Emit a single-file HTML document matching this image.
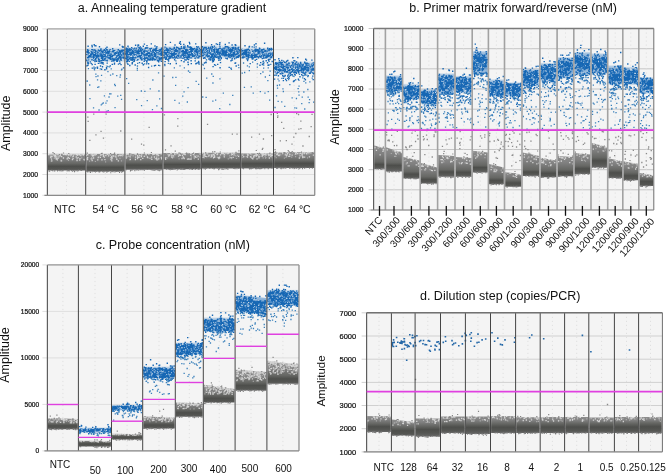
<!DOCTYPE html><html><head><meta charset="utf-8"><style>html,body{margin:0;padding:0;background:#fff;overflow:hidden}svg{display:block;font-family:"Liberation Sans",sans-serif;will-change:transform}</style></head><body><svg width="668" height="474" viewBox="0 0 668 474" font-family='"Liberation Sans", sans-serif'><defs><linearGradient id="g1" x1="0" y1="0" x2="0" y2="1"><stop offset="0.000" stop-color="#8e8e8e"/><stop offset="0.283" stop-color="#808080"/><stop offset="0.565" stop-color="#666764"/><stop offset="0.733" stop-color="#4d4e4b"/><stop offset="0.901" stop-color="#555653"/><stop offset="1.000" stop-color="#676767"/></linearGradient><linearGradient id="g2" x1="0" y1="0" x2="0" y2="1"><stop offset="0.000" stop-color="#8e8e8e"/><stop offset="0.309" stop-color="#808080"/><stop offset="0.617" stop-color="#666764"/><stop offset="0.754" stop-color="#4d4e4b"/><stop offset="0.891" stop-color="#555653"/><stop offset="1.000" stop-color="#676767"/></linearGradient><linearGradient id="g3" x1="0" y1="0" x2="0" y2="1"><stop offset="0.000" stop-color="#8e8e8e"/><stop offset="0.266" stop-color="#808080"/><stop offset="0.532" stop-color="#666764"/><stop offset="0.703" stop-color="#4d4e4b"/><stop offset="0.873" stop-color="#555653"/><stop offset="1.000" stop-color="#676767"/></linearGradient><linearGradient id="g4" x1="0" y1="0" x2="0" y2="1"><stop offset="0.000" stop-color="#8e8e8e"/><stop offset="0.272" stop-color="#808080"/><stop offset="0.543" stop-color="#666764"/><stop offset="0.710" stop-color="#4d4e4b"/><stop offset="0.877" stop-color="#555653"/><stop offset="1.000" stop-color="#676767"/></linearGradient><linearGradient id="g5" x1="0" y1="0" x2="0" y2="1"><stop offset="0.000" stop-color="#8e8e8e"/><stop offset="0.266" stop-color="#808080"/><stop offset="0.532" stop-color="#666764"/><stop offset="0.703" stop-color="#4d4e4b"/><stop offset="0.873" stop-color="#555653"/><stop offset="1.000" stop-color="#676767"/></linearGradient><linearGradient id="g6" x1="0" y1="0" x2="0" y2="1"><stop offset="0.000" stop-color="#8e8e8e"/><stop offset="0.252" stop-color="#808080"/><stop offset="0.503" stop-color="#666764"/><stop offset="0.681" stop-color="#4d4e4b"/><stop offset="0.859" stop-color="#555653"/><stop offset="1.000" stop-color="#676767"/></linearGradient><linearGradient id="g7" x1="0" y1="0" x2="0" y2="1"><stop offset="0.000" stop-color="#8e8e8e"/><stop offset="0.269" stop-color="#808080"/><stop offset="0.537" stop-color="#666764"/><stop offset="0.706" stop-color="#4d4e4b"/><stop offset="0.875" stop-color="#555653"/><stop offset="1.000" stop-color="#676767"/></linearGradient><linearGradient id="g8" x1="0" y1="0" x2="0" y2="1"><stop offset="0.000" stop-color="#1a6cbc" stop-opacity="0.0"/><stop offset="0.129" stop-color="#1a6cbc" stop-opacity="0.21"/><stop offset="0.362" stop-color="#1a6cbc" stop-opacity="0.35"/><stop offset="0.615" stop-color="#1a6cbc" stop-opacity="0.35"/><stop offset="0.871" stop-color="#1a6cbc" stop-opacity="0.21"/><stop offset="1.000" stop-color="#1a6cbc" stop-opacity="0.0"/></linearGradient><linearGradient id="g9" x1="0" y1="0" x2="0" y2="1"><stop offset="0.000" stop-color="#1a6cbc" stop-opacity="0.0"/><stop offset="0.131" stop-color="#1a6cbc" stop-opacity="0.21"/><stop offset="0.358" stop-color="#1a6cbc" stop-opacity="0.35"/><stop offset="0.610" stop-color="#1a6cbc" stop-opacity="0.35"/><stop offset="0.869" stop-color="#1a6cbc" stop-opacity="0.21"/><stop offset="1.000" stop-color="#1a6cbc" stop-opacity="0.0"/></linearGradient><linearGradient id="g10" x1="0" y1="0" x2="0" y2="1"><stop offset="0.000" stop-color="#1a6cbc" stop-opacity="0.0"/><stop offset="0.140" stop-color="#1a6cbc" stop-opacity="0.21"/><stop offset="0.373" stop-color="#1a6cbc" stop-opacity="0.35"/><stop offset="0.622" stop-color="#1a6cbc" stop-opacity="0.35"/><stop offset="0.860" stop-color="#1a6cbc" stop-opacity="0.21"/><stop offset="1.000" stop-color="#1a6cbc" stop-opacity="0.0"/></linearGradient><linearGradient id="g11" x1="0" y1="0" x2="0" y2="1"><stop offset="0.000" stop-color="#1a6cbc" stop-opacity="0.0"/><stop offset="0.138" stop-color="#1a6cbc" stop-opacity="0.21"/><stop offset="0.397" stop-color="#1a6cbc" stop-opacity="0.35"/><stop offset="0.647" stop-color="#1a6cbc" stop-opacity="0.35"/><stop offset="0.862" stop-color="#1a6cbc" stop-opacity="0.21"/><stop offset="1.000" stop-color="#1a6cbc" stop-opacity="0.0"/></linearGradient><linearGradient id="g12" x1="0" y1="0" x2="0" y2="1"><stop offset="0.000" stop-color="#1a6cbc" stop-opacity="0.0"/><stop offset="0.164" stop-color="#1a6cbc" stop-opacity="0.21"/><stop offset="0.374" stop-color="#1a6cbc" stop-opacity="0.35"/><stop offset="0.615" stop-color="#1a6cbc" stop-opacity="0.35"/><stop offset="0.836" stop-color="#1a6cbc" stop-opacity="0.21"/><stop offset="1.000" stop-color="#1a6cbc" stop-opacity="0.0"/></linearGradient><linearGradient id="g13" x1="0" y1="0" x2="0" y2="1"><stop offset="0.000" stop-color="#1a6cbc" stop-opacity="0.0"/><stop offset="0.144" stop-color="#1a6cbc" stop-opacity="0.21"/><stop offset="0.338" stop-color="#1a6cbc" stop-opacity="0.35"/><stop offset="0.586" stop-color="#1a6cbc" stop-opacity="0.35"/><stop offset="0.856" stop-color="#1a6cbc" stop-opacity="0.21"/><stop offset="1.000" stop-color="#1a6cbc" stop-opacity="0.0"/></linearGradient><linearGradient id="g14" x1="0" y1="0" x2="0" y2="1"><stop offset="0.000" stop-color="#8e8e8e"/><stop offset="0.349" stop-color="#808080"/><stop offset="0.698" stop-color="#666764"/><stop offset="0.811" stop-color="#4d4e4b"/><stop offset="0.923" stop-color="#555653"/><stop offset="1.000" stop-color="#676767"/></linearGradient><linearGradient id="g15" x1="0" y1="0" x2="0" y2="1"><stop offset="0.000" stop-color="#8e8e8e"/><stop offset="0.319" stop-color="#808080"/><stop offset="0.638" stop-color="#666764"/><stop offset="0.747" stop-color="#4d4e4b"/><stop offset="0.856" stop-color="#555653"/><stop offset="1.000" stop-color="#676767"/></linearGradient><linearGradient id="g16" x1="0" y1="0" x2="0" y2="1"><stop offset="0.000" stop-color="#8e8e8e"/><stop offset="0.336" stop-color="#808080"/><stop offset="0.673" stop-color="#666764"/><stop offset="0.795" stop-color="#4d4e4b"/><stop offset="0.917" stop-color="#555653"/><stop offset="1.000" stop-color="#676767"/></linearGradient><linearGradient id="g17" x1="0" y1="0" x2="0" y2="1"><stop offset="0.000" stop-color="#8e8e8e"/><stop offset="0.336" stop-color="#808080"/><stop offset="0.672" stop-color="#666764"/><stop offset="0.801" stop-color="#4d4e4b"/><stop offset="0.931" stop-color="#555653"/><stop offset="1.000" stop-color="#676767"/></linearGradient><linearGradient id="g18" x1="0" y1="0" x2="0" y2="1"><stop offset="0.000" stop-color="#8e8e8e"/><stop offset="0.336" stop-color="#808080"/><stop offset="0.673" stop-color="#666764"/><stop offset="0.776" stop-color="#4d4e4b"/><stop offset="0.880" stop-color="#555653"/><stop offset="1.000" stop-color="#676767"/></linearGradient><linearGradient id="g19" x1="0" y1="0" x2="0" y2="1"><stop offset="0.000" stop-color="#8e8e8e"/><stop offset="0.322" stop-color="#808080"/><stop offset="0.643" stop-color="#666764"/><stop offset="0.776" stop-color="#4d4e4b"/><stop offset="0.910" stop-color="#555653"/><stop offset="1.000" stop-color="#676767"/></linearGradient><linearGradient id="g20" x1="0" y1="0" x2="0" y2="1"><stop offset="0.000" stop-color="#8e8e8e"/><stop offset="0.336" stop-color="#808080"/><stop offset="0.673" stop-color="#666764"/><stop offset="0.774" stop-color="#4d4e4b"/><stop offset="0.876" stop-color="#555653"/><stop offset="1.000" stop-color="#676767"/></linearGradient><linearGradient id="g21" x1="0" y1="0" x2="0" y2="1"><stop offset="0.000" stop-color="#8e8e8e"/><stop offset="0.340" stop-color="#808080"/><stop offset="0.680" stop-color="#666764"/><stop offset="0.810" stop-color="#4d4e4b"/><stop offset="0.941" stop-color="#555653"/><stop offset="1.000" stop-color="#676767"/></linearGradient><linearGradient id="g22" x1="0" y1="0" x2="0" y2="1"><stop offset="0.000" stop-color="#8e8e8e"/><stop offset="0.284" stop-color="#808080"/><stop offset="0.568" stop-color="#666764"/><stop offset="0.747" stop-color="#4d4e4b"/><stop offset="0.926" stop-color="#555653"/><stop offset="1.000" stop-color="#676767"/></linearGradient><linearGradient id="g23" x1="0" y1="0" x2="0" y2="1"><stop offset="0.000" stop-color="#8e8e8e"/><stop offset="0.366" stop-color="#808080"/><stop offset="0.732" stop-color="#666764"/><stop offset="0.828" stop-color="#4d4e4b"/><stop offset="0.923" stop-color="#555653"/><stop offset="1.000" stop-color="#676767"/></linearGradient><linearGradient id="g24" x1="0" y1="0" x2="0" y2="1"><stop offset="0.000" stop-color="#8e8e8e"/><stop offset="0.328" stop-color="#808080"/><stop offset="0.656" stop-color="#666764"/><stop offset="0.795" stop-color="#4d4e4b"/><stop offset="0.933" stop-color="#555653"/><stop offset="1.000" stop-color="#676767"/></linearGradient><linearGradient id="g25" x1="0" y1="0" x2="0" y2="1"><stop offset="0.000" stop-color="#8e8e8e"/><stop offset="0.337" stop-color="#808080"/><stop offset="0.675" stop-color="#666764"/><stop offset="0.805" stop-color="#4d4e4b"/><stop offset="0.936" stop-color="#555653"/><stop offset="1.000" stop-color="#676767"/></linearGradient><linearGradient id="g26" x1="0" y1="0" x2="0" y2="1"><stop offset="0.000" stop-color="#8e8e8e"/><stop offset="0.309" stop-color="#808080"/><stop offset="0.617" stop-color="#666764"/><stop offset="0.749" stop-color="#4d4e4b"/><stop offset="0.880" stop-color="#555653"/><stop offset="1.000" stop-color="#676767"/></linearGradient><linearGradient id="g27" x1="0" y1="0" x2="0" y2="1"><stop offset="0.000" stop-color="#8e8e8e"/><stop offset="0.292" stop-color="#808080"/><stop offset="0.585" stop-color="#666764"/><stop offset="0.720" stop-color="#4d4e4b"/><stop offset="0.855" stop-color="#555653"/><stop offset="1.000" stop-color="#676767"/></linearGradient><linearGradient id="g28" x1="0" y1="0" x2="0" y2="1"><stop offset="0.000" stop-color="#8e8e8e"/><stop offset="0.292" stop-color="#808080"/><stop offset="0.584" stop-color="#666764"/><stop offset="0.734" stop-color="#4d4e4b"/><stop offset="0.883" stop-color="#555653"/><stop offset="1.000" stop-color="#676767"/></linearGradient><linearGradient id="g29" x1="0" y1="0" x2="0" y2="1"><stop offset="0.000" stop-color="#8e8e8e"/><stop offset="0.305" stop-color="#808080"/><stop offset="0.611" stop-color="#666764"/><stop offset="0.766" stop-color="#4d4e4b"/><stop offset="0.921" stop-color="#555653"/><stop offset="1.000" stop-color="#676767"/></linearGradient><linearGradient id="g30" x1="0" y1="0" x2="0" y2="1"><stop offset="0.000" stop-color="#8e8e8e"/><stop offset="0.219" stop-color="#808080"/><stop offset="0.438" stop-color="#666764"/><stop offset="0.665" stop-color="#4d4e4b"/><stop offset="0.892" stop-color="#555653"/><stop offset="1.000" stop-color="#676767"/></linearGradient><linearGradient id="g31" x1="0" y1="0" x2="0" y2="1"><stop offset="0.000" stop-color="#1a6cbc" stop-opacity="0.0"/><stop offset="0.115" stop-color="#1a6cbc" stop-opacity="0.36"/><stop offset="0.330" stop-color="#1a6cbc" stop-opacity="0.6"/><stop offset="0.589" stop-color="#1a6cbc" stop-opacity="0.6"/><stop offset="0.885" stop-color="#1a6cbc" stop-opacity="0.36"/><stop offset="1.000" stop-color="#1a6cbc" stop-opacity="0.0"/></linearGradient><linearGradient id="g32" x1="0" y1="0" x2="0" y2="1"><stop offset="0.000" stop-color="#1a6cbc" stop-opacity="0.0"/><stop offset="0.118" stop-color="#1a6cbc" stop-opacity="0.36"/><stop offset="0.340" stop-color="#1a6cbc" stop-opacity="0.6"/><stop offset="0.598" stop-color="#1a6cbc" stop-opacity="0.6"/><stop offset="0.882" stop-color="#1a6cbc" stop-opacity="0.36"/><stop offset="1.000" stop-color="#1a6cbc" stop-opacity="0.0"/></linearGradient><linearGradient id="g33" x1="0" y1="0" x2="0" y2="1"><stop offset="0.000" stop-color="#1a6cbc" stop-opacity="0.0"/><stop offset="0.126" stop-color="#1a6cbc" stop-opacity="0.36"/><stop offset="0.384" stop-color="#1a6cbc" stop-opacity="0.6"/><stop offset="0.638" stop-color="#1a6cbc" stop-opacity="0.6"/><stop offset="0.874" stop-color="#1a6cbc" stop-opacity="0.36"/><stop offset="1.000" stop-color="#1a6cbc" stop-opacity="0.0"/></linearGradient><linearGradient id="g34" x1="0" y1="0" x2="0" y2="1"><stop offset="0.000" stop-color="#1a6cbc" stop-opacity="0.0"/><stop offset="0.091" stop-color="#1a6cbc" stop-opacity="0.36"/><stop offset="0.406" stop-color="#1a6cbc" stop-opacity="0.6"/><stop offset="0.674" stop-color="#1a6cbc" stop-opacity="0.6"/><stop offset="0.909" stop-color="#1a6cbc" stop-opacity="0.36"/><stop offset="1.000" stop-color="#1a6cbc" stop-opacity="0.0"/></linearGradient><linearGradient id="g35" x1="0" y1="0" x2="0" y2="1"><stop offset="0.000" stop-color="#1a6cbc" stop-opacity="0.0"/><stop offset="0.109" stop-color="#1a6cbc" stop-opacity="0.36"/><stop offset="0.332" stop-color="#1a6cbc" stop-opacity="0.6"/><stop offset="0.592" stop-color="#1a6cbc" stop-opacity="0.6"/><stop offset="0.891" stop-color="#1a6cbc" stop-opacity="0.36"/><stop offset="1.000" stop-color="#1a6cbc" stop-opacity="0.0"/></linearGradient><linearGradient id="g36" x1="0" y1="0" x2="0" y2="1"><stop offset="0.000" stop-color="#1a6cbc" stop-opacity="0.0"/><stop offset="0.080" stop-color="#1a6cbc" stop-opacity="0.36"/><stop offset="0.357" stop-color="#1a6cbc" stop-opacity="0.6"/><stop offset="0.629" stop-color="#1a6cbc" stop-opacity="0.6"/><stop offset="0.920" stop-color="#1a6cbc" stop-opacity="0.36"/><stop offset="1.000" stop-color="#1a6cbc" stop-opacity="0.0"/></linearGradient><linearGradient id="g37" x1="0" y1="0" x2="0" y2="1"><stop offset="0.000" stop-color="#1a6cbc" stop-opacity="0.0"/><stop offset="0.109" stop-color="#1a6cbc" stop-opacity="0.36"/><stop offset="0.389" stop-color="#1a6cbc" stop-opacity="0.6"/><stop offset="0.649" stop-color="#1a6cbc" stop-opacity="0.6"/><stop offset="0.891" stop-color="#1a6cbc" stop-opacity="0.36"/><stop offset="1.000" stop-color="#1a6cbc" stop-opacity="0.0"/></linearGradient><linearGradient id="g38" x1="0" y1="0" x2="0" y2="1"><stop offset="0.000" stop-color="#1a6cbc" stop-opacity="0.0"/><stop offset="0.130" stop-color="#1a6cbc" stop-opacity="0.36"/><stop offset="0.396" stop-color="#1a6cbc" stop-opacity="0.6"/><stop offset="0.649" stop-color="#1a6cbc" stop-opacity="0.6"/><stop offset="0.870" stop-color="#1a6cbc" stop-opacity="0.36"/><stop offset="1.000" stop-color="#1a6cbc" stop-opacity="0.0"/></linearGradient><linearGradient id="g39" x1="0" y1="0" x2="0" y2="1"><stop offset="0.000" stop-color="#1a6cbc" stop-opacity="0.0"/><stop offset="0.106" stop-color="#1a6cbc" stop-opacity="0.36"/><stop offset="0.378" stop-color="#1a6cbc" stop-opacity="0.6"/><stop offset="0.640" stop-color="#1a6cbc" stop-opacity="0.6"/><stop offset="0.894" stop-color="#1a6cbc" stop-opacity="0.36"/><stop offset="1.000" stop-color="#1a6cbc" stop-opacity="0.0"/></linearGradient><linearGradient id="g40" x1="0" y1="0" x2="0" y2="1"><stop offset="0.000" stop-color="#1a6cbc" stop-opacity="0.0"/><stop offset="0.101" stop-color="#1a6cbc" stop-opacity="0.36"/><stop offset="0.359" stop-color="#1a6cbc" stop-opacity="0.6"/><stop offset="0.623" stop-color="#1a6cbc" stop-opacity="0.6"/><stop offset="0.899" stop-color="#1a6cbc" stop-opacity="0.36"/><stop offset="1.000" stop-color="#1a6cbc" stop-opacity="0.0"/></linearGradient><linearGradient id="g41" x1="0" y1="0" x2="0" y2="1"><stop offset="0.000" stop-color="#1a6cbc" stop-opacity="0.0"/><stop offset="0.088" stop-color="#1a6cbc" stop-opacity="0.36"/><stop offset="0.309" stop-color="#1a6cbc" stop-opacity="0.6"/><stop offset="0.577" stop-color="#1a6cbc" stop-opacity="0.6"/><stop offset="0.912" stop-color="#1a6cbc" stop-opacity="0.36"/><stop offset="1.000" stop-color="#1a6cbc" stop-opacity="0.0"/></linearGradient><linearGradient id="g42" x1="0" y1="0" x2="0" y2="1"><stop offset="0.000" stop-color="#1a6cbc" stop-opacity="0.0"/><stop offset="0.080" stop-color="#1a6cbc" stop-opacity="0.36"/><stop offset="0.301" stop-color="#1a6cbc" stop-opacity="0.6"/><stop offset="0.572" stop-color="#1a6cbc" stop-opacity="0.6"/><stop offset="0.920" stop-color="#1a6cbc" stop-opacity="0.36"/><stop offset="1.000" stop-color="#1a6cbc" stop-opacity="0.0"/></linearGradient><linearGradient id="g43" x1="0" y1="0" x2="0" y2="1"><stop offset="0.000" stop-color="#1a6cbc" stop-opacity="0.0"/><stop offset="0.091" stop-color="#1a6cbc" stop-opacity="0.36"/><stop offset="0.326" stop-color="#1a6cbc" stop-opacity="0.6"/><stop offset="0.594" stop-color="#1a6cbc" stop-opacity="0.6"/><stop offset="0.909" stop-color="#1a6cbc" stop-opacity="0.36"/><stop offset="1.000" stop-color="#1a6cbc" stop-opacity="0.0"/></linearGradient><linearGradient id="g44" x1="0" y1="0" x2="0" y2="1"><stop offset="0.000" stop-color="#1a6cbc" stop-opacity="0.0"/><stop offset="0.098" stop-color="#1a6cbc" stop-opacity="0.36"/><stop offset="0.368" stop-color="#1a6cbc" stop-opacity="0.6"/><stop offset="0.632" stop-color="#1a6cbc" stop-opacity="0.6"/><stop offset="0.902" stop-color="#1a6cbc" stop-opacity="0.36"/><stop offset="1.000" stop-color="#1a6cbc" stop-opacity="0.0"/></linearGradient><linearGradient id="g45" x1="0" y1="0" x2="0" y2="1"><stop offset="0.000" stop-color="#1a6cbc" stop-opacity="0.0"/><stop offset="0.103" stop-color="#1a6cbc" stop-opacity="0.36"/><stop offset="0.387" stop-color="#1a6cbc" stop-opacity="0.6"/><stop offset="0.649" stop-color="#1a6cbc" stop-opacity="0.6"/><stop offset="0.897" stop-color="#1a6cbc" stop-opacity="0.36"/><stop offset="1.000" stop-color="#1a6cbc" stop-opacity="0.0"/></linearGradient><linearGradient id="g46" x1="0" y1="0" x2="0" y2="1"><stop offset="0.000" stop-color="#1a6cbc" stop-opacity="0.0"/><stop offset="0.115" stop-color="#1a6cbc" stop-opacity="0.36"/><stop offset="0.371" stop-color="#1a6cbc" stop-opacity="0.6"/><stop offset="0.629" stop-color="#1a6cbc" stop-opacity="0.6"/><stop offset="0.885" stop-color="#1a6cbc" stop-opacity="0.36"/><stop offset="1.000" stop-color="#1a6cbc" stop-opacity="0.0"/></linearGradient><linearGradient id="g47" x1="0" y1="0" x2="0" y2="1"><stop offset="0.000" stop-color="#8e8e8e"/><stop offset="0.250" stop-color="#808080"/><stop offset="0.500" stop-color="#666764"/><stop offset="0.696" stop-color="#4d4e4b"/><stop offset="0.893" stop-color="#555653"/><stop offset="1.000" stop-color="#676767"/></linearGradient><linearGradient id="g48" x1="0" y1="0" x2="0" y2="1"><stop offset="0.000" stop-color="#8e8e8e"/><stop offset="0.110" stop-color="#808080"/><stop offset="0.220" stop-color="#666764"/><stop offset="0.542" stop-color="#4d4e4b"/><stop offset="0.864" stop-color="#555653"/><stop offset="1.000" stop-color="#676767"/></linearGradient><linearGradient id="g49" x1="0" y1="0" x2="0" y2="1"><stop offset="0.000" stop-color="#8e8e8e"/><stop offset="0.147" stop-color="#808080"/><stop offset="0.293" stop-color="#666764"/><stop offset="0.569" stop-color="#4d4e4b"/><stop offset="0.845" stop-color="#555653"/><stop offset="1.000" stop-color="#676767"/></linearGradient><linearGradient id="g50" x1="0" y1="0" x2="0" y2="1"><stop offset="0.000" stop-color="#8e8e8e"/><stop offset="0.250" stop-color="#808080"/><stop offset="0.500" stop-color="#666764"/><stop offset="0.708" stop-color="#4d4e4b"/><stop offset="0.917" stop-color="#555653"/><stop offset="1.000" stop-color="#676767"/></linearGradient><linearGradient id="g51" x1="0" y1="0" x2="0" y2="1"><stop offset="0.000" stop-color="#8e8e8e"/><stop offset="0.255" stop-color="#808080"/><stop offset="0.510" stop-color="#666764"/><stop offset="0.713" stop-color="#4d4e4b"/><stop offset="0.916" stop-color="#555653"/><stop offset="1.000" stop-color="#676767"/></linearGradient><linearGradient id="g52" x1="0" y1="0" x2="0" y2="1"><stop offset="0.000" stop-color="#8e8e8e"/><stop offset="0.285" stop-color="#808080"/><stop offset="0.570" stop-color="#666764"/><stop offset="0.757" stop-color="#4d4e4b"/><stop offset="0.944" stop-color="#555653"/><stop offset="1.000" stop-color="#676767"/></linearGradient><linearGradient id="g53" x1="0" y1="0" x2="0" y2="1"><stop offset="0.000" stop-color="#8e8e8e"/><stop offset="0.299" stop-color="#808080"/><stop offset="0.598" stop-color="#666764"/><stop offset="0.758" stop-color="#4d4e4b"/><stop offset="0.919" stop-color="#555653"/><stop offset="1.000" stop-color="#676767"/></linearGradient><linearGradient id="g54" x1="0" y1="0" x2="0" y2="1"><stop offset="0.000" stop-color="#8e8e8e"/><stop offset="0.318" stop-color="#808080"/><stop offset="0.636" stop-color="#666764"/><stop offset="0.784" stop-color="#4d4e4b"/><stop offset="0.931" stop-color="#555653"/><stop offset="1.000" stop-color="#676767"/></linearGradient><linearGradient id="g55" x1="0" y1="0" x2="0" y2="1"><stop offset="0.000" stop-color="#1a6cbc" stop-opacity="0.0"/><stop offset="0.317" stop-color="#1a6cbc" stop-opacity="0.36"/><stop offset="0.390" stop-color="#1a6cbc" stop-opacity="0.6"/><stop offset="0.576" stop-color="#1a6cbc" stop-opacity="0.6"/><stop offset="0.683" stop-color="#1a6cbc" stop-opacity="0.36"/><stop offset="1.000" stop-color="#1a6cbc" stop-opacity="0.0"/></linearGradient><linearGradient id="g56" x1="0" y1="0" x2="0" y2="1"><stop offset="0.000" stop-color="#1a6cbc" stop-opacity="0.0"/><stop offset="0.290" stop-color="#1a6cbc" stop-opacity="0.36"/><stop offset="0.407" stop-color="#1a6cbc" stop-opacity="0.6"/><stop offset="0.603" stop-color="#1a6cbc" stop-opacity="0.6"/><stop offset="0.710" stop-color="#1a6cbc" stop-opacity="0.36"/><stop offset="1.000" stop-color="#1a6cbc" stop-opacity="0.0"/></linearGradient><linearGradient id="g57" x1="0" y1="0" x2="0" y2="1"><stop offset="0.000" stop-color="#1a6cbc" stop-opacity="0.0"/><stop offset="0.152" stop-color="#1a6cbc" stop-opacity="0.36"/><stop offset="0.345" stop-color="#1a6cbc" stop-opacity="0.6"/><stop offset="0.591" stop-color="#1a6cbc" stop-opacity="0.6"/><stop offset="0.848" stop-color="#1a6cbc" stop-opacity="0.36"/><stop offset="1.000" stop-color="#1a6cbc" stop-opacity="0.0"/></linearGradient><linearGradient id="g58" x1="0" y1="0" x2="0" y2="1"><stop offset="0.000" stop-color="#1a6cbc" stop-opacity="0.0"/><stop offset="0.146" stop-color="#1a6cbc" stop-opacity="0.36"/><stop offset="0.333" stop-color="#1a6cbc" stop-opacity="0.6"/><stop offset="0.580" stop-color="#1a6cbc" stop-opacity="0.6"/><stop offset="0.854" stop-color="#1a6cbc" stop-opacity="0.36"/><stop offset="1.000" stop-color="#1a6cbc" stop-opacity="0.0"/></linearGradient><linearGradient id="g59" x1="0" y1="0" x2="0" y2="1"><stop offset="0.000" stop-color="#1a6cbc" stop-opacity="0.0"/><stop offset="0.132" stop-color="#1a6cbc" stop-opacity="0.36"/><stop offset="0.392" stop-color="#1a6cbc" stop-opacity="0.6"/><stop offset="0.645" stop-color="#1a6cbc" stop-opacity="0.6"/><stop offset="0.868" stop-color="#1a6cbc" stop-opacity="0.36"/><stop offset="1.000" stop-color="#1a6cbc" stop-opacity="0.0"/></linearGradient><linearGradient id="g60" x1="0" y1="0" x2="0" y2="1"><stop offset="0.000" stop-color="#1a6cbc" stop-opacity="0.0"/><stop offset="0.115" stop-color="#1a6cbc" stop-opacity="0.36"/><stop offset="0.371" stop-color="#1a6cbc" stop-opacity="0.6"/><stop offset="0.629" stop-color="#1a6cbc" stop-opacity="0.6"/><stop offset="0.885" stop-color="#1a6cbc" stop-opacity="0.36"/><stop offset="1.000" stop-color="#1a6cbc" stop-opacity="0.0"/></linearGradient><linearGradient id="g61" x1="0" y1="0" x2="0" y2="1"><stop offset="0.000" stop-color="#1a6cbc" stop-opacity="0.0"/><stop offset="0.120" stop-color="#1a6cbc" stop-opacity="0.36"/><stop offset="0.355" stop-color="#1a6cbc" stop-opacity="0.6"/><stop offset="0.611" stop-color="#1a6cbc" stop-opacity="0.6"/><stop offset="0.880" stop-color="#1a6cbc" stop-opacity="0.36"/><stop offset="1.000" stop-color="#1a6cbc" stop-opacity="0.0"/></linearGradient><linearGradient id="g62" x1="0" y1="0" x2="0" y2="1"><stop offset="0.000" stop-color="#8e8e8e"/><stop offset="0.239" stop-color="#808080"/><stop offset="0.478" stop-color="#666764"/><stop offset="0.664" stop-color="#4d4e4b"/><stop offset="0.849" stop-color="#555653"/><stop offset="1.000" stop-color="#676767"/></linearGradient><linearGradient id="g63" x1="0" y1="0" x2="0" y2="1"><stop offset="0.000" stop-color="#8e8e8e"/><stop offset="0.239" stop-color="#808080"/><stop offset="0.478" stop-color="#666764"/><stop offset="0.701" stop-color="#4d4e4b"/><stop offset="0.925" stop-color="#555653"/><stop offset="1.000" stop-color="#676767"/></linearGradient><linearGradient id="g64" x1="0" y1="0" x2="0" y2="1"><stop offset="0.000" stop-color="#8e8e8e"/><stop offset="0.208" stop-color="#808080"/><stop offset="0.417" stop-color="#666764"/><stop offset="0.611" stop-color="#4d4e4b"/><stop offset="0.806" stop-color="#555653"/><stop offset="1.000" stop-color="#676767"/></linearGradient><linearGradient id="g65" x1="0" y1="0" x2="0" y2="1"><stop offset="0.000" stop-color="#8e8e8e"/><stop offset="0.218" stop-color="#808080"/><stop offset="0.436" stop-color="#666764"/><stop offset="0.648" stop-color="#4d4e4b"/><stop offset="0.861" stop-color="#555653"/><stop offset="1.000" stop-color="#676767"/></linearGradient><linearGradient id="g66" x1="0" y1="0" x2="0" y2="1"><stop offset="0.000" stop-color="#8e8e8e"/><stop offset="0.214" stop-color="#808080"/><stop offset="0.429" stop-color="#666764"/><stop offset="0.620" stop-color="#4d4e4b"/><stop offset="0.811" stop-color="#555653"/><stop offset="1.000" stop-color="#676767"/></linearGradient><linearGradient id="g67" x1="0" y1="0" x2="0" y2="1"><stop offset="0.000" stop-color="#8e8e8e"/><stop offset="0.225" stop-color="#808080"/><stop offset="0.450" stop-color="#666764"/><stop offset="0.657" stop-color="#4d4e4b"/><stop offset="0.864" stop-color="#555653"/><stop offset="1.000" stop-color="#676767"/></linearGradient><linearGradient id="g68" x1="0" y1="0" x2="0" y2="1"><stop offset="0.000" stop-color="#8e8e8e"/><stop offset="0.206" stop-color="#808080"/><stop offset="0.411" stop-color="#666764"/><stop offset="0.633" stop-color="#4d4e4b"/><stop offset="0.854" stop-color="#555653"/><stop offset="1.000" stop-color="#676767"/></linearGradient><linearGradient id="g69" x1="0" y1="0" x2="0" y2="1"><stop offset="0.000" stop-color="#8e8e8e"/><stop offset="0.203" stop-color="#808080"/><stop offset="0.406" stop-color="#666764"/><stop offset="0.625" stop-color="#4d4e4b"/><stop offset="0.844" stop-color="#555653"/><stop offset="1.000" stop-color="#676767"/></linearGradient><linearGradient id="g70" x1="0" y1="0" x2="0" y2="1"><stop offset="0.000" stop-color="#8e8e8e"/><stop offset="0.203" stop-color="#808080"/><stop offset="0.406" stop-color="#666764"/><stop offset="0.625" stop-color="#4d4e4b"/><stop offset="0.844" stop-color="#555653"/><stop offset="1.000" stop-color="#676767"/></linearGradient><linearGradient id="g71" x1="0" y1="0" x2="0" y2="1"><stop offset="0.000" stop-color="#8e8e8e"/><stop offset="0.194" stop-color="#808080"/><stop offset="0.387" stop-color="#666764"/><stop offset="0.613" stop-color="#4d4e4b"/><stop offset="0.839" stop-color="#555653"/><stop offset="1.000" stop-color="#676767"/></linearGradient><linearGradient id="g72" x1="0" y1="0" x2="0" y2="1"><stop offset="0.000" stop-color="#8e8e8e"/><stop offset="0.203" stop-color="#808080"/><stop offset="0.406" stop-color="#666764"/><stop offset="0.625" stop-color="#4d4e4b"/><stop offset="0.844" stop-color="#555653"/><stop offset="1.000" stop-color="#676767"/></linearGradient><linearGradient id="g73" x1="0" y1="0" x2="0" y2="1"><stop offset="0.000" stop-color="#8e8e8e"/><stop offset="0.188" stop-color="#808080"/><stop offset="0.375" stop-color="#666764"/><stop offset="0.609" stop-color="#4d4e4b"/><stop offset="0.844" stop-color="#555653"/><stop offset="1.000" stop-color="#676767"/></linearGradient></defs><rect width="668" height="474" fill="#fff"/><g fill="none"><rect x="47.4" y="28.9" width="267.4" height="166.4" fill="#f4f4f4"/><path d="M42.4 195.3H314.8" stroke="#dfdfdf" stroke-width="1"/><path d="M42.4 174.5H314.8" stroke="#dfdfdf" stroke-width="1"/><path d="M42.4 153.7H314.8" stroke="#dfdfdf" stroke-width="1"/><path d="M42.4 132.9H314.8" stroke="#dfdfdf" stroke-width="1"/><path d="M42.4 112.1H314.8" stroke="#dfdfdf" stroke-width="1"/><path d="M42.4 91.3H314.8" stroke="#dfdfdf" stroke-width="1"/><path d="M42.4 70.5H314.8" stroke="#dfdfdf" stroke-width="1"/><path d="M42.4 49.7H314.8" stroke="#dfdfdf" stroke-width="1"/><path d="M42.4 28.9H314.8" stroke="#dfdfdf" stroke-width="1"/><path d="M66.5 28.9V195.3" stroke="#e0e0e0" stroke-width="1" stroke-dasharray="1.2 2.8"/><path d="M105.3 28.9V195.3" stroke="#e0e0e0" stroke-width="1" stroke-dasharray="1.2 2.8"/><path d="M143.9 28.9V195.3" stroke="#e0e0e0" stroke-width="1" stroke-dasharray="1.2 2.8"/><path d="M182.1 28.9V195.3" stroke="#e0e0e0" stroke-width="1" stroke-dasharray="1.2 2.8"/><path d="M221 28.9V195.3" stroke="#e0e0e0" stroke-width="1" stroke-dasharray="1.2 2.8"/><path d="M257.1 28.9V195.3" stroke="#e0e0e0" stroke-width="1" stroke-dasharray="1.2 2.8"/><path d="M294.1 28.9V195.3" stroke="#e0e0e0" stroke-width="1" stroke-dasharray="1.2 2.8"/><path d="M48 154.5L85.1 154.5V170.6H48z" fill="url(#g1)"/><path d="M48 154.7h1.3m8.2 0h1.3m.6 0h1.3m2.5 0h1.3m.4 0h1.3m-.3 0h1.3m9 0h1.3m5 0h1.3m-15.8 .1h1.3m1.3 0h1.3m6.6 0h1.3m-1 0h1.3m-3.3 .1h1.3m-24.8 .2h1.3m4.4 0h1.3m10 0h1.3m11.2 .1h1.3m-7.4 .1h1.3m-23.2 .3h1.3m24.1 0h1.3m-26.8 .3h1.3m3.8 0h1.3m11.6 0h1.3m-20.2 .1h1.3m-4.8 .3h1.3m-.2 .3h1.3m8.3 .1h1.3m10.1 0h1.3m-17.5 .1h1.3m.8 0h1.3m16 .2h1.3m-22.3 .2h1.3m-5.8 .3h1.3m16.3 .2h1.3m8.4 0h1.3m-15.9 .3h1.3m-6.7 .4h1.3m10.1 0h1.3m-14.2 .1h1.3m15.2 .1h1.3m5.6 .1h1.3m-13.8 .1h1.3m8.3 0h1.3m-11.2 .1h1.3m-12.1 .1h1.3m-6.1 .2h1.3m31.2 .1h1.3m-12.9 .4h1.3m-16.4 .1h1.3m21.1 .4h1.3m-4 .4h1.3m-26.5 .3h1.3m8.4 0h1.3" stroke="#f2f2f2" stroke-width="1.3" stroke-opacity="0.75"/><path d="M59.6 154.7h1.2m12.7 0h1.2m.1 0h1.2m5.6 0h1.2m-32.9 .1h1.2m15 .1h1.2m-18.9 .1h1.2m1.8 0h1.2m4.9 .2h1.2m10.4 0h1.2m6.7 0h1.2m-10.3 .5h1.2m-13.1 .1h1.2m-5.7 .2h1.2m17.2 .1h1.2m.7 .9h1.2m-5.9 .2h1.2m-13.7 .1h1.2m25.3 .6h1.2m-15 .1h1.2m-1.7 .2h1.2m-14.3 .2h1.2m.3 .3h1.2m4.1 1.4h1.2m22 .2h1.2m-17 .1h1.2m-8.9 .4h1.2m-10.7 .3h1.2" stroke="#c8c8c8" stroke-width="1.2" stroke-opacity="0.6"/><path d="M52.4 152.6h1.2m9.3 .4h1.2m4.1 .5h1.2m-15.7 .1h1.2m6.3 .7h1.2m-3.7 .3h1.2" stroke="#858585" stroke-width="1.2"/><path d="M67.4 170.2h1.1m-17.2 .1h1.1m5.9 0h1.1m9.2 0h1.1m8.3 0h1.1m-16.7 .1h1.1m-1.1 0h1.1m16.9 0h1.1m-.4 0h1.1m-25.2 .1h1.1m12.9 0h1.1m.9 0h1.1m-5.9 .1h1.1m5.2 0h1.1m.7 0h1.1m-25.4 .2h1.1m6 0h1.1m-.3 0h1.1m1.5 0h1.1m9 0h1.1m.6 0h1.1m-21.2 .1h1.1m6 0h1.1m6.2 0h1.1m-20.7 .1h1.1m3.6 0h1.1m2.2 0h1.1m8.5 0h1.1m9.6 0h1.1m-6.6 .1h1.1m-24.3 .1h1.1m-.6 .1h1.1m23.8 .3h1.1" stroke="#7c7c7c" stroke-width="1.1"/><path d="M86.3 154L124.3 154V171.5H86.3z" fill="url(#g2)"/><path d="M91.3 154.2h1.3m7.9 0h1.3m5.3 0h1.3m-14.8 .1h1.3m7.6 0h1.3m-16.9 .1h1.3m7.4 0h1.3m5.3 0h1.3m3.2 0h1.3m7.6 0h1.3m-25.6 .2h1.3m29.6 .1h1.3m-13.7 .1h1.3m-16.1 .1h1.3m4.2 0h1.3m-1.9 .2h1.3m21 0h1.3m-31.6 .1h1.3m25.5 0h1.3m-33.9 .1h1.3m5.9 0h1.3m8.4 0h1.3m16.3 0h1.3m-16.7 .2h1.3m13.2 0h1.3m-27.9 .2h1.3m13.5 .1h1.3m8.5 0h1.3m-6.3 .2h1.3m.5 .1h1.3m-23.7 .1h1.3m9.4 .1h1.3m6.9 .3h1.3m-8.6 .6h1.3m10.4 0h1.3m-17 .2h1.3m-3.4 .1h1.3m11.6 .1h1.3m-24.8 .1h1.3m4.6 .2h1.3m16.7 0h1.3m-.8 .1h1.3m-26.2 .9h1.3m3.4 .1h1.3m23.7 .4h1.3m-30.6 .1h1.3m22.2 0h1.3m-7.4 .2h1.3m-4.3 .1h1.3m-5.5 .1h1.3m-6.9 .7h1.3m18.4 .2h1.3m5.2 .1h1.3" stroke="#f2f2f2" stroke-width="1.3" stroke-opacity="0.75"/><path d="M90 154.2h1.2m1.9 0h1.2m13.3 0h1.2m-18 .1h1.2m1.7 0h1.2m-2.6 .2h1.2m16.4 0h1.2m-2.4 .2h1.2m-22.2 .1h1.2m31 .1h1.2m-.2 0h1.2m-20.1 .1h1.2m8.4 .4h1.2m-22.1 .2h1.2m23.8 .2h1.2m4.8 .4h1.2m-24.7 .7h1.2m12.1 0h1.2m-1 .1h1.2m-2.6 .4h1.2m-20.4 .3h1.2m.7 .7h1.2m25.2 0h1.2m-4.6 .3h1.2m-27.1 .1h1.2m20.3 .1h1.2m8.1 1.9h1.2m-33.1 .4h1.2m4.6 .3h1.2m9 .4h1.2" stroke="#c8c8c8" stroke-width="1.2" stroke-opacity="0.6"/><path d="M86.7 153.1h1.2m26.1 0h1.2m-13.7 .3h1.2m-2 .1h1.2m8.1 .2h1.2m2.4 .3h1.2" stroke="#858585" stroke-width="1.2"/><path d="M86.4 171.2h1.1m8.6 0h1.1m7.2 0h1.1m6.4 0h1.1m4.8 0h1.1m-16.8 .1h1.1m7.7 0h1.1m3.3 0h1.1m1.7 0h1.1m-11.6 .1h1.1m13.3 0h1.1m-29.6 .1h1.1m-.9 0h1.1m1.4 0h1.1m1.6 0h1.1m-.6 0h1.1m15.9 0h1.1m-30.3 .1h1.1m9.8 .1h1.1m-7.6 .1h1.1m9.8 0h1.1m8.9 0h1.1m-26.3 .1h1.1m1.2 0h1.1m4.2 0h1.1m10.5 0h1.1m-8.5 .1h1.1m3.1 0h1.1m1.6 0h1.1m7.3 0h1.1m5.7 .1h1.1m-32.4 .3h1.1m28 0h1.1m-9.9 .4h1.1" stroke="#7c7c7c" stroke-width="1.1"/><path d="M125.5 154L162.2 154V169.8H125.5z" fill="url(#g3)"/><path d="M127.9 154.2h1.3m5.9 0h1.3m11.8 0h1.3m3.9 0h1.3m-29 .1h1.3m.2 0h1.3m6 0h1.3m-1.2 0h1.3m-.5 0h1.3m8.8 0h1.3m6.7 0h1.3m1.3 0h1.3m-.1 .1h1.3m-28.5 .1h1.3m24.8 0h1.3m-5.4 .2h1.3m2.3 0h1.3m-15.9 .2h1.3m-3.3 .6h1.3m-3.4 .1h1.3m19.3 .1h1.3m-1.2 0h1.3m-33.6 .3h1.3m17.1 .3h1.3m-4.3 .1h1.3m-12.6 .5h1.3m6.4 .1h1.3m8.3 0h1.3m5.7 0h1.3m-4.1 .1h1.3m-26.9 .1h1.3m8.2 0h1.3m2.2 .2h1.3m21.2 .1h1.3m-15.3 .1h1.3m-22.6 .6h1.3m29.2 0h1.3m-15.3 .1h1.3m-6.5 .2h1.3m17.1 .1h1.3m1.5 .3h1.3m1.6 0h1.3m-32.6 .4h1.3m20.2 0h1.3m-17.7 .2h1.3m20.2 0h1.3m-17.5 .2h1.3" stroke="#f2f2f2" stroke-width="1.3" stroke-opacity="0.75"/><path d="M160.8 154.2h1.2m-10 .1h1.2m7.2 0h1.2m-26.5 .1h1.2m8.9 .1h1.2m-8.2 .1h1.2m16.7 0h1.2m-29.4 .4h1.2m6.1 .1h1.2m-3.9 .1h1.2m-3.4 .2h1.2m14.1 0h1.2m11.5 .1h1.2m-20.3 .4h1.2m-7.9 .1h1.2m-5 .2h1.2m13.6 .1h1.2m11.4 0h1.2m-29.7 .2h1.2m8.1 0h1.2m-11.6 .7h1.2m12.8 .3h1.2m14.2 .1h1.2m3.5 0h1.2m-13.4 .2h1.2m.7 .3h1.2m6.6 0h1.2m-10.2 .4h1.2m4 .4h1.2m-4.7 .5h1.2m5.4 .2h1.2m-29.2 .3h1.2m25.9 .2h1.2" stroke="#c8c8c8" stroke-width="1.2" stroke-opacity="0.6"/><path d="M140.9 144.2h1.2m8.7 8.3h1.2m-8.2 .5h1.2m-8.1 .8h1.2m-9.2 .1h1.2m.1 .1h1.2" stroke="#858585" stroke-width="1.2"/><path d="M155.4 169.4h1.1m-9.7 .1h1.1m2.3 0h1.1m-.8 0h1.1m5.2 0h1.1m-31.9 .1h1.1m9.8 0h1.1m1.9 0h1.1m15.5 0h1.1m-21.2 .1h1.1m5.2 0h1.1m11.2 0h1.1m-23.8 .1h1.1m2.3 0h1.1m4.4 0h1.1m-.4 0h1.1m7.7 0h1.1m-15.6 .1h1.1m14.5 0h1.1m-22.9 .1h1.1m0 0h1.1m20.2 0h1.1m4.5 0h1.1m-27.7 .1h1.1m21 0h1.1m2.9 0h1.1m-20.4 .1h1.1m15 0h1.1m-11.5 .1h1.1m15.3 0h1.1m-27.1 .3h1.1m23.4 0h1.1m-30 .3h1.1" stroke="#7c7c7c" stroke-width="1.1"/><path d="M163.4 153L200.8 153V169.2H163.4z" fill="url(#g4)"/><path d="M178.5 153.2h1.3m1.4 0h1.3m1.3 0h1.3m-14.9 .1h1.3m18.3 0h1.3m-14.6 .1h1.3m-.6 0h1.3m0 0h1.3m-9 .1h1.3m10.8 0h1.3m6.4 0h1.3m-17.7 .1h1.3m18.2 0h1.3m-17.2 .1h1.3m14 .2h1.3m5.1 .1h1.3m-26.8 .2h1.3m7.9 0h1.3m8.1 .1h1.3m-9.4 .3h1.3m-16.6 .3h1.3m8.4 .1h1.3m-11.7 .1h1.3m9.8 .2h1.3m-9.6 .1h1.3m9.2 0h1.3m6.9 0h1.3m-18.4 .4h1.3m-6 .1h1.3m8.4 .2h1.3m15 0h1.3m2 0h1.3m-4.1 .5h1.3m-13.5 .2h1.3m-12.7 .3h1.3m-.8 0h1.3m22.4 .2h1.3m-13.6 .6h1.3m-19.4 .1h1.3m17.4 .3h1.3m-3.5 .2h1.3m.9 .1h1.3m3.1 .4h1.3m-2.5 .1h1.3m1.3 .1h1.3m-.4 0h1.3m6.1 0h1.3m-34 .1h1.3" stroke="#f2f2f2" stroke-width="1.3" stroke-opacity="0.75"/><path d="M171 153.2h1.2m15.2 0h1.2m10 0h1.2m-26.2 .1h1.2m12.8 0h1.2m-22.5 .1h1.2m8.6 0h1.2m7.7 .1h1.2m4.6 0h1.2m-9.7 .2h1.2m-5.2 .1h1.2m-3.3 .3h1.2m-2.8 .1h1.2m-7.5 .1h1.2m-2.3 .3h1.2m.3 0h1.2m4.6 .4h1.2m20.5 .6h1.2m-7.1 .1h1.2m1.7 .2h1.2m-26.6 .3h1.2m1.9 .4h1.2m26.8 .4h1.2m-9.4 .1h1.2m-18.8 .1h1.2m22.3 0h1.2m-3.5 .1h1.2m-29.7 .3h1.2m26.5 .2h1.2m-27.7 .2h1.2m3.7 .2h1.2m20.7 .4h1.2m-4.2 .2h1.2m-13.5 .1h1.2" stroke="#c8c8c8" stroke-width="1.2" stroke-opacity="0.6"/><path d="M164.9 149.9h1.2m8.6 1.2h1.2m3.3 1.9h1.2m5.5 .1h1.2m5.9 0h1.2m-15.9 .1h1.2" stroke="#858585" stroke-width="1.2"/><path d="M181.5 168.8h1.1m11.3 0h1.1m2.1 0h1.1m-24.7 .1h1.1m5.1 0h1.1m1.6 0h1.1m5.4 0h1.1m-.6 0h1.1m-24 .1h1.1m5.3 0h1.1m8 0h1.1m15.8 0h1.1m-22.5 .1h1.1m1.1 0h1.1m10.4 0h1.1m-12.4 .1h1.1m1.5 0h1.1m11.4 0h1.1m1.8 0h1.1m-33.2 .1h1.1m1.8 0h1.1m1.3 0h1.1m-.9 0h1.1m2.2 0h1.1m5.3 0h1.1m2.3 0h1.1m-17.1 .1h1.1m2.8 0h1.1m10 0h1.1m7.5 0h1.1m-22.4 .1h1.1m-2 .3h1.1m5.7 .2h1.1" stroke="#7c7c7c" stroke-width="1.1"/><path d="M202 152.8L240 152.8V168.6H202z" fill="url(#g5)"/><path d="M220.9 153h1.3m6 0h1.3m-23 .1h1.3m7.1 0h1.3m9 0h1.3m4.3 0h1.3m-30 .1h1.3m.7 0h1.3m27.7 0h1.3m-11.4 .1h1.3m-9.8 .1h1.3m6.5 0h1.3m-1.6 .2h1.3m3.8 0h1.3m-7.4 .1h1.3m4.9 0h1.3m4.9 0h1.3m-17.7 .1h1.3m-13.7 .1h1.3m10.7 .4h1.3m14 0h1.3m-29.7 .1h1.3m7.7 .1h1.3m2.7 0h1.3m5.8 0h1.3m-11.4 .3h1.3m16.1 0h1.3m-12.4 .1h1.3m-17 .1h1.3m5.2 0h1.3m-3.4 .2h1.3m1.5 .3h1.3m-9.4 .4h1.3m3.6 .2h1.3m4.6 0h1.3m-10.6 .2h1.3m31.9 .1h1.3m-33.1 .3h1.3m3.6 0h1.3m11.4 .1h1.3m-6 .3h1.3m-17.8 .2h1.3m9.2 0h1.3m-.3 0h1.3m3 .1h1.3m12.9 0h1.3m-16.3 .2h1.3m11.6 0h1.3m-1.2 0h1.3m-12.8 .3h1.3m-2.1 .8h1.3" stroke="#f2f2f2" stroke-width="1.3" stroke-opacity="0.75"/><path d="M213.5 153.1h1.2m16.8 0h1.2m-.5 0h1.2m1.8 0h1.2m-30.3 .3h1.2m-.8 .2h1.2m18.5 .1h1.2m-20 .1h1.2m-1.8 .5h1.2m25.8 .3h1.2m-10.7 .4h1.2m-22.8 .2h1.2m29.2 0h1.2m.1 .2h1.2m1.4 0h1.2m-25.2 .4h1.2m9.3 0h1.2m-21.2 .1h1.2m24.4 0h1.2m5.2 .3h1.2m-25 .1h1.2m-7 .2h1.2m3.2 .1h1.2m5.1 .5h1.2m-14.2 .3h1.2m5.5 .1h1.2m17.6 .3h1.2m-26.7 .2h1.2m8.1 .5h1.2m21.8 0h1.2m-6 .1h1.2m-4.6 .3h1.2" stroke="#c8c8c8" stroke-width="1.2" stroke-opacity="0.6"/><path d="M238.3 150.8h1.2m-25.3 .8h1.2m-3.3 .3h1.2m6.4 .1h1.2m14.5 .3h1.2m-31.6 .6h1.2" stroke="#858585" stroke-width="1.2"/><path d="M204.1 168.3h1.1m.4 0h1.1m10 0h1.1m1.3 0h1.1m13.1 0h1.1m-28.7 .1h1.1m26.3 0h1.1m-.9 0h1.1m-25.2 .1h1.1m1.9 0h1.1m.5 0h1.1m-.8 0h1.1m18 0h1.1m3.9 0h1.1m-13.4 .1h1.1m7.5 0h1.1m-33 .1h1.1m14.5 0h1.1m-.2 0h1.1m14.4 0h1.1m-17.2 .1h1.1m16.8 0h1.1m-32.9 .1h1.1m15.8 0h1.1m1.9 0h1.1m1.5 0h1.1m-14.7 .1h1.1m4 0h1.1m1.6 .1h1.1m5 0h1.1m-23.7 .1h1.1m16.5 0h1.1m-.4 0h1.1m-6.1 .4h1.1" stroke="#7c7c7c" stroke-width="1.1"/><path d="M241.2 153.5L272.9 153.5V168.4H241.2z" fill="url(#g6)"/><path d="M249.5 153.7h1.3m10.5 0h1.3m-3.8 .1h1.3m5 0h1.3m-3.8 .2h1.3m-8.6 .1h1.3m.2 0h1.3m11.9 0h1.3m-24.3 .1h1.3m19.3 .3h1.3m-7.4 .1h1.3m1.1 0h1.3m3.7 .3h1.3m-13.7 .1h1.3m7.5 0h1.3m-24.5 .2h1.3m27.1 0h1.3m-.2 0h1.3m-16.9 .1h1.3m-10.1 .1h1.3m13.8 0h1.3m7.8 0h1.3m-18.4 .2h1.3m-1.7 .1h1.3m13 0h1.3m-7.8 .3h1.3m-4.9 .1h1.3m-6.4 .1h1.3m1.4 0h1.3m13.2 .2h1.3m-28.4 .2h1.3m14.1 0h1.3m-9.9 .1h1.3m-4.4 .3h1.3m2.1 0h1.3m1.6 .1h1.3m3.9 .8h1.3m9.1 .1h1.3m-18.8 .1h1.3m-.3 .4h1.3m-1.3 .3h1.3m2.9 0h1.3" stroke="#f2f2f2" stroke-width="1.3" stroke-opacity="0.75"/><path d="M243.1 153.7h1.2m21.7 0h1.2m4 0h1.2m-26.7 .1h1.2m3.4 0h1.2m4.4 0h1.2m6.9 .1h1.2m-3.5 .1h1.2m-15.6 .1h1.2m8.5 0h1.2m-8.1 .2h1.2m-3.4 .5h1.2m2.1 .1h1.2m17.1 .1h1.2m-16.5 .2h1.2m14.4 0h1.2m-15.6 .2h1.2m7.9 .9h1.2m-5.3 .1h1.2m-15.9 .1h1.2m3.1 0h1.2m2.1 .1h1.2m16.1 .3h1.2m-29.4 .5h1.2m21.7 .1h1.2m-4 .4h1.2m1.3 .2h1.2" stroke="#c8c8c8" stroke-width="1.2" stroke-opacity="0.6"/><path d="M262.2 148.3h1.2m-7.7 2.2h1.2m12.4 2.6h1.2m-11.7 .3h1.2m-3 .1h1.2" stroke="#858585" stroke-width="1.2"/><path d="M256.9 168h1.1m1 0h1.1m-8.7 .1h1.1m7.2 0h1.1m-12.1 .1h1.1m18 0h1.1m-20.1 .1h1.1m0 0h1.1m1.3 0h1.1m4.2 0h1.1m12.7 0h1.1m-30.1 .1h1.1m12 0h1.1m4.7 0h1.1m-19.7 .1h1.1m13.6 0h1.1m-3.5 .1h1.1m-13.1 .1h1.1m6.4 0h1.1m-.7 0h1.1m6.6 0h1.1m-.3 0h1.1m-.2 0h1.1m2.8 0h1.1m2.4 0h1.1m-19.6 .1h1.1m5.8 0h1.1m-8.2 .2h1.1" stroke="#7c7c7c" stroke-width="1.1"/><path d="M274.1 152L314.2 152V168H274.1z" fill="url(#g7)"/><path d="M280.8 152.2h1.3m-.8 0h1.3m13.4 0h1.3m3.7 0h1.3m5.2 0h1.3m-1.1 0h1.3m-.4 0h1.3m-22 .1h1.3m13 0h1.3m4.6 0h1.3m-2.5 .1h1.3m-30.5 .1h1.3m.3 0h1.3m5.2 .1h1.3m8.8 0h1.3m-15.2 .1h1.3m20.6 0h1.3m-28.8 .1h1.3m23 0h1.3m8.2 0h1.3m-35.2 .1h1.3m17.4 0h1.3m-14.3 .1h1.3m18.4 0h1.3m2.8 .2h1.3m-20.1 .2h1.3m11.4 0h1.3m-4 .2h1.3m5.2 0h1.3m1.3 .3h1.3m-12.2 .2h1.3m-19.6 .1h1.3m11 .2h1.3m-14.3 .2h1.3m8.9 0h1.3m13.8 0h1.3m-18.1 .3h1.3m-7.2 .2h1.3m11.4 0h1.3m20 0h1.3m-36.3 .3h1.3m7 .3h1.3m14.5 .4h1.3m-14.1 .1h1.3m-2.2 .2h1.3m19.3 .5h1.3m-7.6 .2h1.3m.2 0h1.3m-3.2 .6h1.3m-4.7 .3h1.3" stroke="#f2f2f2" stroke-width="1.3" stroke-opacity="0.75"/><path d="M287.4 152.2h1.2m3.5 0h1.2m10.4 .1h1.2m8 0h1.2m-26.9 .1h1.2m19.5 0h1.2m-15.1 .1h1.2m8.9 0h1.2m-.5 .1h1.2m-3 .1h1.2m-19.2 .1h1.2m16 0h1.2m-5.3 .1h1.2m7.5 .2h1.2m-8.7 .3h1.2m-26.1 .1h1.2m32.9 .1h1.2m-1.7 .1h1.2m-27.2 .2h1.2m18.2 0h1.2m-13.8 .1h1.2m4.6 .5h1.2m-15.7 .3h1.2m17.5 .2h1.2m.4 .4h1.2m-2.2 .2h1.2m0 0h1.2m-23.4 .3h1.2m-5.1 .2h1.2m10.1 .4h1.2m8 .2h1.2m3.1 .2h1.2m2.5 .1h1.2m-13.1 .2h1.2m-6.9 .3h1.2m-11 .1h1.2m30.1 .2h1.2m-24.3 .4h1.2" stroke="#c8c8c8" stroke-width="1.2" stroke-opacity="0.6"/><path d="M291.4 144.2h1.2m-5 6.3h1.2m2.8 1h1.2m-4.4 .2h1.2m-14.7 .2h1.2m24.8 .3h1.2" stroke="#858585" stroke-width="1.2"/><path d="M278.4 167.7h1.1m10.3 0h1.1m-11.7 .1h1.1m0 0h1.1m2.9 0h1.1m20 0h1.1m-21 .1h1.1m3.3 0h1.1m-14.5 .1h1.1m4.3 0h1.1m7.3 0h1.1m-1 0h1.1m-15.4 .1h1.1m-.1 0h1.1m6.3 0h1.1m3.4 0h1.1m5.3 0h1.1m2.9 0h1.1m1.5 0h1.1m5.9 0h1.1m-33.7 .1h1.1m16.2 0h1.1m9.2 0h1.1m6.7 0h1.1m-30.1 .1h1.1m8.3 0h1.1m3 0h1.1m1.4 0h1.1m-23.6 .2h1.1m2.9 0h1.1m-.7 0h1.1m-1.1 0h1.1m12 0h1.1m7 .1h1.1m-22.3 .2h1.1m16.4 .2h1.1" stroke="#7c7c7c" stroke-width="1.1"/><path d="M86.3 47L124.3 47V62.5L86.3 62.5z" fill="url(#g8)"/><path d="M93.5 44.8h1.4m24.1 .1h1.4m-29.1 .6h1.4m1.6 .3h1.4m-.4 .1h1.4m-9.3 .4h1.4m32.8 .2h1.4m-31.5 .2h1.4m5.9 .1h1.4m22.6 .1h1.4m-17.9 .3h1.4m14.5 0h1.4m-18.5 1.2h1.4m5.5 .3h1.4m-13.1 .3h1.4m-14.8 .7h1.4m3.3 0h1.4m10.6 0h1.4m1.4 0h1.4m1.6 0h1.4m-5.2 .1h1.4m10.6 0h1.4m-25.1 .1h1.4m-4.3 .1h1.4m2.4 0h1.4m1.4 0h1.4m18.5 0h1.4m-19.5 .1h1.4m-.7 0h1.4m-8.5 .1h1.4m28.4 0h1.4m-18.3 .1h1.4m14.4 0h1.4m-35.7 .1h1.4m6 0h1.4m1.4 .1h1.4m6.7 0h1.4m13.8 0h1.4m-33.9 .1h1.4m22.7 .1h1.4m4.3 0h1.4m2.6 0h1.4m-31.6 .1h1.4m5.5 0h1.4m13.5 0h1.4m2 0h1.4m2 0h1.4m-17.2 .1h1.4m-.7 0h1.4m7 0h1.4m3.7 0h1.4m-17.4 .1h1.4m-.3 0h1.4m7.2 0h1.4m-22.7 .1h1.4m2.5 0h1.4m3.9 0h1.4m6.7 0h1.4m-12.3 .1h1.4m2.6 0h1.4m5.4 .1h1.4m2.4 0h1.4m6.1 0h1.4m-.2 0h1.4m-35.6 .1h1.4m-.8 0h1.4m1.6 0h1.4m.5 0h1.4m27.6 0h1.4m-31.1 .1h1.4m-.9 0h1.4m-1.1 0h1.4m.9 0h1.4m-.9 0h1.4m8 0h1.4m-1.4 0h1.4m1 0h1.4m1.5 .1h1.4m-3 .1h1.4m2.1 0h1.4m-1.4 0h1.4m3.1 0h1.4m-.8 0h1.4m-31.3 .1h1.4m13.1 0h1.4m-16.8 .1h1.4m13.7 0h1.4m1.5 0h1.4m2.9 0h1.4m2.4 0h1.4m6.6 0h1.4m-24.7 .1h1.4m7.4 0h1.4m-.1 0h1.4m3.1 0h1.4m-26.4 .1h1.4m3.2 0h1.4m11.7 0h1.4m11.2 0h1.4m.3 0h1.4m-16.3 .1h1.4m1.6 .1h1.4m-16.5 .1h1.4m-1.3 0h1.4m5 0h1.4m17.5 0h1.4m1.9 0h1.4m.3 0h1.4m-32.3 .1h1.4m5.4 0h1.4m6.4 0h1.4m1.4 0h1.4m1.9 0h1.4m7.1 0h1.4m-33.4 .1h1.4m5.3 0h1.4m-.7 0h1.4m1.7 0h1.4m16.3 0h1.4m2 0h1.4m-27.9 .1h1.4m1.6 0h1.4m17.1 0h1.4m5 0h1.4m-25.2 .1h1.4m.2 0h1.4m-13.7 .1h1.4m9.3 0h1.4m13 0h1.4m-21.2 .1h1.4m1.4 0h1.4m18.7 0h1.4m1.6 0h1.4m-25.2 .1h1.4m-.8 0h1.4m10.9 0h1.4m5 0h1.4m-1.2 0h1.4m.2 0h1.4m5.3 0h1.4m-22.7 .1h1.4m.3 0h1.4m9.8 0h1.4m7.7 0h1.4m-23.2 .1h1.4m-.2 0h1.4m-1.3 0h1.4m17.4 0h1.4m-23.1 .1h1.4m7 0h1.4m2.7 0h1.4m1.8 0h1.4m5.8 0h1.4m-30.6 .1h1.4m7.2 0h1.4m12.2 0h1.4m-28.7 .1h1.4m6.2 0h1.4m10.8 0h1.4m1.2 0h1.4m8.3 0h1.4m-30.3 .1h1.4m-.2 0h1.4m5.9 0h1.4m8.1 0h1.4m9.8 0h1.4m-12.8 .1h1.4m12.5 0h1.4m-32.8 .1h1.4m25.5 0h1.4m-31.6 .1h1.4m-.2 0h1.4m1.3 0h1.4m5.4 0h1.4m-1.2 0h1.4m-.3 0h1.4m3.3 0h1.4m2.2 0h1.4m2.8 0h1.4m1.8 0h1.4m-20.9 .1h1.4m5.8 0h1.4m12.6 0h1.4m4 0h1.4m-32.8 .1h1.4m-1.2 0h1.4m-.1 0h1.4m-.1 0h1.4m.5 0h1.4m3.7 0h1.4m2.8 0h1.4m1.6 0h1.4m-1.1 0h1.4m11 0h1.4m-26.5 .1h1.4m2.5 0h1.4m4.3 0h1.4m-13.4 .1h1.4m6.5 0h1.4m7 0h1.4m2.1 0h1.4m5.9 0h1.4m-21.9 .1h1.4m5.8 0h1.4m-1.4 0h1.4m1 0h1.4m7 0h1.4m-33.6 .1h1.4m2.6 0h1.4m1.9 0h1.4m1.6 0h1.4m2.3 0h1.4m2.2 0h1.4m3.1 0h1.4m1.3 0h1.4m1.8 0h1.4m3.9 0h1.4m-27.9 .1h1.4m4.5 0h1.4m7.5 0h1.4m1 0h1.4m2 0h1.4m.1 0h1.4m2.9 0h1.4m-25.8 .1h1.4m-.8 0h1.4m5.4 0h1.4m1.7 0h1.4m-1.4 0h1.4m11.7 0h1.4m-29.8 .1h1.4m21 0h1.4m-24.2 .1h1.4m9.6 0h1.4m2.3 0h1.4m6.6 0h1.4m7.3 0h1.4m-27.5 .1h1.4m11.3 0h1.4m4.6 0h1.4m0 0h1.4m.8 0h1.4m2.1 0h1.4m-23.9 .1h1.4m7.6 0h1.4m.3 0h1.4m4.8 0h1.4m4 0h1.4m.2 0h1.4m-1.3 0h1.4m-33.8 .1h1.4m.6 0h1.4m.4 0h1.4m.4 0h1.4m4.3 0h1.4m2.9 0h1.4m.6 0h1.4m7.9 0h1.4m-26.2 .1h1.4m1.2 0h1.4m4.3 0h1.4m-1.2 0h1.4m-.6 0h1.4m.1 0h1.4m-.8 0h1.4m-.7 0h1.4m-.3 0h1.4m14.9 0h1.4m-.7 0h1.4m-35.1 .1h1.4m-.3 0h1.4m24.4 0h1.4m-1 0h1.4m-10.4 .1h1.4m3.7 0h1.4m3.4 0h1.4m1.3 0h1.4m-23.3 .1h1.4m21.4 0h1.4m-29.7 .1h1.4m2.9 0h1.4m3.1 0h1.4m9.9 0h1.4m4.4 0h1.4m-1.5 .1h1.4m.4 0h1.4m-31.2 .1h1.4m4.6 0h1.4m2.2 0h1.4m11.2 0h1.4m5.6 0h1.4m-30.6 .1h1.4m4 0h1.4m3 0h1.4m-1 0h1.4m.5 0h1.4m-.1 0h1.4m2 0h1.4m1.8 0h1.4m8.8 0h1.4m-31.7 .1h1.4m-1.1 0h1.4m1.4 0h1.4m9.9 0h1.4m-1.3 0h1.4m2.6 0h1.4m2.4 0h1.4m-5.7 .1h1.4m12.5 0h1.4m-32.4 .1h1.4m.6 0h1.4m-.9 0h1.4m2.9 0h1.4m13.3 0h1.4m3.9 0h1.4m-.8 0h1.4m-1.3 0h1.4m-29.5 .1h1.4m9.6 0h1.4m4 0h1.4m-1.2 0h1.4m-1.2 0h1.4m1.3 0h1.4m-.8 0h1.4m-1.3 0h1.4m-14.1 .1h1.4m2.9 0h1.4m-.7 0h1.4m3.4 0h1.4m11.2 0h1.4m-1 0h1.4m-33.8 .1h1.4m-.8 0h1.4m21.3 0h1.4m-23.7 .1h1.4m1.3 0h1.4m3.4 0h1.4m0 0h1.4m16 0h1.4m2.3 0h1.4m1.7 0h1.4m-30.4 .1h1.4m.9 0h1.4m7.7 0h1.4m16 0h1.4m-32.5 .1h1.4m.5 0h1.4m10.8 0h1.4m5.8 0h1.4m-21.2 .1h1.4m-.9 0h1.4m-.6 0h1.4m9.7 .1h1.4m-1 0h1.4m-.9 0h1.4m.2 0h1.4m2.9 0h1.4m6.6 0h1.4m-27.5 .1h1.4m6.5 0h1.4m15.2 0h1.4m-14.1 .1h1.4m9.6 0h1.4m.3 0h1.4m-1.2 0h1.4m1 0h1.4m.4 0h1.4m-.7 0h1.4m-17.7 .1h1.4m-12.5 .1h1.4m15 0h1.4m3.5 0h1.4m3.3 0h1.4m-20.7 .1h1.4m13.2 0h1.4m2.1 0h1.4m-34.8 .1h1.4m-.7 0h1.4m6 0h1.4m8.2 0h1.4m2.9 0h1.4m-22.5 .1h1.4m3.9 0h1.4m-.1 0h1.4m11.5 0h1.4m-.8 0h1.4m5.3 0h1.4m-10.2 .1h1.4m.5 0h1.4m.7 0h1.4m7.4 0h1.4m2.9 0h1.4m-29.3 .1h1.4m1.5 0h1.4m23.7 0h1.4m-28.4 .1h1.4m6.9 0h1.4m14.6 0h1.4m-20.9 .1h1.4m-4.4 .1h1.4m2.3 0h1.4m5.5 0h1.4m-16.7 .1h1.4m17.7 .1h1.4m-18.9 .1h1.4m22.2 0h1.4m-26.6 .1h1.4m.5 0h1.4m21.6 0h1.4m-12.7 .1h1.4m1.8 0h1.4m8.7 0h1.4m-4.3 .1h1.4m-.8 0h1.4m-15.2 .1h1.4m5.6 0h1.4m3.3 0h1.4m-15 .1h1.4m10.3 .1h1.4m-5.4 .1h1.4m2 .1h1.4m-16 .1h1.4m19.9 0h1.4m-29.9 .2h1.4m5.2 0h1.4m-11.4 .1h1.4m5.6 0h1.4m18.8 0h1.4m.8 0h1.4m1.9 .1h1.4m-20.3 .1h1.4m-1.1 0h1.4m0 0h1.4m.3 0h1.4m7 0h1.4m-.7 0h1.4m-29.5 .1h1.4m5.6 0h1.4m22.2 0h1.4m-15.3 .1h1.4m7.6 0h1.4m-27.1 .2h1.4m28.4 .1h1.4m-16.9 .1h1.4m-.8 0h1.4m4.1 .1h1.4m5.4 .1h1.4m-2.7 .1h1.4m5.5 .1h1.4m-24.4 .1h1.4m1.6 0h1.4m15.7 0h1.4m-6.2 .1h1.4m-14.4 .1h1.4m17 0h1.4m-23.7 .1h1.4m-6.1 .4h1.4m-3.6 .2h1.4m-1.7 .2h1.4m13.8 .3h1.4m-2.7 .1h1.4m-3 .3h1.4m5.7 .1h1.4m5.9 .2h1.4m4 0h1.4m-33.4 .1h1.4m-.7 0h1.4m1.2 0h1.4m5.8 0h1.4m2.4 .2h1.4m10.9 0h1.4m-27.7 .1h1.4m24.8 .4h1.4m2.7 0h1.4m-24.8 .3h1.4m15.8 0h1.4m-21.5 .1h1.4m27.4 .1h1.4m-34.5 .8h1.4m-2.4 .5h1.4m22 0h1.4m-11.2 .1h1.4m.6 .7h1.4m-9.9 .4h1.4m1.9 .1h1.4m-1.2 .1h1.4m7.6 .5h1.4m15.7 .1h1.4m-32.7 .2h1.4m3.8 .2h1.4m-1.4 0h1.4m7.7 .6h1.4m-6.4 .3h1.4m1.9 .6h1.4" stroke="#1667b4" stroke-width="1.4"/><path d="M89.8 49.3h1m7.9 0h1m-4.2 .1h1m0 .2h1m19.2 .8h1m-26.6 .2h1m-3.3 .1h1m2.6 0h1m16.9 .3h1m-.8 0h1m-5.6 .1h1m11.1 0h1m-21.3 .3h1m-9.5 .1h1m24.4 0h1m-11.7 .1h1m-12.4 .1h1m23.1 .2h1m-21.8 .5h1m24.7 0h1m-23.5 .3h1m-6.8 .3h1m5.1 0h1m.4 0h1m8 0h1m.7 0h1m-.3 0h1m-15.4 .1h1m5.6 .1h1m7.6 0h1m-2.1 .2h1m-18.7 .1h1m8.5 0h1m-18.2 .1h1m33.6 0h1m-20.1 .3h1m-14.2 .1h1m32.1 0h1m-26.8 .1h1m12.3 0h1m2.8 .1h1m-25.2 .1h1m-1.2 .1h1m22.1 0h1m-6.9 .1h1m9.1 0h1m-.3 .1h1m-10 .2h1m-9.5 .1h1m5.6 .1h1m-14.8 .2h1m22.4 0h1m3.3 0h1m-17.3 .1h1m18 0h1m-17.4 .3h1m-20.8 .2h1m27.4 .1h1m6 .3h1m-15 .1h1m0 .3h1m3.4 0h1m.9 0h1m1.9 .1h1m-27.3 .1h1m29 .1h1m-8.3 .1h1m-.5 0h1m-20.9 .4h1m8.6 .1h1m6.2 0h1m.7 0h1m2.8 0h1m-19.7 .2h1m6.8 .4h1m-.7 .1h1m-13.5 .2h1m1.6 .4h1m9.8 0h1m-21 .3h1m17.9 .1h1m11.6 0h1m1.9 .3h1m-29.7 .1h1m17.7 1.5h1m2.4 .1h1" stroke="#f0f4f8" stroke-width="1" stroke-opacity="0.7"/><path d="M102.8 64h1.3m2.2 2.1h1.3m-.3 .5h1.3m.3 .3h1.3m-15.3 1h1.3m-1.8 .3h1.3m-7.9 .4h1.3m4.3 .1h1.3m4.9 .1h1.3m9.7 .1h1.3m9.4 .2h1.3m-1.7 .7h1.3m-28.3 .1h1.3m12.1 1.7h1.3m3.6 2.4h1.3m-18.3 .2h1.3m23.3 .8h1.3m-11.2 .2h1.3m-10.3 .2h1.3m13.9 .3h1.3m-20.1 .3h1.3m-3.2 .6h1.3m22.7 .5h1.3m-23.8 2.8h1.3m2 .9h1.3m-15 .2h1.3m-1.3 .3h1.3m26.2 3.2h1.3m-26.2 .5h1.3m24.3 .7h1.3m-17.8 1.2h1.3m-2.4 .4h1.3m11.9 6.5h1.3m-2.6 .1h1.3m9.8 1.5h1.3m-17.6 .5h1.3m12 .2h1.3m-10 .9h1.3m-20.4 1.6h1.3m30.3 .7h1.3m-15.8 1.5h1.3m-5.1 2.2h1.3m1.4 .1h1.3m-5 .8h1.3m-2.3 1h1.3m12.5 2.7h1.3m-22.8 .3h1.3m4.2 2.1h1.3m7.8 .6h1.3m-3.1 .9h1.3m-.7 .2h1.3" stroke="#3a80bb" stroke-width="1.3"/><path d="M105.5 114.1h1.3m-13.7 .1h1.3m-7.2 2.9h1.3m-1 4.2h1.3m31.3 9.7h1.3m-21 .3h1.3m-6.4 3.6h1.3m6.2 3.2h1.3m-14.9 2.2h1.3" stroke="#8a8a8a" stroke-width="1.3"/><path d="M125.5 46.2L162.2 46.2V61.5L125.5 61.5z" fill="url(#g9)"/><path d="M150.6 43.9h1.4m-8.3 .2h1.4m-7.7 .9h1.4m-.9 .2h1.4m-4.4 .1h1.4m10 .3h1.4m6.6 .4h1.4m-18.5 .1h1.4m-11.3 .2h1.4m13.9 0h1.4m12.2 .5h1.4m-18 .1h1.4m-10 .7h1.4m12.9 0h1.4m.2 0h1.4m-10 .2h1.4m-1.5 .1h1.4m-11.9 .2h1.4m7.1 0h1.4m3.1 0h1.4m2.9 0h1.4m-.7 0h1.4m-13 .1h1.4m20 0h1.4m4 0h1.4m-36.6 .1h1.4m12 .1h1.4m10.3 0h1.4m3.1 0h1.4m-12.1 .1h1.4m.9 0h1.4m7.6 0h1.4m-28.1 .1h1.4m24.5 0h1.4m-7.3 .1h1.4m-23.7 .2h1.4m4.1 0h1.4m2.1 0h1.4m11.9 0h1.4m-23.6 .1h1.4m-.7 0h1.4m-.6 .1h1.4m-4.4 .1h1.4m23.2 0h1.4m1.7 0h1.4m6 0h1.4m-31 .2h1.4m22.8 0h1.4m-16.6 .1h1.4m.6 0h1.4m10 0h1.4m-.1 0h1.4m-29.4 .1h1.4m31.1 0h1.4m-31.1 .1h1.4m28.9 0h1.4m-23.1 .1h1.4m13.9 .1h1.4m-22.4 .1h1.4m-.4 .1h1.4m-.4 0h1.4m21.1 0h1.4m-32.5 .1h1.4m2.2 0h1.4m10.2 0h1.4m9.5 0h1.4m-12.2 .1h1.4m.9 0h1.4m-18 .1h1.4m28 0h1.4m-29.2 .1h1.4m4.5 0h1.4m4.4 0h1.4m18.8 0h1.4m-30.1 .1h1.4m5.1 0h1.4m13.9 0h1.4m.1 0h1.4m-16.5 .1h1.4m8.9 0h1.4m-17.5 .1h1.4m-1 0h1.4m-.6 .1h1.4m0 0h1.4m10.3 0h1.4m-20 .1h1.4m-1.2 0h1.4m12.5 0h1.4m-.7 0h1.4m.3 0h1.4m10.5 0h1.4m-28.4 .1h1.4m2 0h1.4m-3.2 .1h1.4m-.6 0h1.4m2.8 0h1.4m-.9 0h1.4m-12.2 .1h1.4m-.7 0h1.4m25.5 0h1.4m-14.1 .1h1.4m15.4 0h1.4m-32.6 .1h1.4m2.9 0h1.4m10 0h1.4m12.6 0h1.4m-33.3 .1h1.4m1.5 0h1.4m2.6 0h1.4m11 0h1.4m-20.1 .1h1.4m8.5 0h1.4m15.9 0h1.4m-29.4 .1h1.4m6.6 0h1.4m4 0h1.4m.3 0h1.4m1.1 0h1.4m8.9 0h1.4m-8.8 .1h1.4m-.7 0h1.4m4 0h1.4m4.2 0h1.4m-1.3 0h1.4m-31.7 .1h1.4m.5 0h1.4m.5 0h1.4m-1.4 0h1.4m4.7 0h1.4m4.6 0h1.4m8.1 0h1.4m.8 0h1.4m4.4 0h1.4m-27.9 .1h1.4m1.4 0h1.4m6.2 0h1.4m.8 0h1.4m-20.7 .1h1.4m3.5 0h1.4m16.8 0h1.4m3.6 0h1.4m1 0h1.4m-27 .1h1.4m10.3 0h1.4m1.9 0h1.4m-18.1 .1h1.4m5.2 0h1.4m9.1 0h1.4m.6 0h1.4m6.4 0h1.4m-32.6 .1h1.4m1 0h1.4m27 0h1.4m-32.7 .1h1.4m8.1 0h1.4m4.4 0h1.4m11.1 0h1.4m-28.9 .1h1.4m6.8 0h1.4m11.3 .1h1.4m-.4 0h1.4m1.5 0h1.4m-23.6 .1h1.4m3.4 0h1.4m1 0h1.4m.3 0h1.4m7.3 0h1.4m-16.8 .1h1.4m8 0h1.4m4.9 0h1.4m-.5 0h1.4m4.9 0h1.4m-27.7 .1h1.4m11.9 0h1.4m3.7 0h1.4m-.4 0h1.4m.3 0h1.4m5.7 0h1.4m3.3 0h1.4m-1.1 0h1.4m-26.9 .1h1.4m4 0h1.4m2 0h1.4m2.4 0h1.4m-.5 0h1.4m5 0h1.4m3 0h1.4m-29.4 .1h1.4m-1.2 0h1.4m4.6 0h1.4m10.4 0h1.4m3.1 0h1.4m2.3 0h1.4m1.5 0h1.4m-30.1 .1h1.4m-1.3 0h1.4m-1 0h1.4m-.8 0h1.4m-.7 0h1.4m1.7 0h1.4m-.1 0h1.4m16.5 0h1.4m-32.5 .1h1.4m-1.2 0h1.4m.5 0h1.4m-1.2 0h1.4m1.4 0h1.4m2.6 0h1.4m.1 0h1.4m1.4 0h1.4m-1.2 0h1.4m.2 0h1.4m17.4 0h1.4m-32.2 .1h1.4m-1.1 0h1.4m4 0h1.4m2.1 0h1.4m-1.2 0h1.4m7.2 0h1.4m3.3 0h1.4m1.3 0h1.4m-.8 0h1.4m-22.7 .1h1.4m7.8 0h1.4m-12.9 .1h1.4m1.1 0h1.4m1.1 0h1.4m.5 0h1.4m6.6 0h1.4m12.6 0h1.4m-34.5 .1h1.4m14 0h1.4m4.3 0h1.4m11.7 0h1.4m-33.7 .1h1.4m4.6 0h1.4m-.1 0h1.4m12.6 0h1.4m6.9 0h1.4m-30.7 .1h1.4m6.7 0h1.4m15.4 0h1.4m-1.4 0h1.4m-1 0h1.4m1.8 0h1.4m-11.8 .1h1.4m5.4 0h1.4m-29.8 .1h1.4m-1.2 0h1.4m2.7 0h1.4m2 0h1.4m21 0h1.4m4.3 0h1.4m-32.1 .1h1.4m-1.3 0h1.4m4.7 0h1.4m9.9 0h1.4m-11.8 .1h1.4m-11.8 .1h1.4m1.5 0h1.4m2.1 0h1.4m21.6 0h1.4m-20.2 .1h1.4m-.5 0h1.4m3.3 0h1.4m.6 0h1.4m-.1 0h1.4m3.2 0h1.4m2.6 0h1.4m-22.2 .1h1.4m3.2 0h1.4m18.4 0h1.4m-30.5 .1h1.4m5.5 0h1.4m0 0h1.4m.6 0h1.4m2.4 0h1.4m-17.4 .1h1.4m-.8 0h1.4m.4 0h1.4m1.8 0h1.4m3.1 0h1.4m18.9 0h1.4m-.9 0h1.4m.6 0h1.4m-34.8 .1h1.4m11.9 0h1.4m3.3 0h1.4m1.8 0h1.4m10.4 0h1.4m-30.8 .1h1.4m.9 0h1.4m4.4 0h1.4m.1 0h1.4m5 0h1.4m-.3 0h1.4m5.5 0h1.4m4.5 0h1.4m-31.9 .1h1.4m4.8 0h1.4m2.5 0h1.4m2.4 0h1.4m.6 0h1.4m5.6 0h1.4m-17 .1h1.4m5.2 0h1.4m9.9 0h1.4m.2 0h1.4m-20.1 .1h1.4m12.2 0h1.4m-15.6 .1h1.4m13.2 0h1.4m-6.6 .1h1.4m.5 0h1.4m1.5 0h1.4m1.6 0h1.4m-30.4 .1h1.4m4.4 0h1.4m15.1 0h1.4m-21.6 .1h1.4m5.2 0h1.4m14.2 0h1.4m2.3 .1h1.4m-16 .1h1.4m-1.3 0h1.4m6.7 0h1.4m3.9 0h1.4m3.3 0h1.4m-10.8 .1h1.4m3.8 0h1.4m-6.8 .1h1.4m5.3 0h1.4m-12.6 .1h1.4m-.3 0h1.4m6.6 0h1.4m-27.9 .1h1.4m10.8 0h1.4m6 0h1.4m9.6 0h1.4m-31 .1h1.4m16.4 0h1.4m2.1 0h1.4m-23.3 .1h1.4m15.5 0h1.4m2.8 0h1.4m-17.3 .1h1.4m3.8 0h1.4m5.1 0h1.4m12.8 0h1.4m-30.8 .1h1.4m17.8 0h1.4m-20.4 .1h1.4m9.8 0h1.4m1.5 0h1.4m8.3 0h1.4m-24.1 .1h1.4m11.5 0h1.4m.2 0h1.4m4.8 0h1.4m-.4 0h1.4m-1.3 0h1.4m-.8 0h1.4m-24 .1h1.4m10.8 0h1.4m-9.7 .1h1.4m11.1 0h1.4m-20.7 .1h1.4m3.7 0h1.4m10.3 0h1.4m6.5 0h1.4m-25.8 .1h1.4m22.5 0h1.4m6.1 0h1.4m-29 .1h1.4m17.6 0h1.4m-16.4 .1h1.4m-.8 0h1.4m5.7 0h1.4m-15 .1h1.4m9.7 0h1.4m4.4 0h1.4m-1.2 0h1.4m3.9 0h1.4m2.6 0h1.4m-.3 0h1.4m3.5 0h1.4m-31.4 .1h1.4m9.1 0h1.4m1.6 0h1.4m0 0h1.4m-15.1 .1h1.4m16.2 0h1.4m7.3 0h1.4m.5 0h1.4m-9 .1h1.4m2.2 0h1.4m-.2 0h1.4m-30 .1h1.4m14.3 0h1.4m-20.9 .1h1.4m13.4 0h1.4m1.8 0h1.4m1.8 0h1.4m12 0h1.4m-35.4 .2h1.4m13.1 0h1.4m12.1 .1h1.4m-.6 0h1.4m-4.4 .1h1.4m-3.6 .1h1.4m-3.2 .1h1.4m3.3 0h1.4m-1.2 0h1.4m.1 0h1.4m-1.3 0h1.4m5.5 0h1.4m-30.6 .1h1.4m-3.9 .1h1.4m-.7 0h1.4m29 0h1.4m-6.9 .1h1.4m2.4 0h1.4m-33.8 .1h1.4m-.7 0h1.4m4.8 0h1.4m-7 .2h1.4m18.2 0h1.4m-18 .1h1.4m5.2 0h1.4m5.1 0h1.4m5 0h1.4m-2.5 .1h1.4m-9.5 .1h1.4m-1 0h1.4m-8.8 .1h1.4m12.5 0h1.4m-.9 0h1.4m3.7 0h1.4m-.6 0h1.4m3.7 0h1.4m-33.3 .1h1.4m7.6 0h1.4m11.5 0h1.4m.9 0h1.4m-8.5 .1h1.4m3.4 0h1.4m-24.3 .1h1.4m28.9 0h1.4m-26.6 .1h1.4m.5 0h1.4m23.3 .2h1.4m-1.4 .2h1.4m-13.2 .1h1.4m9.1 .1h1.4m-31.5 .3h1.4m5.4 0h1.4m25.7 0h1.4m-33.5 .2h1.4m13.6 0h1.4m1 0h1.4m-1.3 0h1.4m-21.3 .3h1.4m30.5 0h1.4m-20.6 .9h1.4m-8.6 .1h1.4m8.5 .6h1.4m-11.4 .4h1.4m15 .1h1.4m-3.5 .1h1.4m-19.9 .3h1.4m13.9 .5h1.4m-9.5 .3h1.4m18.9 .4h1.4m1.8 0h1.4m-30.3 .1h1.4m23.3 .3h1.4m-7.3 1.7h1.4" stroke="#1667b4" stroke-width="1.4"/><path d="M128.2 48.2h1m18.2 0h1m-11.5 .5h1m-5.8 .7h1m24 .1h1m-12.3 .1h1m.1 .1h1m3.2 .1h1m-8.9 .1h1m6.6 0h1m-18.5 .3h1m16.7 .1h1m-21.3 .8h1m17.2 0h1m-8.1 .1h1m-8.4 .1h1m18.7 .2h1m-25.6 .1h1m17.4 0h1m7.9 .1h1m.1 .1h1m-13.5 .1h1m4.3 .4h1m-5.4 .2h1m7.8 0h1m-16.6 .1h1m4.7 0h1m-.7 0h1m3.5 .2h1m8.1 .1h1m-31.9 .1h1m4.6 .2h1m5.1 0h1m-5.3 .1h1m-8.4 .1h1m15.4 .1h1m11.8 .1h1m-23.4 .1h1m20.1 .3h1m-20.4 .5h1m1.7 0h1m-.5 0h1m7.3 0h1m8 .3h1m-20.1 .1h1m20.2 .2h1m-27.5 .1h1m24.1 0h1m-2.6 .1h1m-20.1 .1h1m19.1 0h1m-29.2 .1h1m4.8 .2h1m23.2 0h1m-32.4 .1h1m2.6 0h1m2.4 0h1m17.2 0h1m3.9 .2h1m-27.3 .1h1m14.3 .1h1m-17.2 .1h1m2.6 0h1m9.4 0h1m.8 .1h1m-16.9 .2h1m-.8 0h1m19.8 0h1m-9.7 .1h1m-9.6 .1h1m10 .1h1m-17.4 .1h1m12.6 0h1m7.1 .2h1m6 .2h1m-16 .1h1m-.4 .1h1m10 .5h1m0 0h1m-.8 0h1m1 .5h1m-22.2 .6h1m-1.4 .2h1" stroke="#f0f4f8" stroke-width="1" stroke-opacity="0.7"/><path d="M130.4 60.3h1.3m1 1.3h1.3m12.2 .9h1.3m-1.2 .3h1.3m-20.9 .6h1.3m9 0h1.3m5.5 .4h1.3m14 1.9h1.3m-23.6 .3h1.3m12.9 .1h1.3m-15.6 2.3h1.3m-1.3 1.8h1.3m19.9 2.7h1.3m-33.2 5.7h1.3m24.9 1.4h1.3m-25.5 3.3h1.3m20.3 5.6h1.3m-10.2 2.1h1.3m16.3 0h1.3m-15.4 .4h1.3m13.5 7.4h1.3m-24.2 .9h1.3m9.2 .9h1.3m-7 5h1.3m14 .3h1.3m3.3 2.6h1.3m-10.3 1.1h1.3" stroke="#3a80bb" stroke-width="1.3"/><path d="M148.5 127.3h1.3m-18.8 11.8h1.3m10.8 6h1.3" stroke="#8a8a8a" stroke-width="1.3"/><path d="M163.4 45.4L200.8 45.4V59.7L163.4 59.7z" fill="url(#g10)"/><path d="M179.6 41.8h1.4m-11.3 .6h1.4m17.6 0h1.4m-11.2 .8h1.4m8.7 .5h1.4m4.6 .2h1.4m-16.4 .3h1.4m1.7 .3h1.4m-19.6 .1h1.4m8 .4h1.4m11.3 .6h1.4m-4 .5h1.4m-5.1 .5h1.4m13.9 .1h1.4m-14.4 .2h1.4m2.7 0h1.4m9.2 0h1.4m-9.3 .1h1.4m-26.9 .1h1.4m23.5 0h1.4m-14.7 .1h1.4m7.5 0h1.4m2.2 0h1.4m-16.3 .3h1.4m15.2 0h1.4m-17.8 .1h1.4m15.6 0h1.4m-15 .2h1.4m4.8 0h1.4m11.7 .1h1.4m-32 .2h1.4m29.3 0h1.4m-17.3 .1h1.4m-12.8 .1h1.4m7.4 .1h1.4m3 0h1.4m14.9 0h1.4m-31.3 .1h1.4m3.4 0h1.4m8.7 0h1.4m5.8 0h1.4m2.2 0h1.4m1.7 0h1.4m-29.5 .1h1.4m8.2 0h1.4m-5.1 .1h1.4m15.1 0h1.4m4.6 0h1.4m-6 .1h1.4m-1.2 0h1.4m-28.8 .1h1.4m0 0h1.4m9.7 0h1.4m-6 .1h1.4m14.6 0h1.4m1.2 .1h1.4m.1 0h1.4m-24.8 .1h1.4m-.8 0h1.4m.1 0h1.4m4.6 0h1.4m-1.3 0h1.4m9 0h1.4m5.3 0h1.4m-.4 0h1.4m-30.9 .1h1.4m9.5 0h1.4m6.3 .1h1.4m1.3 0h1.4m3.3 0h1.4m-31.1 .1h1.4m5 0h1.4m1.3 0h1.4m-.4 0h1.4m9.6 0h1.4m-16.7 .1h1.4m-.7 0h1.4m-1.3 0h1.4m10.3 0h1.4m6.3 0h1.4m1.5 0h1.4m-.9 0h1.4m-.2 0h1.4m3.9 0h1.4m-19.1 .1h1.4m6.5 0h1.4m-23.8 .1h1.4m10.3 0h1.4m5.8 0h1.4m3.5 0h1.4m-.5 .1h1.4m-25.9 .1h1.4m1.8 0h1.4m2.6 0h1.4m.1 0h1.4m-12.5 .1h1.4m-.1 0h1.4m-.5 0h1.4m-1.1 0h1.4m-1.3 0h1.4m7.4 0h1.4m.2 0h1.4m10.3 0h1.4m-.8 0h1.4m-17.2 .1h1.4m-10.4 .1h1.4m19 0h1.4m2.5 0h1.4m7.8 0h1.4m-36.6 .1h1.4m6.4 0h1.4m.7 0h1.4m-.5 0h1.4m15 0h1.4m-7.6 .1h1.4m2.5 0h1.4m1.4 0h1.4m4.5 0h1.4m-23.2 .1h1.4m-1 0h1.4m1.7 0h1.4m5.6 0h1.4m5.6 0h1.4m-29.9 .1h1.4m1.1 0h1.4m1.7 0h1.4m14 0h1.4m5.4 0h1.4m3.5 0h1.4m-32.6 .1h1.4m10.9 0h1.4m3 0h1.4m.2 0h1.4m6.2 0h1.4m.6 0h1.4m-.1 0h1.4m-24.8 .1h1.4m.7 0h1.4m-.2 0h1.4m9.8 0h1.4m-.9 0h1.4m.5 0h1.4m-1.2 0h1.4m8.2 0h1.4m-32.4 .1h1.4m11.4 0h1.4m5.2 0h1.4m-1.3 0h1.4m2.9 0h1.4m-26.6 .1h1.4m1.6 0h1.4m-1 0h1.4m3.4 0h1.4m19.1 0h1.4m-.7 0h1.4m-27.6 .1h1.4m5.2 0h1.4m4 0h1.4m2.1 0h1.4m3.4 0h1.4m.7 0h1.4m4.1 0h1.4m-28.2 .1h1.4m2.1 0h1.4m2.3 0h1.4m4 0h1.4m-.2 0h1.4m6.3 0h1.4m2.3 0h1.4m-20.7 .1h1.4m4 0h1.4m4.2 0h1.4m-.6 0h1.4m3.8 0h1.4m-.6 0h1.4m-.6 0h1.4m-31.9 .1h1.4m-.9 0h1.4m2.2 0h1.4m-1.3 0h1.4m7.5 0h1.4m1.5 0h1.4m1.4 0h1.4m2.4 0h1.4m4.1 0h1.4m-26.3 .1h1.4m8.4 0h1.4m-.8 0h1.4m7.8 0h1.4m-22.9 .1h1.4m-.8 0h1.4m-.7 0h1.4m-1 0h1.4m6.5 0h1.4m4.3 0h1.4m.2 0h1.4m-.8 0h1.4m1.3 0h1.4m.7 0h1.4m-25 .1h1.4m15.8 0h1.4m7.4 0h1.4m-27.7 .1h1.4m12.6 0h1.4m-1.4 0h1.4m2 0h1.4m14.3 0h1.4m-33.5 .1h1.4m.3 0h1.4m-.9 0h1.4m8.4 0h1.4m20.4 0h1.4m-32.5 .1h1.4m16.7 0h1.4m5.1 0h1.4m-18.8 .1h1.4m2.2 0h1.4m-1.3 0h1.4m-1.3 0h1.4m9.5 0h1.4m5.1 0h1.4m-34.6 .1h1.4m.6 0h1.4m3.3 0h1.4m2.7 0h1.4m2.3 0h1.4m4.9 0h1.4m.7 0h1.4m1.5 0h1.4m5.8 0h1.4m-23.7 .1h1.4m5.5 0h1.4m16.5 0h1.4m-34 .1h1.4m10.2 0h1.4m-1.2 0h1.4m0 0h1.4m3.6 0h1.4m1.3 0h1.4m7.2 0h1.4m1.3 0h1.4m-32.4 .1h1.4m-1 0h1.4m.6 0h1.4m14 0h1.4m8.9 0h1.4m1.3 0h1.4m-1.3 0h1.4m-36 .1h1.4m2.2 0h1.4m-.8 .1h1.4m-.5 0h1.4m-5 .1h1.4m6.9 0h1.4m-6.9 .1h1.4m.9 0h1.4m5.9 0h1.4m-14.4 .1h1.4m12.6 0h1.4m3.2 0h1.4m.8 0h1.4m9.9 0h1.4m-29 .1h1.4m3.1 0h1.4m8.1 0h1.4m-.3 0h1.4m.6 0h1.4m2.9 0h1.4m2.3 0h1.4m3.2 0h1.4m-27.5 .1h1.4m-.5 0h1.4m.1 0h1.4m-12.1 .1h1.4m2.6 0h1.4m7.8 0h1.4m.1 0h1.4m4.3 0h1.4m.3 0h1.4m6.5 0h1.4m1.2 0h1.4m-27.9 .1h1.4m5.9 0h1.4m7.2 0h1.4m-15.9 .1h1.4m-.4 0h1.4m10.8 0h1.4m-21.9 .1h1.4m.2 0h1.4m3.1 0h1.4m7.6 0h1.4m4.9 0h1.4m3.9 0h1.4m1.6 0h1.4m-20.1 .1h1.4m1.5 0h1.4m-15 .1h1.4m7 0h1.4m3.7 0h1.4m.7 0h1.4m2.3 0h1.4m.3 0h1.4m-18.2 .1h1.4m2.3 0h1.4m6.9 0h1.4m-.6 0h1.4m3 0h1.4m2.7 0h1.4m-6.8 .1h1.4m-.9 0h1.4m2.1 0h1.4m-1.3 0h1.4m.7 0h1.4m-22.3 .1h1.4m-.5 0h1.4m3.1 0h1.4m-11.1 .1h1.4m-1.1 0h1.4m.6 0h1.4m5.3 0h1.4m-1.1 0h1.4m-.6 0h1.4m11.2 0h1.4m1.7 0h1.4m3.6 0h1.4m.9 0h1.4m-1.2 0h1.4m-26.4 .1h1.4m4.5 0h1.4m6.5 0h1.4m3.2 0h1.4m-.7 0h1.4m-28.4 .1h1.4m14.7 0h1.4m2 0h1.4m-19.5 .1h1.4m3.5 0h1.4m19.4 0h1.4m.5 0h1.4m-29.5 .1h1.4m8.2 0h1.4m9 0h1.4m5.8 0h1.4m-28.8 .1h1.4m.6 0h1.4m7.4 .1h1.4m-.4 0h1.4m0 0h1.4m10.5 0h1.4m-29.5 .1h1.4m-.4 0h1.4m2.6 0h1.4m1 0h1.4m7.3 0h1.4m3.9 0h1.4m2.5 0h1.4m3.1 0h1.4m-.2 0h1.4m-33.4 .1h1.4m.2 0h1.4m14.3 0h1.4m8 0h1.4m.7 0h1.4m-27.3 .1h1.4m4.6 0h1.4m-1.3 0h1.4m-.3 .1h1.4m22.9 0h1.4m-33.4 .1h1.4m.7 0h1.4m11.6 0h1.4m1.8 0h1.4m-.8 0h1.4m-20.8 .1h1.4m0 0h1.4m9.9 0h1.4m19.8 0h1.4m-32.6 .1h1.4m13.1 0h1.4m-12.6 .1h1.4m-8.7 .1h1.4m-.1 0h1.4m11.2 0h1.4m8.2 0h1.4m-.8 0h1.4m7.4 0h1.4m-29 .1h1.4m5.6 0h1.4m-1 0h1.4m11.5 0h1.4m.5 0h1.4m-.9 0h1.4m4.7 0h1.4m-31.5 .1h1.4m15.6 0h1.4m-5.2 .1h1.4m10 0h1.4m5.5 0h1.4m-1.2 0h1.4m-32.2 .1h1.4m.8 0h1.4m8 0h1.4m8.8 0h1.4m-24.9 .1h1.4m18.9 0h1.4m10.2 0h1.4m-32.5 .1h1.4m8.9 0h1.4m3.3 0h1.4m1.3 0h1.4m2.1 0h1.4m1.1 0h1.4m.5 0h1.4m-25.1 .1h1.4m2.8 0h1.4m4.1 .1h1.4m4.5 .1h1.4m9.1 0h1.4m-32.6 .1h1.4m13.2 0h1.4m17.5 0h1.4m-33.6 .1h1.4m4.1 0h1.4m-4.4 .2h1.4m15.1 0h1.4m-.1 0h1.4m-.4 0h1.4m9.5 0h1.4m-23.8 .1h1.4m11.2 0h1.4m-24.2 .3h1.4m-3.1 .1h1.4m3 0h1.4m16.3 0h1.4m-13.8 .1h1.4m15.9 0h1.4m-26.4 .1h1.4m2.9 0h1.4m6.9 0h1.4m3.9 0h1.4m12 0h1.4m-35.3 .1h1.4m7.5 0h1.4m6.9 0h1.4m7.5 0h1.4m7.2 0h1.4m-24.2 .1h1.4m-7.9 .1h1.4m7 0h1.4m8.1 0h1.4m-1 0h1.4m-22.8 .1h1.4m15.3 0h1.4m3.5 0h1.4m-19.4 .1h1.4m23.9 0h1.4m-27.6 .2h1.4m-4.6 .4h1.4m1.7 .1h1.4m17.3 0h1.4m-22.3 .1h1.4m-2.4 .1h1.4m21.6 .4h1.4m-22 .2h1.4m5.2 0h1.4m8.7 .1h1.4m0 .1h1.4m-6.1 .6h1.4m8.3 .2h1.4m2.7 .1h1.4m-28 .1h1.4m28.6 .4h1.4m-34.9 .2h1.4m17.5 .2h1.4m2.6 .4h1.4m9.5 .2h1.4m-2.9 .5h1.4m-.6 0h1.4m-3.2 .5h1.4m-21.5 .1h1.4m13.6 .1h1.4m3.2 .1h1.4m-27 .1h1.4m27.4 .2h1.4m-35.7 .5h1.4m22.1 0h1.4" stroke="#1667b4" stroke-width="1.4"/><path d="M185.1 47h1m9.3 .3h1m-3.3 .4h1m1 .4h1m-7.8 .1h1m8.3 .1h1m-23.4 .1h1m-7.9 .3h1m28.8 .3h1m-22 .3h1m4.6 0h1m-19.6 .2h1m17.1 0h1m-9.5 .1h1m-4.9 .2h1m23.4 .1h1m3.2 .1h1m-27.2 .3h1m5.3 0h1m9.6 .1h1m-19.1 .1h1m12 0h1m4.2 0h1m-9.7 .1h1m11.3 .1h1m-5.3 .1h1m-17.1 .1h1m-8.3 .4h1m13.4 0h1m-12 .2h1m-3.6 .1h1m3.5 0h1m15.9 .1h1m4.6 .1h1m-16.1 .2h1m14.5 0h1m4.2 .1h1m-29.4 .4h1m20.8 0h1m-17.8 .1h1m.1 0h1m3.3 0h1m17.2 0h1m-31.1 .5h1m11.2 0h1m8.2 0h1m-12.4 .1h1m15.5 0h1m-15.8 .2h1m-14.1 .2h1m8.7 .2h1m15.1 0h1m4.4 0h1m-19 .1h1m-13.9 .3h1m8.9 .2h1m7.3 0h1m7.1 0h1m-14.8 .2h1m17.6 0h1m-30 .1h1m25.1 0h1m-27.3 .1h1m8.6 0h1m.5 .1h1m-5.7 .1h1m22.7 0h1m-14.1 .1h1m10.9 0h1m-34.7 .1h1m2.6 .3h1m-4 .1h1m30.1 .3h1m-7 .2h1m-25.8 .1h1m19 0h1m-7.2 .4h1m10.1 0h1m-9.7 .1h1m-.7 .1h1m14.3 0h1m-7.4 .1h1m-24.4 .3h1m9.9 .5h1" stroke="#f0f4f8" stroke-width="1" stroke-opacity="0.7"/><path d="M194.9 58.7h1.3m-21 2.1h1.3m-8.8 2.5h1.3m-4.8 2.4h1.3m13.9 .1h1.3m-7 2.1h1.3m8.7 0h1.3m2.8 3.1h1.3m.1 1.3h1.3m-27.1 3.9h1.3m10.6 1.2h1.3m-4.5 .1h1.3m22.1 3.8h1.3m1.2 3h1.3m-24.3 1.1h1.3m11.1 2.3h1.3m-5.3 4.2h1.3m-2.6 4.3h1.3m-9.2 4.1h1.3m11.2 1.7h1.3m-9.4 1.1h1.3" stroke="#3a80bb" stroke-width="1.3"/><path d="M163.8 114.9h1.3m12.1 3.7h1.3m-1.4 7.5h1.3m-8 19.7h1.3" stroke="#8a8a8a" stroke-width="1.3"/><path d="M202 44.7L240 44.7V59.2L202 59.2z" fill="url(#g11)"/><path d="M205.2 42.7h1.4m12.6 0h1.4m7.8 .2h1.4m-14.2 1h1.4m-.1 .5h1.4m.7 0h1.4m4.2 .1h1.4m-15.1 .2h1.4m22.2 0h1.4m-16.9 .2h1.4m11 .1h1.4m2.3 .2h1.4m-22.8 1h1.4m-3.5 .4h1.4m6.4 0h1.4m5.4 0h1.4m-25.8 .1h1.4m21.5 .1h1.4m1.1 .2h1.4m-2.7 .1h1.4m5.2 0h1.4m-24 .2h1.4m-6.1 .1h1.4m5.3 0h1.4m24.8 0h1.4m-35.5 .1h1.4m.1 0h1.4m.7 0h1.4m3.4 0h1.4m20.7 0h1.4m-7.5 .1h1.4m-1.3 0h1.4m1.4 .1h1.4m-28.2 .1h1.4m7.3 .1h1.4m13.7 0h1.4m8.2 .1h1.4m-36.6 .1h1.4m4.3 0h1.4m5.2 0h1.4m3 0h1.4m2.5 0h1.4m-21.7 .1h1.4m18.9 0h1.4m3.3 0h1.4m3.5 0h1.4m3.5 0h1.4m-15.2 .1h1.4m9.7 0h1.4m.5 0h1.4m-2.3 .1h1.4m-31.1 .1h1.4m14.8 0h1.4m5.5 0h1.4m.6 0h1.4m2.7 0h1.4m-26.9 .1h1.4m-1.3 0h1.4m-1.4 .1h1.4m11.9 0h1.4m-1 0h1.4m-13.6 .1h1.4m5.1 0h1.4m-11.8 .1h1.4m16.7 0h1.4m-13.3 .1h1.4m7.4 0h1.4m-.8 0h1.4m3.8 0h1.4m6.3 0h1.4m1.1 0h1.4m-26.2 .1h1.4m4.5 0h1.4m1.9 0h1.4m4.7 0h1.4m-.9 0h1.4m3.2 0h1.4m-30.2 .1h1.4m.2 0h1.4m10.6 0h1.4m1.8 0h1.4m-1 0h1.4m-1 0h1.4m3.1 0h1.4m6.1 0h1.4m-25.8 .1h1.4m-.5 0h1.4m1.5 0h1.4m1.5 0h1.4m2 0h1.4m8.6 0h1.4m-24.1 .1h1.4m6.1 0h1.4m4.5 0h1.4m3.9 0h1.4m-25.6 .1h1.4m12.4 .1h1.4m2.7 0h1.4m2.4 0h1.4m-20.2 .1h1.4m15.7 0h1.4m.5 0h1.4m.9 0h1.4m3.4 0h1.4m-1.4 0h1.4m-1.2 0h1.4m4.5 0h1.4m-30.6 .1h1.4m2.8 0h1.4m3.6 0h1.4m.1 0h1.4m7.6 0h1.4m-26.7 .1h1.4m8.8 0h1.4m15.1 0h1.4m-14.3 .1h1.4m8.1 0h1.4m9.9 0h1.4m-18.2 .1h1.4m7.3 0h1.4m-28.9 .1h1.4m3.1 0h1.4m1.9 0h1.4m.7 0h1.4m-.6 .1h1.4m-.9 0h1.4m2.3 0h1.4m3.5 0h1.4m4.1 0h1.4m2.9 0h1.4m-30.3 .1h1.4m2.4 0h1.4m9.4 0h1.4m7.7 0h1.4m5.7 0h1.4m-19.3 .1h1.4m-.9 0h1.4m-10.7 .1h1.4m17.5 0h1.4m1.9 0h1.4m-1.1 0h1.4m.4 0h1.4m1.3 0h1.4m-29.5 .1h1.4m5.5 0h1.4m-1.2 0h1.4m7.1 0h1.4m-.8 0h1.4m-1.3 0h1.4m7.2 0h1.4m2.2 0h1.4m3.2 0h1.4m-38.4 .1h1.4m.3 0h1.4m6 0h1.4m-.4 0h1.4m.2 0h1.4m5.4 0h1.4m.3 0h1.4m-19.1 .1h1.4m3.7 0h1.4m1.6 0h1.4m8.8 0h1.4m3 0h1.4m10.5 0h1.4m-31.2 .1h1.4m3.1 0h1.4m2.3 0h1.4m3.6 0h1.4m.2 0h1.4m2.7 0h1.4m6.6 0h1.4m-21.5 .1h1.4m8.4 0h1.4m2.9 0h1.4m-20.2 .1h1.4m2.2 0h1.4m5 0h1.4m-1.1 0h1.4m13.5 0h1.4m-1 0h1.4m-36.1 .1h1.4m2.6 0h1.4m3.1 0h1.4m10.7 0h1.4m-.5 0h1.4m.1 0h1.4m-19.2 .1h1.4m2.6 0h1.4m1.1 0h1.4m-.6 0h1.4m21 0h1.4m-33.3 .1h1.4m9 0h1.4m.4 0h1.4m3.5 0h1.4m.2 0h1.4m-.9 0h1.4m-12 .1h1.4m10.8 0h1.4m-18.7 .1h1.4m5.7 0h1.4m3 0h1.4m.3 0h1.4m1.6 0h1.4m11.5 0h1.4m-16.4 .1h1.4m12.5 0h1.4m-28.3 .1h1.4m3.9 0h1.4m4 0h1.4m4.4 0h1.4m-1.2 0h1.4m3.1 0h1.4m1.6 0h1.4m.2 0h1.4m.3 0h1.4m-31.2 .1h1.4m1.8 0h1.4m2.7 0h1.4m8.4 0h1.4m3.6 0h1.4m-17.4 .1h1.4m1.9 0h1.4m11.8 0h1.4m-1 0h1.4m2.9 0h1.4m-.6 0h1.4m-35.1 .1h1.4m11 0h1.4m1.8 0h1.4m-.5 0h1.4m-1.3 0h1.4m10.7 0h1.4m-.5 0h1.4m3.8 0h1.4m-34.1 .1h1.4m8.5 0h1.4m2.1 0h1.4m19.4 0h1.4m-24.8 .1h1.4m-1.3 0h1.4m1.6 0h1.4m-.3 0h1.4m5.5 0h1.4m-.5 0h1.4m1 0h1.4m-26.6 .1h1.4m-.4 0h1.4m12 0h1.4m1 0h1.4m.8 0h1.4m-.9 0h1.4m-1.3 0h1.4m-.9 0h1.4m-1 0h1.4m-.5 0h1.4m-.9 0h1.4m2.4 0h1.4m-.2 0h1.4m-21.9 .1h1.4m16.9 0h1.4m2.2 0h1.4m4.6 0h1.4m-23.4 .1h1.4m2.1 0h1.4m16.3 0h1.4m-34.2 .1h1.4m-.4 0h1.4m-.7 0h1.4m-1.2 0h1.4m-1.1 0h1.4m10.9 0h1.4m4.9 0h1.4m1.2 0h1.4m3.9 0h1.4m-.1 0h1.4m.8 0h1.4m-28.6 .1h1.4m0 0h1.4m2.2 0h1.4m3.4 0h1.4m8.5 0h1.4m-28.9 .1h1.4m3.1 0h1.4m9.6 0h1.4m2.9 0h1.4m8.5 0h1.4m4.3 0h1.4m.1 0h1.4m-35.3 .1h1.4m17.8 0h1.4m2.6 0h1.4m9.3 0h1.4m-26.4 .1h1.4m4.1 0h1.4m16.7 0h1.4m-35.8 .1h1.4m16.1 0h1.4m9.5 0h1.4m4.4 0h1.4m-.3 0h1.4m-18.6 .1h1.4m-.5 0h1.4m7.4 0h1.4m1.6 0h1.4m-18.7 .1h1.4m2.2 0h1.4m-.5 0h1.4m0 0h1.4m1.5 0h1.4m8.8 0h1.4m-33.7 .1h1.4m12 0h1.4m12.8 0h1.4m.4 0h1.4m-21 .1h1.4m8.3 0h1.4m-22.1 .1h1.4m9.3 0h1.4m10.6 0h1.4m4.8 0h1.4m-25.9 .1h1.4m1.2 0h1.4m14.1 0h1.4m3.4 0h1.4m6.1 0h1.4m-36 .1h1.4m3.7 0h1.4m-5.5 .1h1.4m5.5 0h1.4m3.4 0h1.4m2.4 0h1.4m13.6 0h1.4m-15 .1h1.4m-9.6 .1h1.4m-.8 0h1.4m6.6 0h1.4m5.6 0h1.4m2.2 0h1.4m2.1 0h1.4m-28.9 .1h1.4m5 0h1.4m21.1 0h1.4m-31.1 .1h1.4m5.1 0h1.4m11.4 0h1.4m5.7 0h1.4m.4 0h1.4m.5 0h1.4m-35.4 .1h1.4m.7 0h1.4m12.5 0h1.4m2.7 0h1.4m4.1 0h1.4m3.3 0h1.4m1.6 0h1.4m.4 0h1.4m-36.6 .1h1.4m.7 0h1.4m1 0h1.4m2.4 0h1.4m4.3 0h1.4m6.9 0h1.4m3.2 0h1.4m1.9 0h1.4m.8 0h1.4m-30 .1h1.4m6.3 0h1.4m8.4 .1h1.4m1 0h1.4m5.4 0h1.4m-20.7 .1h1.4m4.3 0h1.4m-18.1 .1h1.4m-1.1 0h1.4m7.6 0h1.4m.4 0h1.4m-1.1 0h1.4m13.6 .1h1.4m8.5 0h1.4m-19.7 .1h1.4m.1 0h1.4m-7.7 .1h1.4m6.9 0h1.4m-10.6 .1h1.4m3.6 0h1.4m8.5 0h1.4m7.5 0h1.4m-37.6 .1h1.4m4.8 0h1.4m7.6 0h1.4m7.5 0h1.4m.7 0h1.4m2.9 0h1.4m-32.3 .1h1.4m3 0h1.4m6.8 0h1.4m3.3 0h1.4m3.2 0h1.4m1.2 0h1.4m9.1 0h1.4m-1 0h1.4m-10.4 .1h1.4m-.8 0h1.4m.7 0h1.4m-1.1 0h1.4m-7.7 .1h1.4m12 .1h1.4m-1.4 0h1.4m-34 .1h1.4m.8 0h1.4m24.1 0h1.4m-24.2 .1h1.4m15.9 0h1.4m-1.4 0h1.4m-17.9 .1h1.4m22.5 0h1.4m-28.8 .2h1.4m4.6 0h1.4m15.3 0h1.4m6 0h1.4m-34.2 .1h1.4m10.6 0h1.4m1.5 0h1.4m13.9 0h1.4m-29.9 .1h1.4m-.6 0h1.4m23.5 0h1.4m2.3 0h1.4m-26.3 .1h1.4m-.8 .1h1.4m1.4 0h1.4m3.2 0h1.4m7.1 0h1.4m4 0h1.4m-1.4 0h1.4m-21.7 .1h1.4m2.1 0h1.4m17.4 0h1.4m-24.1 .1h1.4m21.5 0h1.4m-.5 .1h1.4m-28.5 .1h1.4m2.5 0h1.4m.8 0h1.4m1.3 0h1.4m17.9 .1h1.4m-9.5 .1h1.4m-27 .1h1.4m7.4 0h1.4m-3.3 .1h1.4m23.5 .1h1.4m-32.5 .2h1.4m14.6 0h1.4m3.2 .1h1.4m-23.6 .1h1.4m9 .1h1.4m11.7 0h1.4m-10.1 .2h1.4m1.5 0h1.4m9.5 0h1.4m-14.5 .2h1.4m-10.5 .1h1.4m1.1 0h1.4m13.4 0h1.4m5.9 0h1.4m-27.2 .2h1.4m2.5 .4h1.4m.2 .3h1.4m-4.9 .1h1.4m-5.7 .1h1.4m2.3 .2h1.4m20.2 0h1.4m-20.6 .1h1.4m-1.1 .2h1.4m4.6 0h1.4m10.7 .3h1.4m-19 .6h1.4m-2.2 .6h1.4m-8.1 .4h1.4m-1.2 .2h1.4m13 .1h1.4m13.7 .3h1.4m-32.5 .1h1.4m29.2 .2h1.4m-18.8 1.2h1.4m-4.5 .3h1.4m22.5 .4h1.4m-3.7 .9h1.4m-24.5 .6h1.4m14.7 .8h1.4m-10.5 .3h1.4m9.5 .6h1.4" stroke="#1667b4" stroke-width="1.4"/><path d="M220.4 46.1h1m-.3 0h1m10.4 .2h1m-10.4 .3h1m-10.7 .5h1m2.9 0h1m-11.4 .3h1m12.8 .1h1m-4.1 .3h1m10.3 .3h1m9 0h1m-14 .1h1m3.9 0h1m-18.7 .3h1m24.8 .1h1m-25 .2h1m20.6 .2h1m-25.8 .1h1m-5.7 .1h1m15.4 0h1m-16.2 .2h1m10 .3h1m-.1 0h1m4.2 0h1m1.1 .1h1m-3.8 .1h1m-15.7 .1h1m8.4 0h1m-5 .3h1m-10.4 .4h1m-2.8 .1h1m7.2 0h1m24.3 0h1m-4.1 .1h1m-25.4 .1h1m-1 0h1m24.1 0h1m-15.6 .1h1m-18.3 .1h1m22.7 0h1m-23 .2h1m1.7 0h1m1.5 .1h1m16.9 .3h1m-14.1 .1h1m22.5 .3h1m-28.1 .2h1m23.4 0h1m-9.1 .2h1m-22.4 .1h1m21.9 0h1m-17.9 .1h1m7.5 0h1m-11.1 .1h1m17.1 0h1m5.2 0h1m-4.1 .1h1m2.6 .1h1m-32.2 .1h1m25.8 .1h1m-16.3 .2h1m10.3 .1h1m10.9 0h1m-33.8 .3h1m6.7 0h1m-12.6 .1h1m1.8 0h1m-3.6 .2h1m34.2 .1h1m-30.6 .1h1m.1 .3h1m9.7 .1h1m-5.4 .2h1m-12.3 .2h1m31.6 .2h1m-27.7 .2h1m7 0h1m-2.3 .1h1m3.6 0h1m13.7 .1h1m-2.4 .4h1m-14.7 .2h1m-16.3 .6h1m-1.2 .2h1m19.3 .1h1m-18.3 .5h1" stroke="#f0f4f8" stroke-width="1" stroke-opacity="0.7"/><path d="M212.2 59.1h1.3m6.2 .9h1.3m10.8 .2h1.3m-30.9 4.2h1.3m-.9 .7h1.3m11.1 .2h1.3m21.9 2.3h1.3m-35.7 .9h1.3m25.7 .8h1.3m-21 4.7h1.3m.2 2.4h1.3m-7.8 1.7h1.3m11.9 .7h1.3m-8.3 4.2h1.3m9.1 10.2h1.3m8.1 2.2h1.3m-31.3 1.6h1.3m2.1 .4h1.3m8.2 2.7h1.3m-4.1 1h1.3m15.7 3.4h1.3m-11.4 4.2h1.3" stroke="#3a80bb" stroke-width="1.3"/><path d="M206.9 124.3h1.3m23.5 9.9h1.3m3.4 0h1.3" stroke="#8a8a8a" stroke-width="1.3"/><path d="M241.2 47L272.9 47V59.2L241.2 59.2z" fill="url(#g12)"/><path d="M263.9 43.3h1.4m-10 .5h1.4m-3 1.2h1.4m-10.8 .7h1.4m3.1 .8h1.4m1.3 .4h1.4m2.5 0h1.4m-8.3 .1h1.4m-1.5 .1h1.4m3.7 0h1.4m3.9 1.2h1.4m6.8 0h1.4m2.1 .2h1.4m-3.1 .1h1.4m.6 .3h1.4m-13 .1h1.4m2.5 .1h1.4m-9.3 .1h1.4m-8.8 .1h1.4m-2.8 .1h1.4m-.5 0h1.4m22.7 0h1.4m-31.4 .1h1.4m11.4 0h1.4m7.6 0h1.4m-2.5 .1h1.4m-6.7 .1h1.4m2.9 0h1.4m6.5 0h1.4m-1.6 .1h1.4m-28.9 .1h1.4m1.8 0h1.4m-.2 0h1.4m1.6 0h1.4m5.3 0h1.4m11 0h1.4m.8 0h1.4m-1 0h1.4m-14 .1h1.4m8.1 0h1.4m-22.9 .1h1.4m3.9 0h1.4m1.9 0h1.4m-1 0h1.4m12.7 0h1.4m-13.5 .2h1.4m11.1 0h1.4m-14.7 .1h1.4m10.7 0h1.4m-.6 0h1.4m-28.8 .1h1.4m2.3 0h1.4m-3.9 .1h1.4m3.5 0h1.4m4.5 0h1.4m15.4 0h1.4m-30.3 .1h1.4m-.8 0h1.4m.6 0h1.4m19 0h1.4m-.4 0h1.4m-5.9 .1h1.4m-1 0h1.4m7.9 0h1.4m-1.4 0h1.4m-13.8 .1h1.4m1.5 0h1.4m3.9 0h1.4m-15.8 .1h1.4m.7 0h1.4m10.4 0h1.4m0 0h1.4m-24.1 .1h1.4m2.8 0h1.4m4.1 0h1.4m12.4 0h1.4m-26.3 .1h1.4m-.5 0h1.4m10.1 0h1.4m1.6 0h1.4m.2 0h1.4m4.3 0h1.4m2.2 0h1.4m-24.6 .2h1.4m-.8 0h1.4m11.2 0h1.4m7.3 0h1.4m1 0h1.4m-13.8 .1h1.4m4.6 0h1.4m-20.1 .1h1.4m1 0h1.4m-.6 0h1.4m17.4 0h1.4m-24 .1h1.4m-.6 0h1.4m1.7 0h1.4m5 0h1.4m.2 0h1.4m-1.3 0h1.4m9.5 0h1.4m-1.3 0h1.4m-.7 0h1.4m-1.1 0h1.4m-26.6 .1h1.4m-.1 0h1.4m4.3 0h1.4m4.6 0h1.4m8.5 0h1.4m-26.8 .1h1.4m9.5 0h1.4m3.2 0h1.4m3.2 0h1.4m.6 0h1.4m0 0h1.4m1.3 0h1.4m-1 0h1.4m1.2 0h1.4m-29.7 .1h1.4m-.1 0h1.4m-1 0h1.4m-.7 0h1.4m4.7 0h1.4m3 0h1.4m-.3 0h1.4m3.2 0h1.4m3.9 0h1.4m-26.3 .1h1.4m3.7 0h1.4m.2 0h1.4m2.6 0h1.4m1.8 0h1.4m.5 0h1.4m.5 0h1.4m-.8 0h1.4m9.8 0h1.4m-5.1 .1h1.4m.9 0h1.4m-28.3 .1h1.4m1.9 0h1.4m1.1 0h1.4m9.1 0h1.4m-1 0h1.4m.9 0h1.4m-1 0h1.4m1.7 0h1.4m2.5 0h1.4m-25.9 .1h1.4m5.6 0h1.4m.3 0h1.4m.6 0h1.4m6.8 0h1.4m-22.1 .1h1.4m8.8 0h1.4m2.1 0h1.4m2.7 0h1.4m6.3 0h1.4m-22.8 .1h1.4m.1 0h1.4m1.1 0h1.4m.7 0h1.4m3.7 0h1.4m.7 0h1.4m-15.9 .1h1.4m-1 0h1.4m.6 0h1.4m2.5 0h1.4m1.9 0h1.4m-.8 0h1.4m-.9 0h1.4m12.8 0h1.4m-.8 0h1.4m-28.6 .1h1.4m-1.2 0h1.4m5.3 0h1.4m-1.2 0h1.4m2 0h1.4m1.8 0h1.4m4.6 0h1.4m-21.9 .1h1.4m2.2 0h1.4m3.8 0h1.4m-.9 0h1.4m6 0h1.4m3.9 0h1.4m-21.5 .1h1.4m-1.1 0h1.4m-.9 0h1.4m1.2 0h1.4m5.3 0h1.4m.5 0h1.4m-.2 0h1.4m.5 0h1.4m2.8 0h1.4m2.6 0h1.4m0 0h1.4m-.6 0h1.4m-23.9 .1h1.4m11.6 0h1.4m-20.3 .1h1.4m-.5 0h1.4m18.7 0h1.4m4.3 0h1.4m-27.2 .1h1.4m-.6 0h1.4m.6 0h1.4m9.8 0h1.4m1.5 0h1.4m.5 0h1.4m2.9 0h1.4m4.5 0h1.4m-19 .1h1.4m.6 0h1.4m11 0h1.4m-23.2 .1h1.4m-.3 0h1.4m.9 0h1.4m4.4 0h1.4m-.7 0h1.4m2.3 0h1.4m5.6 0h1.4m1.6 0h1.4m-26.2 .1h1.4m9 0h1.4m2 0h1.4m9.4 0h1.4m.1 0h1.4m-28.5 .1h1.4m-1.4 0h1.4m-.4 0h1.4m14.4 0h1.4m3.4 0h1.4m-25.2 .1h1.4m2.2 0h1.4m8.6 0h1.4m-.1 0h1.4m-1.4 0h1.4m8.2 0h1.4m-26.5 .1h1.4m8.5 0h1.4m.6 0h1.4m3.2 0h1.4m5.2 0h1.4m-.1 0h1.4m-20 .1h1.4m5.6 0h1.4m5.5 0h1.4m-21.6 .1h1.4m5.8 0h1.4m1.8 0h1.4m-1.3 0h1.4m-.7 0h1.4m.4 0h1.4m3.3 0h1.4m1 0h1.4m5.2 0h1.4m-.6 0h1.4m-3.9 .1h1.4m0 0h1.4m-23.9 .1h1.4m3.4 0h1.4m-.8 0h1.4m.2 0h1.4m1.9 0h1.4m6.7 0h1.4m5.1 0h1.4m-27.3 .1h1.4m10.7 0h1.4m.9 0h1.4m8.4 0h1.4m-.2 0h1.4m-.5 0h1.4m-30.3 .1h1.4m1.9 0h1.4m7.6 0h1.4m6.3 0h1.4m-.3 0h1.4m3.3 0h1.4m.2 0h1.4m-.8 0h1.4m-16 .1h1.4m-1.4 0h1.4m3 0h1.4m5.4 0h1.4m2.6 0h1.4m-.8 0h1.4m-27.2 .1h1.4m19.6 0h1.4m2.1 0h1.4m-19.7 .1h1.4m-.2 0h1.4m12 0h1.4m4.5 0h1.4m-25.1 .1h1.4m20.5 0h1.4m-22 .1h1.4m20.4 0h1.4m-31 .1h1.4m-1.3 0h1.4m-.2 0h1.4m1.6 0h1.4m2.3 0h1.4m0 0h1.4m.7 0h1.4m11.5 0h1.4m1.7 0h1.4m-7 .1h1.4m4.9 0h1.4m-.3 0h1.4m-16.9 .1h1.4m7.6 0h1.4m4.1 0h1.4m-24.8 .1h1.4m2.8 0h1.4m9 0h1.4m-13.6 .1h1.4m1.5 0h1.4m-1.3 0h1.4m-.9 0h1.4m.5 0h1.4m4.1 .1h1.4m6.1 0h1.4m-.6 0h1.4m-20.9 .1h1.4m19.4 0h1.4m1 0h1.4m-1.4 0h1.4m-27.1 .1h1.4m6.4 0h1.4m6.5 0h1.4m-20.8 .1h1.4m15.7 0h1.4m2.2 0h1.4m-11.5 .1h1.4m-.4 0h1.4m.5 0h1.4m-9.8 .1h1.4m4.8 0h1.4m-1.2 0h1.4m-6.5 .1h1.4m-2.8 .1h1.4m18.1 0h1.4m0 0h1.4m-9.3 .1h1.4m7 0h1.4m-24.4 .1h1.4m3 0h1.4m5.6 0h1.4m4.2 0h1.4m-16 .1h1.4m9.5 0h1.4m-.5 0h1.4m7.6 0h1.4m.3 0h1.4m-20.4 .1h1.4m10 .1h1.4m1.1 0h1.4m-.6 0h1.4m-24.4 .1h1.4m11.2 0h1.4m-13.9 .1h1.4m3.7 0h1.4m-.1 0h1.4m.1 0h1.4m-.1 0h1.4m.8 0h1.4m-12.2 .1h1.4m21.5 0h1.4m-16.9 .1h1.4m-.6 0h1.4m4.2 0h1.4m1.2 0h1.4m-19.3 .1h1.4m3.7 0h1.4m2.1 .1h1.4m1.5 0h1.4m-1.3 0h1.4m-1.2 0h1.4m8.2 0h1.4m.5 0h1.4m2.9 .2h1.4m-.5 0h1.4m-30.7 .1h1.4m-.6 0h1.4m14 0h1.4m-6.5 .1h1.4m11.5 0h1.4m-19.3 .1h1.4m15.9 0h1.4m-.7 0h1.4m-3.9 .4h1.4m-3 .3h1.4m-11.6 .2h1.4m-6.9 .1h1.4m4.8 .2h1.4m15.7 .1h1.4m-23.4 .1h1.4m7.3 .1h1.4m10.4 .1h1.4m-14.6 .8h1.4m-9 .3h1.4m19.6 0h1.4m-3.8 .1h1.4m-4.2 .5h1.4m7.4 .3h1.4m-12.9 1.1h1.4m5.4 .1h1.4m-18.7 .9h1.4m11.7 .2h1.4m-7.3 .1h1.4m3.6 .6h1.4m5.2 .5h1.4m-10.4 .2h1.4m6.7 0h1.4" stroke="#1667b4" stroke-width="1.4"/><path d="M249.4 49.2h1m-8.3 .3h1m10.3 .4h1m17.3 .4h1m-21.3 .2h1m14.1 .2h1m-19.5 .1h1m20.8 0h1m-.4 .2h1m-28.2 .2h1m6.5 0h1m16.4 .1h1m1.1 0h1m-20.5 .1h1m19.7 .1h1m-23.6 .1h1m-2.6 .2h1m20.7 0h1m-13.4 .2h1m3 0h1m5 0h1m2 0h1m.4 0h1m-30.3 .1h1m11.2 0h1m16.4 0h1m-30.6 .1h1m8.4 .1h1m12.6 .1h1m2.4 0h1m-13.6 .1h1m-4.3 .1h1m13.6 0h1m-16.5 .1h1m3.6 0h1m-.5 0h1m6.9 0h1m-12.8 .1h1m12.1 0h1m3 .1h1m-10.7 .1h1m6.4 .1h1m-17.3 .1h1m2.7 0h1m-5.2 .1h1m9.2 0h1m-14.2 .2h1m6.9 .1h1m.1 0h1m5.6 .2h1m.4 0h1m-3.9 .1h1m4.3 0h1m-15.4 .1h1m18 0h1m-19.2 .1h1m11.2 0h1m-7.1 .2h1m.7 .1h1m6.8 .2h1m-20.1 .1h1m-.9 .1h1m7.3 .1h1m1 .3h1m9.8 .2h1m-29.8 .2h1m.4 .3h1m17.6 .1h1m-13.7 .6h1m2.6 .1h1m15.5 .2h1m-6.6 .2h1" stroke="#f0f4f8" stroke-width="1" stroke-opacity="0.7"/><path d="M252.8 58.2h1.3m14.4 3.2h1.3m-7.5 .4h1.3m-11.6 .4h1.3m10.1 .7h1.3m-21.8 .1h1.3m25.9 1.3h1.3m-8.3 .9h1.3m-17.6 .6h1.3m.6 1h1.3m6.7 .3h1.3m9.6 .8h1.3m-5.9 .3h1.3m-15.6 2.5h1.3m19.5 .4h1.3m-8.5 .9h1.3m-19.6 .5h1.3m-3.7 .7h1.3m17.1 .4h1.3m7.6 1.8h1.3m-5.5 1.6h1.3m1.2 3.6h1.3m-17.9 6.2h1.3m-8.1 .6h1.3m14.6 4.2h1.3m6.6 0h1.3m-16.3 1.6h1.3m10.4 0h1.3m3.4 7h1.3" stroke="#3a80bb" stroke-width="1.3"/><path d="M270.5 114.5h1.3m-13 19.6h1.3m10.9 1.5h1.3m-21.3 1.5h1.3m10.5 1.9h1.3m-2.4 10.3h1.3" stroke="#8a8a8a" stroke-width="1.3"/><path d="M274.1 60.8L314.2 60.8V74.7L274.1 74.7z" fill="url(#g13)"/><path d="M297.1 57.6h1.4m-6.3 .2h1.4m-15.5 .9h1.4m25.5 .6h1.4m-32.1 .5h1.4m30.1 .3h1.4m4 0h1.4m-31.5 .4h1.4m4.6 0h1.4m-9.8 .1h1.4m13.2 .1h1.4m-.5 .2h1.4m-12.8 .2h1.4m1.7 .1h1.4m8.6 .8h1.4m-5.9 .1h1.4m-8.8 .1h1.4m18.6 0h1.4m-25.6 .1h1.4m-2.8 .2h1.4m20.1 0h1.4m-22.5 .1h1.4m-.3 0h1.4m11.3 0h1.4m19 0h1.4m-33.1 .1h1.4m-7.6 .1h1.4m5.3 0h1.4m2.1 .1h1.4m1.5 .1h1.4m-14 .1h1.4m17.8 0h1.4m10.2 0h1.4m-31 .1h1.4m1.5 0h1.4m-4.7 .1h1.4m27.1 0h1.4m5.7 0h1.4m-37.1 .1h1.4m14.3 0h1.4m4.2 0h1.4m1.1 0h1.4m4.3 0h1.4m-32.1 .1h1.4m29.7 0h1.4m-19.3 .3h1.4m23.2 0h1.4m-39.6 .1h1.4m12.3 0h1.4m-9.6 .1h1.4m-1 0h1.4m15.5 0h1.4m8 0h1.4m-.3 0h1.4m-32 .1h1.4m15.4 0h1.4m2.2 0h1.4m4.6 0h1.4m-11.3 .1h1.4m15.9 0h1.4m-25.8 .1h1.4m16.2 0h1.4m-28.6 .1h1.4m.1 0h1.4m-.8 0h1.4m5 0h1.4m11.8 0h1.4m-24.1 .1h1.4m2 0h1.4m14.2 0h1.4m6.2 0h1.4m-29.3 .1h1.4m-1 0h1.4m4.8 0h1.4m3.1 0h1.4m11.3 0h1.4m6.1 0h1.4m-31.1 .1h1.4m-.7 0h1.4m2.3 0h1.4m26.1 0h1.4m-35.3 .1h1.4m16.1 0h1.4m5.5 0h1.4m8 0h1.4m-29.1 .1h1.4m-1 0h1.4m-.1 0h1.4m8.8 0h1.4m1.2 0h1.4m-.2 0h1.4m3.4 0h1.4m0 0h1.4m4.2 0h1.4m1.2 0h1.4m-13.3 .1h1.4m7.6 0h1.4m-34.1 .1h1.4m21.5 0h1.4m12.5 0h1.4m-.6 0h1.4m-37.6 .1h1.4m3.3 0h1.4m17.4 0h1.4m1.4 0h1.4m-.8 0h1.4m.9 0h1.4m.8 0h1.4m-1.2 0h1.4m-26.7 .1h1.4m12.8 0h1.4m-.6 0h1.4m-.4 0h1.4m-22.6 .1h1.4m1.4 0h1.4m.7 0h1.4m2.1 0h1.4m7.6 0h1.4m9.7 0h1.4m-27.7 .1h1.4m1.1 0h1.4m7.4 0h1.4m8.8 0h1.4m.6 0h1.4m2 0h1.4m-33.3 .1h1.4m-.9 0h1.4m-.7 0h1.4m4.6 0h1.4m18.1 0h1.4m-28.1 .1h1.4m14.9 0h1.4m.6 0h1.4m5.3 0h1.4m-25.3 .1h1.4m-.6 0h1.4m3.7 0h1.4m-.6 0h1.4m6.9 0h1.4m14.4 0h1.4m.8 0h1.4m-34.4 .1h1.4m11.2 0h1.4m18.7 0h1.4m-.8 0h1.4m-35.9 .1h1.4m4.6 0h1.4m8.2 0h1.4m2.9 0h1.4m3.6 0h1.4m.7 0h1.4m8.5 0h1.4m-35.9 .1h1.4m1.1 0h1.4m-.2 0h1.4m-.5 0h1.4m.9 0h1.4m-.7 0h1.4m.5 0h1.4m-.5 0h1.4m-.7 0h1.4m0 0h1.4m2.5 0h1.4m-20 .1h1.4m.4 0h1.4m4.1 0h1.4m20.7 0h1.4m3.1 0h1.4m-19.7 .1h1.4m15.9 0h1.4m-34 .1h1.4m8.7 0h1.4m10.9 0h1.4m4.9 0h1.4m-.6 0h1.4m5.5 0h1.4m-39.1 .1h1.4m10.5 0h1.4m-.2 0h1.4m6.3 0h1.4m2.4 0h1.4m5.1 0h1.4m-31.4 .1h1.4m5.7 0h1.4m-.3 0h1.4m3.9 0h1.4m-.3 0h1.4m-.1 0h1.4m2.1 0h1.4m2.5 0h1.4m-.1 0h1.4m-1.2 0h1.4m6.2 0h1.4m-34.8 .1h1.4m2.2 0h1.4m.8 0h1.4m10.3 0h1.4m-1.2 0h1.4m3.6 0h1.4m5.4 0h1.4m4.9 0h1.4m-35.9 .1h1.4m8.9 0h1.4m-.4 0h1.4m.6 0h1.4m-.6 0h1.4m.7 0h1.4m6.2 0h1.4m-26.2 .1h1.4m.5 0h1.4m5 0h1.4m-1.3 0h1.4m-.3 0h1.4m3.8 0h1.4m10.2 0h1.4m8.1 0h1.4m-32.7 .1h1.4m2.9 0h1.4m-1.2 0h1.4m12.4 0h1.4m.7 0h1.4m-.2 0h1.4m-17 .1h1.4m4 0h1.4m2.5 0h1.4m1.4 0h1.4m-.6 0h1.4m2.6 0h1.4m9.7 0h1.4m-36.9 .1h1.4m2.7 0h1.4m-.1 0h1.4m14.5 0h1.4m-1.2 0h1.4m-1 0h1.4m5.7 0h1.4m-26.9 .1h1.4m3.8 0h1.4m-.3 0h1.4m3.9 0h1.4m4.2 0h1.4m5.6 0h1.4m1.1 0h1.4m-.8 0h1.4m-33.8 .1h1.4m6 0h1.4m21.3 0h1.4m-.8 0h1.4m3.3 0h1.4m-38.5 .1h1.4m9.3 0h1.4m9.2 0h1.4m-.4 0h1.4m14.6 0h1.4m-1.2 0h1.4m-40.1 .1h1.4m11.7 0h1.4m4.8 0h1.4m4.6 0h1.4m-24.4 .1h1.4m4.5 0h1.4m4.1 0h1.4m-1.2 0h1.4m1.7 0h1.4m3.4 0h1.4m10.1 0h1.4m-16.9 .1h1.4m-1.3 0h1.4m7.4 0h1.4m0 0h1.4m1.3 0h1.4m-1.3 0h1.4m-.6 0h1.4m3 0h1.4m.9 0h1.4m-19.5 .1h1.4m17.3 0h1.4m-40.3 .1h1.4m1.3 0h1.4m.1 0h1.4m8.7 0h1.4m2.8 0h1.4m1.6 0h1.4m6 0h1.4m2.2 0h1.4m-33.7 .1h1.4m9.6 0h1.4m.2 0h1.4m2.2 0h1.4m.2 0h1.4m15.4 0h1.4m.5 0h1.4m-.4 0h1.4m-37.6 .1h1.4m9 0h1.4m12.2 0h1.4m-1.1 0h1.4m2.1 0h1.4m-18.1 .1h1.4m2 0h1.4m-1 0h1.4m5.1 0h1.4m-24.1 .1h1.4m.4 0h1.4m-.3 0h1.4m-.9 0h1.4m4 0h1.4m5.5 0h1.4m3.9 0h1.4m8 0h1.4m-27.2 .1h1.4m1.6 0h1.4m-.8 0h1.4m.9 0h1.4m3 0h1.4m4.8 0h1.4m-.4 0h1.4m-1 0h1.4m-.5 0h1.4m5.5 0h1.4m6.7 0h1.4m-34.1 .1h1.4m1 0h1.4m10 0h1.4m3.3 0h1.4m6.7 0h1.4m3.5 0h1.4m-21.7 .1h1.4m13.1 0h1.4m-28.2 .1h1.4m2 0h1.4m-.5 0h1.4m16.2 0h1.4m7.4 0h1.4m-35.1 .1h1.4m6.2 0h1.4m1.5 0h1.4m-1.5 .1h1.4m9.4 0h1.4m1.6 0h1.4m1.6 0h1.4m-.8 0h1.4m.7 0h1.4m.1 0h1.4m-33.9 .1h1.4m8 0h1.4m-1.3 0h1.4m1.3 0h1.4m3.9 0h1.4m3.7 0h1.4m1.8 0h1.4m-27 .1h1.4m7.4 0h1.4m2 0h1.4m2.2 0h1.4m15.5 0h1.4m1.7 0h1.4m.7 0h1.4m-35.7 .1h1.4m5.2 0h1.4m15.4 0h1.4m7.5 0h1.4m-.9 0h1.4m-37 .1h1.4m3 0h1.4m-1.2 0h1.4m3.7 0h1.4m7.7 0h1.4m1.4 0h1.4m14.4 0h1.4m-39.7 .1h1.4m2 0h1.4m2.5 0h1.4m5.8 0h1.4m9.6 0h1.4m3.7 0h1.4m5.1 0h1.4m-33.5 .1h1.4m-.5 0h1.4m4.6 0h1.4m1.6 0h1.4m3.6 0h1.4m-.4 0h1.4m14.1 0h1.4m-37.9 .1h1.4m1.5 0h1.4m17.1 0h1.4m10.1 0h1.4m-23.9 .1h1.4m15.1 0h1.4m9.1 0h1.4m-33.9 .1h1.4m-.9 0h1.4m5.2 0h1.4m-1.3 0h1.4m16.8 0h1.4m6.7 0h1.4m-36.2 .1h1.4m2 0h1.4m1.8 0h1.4m6.6 0h1.4m.8 0h1.4m6.9 0h1.4m-27.7 .1h1.4m.1 0h1.4m1 0h1.4m10.4 0h1.4m17.7 0h1.4m-1 0h1.4m-36.9 .1h1.4m1.6 0h1.4m6.8 0h1.4m13.5 0h1.4m2.2 0h1.4m-32 .1h1.4m.1 0h1.4m22 0h1.4m-23.4 .1h1.4m2.4 0h1.4m-1.2 0h1.4m4.3 0h1.4m8.7 0h1.4m3.5 0h1.4m-12.2 .1h1.4m2.6 0h1.4m1 0h1.4m-.4 0h1.4m.9 0h1.4m2.7 .1h1.4m-9.6 .1h1.4m7.2 0h1.4m2.2 0h1.4m-27.5 .1h1.4m-.2 0h1.4m2.2 0h1.4m1.3 0h1.4m14.6 0h1.4m-7.4 .1h1.4m-1.2 0h1.4m-6.2 .1h1.4m-19.5 .1h1.4m13.5 .2h1.4m-3 .1h1.4m-.7 0h1.4m11.4 0h1.4m-20.4 .2h1.4m2.8 .1h1.4m-15.4 .1h1.4m5.2 0h1.4m-10.5 .1h1.4m1.8 0h1.4m22.4 0h1.4m-16 .1h1.4m-7.1 .1h1.4m2.8 0h1.4m7.3 0h1.4m2.2 0h1.4m1.8 0h1.4m8 0h1.4m-26.1 .1h1.4m15.3 0h1.4m-9.3 .1h1.4m-1 0h1.4m-.9 0h1.4m8.4 0h1.4m-28.7 .1h1.4m10.9 0h1.4m-1.3 0h1.4m1.8 0h1.4m-18.2 .2h1.4m15.1 0h1.4m-1.3 0h1.4m14.1 .1h1.4m-21.5 .2h1.4m7.9 0h1.4m2.9 0h1.4m8.3 0h1.4m-8.6 .2h1.4m-10.5 .1h1.4m12.4 0h1.4m-7.3 .1h1.4m-15.3 .1h1.4m17.3 0h1.4m3.3 0h1.4m-38.2 .2h1.4m4.4 0h1.4m-3.9 .1h1.4m31.9 0h1.4m-33.2 .2h1.4m11.4 .5h1.4m-3.8 .3h1.4m8.1 0h1.4m2.2 0h1.4m-18.3 .2h1.4m1.1 0h1.4m2.9 .1h1.4m-21.7 .2h1.4m14 .1h1.4m-6.6 .2h1.4m-1.3 .2h1.4m21.6 0h1.4m-31.2 .1h1.4m2.9 0h1.4m18.9 0h1.4m-16.7 .2h1.4m23.7 .1h1.4m-30.2 .4h1.4m14.6 .2h1.4m-12.7 .7h1.4m-6.7 1h1.4m3 0h1.4m15.3 .2h1.4m-31.3 .5h1.4m9.7 .1h1.4m11.3 0h1.4m13.4 .4h1.4m-9.2 .2h1.4m-11.2 .1h1.4m-13.6 .7h1.4m1.7 0h1.4m6.3 .1h1.4m-2.1 .8h1.4" stroke="#1667b4" stroke-width="1.4"/><path d="M312.5 62.3h1m-22.4 1h1m20.4 .3h1m-28.2 .3h1m12.1 .1h1m-19.9 .2h1m31.2 .2h1m-8.5 .2h1m2.3 0h1m-34.1 .2h1m1.8 0h1m11.7 0h1m13.4 0h1m-12.7 .1h1m15.7 0h1m-16.1 .2h1m8.8 .1h1m-21.2 .1h1m18.8 0h1m-29.5 .1h1m19.5 .2h1m-20.3 .1h1m2.8 0h1m28.6 0h1m-10 .2h1m-20 .1h1m15 0h1m-13.1 .1h1m-9.2 .1h1m28.2 0h1m-33.5 .1h1m32.9 0h1m-21.4 .2h1m2.9 .1h1m1.3 .1h1m-.4 0h1m-6.3 .1h1m22.8 .2h1m-22.8 .2h1m10.3 0h1m5.7 0h1m1.2 0h1m1 0h1m-20.6 .2h1m-15.4 .3h1m3.7 0h1m6.8 0h1m-3.8 .1h1m21.5 0h1m-27.5 .1h1m12.6 0h1m.3 .2h1m-23.7 .1h1m1.5 0h1m15.3 0h1m13.5 0h1m-33.8 .2h1m10.2 .1h1m.3 0h1m2.4 0h1m14.9 0h1m-29.9 .1h1m4.5 0h1m7 0h1m-2.1 .1h1m2.4 0h1m-16.5 .1h1m8 .1h1m15.5 0h1m-8.1 .2h1m-18 .1h1m4.4 .1h1m-2.6 .2h1m7.8 0h1m3.5 0h1m9.9 .6h1m-6.7 .3h1m-19.6 .1h1m-11.9 .2h1m-.6 0h1m.5 .2h1m12.6 0h1m10.3 .2h1m-9.6 .2h1m-16.5 .3h1m27.4 .1h1m1.4 .5h1m-23.7 1h1m-1.8 .1h1m21.8 .1h1" stroke="#f0f4f8" stroke-width="1" stroke-opacity="0.7"/><path d="M275.6 73.9h1.3m11.5 0h1.3m9.1 .5h1.3m4.3 .3h1.3m-2 .4h1.3m1.2 0h1.3m-31.9 .2h1.3m15.1 .6h1.3m-4.4 .4h1.3m3.1 0h1.3m12.5 .4h1.3m-6.3 1.2h1.3m8.2 .2h1.3m-31.7 .2h1.3m6.1 0h1.3m-12.5 .9h1.3m9.3 .3h1.3m9 .9h1.3m-21.2 .5h1.3m23.6 .4h1.3m4.6 .6h1.3m-5.4 .9h1.3m-17.2 1.8h1.3m-11.6 .4h1.3m-3.5 .5h1.3m20.4 .6h1.3m-22.8 2.1h1.3m19.2 .4h1.3m-1.1 0h1.3m-16.6 .3h1.3m23.6 .6h1.3m-25.8 2h1.3m14.1 .4h1.3m3.8 .1h1.3m-6.1 3.2h1.3m-23.8 .7h1.3m24.4 1.2h1.3m4.6 0h1.3m-17.3 .8h1.3m3 .6h1.3m11.8 1.2h1.3m-32.7 1.7h1.3m2.3 .5h1.3m30.6 .2h1.3m-5.8 .5h1.3m-8.7 1.1h1.3m-18.3 2.6h1.3m-11 1.2h1.3m18.5 .3h1.3m.4 .3h1.3m6.9 .9h1.3" stroke="#3a80bb" stroke-width="1.3"/><path d="M276.7 113.4h1.3m18 .1h1.3m14.1 .9h1.3m-14.8 .1h1.3m-22 1.4h1.3m-1.5 1.5h1.3m21.9 3.8h1.3m-20.5 1.2h1.3m28.2 4.3h1.3m-28.7 1.7h1.3m15.9 .3h1.3m-3.4 .4h1.3m-4.3 4.4h1.3m12.1 3h1.3m-16.8 .6h1.3m-8.7 3.6h1.3m-7.3 .1h1.3m21.3 5.2h1.3m-29.2 3.7h1.3" stroke="#8a8a8a" stroke-width="1.3"/><path d="M85.7 28.9V195.3" stroke="#454545" stroke-width="1.0"/><path d="M124.9 28.9V195.3" stroke="#454545" stroke-width="1.0"/><path d="M162.8 28.9V195.3" stroke="#454545" stroke-width="1.0"/><path d="M201.4 28.9V195.3" stroke="#454545" stroke-width="1.0"/><path d="M240.6 28.9V195.3" stroke="#454545" stroke-width="1.0"/><path d="M273.5 28.9V195.3" stroke="#454545" stroke-width="1.0"/><path d="M47.4 28.9V195.3" stroke="#5e5e5e" stroke-width="1.2"/><path d="M314.8 28.9V195.3" stroke="#6e6e6e" stroke-width="1"/><path d="M47.4 28.9H314.8" stroke="#a8a8a8" stroke-width="1.4"/><path d="M44.4 195.3H314.8" stroke="#8a8a8a" stroke-width="1.2"/><path d="M47.4 112.1H314.8" stroke="#e040e0" stroke-width="1.6"/><rect x="373.6" y="28.5" width="280.2" height="181.5" fill="#f4f4f4"/><path d="M368.6 210H653.8" stroke="#c6c6c6" stroke-width="1"/><path d="M368.6 189.8H653.8" stroke="#c6c6c6" stroke-width="1"/><path d="M368.6 169.7H653.8" stroke="#c6c6c6" stroke-width="1"/><path d="M368.6 149.5H653.8" stroke="#c6c6c6" stroke-width="1"/><path d="M368.6 129.3H653.8" stroke="#c6c6c6" stroke-width="1"/><path d="M368.6 109.2H653.8" stroke="#c6c6c6" stroke-width="1"/><path d="M368.6 89H653.8" stroke="#c6c6c6" stroke-width="1"/><path d="M368.6 68.8H653.8" stroke="#c6c6c6" stroke-width="1"/><path d="M368.6 48.7H653.8" stroke="#c6c6c6" stroke-width="1"/><path d="M368.6 28.5H653.8" stroke="#c6c6c6" stroke-width="1"/><path d="M379.5 28.5V210" stroke="#e0e0e0" stroke-width="1" stroke-dasharray="1.2 2.8"/><path d="M394 28.5V210" stroke="#e0e0e0" stroke-width="1" stroke-dasharray="1.2 2.8"/><path d="M411.4 28.5V210" stroke="#e0e0e0" stroke-width="1" stroke-dasharray="1.2 2.8"/><path d="M428.9 28.5V210" stroke="#e0e0e0" stroke-width="1" stroke-dasharray="1.2 2.8"/><path d="M446.3 28.5V210" stroke="#e0e0e0" stroke-width="1" stroke-dasharray="1.2 2.8"/><path d="M463.6 28.5V210" stroke="#e0e0e0" stroke-width="1" stroke-dasharray="1.2 2.8"/><path d="M480.3 28.5V210" stroke="#e0e0e0" stroke-width="1" stroke-dasharray="1.2 2.8"/><path d="M496.4 28.5V210" stroke="#e0e0e0" stroke-width="1" stroke-dasharray="1.2 2.8"/><path d="M513.2 28.5V210" stroke="#e0e0e0" stroke-width="1" stroke-dasharray="1.2 2.8"/><path d="M531 28.5V210" stroke="#e0e0e0" stroke-width="1" stroke-dasharray="1.2 2.8"/><path d="M548.5 28.5V210" stroke="#e0e0e0" stroke-width="1" stroke-dasharray="1.2 2.8"/><path d="M565.5 28.5V210" stroke="#e0e0e0" stroke-width="1" stroke-dasharray="1.2 2.8"/><path d="M582.4 28.5V210" stroke="#e0e0e0" stroke-width="1" stroke-dasharray="1.2 2.8"/><path d="M599.4 28.5V210" stroke="#e0e0e0" stroke-width="1" stroke-dasharray="1.2 2.8"/><path d="M615.2 28.5V210" stroke="#e0e0e0" stroke-width="1" stroke-dasharray="1.2 2.8"/><path d="M630.8 28.5V210" stroke="#e0e0e0" stroke-width="1" stroke-dasharray="1.2 2.8"/><path d="M646.3 28.5V210" stroke="#e0e0e0" stroke-width="1" stroke-dasharray="1.2 2.8"/><path d="M374.2 145.4L384.8 148V168.9H374.2z" fill="url(#g14)"/><path d="M377.6 146.6h1.3m.4 .6h1.3m-6.3 .1h1.3m5.6 .3h1.3m.5 1.8h1.3m-1.6 .4h1.3m-8.2 .5h1.3m5.2 1h1.3m-4.1 3.6h1.3" stroke="#f2f2f2" stroke-width="1.3" stroke-opacity="0.75"/><path d="M377.6 148.4h1.2m-4.5 .3h1.2m7.1 .7h1.2" stroke="#c8c8c8" stroke-width="1.2" stroke-opacity="0.6"/><path d="M382.8 147.2h1.2" stroke="#858585" stroke-width="1.2"/><path d="M380.9 168.6h1.1m-.7 0h1.1m.2 0h1.1m-.2 0h1.1m-8.4 .2h1.1m.5 .1h1.1m2.7 0h1.1m-2 .1h1.1m-1.4 .4h1.1" stroke="#7c7c7c" stroke-width="1.1"/><path d="M386 147.2L402 152.7V171.5H386z" fill="url(#g15)"/><path d="M386.6 149.8h1.3m6.3 .9h1.3m-.3 .3h1.3m-2.1 .3h1.3m1.4 .5h1.3m2.5 .9h1.3m-7.1 .6h1.3m-.8 .8h1.3" stroke="#f2f2f2" stroke-width="1.3" stroke-opacity="0.75"/><path d="M392.8 150h1.2m-1.7 .1h1.2m-1.1 .7h1.2m2.4 .3h1.2m-2.5 1.4h1.2m.8 .2h1.2m-.7 .1h1.2m-7.7 .7h1.2m6.4 .5h1.2m-5.5 2.3h1.2m0 .1h1.2" stroke="#c8c8c8" stroke-width="1.2" stroke-opacity="0.6"/><path d="M393.8 145.7h1.2m4.3 6.3h1.2" stroke="#858585" stroke-width="1.2"/><path d="M397.3 171.1h1.1m-2.9 .2h1.1m-8 .1h1.1m2.9 0h1.1m1.1 0h1.1m2 .1h1.1m-7.9 .1h1.1m3 0h1.1m-.5 0h1.1m-9.8 .1h1.1m3.8 0h1.1m5.4 .2h1.1m-10.6 .1h1.1m-1.5 .1h1.1" stroke="#7c7c7c" stroke-width="1.1"/><path d="M403.2 156.9L419.6 160.4V178.6H403.2z" fill="url(#g16)"/><path d="M407.6 158.3h1.3m3.8 1.4h1.3m1.9 .7h1.3m-6.9 1h1.3m-5 1.5h1.3m9.8 .2h1.3m-1.1 .4h1.3m-3.6 1.3h1.3m-8.5 1h1.3m8.5 .5h1.3" stroke="#f2f2f2" stroke-width="1.3" stroke-opacity="0.75"/><path d="M406.8 158.4h1.2m-2.9 1.8h1.2m-2.7 .4h1.2m6.2 .7h1.2m4.3 .3h1.2m-12 2.3h1.2m11.1 .3h1.2m-2.6 .7h1.2m-10.5 .9h1.2" stroke="#c8c8c8" stroke-width="1.2" stroke-opacity="0.6"/><path d="M412.2 156.3h1.2m-7 .6h1.2" stroke="#858585" stroke-width="1.2"/><path d="M405.1 178.2h1.1m8.7 0h1.1m-11 .1h1.1m2 0h1.1m-.5 0h1.1m6.5 0h1.1m-1.1 0h1.1m-.1 0h1.1m-5.1 .1h1.1m1.8 0h1.1m-7.2 .2h1.1m2.1 .1h1.1m-.4 .1h1.1m.3 .1h1.1" stroke="#7c7c7c" stroke-width="1.1"/><path d="M420.8 163.1L437 167.5V183.5H420.8z" fill="url(#g17)"/><path d="M421.4 165.6h1.3m4.6 0h1.3m-7.4 .8h1.3m.1 0h1.3m3.2 .2h1.3m-3.4 2.2h1.3m7.9 1.5h1.3m-4.7 .1h1.3m-.4 .3h1.3" stroke="#f2f2f2" stroke-width="1.3" stroke-opacity="0.75"/><path d="M421.8 164.7h1.2m.5 .4h1.2m.2 0h1.2m-.5 .7h1.2m4.1 .9h1.2m1 .9h1.2m-13.3 2.1h1.2m1.7 0h1.2m4.4 0h1.2m-6.3 .7h1.2" stroke="#c8c8c8" stroke-width="1.2" stroke-opacity="0.6"/><path d="M423.8 163.6h1.2m7.9 1.2h1.2" stroke="#858585" stroke-width="1.2"/><path d="M432.3 183.1h1.1m-5.1 .1h1.1m3.4 0h1.1m-3.5 .1h1.1m-10.7 .1h1.1m-1 0h1.1m4.3 0h1.1m1.5 0h1.1m-2.8 .2h1.1m4.7 0h1.1m1.4 .1h1.1m-9.5 .2h1.1m2.7 .2h1.1m.5 .2h1.1" stroke="#7c7c7c" stroke-width="1.1"/><path d="M438.2 155.1L454.4 156.1V176.8H438.2z" fill="url(#g18)"/><path d="M448.8 156.3h1.3m-8.2 .2h1.3m3.5 .8h1.3m-5.3 .3h1.3m2.2 .4h1.3m-.3 .5h1.3m-8.1 1.1h1.3m0 .1h1.3m10.1 .7h1.3m-4.3 1.1h1.3m-.1 .1h1.3m-11.3 .9h1.3" stroke="#f2f2f2" stroke-width="1.3" stroke-opacity="0.75"/><path d="M445.1 156.7h1.2m2 1.4h1.2m-5.2 1.3h1.2m5.2 .4h1.2m-9.2 .7h1.2m-.7 1.4h1.2m5.6 .6h1.2" stroke="#c8c8c8" stroke-width="1.2" stroke-opacity="0.6"/><path d="M443.1 153.6h1.2m7.9 .4h1.2" stroke="#858585" stroke-width="1.2"/><path d="M441.9 176.4h1.1m7.4 .1h1.1m-11.2 .2h1.1m3.3 0h1.1m6.5 0h1.1m-9.7 .1h1.1m4.6 0h1.1m2.4 .1h1.1m-8.8 .3h1.1m5.8 0h1.1m-5.8 .1h1.1m-9.1 .1h1.1m9.5 .2h1.1m-.4 0h1.1" stroke="#7c7c7c" stroke-width="1.1"/><path d="M455.6 156.9L471.6 157.9V176.8H455.6z" fill="url(#g19)"/><path d="M462.2 157.5h1.3m-1.5 .7h1.3m.6 .5h1.3m.9 1.6h1.3m1.7 .5h1.3m-8.9 1.9h1.3m3 .4h1.3m-.6 .2h1.3m-7 .2h1.3m7.6 .7h1.3m-.9 0h1.3" stroke="#f2f2f2" stroke-width="1.3" stroke-opacity="0.75"/><path d="M465.4 157.8h1.2m3.5 1.2h1.2m-15.3 .5h1.2m12.2 1.5h1.2m-12 1.6h1.2m4.8 .3h1.2m-6.7 .7h1.2m9.6 .8h1.2" stroke="#c8c8c8" stroke-width="1.2" stroke-opacity="0.6"/><path d="M463.3 156.9h1.2m2.1 .7h1.2" stroke="#858585" stroke-width="1.2"/><path d="M460.9 176.4h1.1m1.5 0h1.1m-9 .1h1.1m3 0h1.1m4.4 0h1.1m.2 0h1.1m2.8 0h1.1m-5.5 .3h1.1m.4 0h1.1m-.6 .1h1.1m-4.1 .2h1.1m2.7 0h1.1m-12.6 .3h1.1m3.3 .1h1.1" stroke="#7c7c7c" stroke-width="1.1"/><path d="M472.8 150.7L487.8 152.5V172.4H472.8z" fill="url(#g20)"/><path d="M477.1 152h1.3m1.2 .2h1.3m1.6 .6h1.3m-6.6 1.5h1.3m1.9 .2h1.3m2.9 .1h1.3m-8.5 1.1h1.3m-2.3 1.1h1.3m-2.7 1.4h1.3" stroke="#f2f2f2" stroke-width="1.3" stroke-opacity="0.75"/><path d="M478.7 151.9h1.2m-6.7 .1h1.2m6.9 0h1.2m.2 .3h1.2m-5 1h1.2m-3.4 .6h1.2m-3.6 1.8h1.2m8.8 2h1.2" stroke="#c8c8c8" stroke-width="1.2" stroke-opacity="0.6"/><path d="M479.4 146.3h1.2m1.4 5.1h1.2" stroke="#858585" stroke-width="1.2"/><path d="M478.2 172h1.1m-3.6 .1h1.1m-2.3 .1h1.1m.2 0h1.1m-.9 0h1.1m-1.2 .1h1.1m2.5 0h1.1m-2.5 .1h1.1m-.7 0h1.1m.6 0h1.1m4 .3h1.1m-9.8 .5h1.1m3.8 .1h1.1" stroke="#7c7c7c" stroke-width="1.1"/><path d="M489 163.9L503.9 167.5V184.2H489z" fill="url(#g21)"/><path d="M490.6 167.1h1.3m10.2 .7h1.3m-12.9 1.8h1.3m1.8 .5h1.3m1.2 .1h1.3m-2.2 1.3h1.3m-3 .2h1.3m6.9 .7h1.3" stroke="#f2f2f2" stroke-width="1.3" stroke-opacity="0.75"/><path d="M491.4 165.4h1.2m3 .5h1.2m-4.7 1.8h1.2m1.7 1.3h1.2m6.1 0h1.2m-9.9 .1h1.2m.5 .7h1.2m4.1 .4h1.2m-.5 1.8h1.2" stroke="#c8c8c8" stroke-width="1.2" stroke-opacity="0.6"/><path d="M493.1 163.8h1.2m.6 .9h1.2" stroke="#858585" stroke-width="1.2"/><path d="M501.1 184h1.1m-10.7 .1h1.1m0 0h1.1m1.6 0h1.1m5.2 0h1.1m-11 .1h1.1m-.3 .2h1.1m-.9 0h1.1m-.5 .1h1.1m4.3 0h1.1m-1.4 .2h1.1m-3.6 .1h1.1m-6.5 .2h1.1" stroke="#7c7c7c" stroke-width="1.1"/><path d="M505.1 171.9L521.4 174.5V186.7H505.1z" fill="url(#g22)"/><path d="M509.5 172.9h1.3m-.8 .1h1.3m-2.1 .1h1.3m5.2 .9h1.3m-.5 .2h1.3m1.8 .4h1.3m-5.9 .1h1.3m3.9 0h1.3m-5.6 .7h1.3m-4.6 .7h1.3m.5 .6h1.3m.2 .6h1.3" stroke="#f2f2f2" stroke-width="1.3" stroke-opacity="0.75"/><path d="M505.9 172.3h1.2m-.4 .2h1.2m-2.8 .2h1.2m-1 .1h1.2m11.6 1.6h1.2m-12.1 .1h1.2m8.7 0h1.2" stroke="#c8c8c8" stroke-width="1.2" stroke-opacity="0.6"/><path d="M514.4 171.5h1.2m-1.3 2h1.2" stroke="#858585" stroke-width="1.2"/><path d="M510.4 186.3h1.1m1.6 0h1.1m1.3 0h1.1m0 .1h1.1m-5.7 .1h1.1m.9 0h1.1m2.7 0h1.1m-12.1 .1h1.1m4.6 0h1.1m3.5 0h1.1m-5.6 .1h1.1m-.1 .1h1.1m.9 .3h1.1m-10.2 .2h1.1" stroke="#7c7c7c" stroke-width="1.1"/><path d="M522.6 152.5L539.3 156V176H522.6z" fill="url(#g23)"/><path d="M523.9 154.5h1.3m8.1 .8h1.3m.9 .9h1.3m-5.6 .7h1.3m-8.8 .2h1.3m12.5 .3h1.3m-3.4 .5h1.3m-3.2 1.1h1.3m.9 .6h1.3m-6.8 1.5h1.3m-5.1 .6h1.3m4.5 1h1.3m2.7 1.2h1.3" stroke="#f2f2f2" stroke-width="1.3" stroke-opacity="0.75"/><path d="M526.6 154h1.2m5.4 1.4h1.2m-6.4 1.4h1.2m-.8 .3h1.2m-2.4 1h1.2m6.8 1.2h1.2m1.6 3.9h1.2" stroke="#c8c8c8" stroke-width="1.2" stroke-opacity="0.6"/><path d="M537 151h1.2m-9.9 2.2h1.2m-.1 .8h1.2" stroke="#858585" stroke-width="1.2"/><path d="M526 175.6h1.1m1.6 0h1.1m5.4 .1h1.1m-.2 0h1.1m.5 0h1.1m-8.6 .1h1.1m2.4 0h1.1m.1 0h1.1m-2.1 .1h1.1m-9.7 .1h1.1m4.3 0h1.1m.5 .1h1.1m4.8 .3h1.1m-10.9 .1h1.1m5.1 .6h1.1" stroke="#7c7c7c" stroke-width="1.1"/><path d="M540.5 157.8L556.5 160.5V177.3H540.5z" fill="url(#g24)"/><path d="M540.5 158.5h1.3m1.3 0h1.3m3.8 1.1h1.3m-.8 0h1.3m-5.5 .1h1.3m5.6 .3h1.3m-12.1 .9h1.3m.9 .2h1.3m-2.2 1.4h1.3m-2 .1h1.3m11.6 0h1.3m-6.2 .1h1.3m-7.4 .2h1.3m.7 1.4h1.3m3.9 .3h1.3m-1.5 1h1.3" stroke="#f2f2f2" stroke-width="1.3" stroke-opacity="0.75"/><path d="M546 159.8h1.2m5.9 1.2h1.2m-6.1 4.8h1.2" stroke="#c8c8c8" stroke-width="1.2" stroke-opacity="0.6"/><path d="M545.5 156.2h1.2m8.4 3.7h1.2" stroke="#858585" stroke-width="1.2"/><path d="M553.5 176.9h1.1m-6.6 .1h1.1m2.6 0h1.1m-.5 0h1.1m-11.7 .3h1.1m0 0h1.1m-3.4 .1h1.1m-.9 .1h1.1m6.5 .1h1.1m-2.6 .1h1.1m-.4 0h1.1m-1.5 .1h1.1m-1.2 .3h1.1m-.1 0h1.1" stroke="#7c7c7c" stroke-width="1.1"/><path d="M557.7 156L573.2 157V176.3H557.7z" fill="url(#g25)"/><path d="M558.9 156.8h1.3m-1 .6h1.3m8.2 0h1.3m-8.4 .3h1.3m-2.1 .2h1.3m2.8 .1h1.3m-3.9 .1h1.3m.3 1.2h1.3m6.2 1h1.3m-12 .8h1.3m-4 .6h1.3m9.8 1h1.3" stroke="#f2f2f2" stroke-width="1.3" stroke-opacity="0.75"/><path d="M563.4 157.1h1.2m-3.4 .1h1.2m5.7 .2h1.2m2.7 1.3h1.2m-12.5 2.5h1.2m10 2.7h1.2" stroke="#c8c8c8" stroke-width="1.2" stroke-opacity="0.6"/><path d="M557.7 155h1.2m13 1.2h1.2" stroke="#858585" stroke-width="1.2"/><path d="M560.5 175.9h1.1m-2.2 .1h1.1m6.1 0h1.1m-2.5 .1h1.1m-8.5 .1h1.1m.3 0h1.1m4.4 .1h1.1m.5 .1h1.1m-9 .1h1.1m6.5 0h1.1m4.5 .2h1.1m-8.5 .1h1.1m.8 .7h1.1" stroke="#7c7c7c" stroke-width="1.1"/><path d="M574.4 153.1L590.4 154.5V174H574.4z" fill="url(#g26)"/><path d="M580 153.8h1.3m-2.4 .4h1.3m5.5 .3h1.3m-10.6 .6h1.3m7.5 .7h1.3m-3.1 .7h1.3m-1.7 .6h1.3m2.8 .9h1.3m-7.1 2.3h1.3" stroke="#f2f2f2" stroke-width="1.3" stroke-opacity="0.75"/><path d="M577 153.9h1.2m2.4 .6h1.2m2.3 .4h1.2m-1.2 .2h1.2m-6.4 1.3h1.2m1.5 .8h1.2m3.4 .3h1.2m-6.5 1.3h1.2m1.7 1.5h1.2m-.1 .8h1.2" stroke="#c8c8c8" stroke-width="1.2" stroke-opacity="0.6"/><path d="M574.8 152.1h1.2m9.1 1.7h1.2" stroke="#858585" stroke-width="1.2"/><path d="M580 173.7h1.1m8.2 0h1.1m-11 .1h1.1m6.6 .1h1.1m-9.7 .1h1.1m-.8 0h1.1m4.1 0h1.1m-2.7 .2h1.1m4.5 0h1.1m-12.7 .1h1.1m6.8 0h1.1m-10.7 .5h1.1m1.9 .2h1.1m-3.6 .3h1.1" stroke="#7c7c7c" stroke-width="1.1"/><path d="M591.6 142.8L607.1 147.2V167.6H591.6z" fill="url(#g27)"/><path d="M592.6 143.8h1.3m-.5 .5h1.3m1.5 .5h1.3m1.9 .9h1.3m-.4 0h1.3m-4.7 1h1.3m.7 .2h1.3m5.3 .8h1.3m-2.6 .2h1.3m-12.8 1.2h1.3m8.5 1.7h1.3" stroke="#f2f2f2" stroke-width="1.3" stroke-opacity="0.75"/><path d="M601.3 146.2h1.2m-1.5 .1h1.2m-2 1.1h1.2m-6.1 1.2h1.2m8 1.5h1.2m-2.4 1.4h1.2m-7 .4h1.2" stroke="#c8c8c8" stroke-width="1.2" stroke-opacity="0.6"/><path d="M595.3 138.3h1.2m7.2 7.7h1.2" stroke="#858585" stroke-width="1.2"/><path d="M594.2 167.2h1.1m5.8 .1h1.1m3.4 0h1.1m-15.1 .1h1.1m2 .1h1.1m8.7 0h1.1m-6.6 .1h1.1m3.2 0h1.1m-4.8 .1h1.1m.2 0h1.1m-3.1 .1h1.1m3 .4h1.1m-6.5 .4h1.1" stroke="#7c7c7c" stroke-width="1.1"/><path d="M608.3 158.3L622.2 161.2V178H608.3z" fill="url(#g28)"/><path d="M614.8 160.6h1.3m1.8 .1h1.3m-3 .2h1.3m-1.4 .4h1.3m-5.7 .5h1.3m7.1 .2h1.3m-11.9 .5h1.3m6.4 1.1h1.3m-7.2 1.5h1.3m5.9 .1h1.3m1.2 .8h1.3" stroke="#f2f2f2" stroke-width="1.3" stroke-opacity="0.75"/><path d="M609.3 158.9h1.2m3.7 1.2h1.2m-1.8 .4h1.2m1.1 0h1.2m-1.2 2.5h1.2" stroke="#c8c8c8" stroke-width="1.2" stroke-opacity="0.6"/><path d="M609.4 157.3h1.2" stroke="#858585" stroke-width="1.2"/><path d="M611.1 177.8h1.1m.6 0h1.1m5.6 0h1.1m-12 .1h1.1m9.5 0h1.1m-8.3 .1h1.1m7.1 0h1.1m-5.5 .1h1.1m-.6 0h1.1m2.3 0h1.1m-1.7 .2h1.1m-2.6 .1h1.1" stroke="#7c7c7c" stroke-width="1.1"/><path d="M623.4 161.2L638.2 164.2V180.2H623.4z" fill="url(#g29)"/><path d="M625.1 162.1h1.3m1.4 1.1h1.3m3.2 .3h1.3m-6.4 .6h1.3m7.9 .5h1.3m-1.9 2.8h1.3m-9.4 .4h1.3m-.7 .3h1.3m5.4 .9h1.3" stroke="#f2f2f2" stroke-width="1.3" stroke-opacity="0.75"/><path d="M631.4 163.1h1.2m-1.5 .2h1.2m-6.8 .5h1.2m8.8 .2h1.2m-12.3 .6h1.2m2.8 .1h1.2m7 1.2h1.2m-6.1 .9h1.2" stroke="#c8c8c8" stroke-width="1.2" stroke-opacity="0.6"/><path d="M629.4 160.5h1.2m5.8 3.5h1.2" stroke="#858585" stroke-width="1.2"/><path d="M625.9 179.8h1.1m2.6 .1h1.1m-.6 0h1.1m-.8 0h1.1m2.7 0h1.1m-5.8 .3h1.1m2.4 0h1.1m-10.5 .3h1.1m3.6 0h1.1m1.2 0h1.1m-.5 0h1.1m-5.6 .3h1.1m2.1 .5h1.1" stroke="#7c7c7c" stroke-width="1.1"/><path d="M639.4 173L653.2 175.2V186H639.4z" fill="url(#g30)"/><path d="M642.4 173.9h1.3m1.8 .5h1.3m-.9 .1h1.3m-1.8 .1h1.3m-3 .4h1.3m3.7 .4h1.3m1.5 0h1.3m-.7 0h1.3m-11.5 .7h1.3m3.7 .6h1.3m-1.8 .1h1.3m2.7 .1h1.3" stroke="#f2f2f2" stroke-width="1.3" stroke-opacity="0.75"/><path d="M640.2 174.4h1.2m2.1 .2h1.2m4.5 1.9h1.2m-2.3 .1h1.2" stroke="#c8c8c8" stroke-width="1.2" stroke-opacity="0.6"/><path d="M642.7 173.7h1.2" stroke="#858585" stroke-width="1.2"/><path d="M645.2 185.6h1.1m-2.7 .1h1.1m1.6 0h1.1m-7 .1h1.1m7.9 0h1.1m-10.8 .1h1.1m.3 .2h1.1m5 .1h1.1m-7.8 .2h1.1m.3 0h1.1m2.7 .1h1.1m-1.4 .7h1.1" stroke="#7c7c7c" stroke-width="1.1"/><path d="M386 74.8L402 74.8V92.2L386 92.2z" fill="url(#g31)"/><path d="M394.1 71.2h1.4m-2.5 .7h1.4m-3.3 2.4h1.4m-3.3 .1h1.4m9.3 .3h1.4m-1.9 1.9h1.4m-11.1 .4h1.4m-3.3 .1h1.4m-1.8 .1h1.4m5.1 .1h1.4m-4 .1h1.4m-2.5 .3h1.4m2 .1h1.4m-.8 0h1.4m-2 .2h1.4m3.3 .1h1.4m-7.9 .1h1.4m-4.4 .3h1.4m10.3 .3h1.4m-7.4 .1h1.4m-8.4 .1h1.4m-.3 0h1.4m.3 .2h1.4m-.3 0h1.4m5.6 0h1.4m.1 0h1.4m-11.3 .1h1.4m7.8 0h1.4m-9.4 .1h1.4m6.5 0h1.4m-1.2 .1h1.4m-12.3 .1h1.4m-1 0h1.4m2.1 0h1.4m-2 .1h1.4m6.5 .1h1.4m-13.7 .1h1.4m9 0h1.4m-12.2 .2h1.4m6.2 0h1.4m-9.3 .2h1.4m1.4 .1h1.4m.8 0h1.4m5 0h1.4m-11.9 .1h1.4m4.5 0h1.4m-.2 0h1.4m.6 0h1.4m1.5 0h1.4m-13.6 .1h1.4m-2.2 .1h1.4m.5 0h1.4m1.6 .1h1.4m-.4 0h1.4m-1.1 0h1.4m-.4 0h1.4m-1.3 0h1.4m-.3 0h1.4m-1.3 0h1.4m-2.1 .2h1.4m3.5 0h1.4m-14 .1h1.4m4 .1h1.4m2.5 0h1.4m-.5 0h1.4m1.6 0h1.4m-13.3 .2h1.4m-1 0h1.4m.3 0h1.4m1.1 0h1.4m-.8 0h1.4m.2 0h1.4m-.8 0h1.4m4.1 .1h1.4m-16.5 .1h1.4m.6 0h1.4m-1.1 0h1.4m.5 0h1.4m.1 0h1.4m-.6 0h1.4m2.3 0h1.4m-.3 0h1.4m-11.8 .2h1.4m2.2 0h1.4m9.3 0h1.4m-1.8 .2h1.4m-14.4 .1h1.4m-.5 0h1.4m2.9 0h1.4m-8 .1h1.4m9.4 0h1.4m-4.7 .1h1.4m-3.7 .1h1.4m.9 0h1.4m1.2 0h1.4m2 0h1.4m-7.8 .1h1.4m.4 0h1.4m-10.4 .1h1.4m6.6 0h1.4m-.1 0h1.4m-10.2 .1h1.4m-1.3 0h1.4m7.7 0h1.4m2.3 0h1.4m-12.9 .1h1.4m1.3 0h1.4m4.2 0h1.4m0 0h1.4m-7.2 .1h1.4m-1.1 0h1.4m-3.3 .1h1.4m-1.4 0h1.4m-1.2 0h1.4m8 0h1.4m-14.6 .1h1.4m5.3 0h1.4m-7.8 .1h1.4m1.9 0h1.4m.6 0h1.4m-1.8 .1h1.4m-.5 0h1.4m5.8 0h1.4m-12.1 .1h1.4m2.1 0h1.4m4.7 0h1.4m-.2 0h1.4m-1.3 0h1.4m-11.4 .1h1.4m.3 0h1.4m-.3 .1h1.4m-.8 0h1.4m-6.2 .1h1.4m-1.4 0h1.4m3.2 0h1.4m3.6 .1h1.4m-8.4 .1h1.4m-5.6 .1h1.4m.6 0h1.4m5.3 0h1.4m.2 0h1.4m1.8 0h1.4m-12.5 .1h1.4m7.7 0h1.4m-5.3 .1h1.4m2.4 0h1.4m-9 .3h1.4m.3 0h1.4m-6.4 .1h1.4m-.6 0h1.4m8.6 0h1.4m.1 .1h1.4m-13.1 .1h1.4m1.7 0h1.4m2.6 0h1.4m-7.9 .1h1.4m2.4 0h1.4m.4 0h1.4m2.9 0h1.4m-11.9 .1h1.4m-.1 0h1.4m4.8 0h1.4m-10.5 .1h1.4m.5 .1h1.4m7.8 0h1.4m-1 0h1.4m-2.1 .2h1.4m-8.9 .1h1.4m-.6 .2h1.4m-4.7 .1h1.4m9.1 0h1.4m-.7 0h1.4m-9.3 .2h1.4m1.5 0h1.4m-.7 0h1.4m-1.3 .1h1.4m-1 0h1.4m-1.1 0h1.4m2.4 .1h1.4m-14.1 .1h1.4m3.1 0h1.4m2.1 0h1.4m2.1 .1h1.4m-.4 0h1.4m-3.6 .2h1.4m-10.4 .1h1.4m1.5 0h1.4m-2.5 .1h1.4m7.5 0h1.4m-.1 .2h1.4m-1.1 .1h1.4m-5.1 .1h1.4m2 .1h1.4m-1.2 .1h1.4m-14.4 .1h1.4m4.9 0h1.4m6.4 0h1.4m-5.3 .2h1.4m2.2 0h1.4m-14.8 .1h1.4m8.4 0h1.4m-.1 0h1.4m-13.8 .1h1.4m6.5 0h1.4m-.9 0h1.4m0 0h1.4m-.5 .1h1.4m-10.7 .1h1.4m-.6 0h1.4m1.4 0h1.4m.7 0h1.4m4.4 .1h1.4m.4 .3h1.4m-12.4 .1h1.4m5 0h1.4m-3.2 .1h1.4m2.3 .2h1.4m.7 .2h1.4m-.7 0h1.4m-10.6 .5h1.4m-1.1 0h1.4m-4.6 .2h1.4m1.4 0h1.4m-2.1 .1h1.4m3.3 .2h1.4m-1 .1h1.4m-1.9 .1h1.4m-3.1 .1h1.4m3.7 0h1.4m-11.3 .1h1.4m.4 0h1.4m2.4 0h1.4m-9.9 .2h1.4m1 .2h1.4m-3.9 .1h1.4m-.6 0h1.4m9.2 0h1.4m2.1 .1h1.4m-10.7 .1h1.4m-5 .4h1.4m2.6 .1h1.4m-3.5 .3h1.4m.2 .5h1.4m-1 .2h1.4m1.9 .1h1.4m-1.8 .7h1.4m-1.1 .2h1.4m-3.6 .1h1.4m-3.3 .3h1.4m-4.9 .1h1.4m3.7 1.5h1.4m4.8 .6h1.4m-1.6 2.6h1.4m-8 2.1h1.4" stroke="#1667b4" stroke-width="1.4"/><path d="M389.5 78.4h1m5.1 .9h1m-5.6 .8h1m5.2 .5h1m1.8 .1h1m-6.2 .5h1m-7.9 .1h1m1.4 .3h1m2.9 .1h1m1.7 0h1m.3 0h1m-2.2 .7h1m1 0h1m-11.8 .2h1m-2.8 .6h1m-.9 .4h1m7.1 .3h1m-2 .8h1m3.2 .3h1m-12.2 .2h1m7.9 .1h1m1.8 0h1m-4.3 1.1h1m-1.7 .4h1m-8.9 .5h1m11.2 3.3h1" stroke="#f0f4f8" stroke-width="1" stroke-opacity="0.7"/><path d="M389.5 91.1h1.3m3.5 .5h1.3m-2.6 .3h1.3m4.3 .3h1.3m-9 .2h1.3m5.1 .1h1.3m-.2 .1h1.3m-13.2 .1h1.3m1.5 .4h1.3m-1.1 .1h1.3m-1 1.2h1.3m1.4 .3h1.3m-5.6 .1h1.3m4 .1h1.3m3.9 .4h1.3m-12.8 .1h1.3m.3 .8h1.3m8.1 0h1.3m-8.8 .7h1.3m-2.8 1.9h1.3m6.3 .8h1.3m1.5 .4h1.3m-11.1 .6h1.3m8.8 .2h1.3m-.9 .6h1.3m-14.2 .1h1.3m8.2 .7h1.3m-3.1 1.2h1.3m1.6 .2h1.3m-9.9 .2h1.3m1.8 .1h1.3m7 .4h1.3m-7.2 3.3h1.3m-.5 .2h1.3m2 0h1.3m0 .8h1.3m-4.6 .7h1.3m-2.4 .9h1.3m-5 .2h1.3m-.1 .1h1.3m5.3 .7h1.3m-8 .1h1.3m-6.9 1.6h1.3m8.1 .4h1.3m-1.4 5.8h1.3m-7.3 .2h1.3m6.4 1.1h1.3m-12.4 .5h1.3m6 2.4h1.3m-9.8 1.2h1.3m3.5 4.6h1.3" stroke="#3a80bb" stroke-width="1.3"/><path d="M396.7 131.4h1.3m-12.1 .9h1.3m-1.2 2.6h1.3m3.7 .4h1.3m-4 4.7h1.3m-2.3 .5h1.3m.1 .3h1.3m2.1 1.1h1.3m2.7 3.6h1.3" stroke="#8a8a8a" stroke-width="1.3"/><path d="M403.2 83.3L419.6 83.3V100.2L403.2 100.2z" fill="url(#g32)"/><path d="M413.1 78.5h1.4m-4.6 4.2h1.4m6.4 .2h1.4m-10.7 .2h1.4m2.4 0h1.4m-4.6 1.4h1.4m-2.5 1.1h1.4m5.4 0h1.4m2.1 .4h1.4m-7.1 .2h1.4m1 0h1.4m-7.3 .1h1.4m-3.4 .1h1.4m1.7 .2h1.4m5 0h1.4m-.3 0h1.4m-10.2 .1h1.4m.8 0h1.4m1 .1h1.4m-9.7 .1h1.4m6.1 0h1.4m-6.5 .1h1.4m-6 .2h1.4m-.9 0h1.4m-.9 0h1.4m-2.1 .1h1.4m7.4 .1h1.4m-.9 0h1.4m3.6 0h1.4m-13.6 .1h1.4m10.6 0h1.4m-14.7 .1h1.4m-1.3 0h1.4m5.4 .2h1.4m-8.4 .1h1.4m1.5 0h1.4m.9 .1h1.4m-.2 0h1.4m1 .1h1.4m-6.3 .3h1.4m.7 0h1.4m2.1 0h1.4m-.7 0h1.4m-.3 0h1.4m-13.3 .1h1.4m5.1 0h1.4m1.5 0h1.4m-4.3 .1h1.4m-7.6 .1h1.4m5.3 0h1.4m6.7 0h1.4m-15.2 .2h1.4m-2.2 .1h1.4m8.8 0h1.4m-6 .1h1.4m-5.1 .1h1.4m4.3 0h1.4m.4 0h1.4m1.7 0h1.4m-10.6 .1h1.4m-.8 0h1.4m1.3 0h1.4m3.2 0h1.4m-9.1 .1h1.4m5.1 0h1.4m2.9 0h1.4m-12.6 .1h1.4m-1 0h1.4m-1.3 0h1.4m4.3 0h1.4m-10.3 .1h1.4m4.2 0h1.4m4.1 0h1.4m-9.3 .1h1.4m-2.4 .1h1.4m.6 0h1.4m-.7 0h1.4m3.4 0h1.4m1.2 0h1.4m-11.8 .1h1.4m3.9 0h1.4m5.6 0h1.4m-15.7 .1h1.4m11.1 0h1.4m-.6 0h1.4m-.3 0h1.4m-2 .1h1.4m-16.2 .1h1.4m4.5 0h1.4m0 0h1.4m-1.1 0h1.4m5.3 0h1.4m-4.8 .1h1.4m-7.1 .1h1.4m6.7 0h1.4m-12.9 .1h1.4m0 0h1.4m-1.2 0h1.4m-4.8 .1h1.4m1.1 0h1.4m3.4 0h1.4m-5 .1h1.4m-.2 0h1.4m-2.6 .2h1.4m9.8 0h1.4m-10.1 .2h1.4m3.6 0h1.4m.8 .1h1.4m0 .1h1.4m-9.7 .1h1.4m3.5 0h1.4m-8 .1h1.4m2.5 0h1.4m-.5 0h1.4m-5 .1h1.4m-.6 0h1.4m-5.6 .1h1.4m-.6 0h1.4m8.1 0h1.4m-8.5 .1h1.4m1.2 0h1.4m-10 .1h1.4m4.4 .1h1.4m4.5 0h1.4m-.1 0h1.4m-8.5 .1h1.4m6.2 0h1.4m.4 0h1.4m-9.1 .1h1.4m-2.6 .1h1.4m-1.2 0h1.4m.4 0h1.4m4.1 0h1.4m-8.8 .1h1.4m-7.3 .1h1.4m.4 0h1.4m.1 0h1.4m4.8 0h1.4m1.2 .1h1.4m-.6 0h1.4m-.6 0h1.4m-1.3 0h1.4m-14.8 .1h1.4m4.1 0h1.4m.1 0h1.4m4.6 0h1.4m-12.4 .1h1.4m3.2 0h1.4m-6.3 .1h1.4m11.4 0h1.4m-12.3 .1h1.4m-.2 0h1.4m-.8 0h1.4m2.3 0h1.4m-3.9 .1h1.4m3.2 .1h1.4m.9 .1h1.4m-9.8 .1h1.4m4.3 0h1.4m-13 .1h1.4m4.9 0h1.4m-5.9 .1h1.4m6.5 0h1.4m-.7 0h1.4m-11.2 .1h1.4m3.3 0h1.4m-.9 0h1.4m-.9 0h1.4m-2.5 .1h1.4m6.3 0h1.4m-2 .1h1.4m-.2 0h1.4m-14.8 .1h1.4m-.1 0h1.4m4.5 .1h1.4m2.5 0h1.4m-.6 0h1.4m-1.4 0h1.4m-11.2 .2h1.4m6.5 0h1.4m.5 0h1.4m-12.7 .1h1.4m.6 0h1.4m9.7 0h1.4m-15 .2h1.4m-.5 0h1.4m7.9 0h1.4m-2.5 .1h1.4m4.3 .1h1.4m-15.1 .1h1.4m7.3 0h1.4m-.5 0h1.4m2.8 0h1.4m-2.3 .1h1.4m-14.2 .1h1.4m-1.2 .1h1.4m11.8 0h1.4m-1.2 0h1.4m-15.7 .1h1.4m-.6 0h1.4m7.1 0h1.4m-4.3 .1h1.4m-.1 .2h1.4m.4 .2h1.4m.8 .2h1.4m-.3 0h1.4m-10.3 .1h1.4m1.8 .1h1.4m-6.8 .1h1.4m5.9 0h1.4m3.4 .1h1.4m-14.5 .1h1.4m-1 .1h1.4m.5 .2h1.4m7.2 0h1.4m-11.8 .2h1.4m9.5 0h1.4m-11.2 .1h1.4m-.1 0h1.4m-.7 .1h1.4m5.5 .1h1.4m-6.6 .2h1.4m6.6 .3h1.4m-8.5 .3h1.4m-1.1 0h1.4m-5 .1h1.4m1.9 0h1.4m-3.7 .1h1.4m3.8 .1h1.4m-1.1 0h1.4m-8.3 .1h1.4m7.9 0h1.4m-11.9 .1h1.4m2.1 0h1.4m-4 .2h1.4m.4 0h1.4m-5.2 .1h1.4m-1.4 0h1.4m3.6 0h1.4m2.2 .1h1.4m-9.6 .3h1.4m1 .1h1.4m6.6 0h1.4m-7.3 .3h1.4m-3.9 .2h1.4m-3.7 .2h1.4m-2 .5h1.4m2.3 .3h1.4m-2.3 .5h1.4m-3.6 .2h1.4m.7 0h1.4m7.4 .7h1.4m-13.7 .3h1.4m6.1 .3h1.4m-4.9 .8h1.4m.5 .9h1.4m1.1 2.2h1.4m2 .3h1.4m-6.4 .2h1.4m4.7 .8h1.4" stroke="#1667b4" stroke-width="1.4"/><path d="M405.7 85.2h1m9.3 .5h1m-12.6 .5h1m7.9 .5h1m-10 .4h1m13.3 .7h1m-2.8 .1h1m-2.2 1.2h1m-11.6 .5h1m-.3 .1h1m6.2 .2h1m-10.5 .1h1m.3 0h1m7.7 .7h1m-9.2 .2h1m4.3 0h1m-4.8 .5h1m8.3 0h1m-10.6 .5h1m7.7 .3h1m-10.9 .5h1m12.3 0h1m-12.3 .3h1m9.9 2.4h1m-5.9 .9h1m0 0h1m2 1.3h1" stroke="#f0f4f8" stroke-width="1" stroke-opacity="0.7"/><path d="M412.8 99.7h1.3m-10 .1h1.3m-2.2 1h1.3m-.1 0h1.3m5.3 1.4h1.3m4.3 .2h1.3m-12.6 .1h1.3m11.9 2.1h1.3m-7.9 1.7h1.3m0 .1h1.3m.2 .1h1.3m-9.6 .9h1.3m-1.3 .2h1.3m-4.6 .1h1.3m1.5 .2h1.3m-.6 .2h1.3m2.3 .1h1.3m-.4 .3h1.3m-6.3 .2h1.3m.8 .2h1.3m-.2 .1h1.3m-4.8 .1h1.3m10.2 0h1.3m-2.4 .3h1.3m-2.1 .4h1.3m-10.4 .8h1.3m-1.4 .2h1.3m6.4 .8h1.3m-4.2 .5h1.3m-6.9 3.9h1.3m4.7 .2h1.3m4.7 .4h1.3m-9.4 1h1.3m-1.4 1.2h1.3m7.8 .5h1.3m-13.7 1h1.3m1.9 .2h1.3m6 0h1.3m-.9 .2h1.3m.5 0h1.3m-16.3 .6h1.3m-.6 .1h1.3m6.4 1.2h1.3m4.5 .1h1.3m-6.3 .8h1.3m-5.7 2.6h1.3m-2.2 .8h1.3" stroke="#3a80bb" stroke-width="1.3"/><path d="M411.9 130.6h1.3m1.4 .6h1.3m-4.5 1.9h1.3m4.2 2.4h1.3m-.8 3.5h1.3m-3.8 2.5h1.3m-5.3 4.2h1.3m-2.9 .1h1.3m-5.5 1.2h1.3m2.5 .1h1.3m-4.6 .6h1.3m-.5 1.8h1.3m5.9 3.2h1.3" stroke="#8a8a8a" stroke-width="1.3"/><path d="M420.8 88.8L437 88.8V104.7L420.8 104.7z" fill="url(#g33)"/><path d="M421.1 85.9h1.4m9.1 2.7h1.4m2.4 0h1.4m-1.2 .3h1.4m-10.2 .1h1.4m6 1.1h1.4m-11.7 .1h1.4m-.6 .3h1.4m-1.4 0h1.4m4.8 .7h1.4m-9.2 .1h1.4m8.4 .1h1.4m-10.4 .2h1.4m9.4 0h1.4m-9.6 .1h1.4m-5.5 .3h1.4m4.9 .1h1.4m-1.3 .1h1.4m3.7 0h1.4m-14.3 .1h1.4m1.5 0h1.4m-1.3 0h1.4m-1.2 0h1.4m-2.8 .3h1.4m-.3 0h1.4m-1.1 0h1.4m5.7 0h1.4m3.1 0h1.4m-15.5 .1h1.4m-.9 0h1.4m5.6 0h1.4m-9.2 .2h1.4m-1.2 .1h1.4m3.5 .1h1.4m-5.9 .1h1.4m1 0h1.4m1.2 0h1.4m2.7 0h1.4m-9.2 .1h1.4m9.5 0h1.4m0 .1h1.4m-12.8 .1h1.4m1 .1h1.4m-3.1 .2h1.4m-1.4 0h1.4m-.2 0h1.4m3.6 0h1.4m-4.9 .1h1.4m1.2 .1h1.4m-.1 0h1.4m-.8 0h1.4m1.3 0h1.4m-1 0h1.4m-1.1 0h1.4m-4.1 .1h1.4m-11.2 .1h1.4m.8 0h1.4m-.7 0h1.4m1.3 0h1.4m1.4 0h1.4m2.4 0h1.4m-8.2 .1h1.4m2.9 0h1.4m-4.8 .1h1.4m1.3 0h1.4m.3 0h1.4m-12.3 .1h1.4m2.5 0h1.4m4.2 0h1.4m-.6 .1h1.4m-10.8 .1h1.4m-3.7 .1h1.4m1.4 0h1.4m-1.3 0h1.4m9.2 0h1.4m-15.5 .1h1.4m-.7 0h1.4m4.3 .1h1.4m4 0h1.4m-9.8 .1h1.4m-1.2 0h1.4m2 0h1.4m-5 .1h1.4m4.7 0h1.4m1.3 0h1.4m-7.3 .1h1.4m6.8 0h1.4m-12.6 .2h1.4m.2 0h1.4m6.6 0h1.4m-1.2 0h1.4m-11.8 .1h1.4m-.3 0h1.4m3.9 0h1.4m-1.3 0h1.4m-6.6 .2h1.4m.4 0h1.4m5.2 0h1.4m-10.6 .1h1.4m1.7 0h1.4m2.3 0h1.4m1.4 0h1.4m-12.6 .1h1.4m-.2 0h1.4m2.1 0h1.4m-.7 0h1.4m4.3 0h1.4m.1 .1h1.4m-.8 0h1.4m-6.4 .1h1.4m3.8 0h1.4m-15.7 .1h1.4m1.2 .1h1.4m-.8 0h1.4m-1.2 0h1.4m-.5 0h1.4m1.3 .2h1.4m-5.7 .1h1.4m7.9 0h1.4m-1.3 0h1.4m-10.1 .1h1.4m-4.4 .1h1.4m1.5 0h1.4m-.3 0h1.4m4.5 0h1.4m-8.3 .1h1.4m4.4 0h1.4m1 0h1.4m-.9 0h1.4m-9.6 .1h1.4m-1.3 0h1.4m2.9 0h1.4m2 .1h1.4m-1.3 0h1.4m.8 0h1.4m-15.5 .1h1.4m5.4 0h1.4m.6 0h1.4m-1.3 0h1.4m.9 0h1.4m-12.6 .1h1.4m7.3 0h1.4m.8 0h1.4m-.1 0h1.4m-10.1 .1h1.4m2.3 0h1.4m-1.4 0h1.4m-.4 0h1.4m-.7 0h1.4m-10.2 .2h1.4m5.1 .1h1.4m.2 0h1.4m.3 0h1.4m-.5 0h1.4m-5.3 .1h1.4m2.4 0h1.4m1.7 0h1.4m-16.1 .1h1.4m1.2 0h1.4m4.4 .1h1.4m4 0h1.4m-10.9 .1h1.4m-1 0h1.4m5.2 0h1.4m-10.1 .1h1.4m3.7 0h1.4m-4.6 .1h1.4m1.7 .1h1.4m2.5 0h1.4m-.6 0h1.4m-11.5 .1h1.4m-.4 .1h1.4m1.9 0h1.4m3.7 .1h1.4m.5 0h1.4m-8.4 .2h1.4m6.2 .1h1.4m-12.3 .3h1.4m3.6 .1h1.4m5.3 0h1.4m-14.9 .1h1.4m-.8 .1h1.4m3 0h1.4m2.5 0h1.4m3 0h1.4m-7.5 .1h1.4m1.9 0h1.4m-9.5 .1h1.4m5.2 0h1.4m-8 .2h1.4m9.9 0h1.4m-9.8 .1h1.4m5.1 .1h1.4m-13.3 .1h1.4m4 0h1.4m5.4 0h1.4m-2.9 .1h1.4m-12.3 .1h1.4m8.2 0h1.4m2.4 0h1.4m-14.5 .2h1.4m2.9 .1h1.4m1.9 0h1.4m-9 .1h1.4m6.9 0h1.4m3.6 0h1.4m-15.4 .1h1.4m8.3 0h1.4m-1 0h1.4m-.4 .1h1.4m-1.2 0h1.4m-6.6 .2h1.4m.1 0h1.4m2.9 0h1.4m-10.5 .1h1.4m3.9 .2h1.4m-7.5 .1h1.4m-4 .1h1.4m.6 .1h1.4m-.5 0h1.4m6.3 .1h1.4m-6.3 .1h1.4m7 0h1.4m-10.3 .1h1.4m5.4 0h1.4m-11.1 .1h1.4m-1.1 0h1.4m1.7 .1h1.4m2.4 0h1.4m3 0h1.4m-14.1 .1h1.4m2.9 0h1.4m3.5 0h1.4m-6.7 .1h1.4m2.3 0h1.4m-5.7 .1h1.4m6.7 0h1.4m-6.5 .7h1.4m.5 0h1.4m3.7 .1h1.4m-2.9 .2h1.4m-10.9 .3h1.4m6 .5h1.4m-5.1 .5h1.4m-2.8 .1h1.4m4.9 .1h1.4m.8 .2h1.4m-8.5 .6h1.4m5.4 1.5h1.4m-12 .4h1.4m2.4 1.3h1.4m-4.8 .1h1.4m-1.8 1.2h1.4m.7 .5h1.4m-1.2 0h1.4m-.3 .5h1.4m6.7 .6h1.4m-6.2 1h1.4" stroke="#1667b4" stroke-width="1.4"/><path d="M435.2 92.1h1m-1.2 .4h1m-3.4 .5h1m-4.7 .2h1m2.1 .7h1m3.1 .2h1m-1.2 .2h1m-6.4 1h1m.4 .3h1m-11.2 .7h1m8.4 .2h1m-7.1 .2h1m5.1 .3h1m-9.9 .4h1m1.5 0h1m9.3 .1h1m-9.5 .1h1m4.3 .1h1m-7 .8h1m4.2 .4h1m.3 .5h1m-10.8 .2h1m5.5 0h1m-5.9 .2h1m-3 .2h1m7 .9h1m2.7 .7h1" stroke="#f0f4f8" stroke-width="1" stroke-opacity="0.7"/><path d="M422.4 103.6h1.3m4 0h1.3m-2 .1h1.3m3 .1h1.3m-2.2 1.5h1.3m-8 .6h1.3m6.1 0h1.3m.9 .1h1.3m-9 .2h1.3m-5.8 .6h1.3m-1.4 .6h1.3m4.6 0h1.3m.4 .6h1.3m-.4 .3h1.3m1.3 .1h1.3m-9.1 .8h1.3m-3.1 .2h1.3m7 .7h1.3m-11.1 1h1.3m-1.2 .9h1.3m.5 .1h1.3m-1.2 1.2h1.3m5.2 .3h1.3m4.9 .1h1.3m-4.2 .1h1.3m.9 1.3h1.3m-1.7 .7h1.3m-11.8 .4h1.3m-.2 .8h1.3m5.6 2.1h1.3m1.9 0h1.3m-7.3 1.1h1.3m-5.5 .5h1.3m-4.3 1.8h1.3m-1.6 .2h1.3m12.1 .3h1.3m-14 .5h1.3m12.2 0h1.3m-6.6 .7h1.3m2.7 .1h1.3m-11.9 .5h1.3m5.6 .9h1.3m-2.4 2.2h1.3m-10.4 .4h1.3m12.2 .2h1.3m-9.1 .7h1.3m-.5 .1h1.3" stroke="#3a80bb" stroke-width="1.3"/><path d="M426.2 130.6h1.3m7 1.3h1.3m-.5 .1h1.3m-3.1 3h1.3m-8.9 .2h1.3m-4.5 1.5h1.3m9.4 0h1.3m-11.1 2.1h1.3m1.7 .7h1.3m-5 .4h1.3m3.9 5.6h1.3m-5.2 9.1h1.3m6.1 2.4h1.3" stroke="#8a8a8a" stroke-width="1.3"/><path d="M438.2 72.8L454.4 72.8V94.7L438.2 94.7z" fill="url(#g34)"/><path d="M442.4 68.8h1.4m4.4 1.2h1.4m-1.1 .4h1.4m-1.2 .2h1.4m1.9 .6h1.4m-14.7 3.3h1.4m3.1 .5h1.4m3.7 .5h1.4m-11.5 .3h1.4m9.2 0h1.4m-4.6 .1h1.4m3.8 .1h1.4m-10 .2h1.4m5.7 0h1.4m-9.7 .2h1.4m6.2 .3h1.4m1.4 .1h1.4m-3.1 .2h1.4m-8.2 .1h1.4m1.3 .1h1.4m.6 0h1.4m-1.3 0h1.4m-1 0h1.4m.7 0h1.4m-7.6 .1h1.4m-.2 .1h1.4m0 .2h1.4m-4.3 .1h1.4m-6.9 .1h1.4m2 .2h1.4m1.5 0h1.4m-.8 .2h1.4m-.7 .2h1.4m-1.1 0h1.4m-7.1 .1h1.4m3.1 .1h1.4m3.8 .1h1.4m-11 .3h1.4m8.8 0h1.4m-13.7 .1h1.4m0 0h1.4m9.5 0h1.4m-3.4 .1h1.4m-2.8 .1h1.4m4.5 0h1.4m-14 .1h1.4m-4 .1h1.4m3.1 .1h1.4m-1 0h1.4m-1.2 0h1.4m-4.6 .1h1.4m10.1 .1h1.4m.2 0h1.4m-11.6 .3h1.4m4 .3h1.4m-10.9 .2h1.4m-.3 0h1.4m.5 0h1.4m1.9 0h1.4m6.3 0h1.4m-10.8 .1h1.4m5.8 0h1.4m-13 .1h1.4m5.3 .2h1.4m5.8 0h1.4m-12 .1h1.4m1.4 0h1.4m3.1 .1h1.4m-12 .3h1.4m1.5 0h1.4m-3.3 .2h1.4m2.9 0h1.4m-.8 0h1.4m-4.3 .1h1.4m.8 0h1.4m4.6 0h1.4m-1.2 0h1.4m-13 .1h1.4m7.9 0h1.4m-7.2 .1h1.4m7.7 0h1.4m-8.4 .1h1.4m.9 0h1.4m-5.9 .1h1.4m6.5 .1h1.4m-1.1 .1h1.4m-9.7 .2h1.4m.6 0h1.4m.8 .1h1.4m1.9 0h1.4m-.7 0h1.4m-11 .1h1.4m.1 0h1.4m5.2 0h1.4m-10.1 .1h1.4m-1.1 .1h1.4m10.8 0h1.4m-10.6 .1h1.4m5.2 0h1.4m-1.7 .1h1.4m-12.2 .1h1.4m6.1 0h1.4m-.4 0h1.4m3.1 0h1.4m-5.3 .1h1.4m2.4 0h1.4m-14.3 .3h1.4m.7 0h1.4m3.1 0h1.4m6.2 0h1.4m-9.1 .1h1.4m5.4 .2h1.4m-7.6 .1h1.4m1.5 0h1.4m-.6 0h1.4m.4 0h1.4m-3.3 .1h1.4m.2 0h1.4m-12.9 .1h1.4m.3 0h1.4m.5 .1h1.4m.6 0h1.4m3.1 0h1.4m-11.8 .1h1.4m11.7 0h1.4m-14.9 .1h1.4m.8 0h1.4m-3.6 .1h1.4m2.8 0h1.4m-1 0h1.4m4.3 0h1.4m-12.2 .1h1.4m-.9 .1h1.4m6.9 0h1.4m2.1 0h1.4m.9 .1h1.4m-10.7 .1h1.4m.7 0h1.4m.1 0h1.4m-.7 0h1.4m-1.4 .1h1.4m3.3 .1h1.4m-11.1 .1h1.4m2.6 .1h1.4m-2.8 .1h1.4m-3 .1h1.4m7.9 0h1.4m-15.4 .1h1.4m-1.8 .1h1.4m.8 0h1.4m.4 0h1.4m-.4 0h1.4m-.4 .1h1.4m-.3 .1h1.4m-.5 0h1.4m-.6 0h1.4m-.7 0h1.4m-9.6 .1h1.4m0 0h1.4m4.5 0h1.4m4.1 0h1.4m-8.7 .1h1.4m4.2 0h1.4m-5.9 .1h1.4m-9.7 .1h1.4m3.8 0h1.4m-1.2 0h1.4m.8 0h1.4m-6.7 .2h1.4m7.4 0h1.4m-9.6 .2h1.4m1.1 0h1.4m-.8 0h1.4m5.5 0h1.4m-10 .1h1.4m0 0h1.4m6.4 0h1.4m-11.1 .1h1.4m2.1 0h1.4m-1.5 .1h1.4m-5 .2h1.4m-.8 0h1.4m0 0h1.4m-.5 0h1.4m0 0h1.4m-7.9 .1h1.4m11.6 0h1.4m-15.4 .1h1.4m5.1 0h1.4m-6 .1h1.4m-4.2 .1h1.4m5.2 .1h1.4m-1 0h1.4m-.4 .1h1.4m3 0h1.4m-11.2 .1h1.4m.6 0h1.4m-1.4 0h1.4m1.5 0h1.4m3.5 0h1.4m-8.8 .1h1.4m1.4 0h1.4m-2 .1h1.4m-1.5 .1h1.4m-7.8 .1h1.4m1.5 .1h1.4m-.9 0h1.4m7.3 0h1.4m-9.1 .2h1.4m3.2 0h1.4m-5.4 .3h1.4m-4.9 .4h1.4m-.4 .2h1.4m0 0h1.4m-5.8 .2h1.4m3.7 0h1.4m-1 .3h1.4m3.5 0h1.4m.3 0h1.4m-12.1 .2h1.4m1 .2h1.4m5.7 .2h1.4m-1.4 .3h1.4m-11.4 .1h1.4m10.4 .3h1.4m-1.2 0h1.4m-8 .1h1.4m1.5 .2h1.4m-3.3 .2h1.4m-.3 .5h1.4m-1.4 .1h1.4m1.6 0h1.4m-9.7 .1h1.4m-.9 0h1.4m4.3 .2h1.4m-7.5 .1h1.4m.9 0h1.4m-1.2 .2h1.4m1.7 .3h1.4m3.8 0h1.4m-6.2 .2h1.4m-3.8 .3h1.4m4 0h1.4m-6.2 .1h1.4m1.7 0h1.4m-10.8 .1h1.4m11.1 0h1.4m-11.9 .2h1.4m.3 .5h1.4m-1 .4h1.4m2.4 .2h1.4m-.1 .9h1.4m-.6 .5h1.4m.8 1h1.4m-12.3 .3h1.4m6.3 2.2h1.4m-.1 .4h1.4m-4.1 1.5h1.4" stroke="#1667b4" stroke-width="1.4"/><path d="M443.9 76.4h1m3.5 1.6h1m-6 .1h1m6.5 1.2h1m-8.5 1.7h1m-2.9 .5h1m0 0h1m-5 .4h1m3.8 1h1m.4 0h1m-2.7 .9h1m-5.4 1h1m13 0h1m-9.7 .1h1m-6.2 .1h1m9.8 .2h1m-6.1 .5h1m-1.9 .4h1m4.7 .4h1m-6.6 .7h1m3.3 .5h1m2.8 .2h1m-13.3 .2h1m.7 2.1h1m8.3 .8h1m-.1 .3h1m1.1 .5h1" stroke="#f0f4f8" stroke-width="1" stroke-opacity="0.7"/><path d="M443.7 93.9h1.3m.6 .1h1.3m4.5 .4h1.3m-3.4 .3h1.3m-1.2 0h1.3m-11.5 .3h1.3m-1.6 1h1.3m-.7 .3h1.3m6 .1h1.3m-8.8 .9h1.3m3.6 0h1.3m-1 .3h1.3m3.9 .2h1.3m-9.9 .3h1.3m.3 .2h1.3m3.3 .5h1.3m-4.5 .3h1.3m2.6 .3h1.3m-4.6 .2h1.3m3.1 .2h1.3m-11.5 .3h1.3m9.7 .5h1.3m-10.8 1.7h1.3m-3.7 .6h1.3m13.5 .2h1.3m-13.7 2.2h1.3m7.7 0h1.3m.9 .2h1.3m-11.9 .7h1.3m8.5 4.6h1.3m-8.2 1h1.3m1.9 .8h1.3m-.8 .7h1.3m-5.8 .3h1.3m-6.1 .5h1.3m9.7 .1h1.3m-4 .5h1.3m3.5 0h1.3m.2 .5h1.3m-4.4 .1h1.3m-4.6 1.7h1.3m-1.9 .2h1.3m-8.9 .1h1.3m5.2 .3h1.3m6.9 .1h1.3m-4 .5h1.3m-5.1 .1h1.3m-9.6 .1h1.3m7.6 2.9h1.3m-9.7 .7h1.3m11.9 2.8h1.3m-3.8 .1h1.3m-5.8 2.2h1.3m6.3 0h1.3" stroke="#3a80bb" stroke-width="1.3"/><path d="M450.8 138.2h1.3m-3.6 .6h1.3m-4.4 1.1h1.3m-.3 4.2h1.3m-5.9 2.3h1.3m.4 5h1.3" stroke="#8a8a8a" stroke-width="1.3"/><path d="M455.6 75.3L471.6 75.3V93.7L455.6 93.7z" fill="url(#g35)"/><path d="M465.7 68.2h1.4m-3.4 6.1h1.4m3.7 .7h1.4m-7.9 .1h1.4m6.1 0h1.4m-11.3 1.6h1.4m3.4 .1h1.4m-6.3 .3h1.4m-2.5 .4h1.4m.8 0h1.4m1.1 .3h1.4m0 0h1.4m-3.8 .1h1.4m-7.5 .1h1.4m.6 .3h1.4m-2.1 .1h1.4m10.9 0h1.4m-15.4 .1h1.4m8.3 .2h1.4m-11.4 .3h1.4m11.7 0h1.4m-.5 0h1.4m-12.1 .1h1.4m-4.3 .1h1.4m.9 .1h1.4m9.7 0h1.4m-8.8 .1h1.4m1.7 0h1.4m-10.5 .3h1.4m6.6 0h1.4m2.3 .3h1.4m-3.8 .1h1.4m.9 0h1.4m-4.9 .2h1.4m-6.8 .1h1.4m8.3 0h1.4m-.9 0h1.4m-9.5 .1h1.4m3.4 .1h1.4m-5.5 .1h1.4m-.8 0h1.4m-1.8 .1h1.4m.2 0h1.4m-1.1 0h1.4m-5 .2h1.4m8.4 0h1.4m-15 .1h1.4m-.4 0h1.4m3.8 0h1.4m-7.6 .1h1.4m0 .1h1.4m10.8 0h1.4m-12.9 .1h1.4m10.7 0h1.4m-13.9 .1h1.4m6.3 0h1.4m-1.1 0h1.4m-5.3 .1h1.4m2.9 0h1.4m-12.4 .1h1.4m3.7 0h1.4m1.8 0h1.4m-7.4 .1h1.4m-1.7 .1h1.4m.1 0h1.4m3.3 .1h1.4m3.8 0h1.4m-1.5 .1h1.4m-2.2 .1h1.4m.4 0h1.4m-.5 0h1.4m-14.4 .1h1.4m2.8 0h1.4m-.8 0h1.4m-1 0h1.4m-8.5 .1h1.4m.6 0h1.4m9.8 0h1.4m-14.5 .1h1.4m-1.2 0h1.4m3.3 0h1.4m-6 .1h1.4m6.7 0h1.4m0 0h1.4m-10.2 .2h1.4m1.3 0h1.4m6.6 0h1.4m-.2 0h1.4m-11.9 .1h1.4m-1.1 0h1.4m1.2 0h1.4m-2.6 .1h1.4m-.2 0h1.4m-6.1 .1h1.4m2.4 0h1.4m5.5 0h1.4m-10.5 .1h1.4m-.9 0h1.4m1.2 0h1.4m4.8 0h1.4m-1.3 0h1.4m1 .1h1.4m-13.6 .1h1.4m1.7 0h1.4m.6 0h1.4m-4.6 .1h1.4m-.2 0h1.4m-.7 .1h1.4m-.3 0h1.4m5.7 0h1.4m-15.5 .1h1.4m5.5 0h1.4m2 0h1.4m-7.5 .1h1.4m.7 0h1.4m1.8 0h1.4m-9.1 .1h1.4m1.2 .1h1.4m6.1 0h1.4m-6.6 .2h1.4m-.4 0h1.4m-2 .1h1.4m.2 0h1.4m.2 0h1.4m3.1 .1h1.4m-14.6 .1h1.4m2.1 0h1.4m3.3 0h1.4m-5.4 .2h1.4m2.6 0h1.4m-.3 0h1.4m-8.6 .1h1.4m.8 0h1.4m-7.1 .1h1.4m12.1 .1h1.4m-11.6 .1h1.4m5.8 0h1.4m-11.7 .1h1.4m0 0h1.4m.1 0h1.4m-3.6 .1h1.4m-.6 0h1.4m2.1 .1h1.4m-3.6 .1h1.4m-3.2 .1h1.4m5 0h1.4m-.6 0h1.4m1.7 0h1.4m-8 .1h1.4m-4 .1h1.4m5.6 .1h1.4m.3 0h1.4m2.2 0h1.4m-14.7 .1h1.4m-.7 0h1.4m3.7 0h1.4m2.9 0h1.4m-6.1 .1h1.4m-8 .1h1.4m-.9 0h1.4m12.1 0h1.4m-14.9 .1h1.4m.5 .1h1.4m3.4 .1h1.4m6.1 0h1.4m-16.2 .1h1.4m3 0h1.4m-5.6 .1h1.4m8 0h1.4m-10.1 .1h1.4m7.4 0h1.4m-9.3 .1h1.4m1.5 0h1.4m-4.5 .1h1.4m1.9 0h1.4m.3 0h1.4m1 0h1.4m-9.6 .1h1.4m3.2 0h1.4m1.8 .1h1.4m2.4 0h1.4m-10.6 .1h1.4m8.2 0h1.4m-4.7 .3h1.4m-7.9 .1h1.4m.8 0h1.4m.1 0h1.4m.6 0h1.4m4.1 .3h1.4m-15.4 .1h1.4m-.9 .2h1.4m12 0h1.4m-7.1 .1h1.4m-.7 .1h1.4m2.3 0h1.4m-10.5 .1h1.4m4.8 0h1.4m.2 .2h1.4m-3 .1h1.4m-9.7 .1h1.4m6.6 0h1.4m-1.3 0h1.4m-7 .2h1.4m0 0h1.4m-2.9 .1h1.4m-3.2 .1h1.4m1.4 0h1.4m-5.5 .1h1.4m7.3 .1h1.4m-6.5 .2h1.4m.3 0h1.4m-5.1 .1h1.4m.8 0h1.4m4.9 .2h1.4m-.3 0h1.4m-.3 0h1.4m-9.5 .2h1.4m-2.5 .2h1.4m9.1 0h1.4m-13.2 .1h1.4m8.6 .3h1.4m-13.4 .1h1.4m-1.9 .2h1.4m-.2 0h1.4m8.1 0h1.4m-5.7 .1h1.4m-7 .1h1.4m.4 .3h1.4m-1.1 0h1.4m9.8 .2h1.4m-13.4 .2h1.4m1.6 0h1.4m3.9 0h1.4m-10.9 .2h1.4m7.7 .7h1.4m-8.2 .8h1.4m-2.3 1.3h1.4m10.5 0h1.4m-8.5 .9h1.4m-2.8 .2h1.4m-3.2 .1h1.4m2.1 .1h1.4m1.9 .2h1.4m-8.4 .5h1.4m4.4 .2h1.4m-8.2 .6h1.4m7.4 1h1.4m.8 .6h1.4m-.8 .3h1.4m-8.9 .3h1.4m-4.2 .2h1.4m9 1.8h1.4m-10.5 .4h1.4m5.4 .3h1.4" stroke="#1667b4" stroke-width="1.4"/><path d="M464.3 76.6h1m2 4h1m-10 .1h1m7.5 .2h1m-4.7 .1h1m-6.8 .7h1m.9 .2h1m8.3 .6h1m-7.6 .8h1m-7.4 .1h1m-.1 0h1m2.2 .4h1m10 .2h1m-8.7 .2h1m-7.8 .2h1m.8 .1h1m8.6 .2h1m-1.6 .5h1m-2.4 .3h1m-2 2.6h1m-3.3 .2h1m.1 .4h1m1.1 1.5h1m-9.8 .1h1m11.4 0h1m-5.2 .3h1" stroke="#f0f4f8" stroke-width="1" stroke-opacity="0.7"/><path d="M463.8 92.9h1.3m3.8 .3h1.3m-2.8 .1h1.3m-3.3 .1h1.3m2.7 .1h1.3m-2.9 .4h1.3m-2 .5h1.3m-12.6 .6h1.3m-.7 .1h1.3m3.4 .7h1.3m7.9 .6h1.3m-2.5 1.3h1.3m-8.7 .3h1.3m-6.5 .4h1.3m0 .1h1.3m-2 .1h1.3m7.8 1.1h1.3m-1.6 .4h1.3m1.2 0h1.3m-5 .2h1.3m3.1 1.1h1.3m-5.9 .2h1.3m-5.9 .2h1.3m-2.7 .2h1.3m-2.6 .6h1.3m-2.6 .1h1.3m6.7 .4h1.3m4.4 .9h1.3m-.5 0h1.3m-12.8 1h1.3m-2.6 .6h1.3m5.4 2.4h1.3m-.9 1h1.3m-5 .1h1.3m-5.8 .7h1.3m9 1.3h1.3m-2.9 .4h1.3m-5.4 .6h1.3m4.6 .3h1.3m-6.6 1.4h1.3m-2.2 4.5h1.3m8.3 .2h1.3m-4.6 .5h1.3m.9 .8h1.3m-7 2h1.3m5.1 .7h1.3m-15.3 5.1h1.3" stroke="#3a80bb" stroke-width="1.3"/><path d="M457 129.9h1.3m1.1 .3h1.3m-1.2 1.3h1.3m9.7 5.2h1.3m-15.3 1.5h1.3m2.8 .6h1.3m7.7 1h1.3m-11.5 2.5h1.3m-1.7 1h1.3m-.8 1.9h1.3m-1.6 3.5h1.3m3.9 4.6h1.3m.8 1.3h1.3" stroke="#8a8a8a" stroke-width="1.3"/><path d="M472.8 50.3L487.8 50.3V75.2L472.8 75.2z" fill="url(#g36)"/><path d="M474.6 44.1h1.4m-.1 3.7h1.4m-2.1 2.3h1.4m-.4 .2h1.4m7.9 1.4h1.4m-7.1 .3h1.4m-6.7 .1h1.4m1.1 .2h1.4m-3.9 .1h1.4m.4 .6h1.4m8.1 .6h1.4m-8.9 .1h1.4m-1 .3h1.4m5.5 .1h1.4m-8.2 .2h1.4m0 0h1.4m-4.1 .1h1.4m-4.4 .3h1.4m-1.2 0h1.4m1.5 .1h1.4m2.9 .4h1.4m.6 .1h1.4m-8.9 .1h1.4m1.6 0h1.4m-2 .4h1.4m3.1 .2h1.4m-9.5 .1h1.4m.9 0h1.4m-4.2 .2h1.4m-2.1 .2h1.4m-.2 0h1.4m-3.7 .1h1.4m9.3 0h1.4m-11.9 .3h1.4m1.7 0h1.4m5.4 0h1.4m-.9 .2h1.4m-6.5 .1h1.4m-5.8 .1h1.4m6.2 0h1.4m-1.1 0h1.4m-7.7 .1h1.4m7.5 0h1.4m-11.8 .3h1.4m.6 0h1.4m2.8 .1h1.4m.6 0h1.4m-8.3 .1h1.4m.8 0h1.4m-4.9 .1h1.4m-.4 .1h1.4m2.7 .2h1.4m5.1 0h1.4m-11.2 .1h1.4m-.7 0h1.4m-3.7 .3h1.4m6.5 0h1.4m-1 0h1.4m.6 .2h1.4m-13.2 .1h1.4m2.2 0h1.4m.2 0h1.4m-6 .1h1.4m.5 0h1.4m1.2 0h1.4m2.6 0h1.4m2.4 0h1.4m-11.5 .1h1.4m.8 0h1.4m-.6 0h1.4m.1 0h1.4m2 0h1.4m-5.9 .1h1.4m-6.2 .1h1.4m-1 .1h1.4m0 0h1.4m-.9 0h1.4m1.2 0h1.4m.3 0h1.4m-2.3 .2h1.4m2.9 0h1.4m1 0h1.4m-11.3 .1h1.4m5.9 .1h1.4m-11.3 .1h1.4m2 0h1.4m1.6 0h1.4m2.3 0h1.4m-6.8 .1h1.4m-1.1 .1h1.4m2.7 .1h1.4m.2 .1h1.4m-5.7 .1h1.4m3.3 0h1.4m-9 .1h1.4m6.1 .1h1.4m-12.9 .1h1.4m2.8 .1h1.4m3.4 0h1.4m1 0h1.4m-9.8 .1h1.4m3.5 .1h1.4m2.4 0h1.4m-10.1 .1h1.4m3.9 0h1.4m-4.5 .1h1.4m-.7 0h1.4m.6 0h1.4m.5 0h1.4m-9.1 .1h1.4m2.4 0h1.4m-7.2 .1h1.4m4.1 0h1.4m3.3 0h1.4m-11.7 .1h1.4m-1.4 .1h1.4m4.8 .1h1.4m3.1 .1h1.4m-7.3 .2h1.4m6.4 0h1.4m-9.8 .1h1.4m4.8 0h1.4m-2.1 .1h1.4m1 0h1.4m-13.9 .1h1.4m5 0h1.4m-1.2 .1h1.4m-.4 .1h1.4m-7.8 .1h1.4m3.9 0h1.4m-6.9 .2h1.4m2.4 0h1.4m1.7 0h1.4m.9 .2h1.4m.8 0h1.4m-13.8 .1h1.4m10 0h1.4m-3.7 .1h1.4m-9.6 .2h1.4m5.4 0h1.4m-7.4 .1h1.4m-1 .1h1.4m5.7 0h1.4m.1 0h1.4m-11.4 .2h1.4m-2.5 .1h1.4m2.2 0h1.4m-.4 .1h1.4m1.8 0h1.4m-7 .1h1.4m8.5 .3h1.4m-7 .2h1.4m6 0h1.4m-13.5 .1h1.4m2 0h1.4m-1 0h1.4m2.4 0h1.4m-6.8 .2h1.4m-1.7 .2h1.4m7.6 0h1.4m-.6 0h1.4m-10.8 .1h1.4m6.4 0h1.4m-1.2 .1h1.4m-13.1 .1h1.4m4.2 0h1.4m-3.3 .1h1.4m-2.3 .1h1.4m.5 .1h1.4m4.4 .1h1.4m-11.9 .1h1.4m2.9 .1h1.4m3.2 .1h1.4m-3.5 .1h1.4m4.1 .2h1.4m-4.4 .1h1.4m-.5 0h1.4m-.4 0h1.4m-7.8 .1h1.4m-.7 .4h1.4m1.9 .1h1.4m.5 0h1.4m-12.6 .1h1.4m8.4 0h1.4m-9 .1h1.4m.8 0h1.4m-3.8 .3h1.4m-2.9 .1h1.4m7 .2h1.4m-.2 .4h1.4m-8 .2h1.4m1.2 .1h1.4m-1.6 .1h1.4m-1.3 .1h1.4m2.6 0h1.4m-9.6 .1h1.4m3.2 0h1.4m2.1 0h1.4m-2.6 .2h1.4m-9.8 .1h1.4m7.6 .1h1.4m-1.3 .5h1.4m-4.9 .2h1.4m-.9 .2h1.4m-2.5 .2h1.4m2.2 0h1.4m-8.6 .1h1.4m1.4 .2h1.4m-5 .4h1.4m10.3 1.2h1.4m-7.8 .1h1.4m-6.6 .4h1.4m-.7 0h1.4m-.1 .1h1.4m6.4 .1h1.4m-4 .1h1.4m-8.5 .1h1.4m10.3 0h1.4m-6.9 .1h1.4m.6 0h1.4m-8.5 .1h1.4m10.3 0h1.4m-5.5 .1h1.4m-9.9 .2h1.4m.5 0h1.4m5 .5h1.4m-9.8 .4h1.4m1.6 0h1.4m1.9 .3h1.4m4.6 0h1.4m-7 .7h1.4m-.9 .1h1.4m-8.5 .4h1.4m-2.3 2.3h1.4m7.1 .4h1.4m-.8 .3h1.4m-.5 1.7h1.4m1.9 1h1.4m-10 .9h1.4" stroke="#1667b4" stroke-width="1.4"/><path d="M473.9 53.2h1m4.9 1.7h1m-3.2 .9h1m7 2.6h1m-13.8 .8h1m1.5 .4h1m-2.4 1.2h1m9.4 1h1m-1.5 .2h1m-8.2 .3h1m6.3 .2h1m-7.3 .2h1m4 .8h1m-3 .5h1m-6.6 .3h1m10.7 .3h1m-10.2 .2h1m.4 .2h1m6.9 .4h1m-9.9 .9h1m-.1 .7h1m1.4 0h1m-1.1 .2h1m1.2 .3h1m-4.8 3.8h1" stroke="#f0f4f8" stroke-width="1" stroke-opacity="0.7"/><path d="M478.2 74.1h1.3m6.8 0h1.3m-11.3 .3h1.3m-1.5 .1h1.3m.4 0h1.3m2.1 .1h1.3m-.7 .2h1.3m2.2 1.6h1.3m0 0h1.3m-10.2 1.4h1.3m.5 .9h1.3m.3 1.3h1.3m2.6 .5h1.3m-6 .7h1.3m-3.9 .5h1.3m1.8 .1h1.3m4.6 .7h1.3m-11.2 .3h1.3m-.6 0h1.3m-2.3 .2h1.3m-1.9 .7h1.3m9.4 .3h1.3m-13.8 .4h1.3m2 .2h1.3m4.4 .1h1.3m2.1 0h1.3m-14.7 .5h1.3m5.1 1.2h1.3m1.3 .8h1.3m-.2 .4h1.3m.8 .9h1.3m-12.8 .1h1.3m10.4 1.8h1.3m-8.7 3.4h1.3m2.4 1.1h1.3m-5.3 2.9h1.3m2.3 .8h1.3m2.7 .4h1.3m-12 .2h1.3m3.3 2h1.3m1 1.1h1.3m-3.1 .3h1.3m-2.5 1.5h1.3m-.6 2.4h1.3m5.3 1.1h1.3m-.8 1h1.3m-3.2 1.1h1.3m-7.2 .3h1.3m-2.9 .9h1.3m6.5 2.7h1.3m-8.8 2.7h1.3m5.5 1.1h1.3m-7.8 4.7h1.3m-6.1 2.4h1.3m11 2.5h1.3" stroke="#3a80bb" stroke-width="1.3"/><path d="M472.9 129.6h1.3m10 5.2h1.3m-5.6 1.1h1.3m2.9 1.3h1.3m-4.3 .9h1.3" stroke="#8a8a8a" stroke-width="1.3"/><path d="M489 78.8L503.9 78.8V97.2L489 97.2z" fill="url(#g37)"/><path d="M502.6 76.5h1.4m-5.6 1.3h1.4m-3.1 .9h1.4m-8.9 .6h1.4m4.6 1.1h1.4m1 .2h1.4m-.6 0h1.4m-4.5 .1h1.4m-.4 .4h1.4m1.3 .4h1.4m-7.2 .1h1.4m1.6 .1h1.4m-8.9 .2h1.4m10.8 0h1.4m-5.8 .3h1.4m-9.1 .2h1.4m5.3 .2h1.4m-6.5 .1h1.4m8.7 0h1.4m-6.8 .6h1.4m-7 .1h1.4m1.5 .1h1.4m.9 0h1.4m3.6 .1h1.4m-4.7 .1h1.4m0 0h1.4m-3.3 .3h1.4m.5 0h1.4m-7.7 .1h1.4m.9 0h1.4m-.6 .1h1.4m-.5 0h1.4m-7.1 .1h1.4m1.7 0h1.4m6.5 0h1.4m-8 .3h1.4m-.1 0h1.4m4.8 0h1.4m-.5 .1h1.4m-8.7 .1h1.4m-.5 0h1.4m-1.1 0h1.4m2.5 0h1.4m-3 .1h1.4m.1 0h1.4m-12.5 .1h1.4m6.3 0h1.4m1.4 0h1.4m-12.3 .2h1.4m8.3 0h1.4m-1.1 0h1.4m-5 .1h1.4m.3 0h1.4m-.9 0h1.4m2.6 0h1.4m-.5 0h1.4m-2.4 .1h1.4m-2.9 .4h1.4m-1.1 0h1.4m-5.5 .2h1.4m1.3 0h1.4m1.2 0h1.4m-12.8 .1h1.4m6.6 0h1.4m2.6 0h1.4m-12.2 .3h1.4m-2.4 .1h1.4m3.2 .1h1.4m-.6 0h1.4m-.5 0h1.4m-.4 0h1.4m-9.7 .1h1.4m.8 0h1.4m1.9 0h1.4m-.4 .1h1.4m-4.7 .1h1.4m7.5 0h1.4m-.1 0h1.4m-14.9 .1h1.4m2.7 0h1.4m2.1 0h1.4m-.4 0h1.4m-6.1 .2h1.4m6.1 0h1.4m-8 .2h1.4m5.3 0h1.4m-.2 .1h1.4m-.6 0h1.4m-11.5 .1h1.4m-.7 0h1.4m.9 0h1.4m-3.5 .1h1.4m6.6 0h1.4m-12.3 .1h1.4m3.5 0h1.4m.6 .1h1.4m-9.2 .1h1.4m1.1 .1h1.4m4.9 0h1.4m-5.6 .1h1.4m-.1 0h1.4m-.3 0h1.4m-3.9 .1h1.4m-.8 0h1.4m-3.4 .2h1.4m8.1 0h1.4m-6.2 .1h1.4m.6 0h1.4m1 .1h1.4m-3.8 .1h1.4m-6.9 .1h1.4m1.4 .1h1.4m4.5 0h1.4m-13.7 .1h1.4m-.9 0h1.4m4.3 0h1.4m2.7 0h1.4m-.6 0h1.4m-5.5 .1h1.4m-5.4 .1h1.4m-1.5 .1h1.4m5.1 0h1.4m-.6 0h1.4m-11.4 .3h1.4m2 0h1.4m5.2 0h1.4m0 0h1.4m-10.9 .2h1.4m-.4 0h1.4m7.8 0h1.4m-12.6 .1h1.4m2.1 0h1.4m2.6 .1h1.4m-.7 0h1.4m.5 0h1.4m-12.2 .1h1.4m7.3 .1h1.4m.3 0h1.4m-11 .1h1.4m-.7 0h1.4m-.2 0h1.4m-.7 0h1.4m5.4 0h1.4m-6.3 .1h1.4m1 0h1.4m-.5 0h1.4m-8.7 .1h1.4m-1.4 .1h1.4m-.9 0h1.4m-4.2 .1h1.4m1 0h1.4m1.2 0h1.4m-3.5 .1h1.4m0 .1h1.4m.5 0h1.4m3.6 0h1.4m-12.9 .1h1.4m-.8 0h1.4m8 0h1.4m-2.2 .1h1.4m-9 .1h1.4m-.2 0h1.4m3.2 0h1.4m-.4 0h1.4m-8.8 .1h1.4m.9 0h1.4m7.7 0h1.4m-10 .1h1.4m5.3 0h1.4m-1.3 0h1.4m-5.1 .1h1.4m4.3 0h1.4m-3.9 .1h1.4m-12.1 .2h1.4m-1.2 0h1.4m.2 0h1.4m0 0h1.4m8.3 0h1.4m-1.3 .1h1.4m-1 0h1.4m-9.5 .3h1.4m-5 .1h1.4m1.3 .2h1.4m8 .1h1.4m-11.8 .1h1.4m.2 0h1.4m-1 0h1.4m1.7 0h1.4m-8.7 .1h1.4m7.3 .1h1.4m-3.6 .1h1.4m4.2 0h1.4m-1 0h1.4m-14.2 .1h1.4m1.6 .1h1.4m5.1 0h1.4m-9.1 .1h1.4m8.3 .1h1.4m-.5 0h1.4m-12.7 .1h1.4m2.5 0h1.4m.3 0h1.4m-.7 0h1.4m-7.1 .1h1.4m-.5 0h1.4m7.2 .4h1.4m-5.9 .3h1.4m-8 .1h1.4m2.9 .1h1.4m4.6 0h1.4m0 0h1.4m-4.5 .1h1.4m-10.1 .1h1.4m-.5 0h1.4m.1 .2h1.4m3.3 0h1.4m4.3 0h1.4m-3.6 .4h1.4m-5.6 .2h1.4m-.7 .2h1.4m-8.6 .2h1.4m1.3 .1h1.4m4 0h1.4m2.1 .4h1.4m-2.8 .4h1.4m1.1 .3h1.4m-3.5 .1h1.4m-8.2 .2h1.4m-5.4 2h1.4m5.6 .2h1.4m-7.9 .1h1.4m11.3 .2h1.4m-4.1 .7h1.4m-5.4 .4h1.4m3.2 .1h1.4m-9.1 .3h1.4m-5.4 .5h1.4m5 4.1h1.4" stroke="#1667b4" stroke-width="1.4"/><path d="M493.5 83.5h1m-4.6 1.5h1m8.1 0h1m-9.9 .4h1m6.6 0h1m-8.5 1.8h1m9.7 .7h1m-7.3 .9h1m3 0h1m0 0h1m-10.9 .2h1m5.7 .9h1m-.7 .2h1m2.2 .6h1m-10.6 .2h1m11.1 .2h1m-7 .1h1m-3.5 .3h1m4.9 .8h1m0 0h1m-11.8 .2h1m2.9 .5h1m-2 .4h1m.6 .3h1m7.2 2h1" stroke="#f0f4f8" stroke-width="1" stroke-opacity="0.7"/><path d="M498.4 96.2h1.3m-3.9 1.7h1.3m-1.9 .4h1.3m3.8 0h1.3m-7.2 .4h1.3m-2.4 .4h1.3m-5.2 .2h1.3m6.7 1.3h1.3m-8.8 1.5h1.3m-1.5 .4h1.3m2.4 .4h1.3m2.6 0h1.3m-6.4 .2h1.3m1.9 1.4h1.3m-1.7 1.1h1.3m1.9 1.1h1.3m2 .6h1.3m-.3 .5h1.3m-9.2 .2h1.3m-5.9 1.3h1.3m8.7 0h1.3m-.4 .1h1.3m-8.1 .4h1.3m2.7 .1h1.3m-10.5 .5h1.3m-.3 0h1.3m5.6 1.5h1.3m-5.1 .2h1.3m-1.3 .3h1.3m5.3 .2h1.3m-1.3 .5h1.3m1.2 .7h1.3m-11.9 .8h1.3m-2.4 .8h1.3m7.3 .2h1.3m-8.4 .1h1.3m5.9 .2h1.3m-11.4 .5h1.3m-.3 2.4h1.3m2.1 .9h1.3m-2.6 1.3h1.3m5.5 1.2h1.3m-1.7 1.3h1.3m-2 .3h1.3m-.4 2h1.3" stroke="#3a80bb" stroke-width="1.3"/><path d="M496.9 129.4h1.3m-9.1 3.9h1.3m-1.6 2.2h1.3m7 4h1.3m-.6 .9h1.3m-5.5 .6h1.3m-5.7 .5h1.3m10.2 .6h1.3m-1.6 2.1h1.3m.8 2.3h1.3m-4.1 1.8h1.3m-2.4 2.2h1.3m-5.8 1.5h1.3m.1 5.8h1.3m0 .5h1.3" stroke="#8a8a8a" stroke-width="1.3"/><path d="M505.1 81.8L521.4 81.8V97.2L505.1 97.2z" fill="url(#g38)"/><path d="M508 79.9h1.4m-3.2 .3h1.4m7.3 1.8h1.4m-10.8 .4h1.4m-.9 .1h1.4m6.6 1h1.4m4.8 0h1.4m-14.3 .3h1.4m.6 .3h1.4m-4.8 .1h1.4m10.2 0h1.4m-11 .1h1.4m1.1 0h1.4m.5 0h1.4m-1.1 0h1.4m5.2 0h1.4m-7.2 .3h1.4m-6.1 .1h1.4m2.5 0h1.4m1.6 0h1.4m-2.8 .1h1.4m.2 0h1.4m-8.5 .1h1.4m6 .1h1.4m2.8 .1h1.4m-15.3 .2h1.4m2.1 0h1.4m8 0h1.4m-10.5 .1h1.4m-4 .1h1.4m-1.3 .1h1.4m.4 0h1.4m3.5 .1h1.4m4 .1h1.4m-14.5 .1h1.4m7.7 0h1.4m-.5 0h1.4m-2 .2h1.4m-12.2 .1h1.4m-1.4 .1h1.4m9.8 0h1.4m-10 .1h1.4m7.2 0h1.4m-10.3 .1h1.4m3.6 0h1.4m1.3 0h1.4m-11.1 .1h1.4m1.4 0h1.4m10 0h1.4m-14.8 .2h1.4m-1.3 0h1.4m1.1 0h1.4m2.1 0h1.4m-6.7 .1h1.4m10.2 0h1.4m-.2 0h1.4m-16.3 .1h1.4m5.5 0h1.4m-.9 0h1.4m2.7 .1h1.4m-12.4 .1h1.4m-.7 .1h1.4m-.7 .1h1.4m-.7 0h1.4m7.6 0h1.4m-.9 0h1.4m.1 0h1.4m-10 .1h1.4m.1 0h1.4m.2 0h1.4m-.5 0h1.4m3.3 0h1.4m-15.2 .1h1.4m6.5 .1h1.4m.5 0h1.4m2.7 0h1.4m-8.8 .1h1.4m-4.5 .1h1.4m-.8 0h1.4m4.2 0h1.4m2.9 0h1.4m-13.9 .1h1.4m.7 0h1.4m6.1 0h1.4m-.8 0h1.4m-6.1 .1h1.4m2.3 0h1.4m2.2 0h1.4m-.9 0h1.4m-14.6 .1h1.4m1.4 0h1.4m6.3 0h1.4m-6.3 .1h1.4m2.5 0h1.4m-11.2 .1h1.4m-.3 0h1.4m9 0h1.4m.2 0h1.4m-1.4 0h1.4m-.9 0h1.4m-14.6 .1h1.4m.6 0h1.4m.7 0h1.4m-.1 0h1.4m-3.6 .1h1.4m2.4 0h1.4m-.5 .2h1.4m-10.3 .1h1.4m6.3 0h1.4m.2 0h1.4m.1 .1h1.4m-11.9 .1h1.4m-1 0h1.4m12.4 .1h1.4m-11.2 .1h1.4m1.7 0h1.4m3.9 0h1.4m-.8 0h1.4m-1 0h1.4m-11.6 .1h1.4m4.4 0h1.4m-10.1 .1h1.4m2.1 0h1.4m7.5 0h1.4m-1.2 0h1.4m-12.6 .1h1.4m-.6 0h1.4m.5 0h1.4m.8 0h1.4m.7 0h1.4m-8 .1h1.4m0 .1h1.4m1.6 0h1.4m5.6 0h1.4m-15.2 .1h1.4m.4 0h1.4m-.4 0h1.4m-.5 0h1.4m2.2 0h1.4m-5.3 .1h1.4m5.9 0h1.4m-11.5 .1h1.4m1.9 0h1.4m-1.5 .1h1.4m-.5 0h1.4m3.7 0h1.4m3.1 0h1.4m-13.8 .1h1.4m-.8 0h1.4m.6 0h1.4m4.9 0h1.4m-.3 .1h1.4m-7.5 .1h1.4m6.2 0h1.4m-2.7 .2h1.4m-6.1 .1h1.4m3.7 0h1.4m-6.8 .1h1.4m-2 .1h1.4m2.1 0h1.4m1.3 0h1.4m-14.9 .1h1.4m.6 0h1.4m2.8 0h1.4m4.1 0h1.4m-12.5 .1h1.4m.5 0h1.4m-.3 0h1.4m-.4 0h1.4m-1.4 0h1.4m4.9 .1h1.4m-9 .1h1.4m1.9 0h1.4m-.6 .1h1.4m5.7 0h1.4m-14.1 .1h1.4m.3 0h1.4m5.1 0h1.4m1.5 .1h1.4m-3.1 .1h1.4m.8 0h1.4m-.6 0h1.4m-13.9 .1h1.4m9.7 0h1.4m-12.9 .1h1.4m1.9 0h1.4m1.9 0h1.4m-1.4 0h1.4m-9.1 .2h1.4m3 0h1.4m-.4 .1h1.4m.8 .2h1.4m3.6 0h1.4m-3.5 .1h1.4m-5.3 .1h1.4m-6.8 .1h1.4m4.8 0h1.4m-.6 .1h1.4m1.6 .1h1.4m-.4 0h1.4m-12.5 .1h1.4m7.7 0h1.4m1.8 0h1.4m-7.1 .1h1.4m-5.5 .1h1.4m7 0h1.4m-9.4 .1h1.4m3.2 0h1.4m-1.2 0h1.4m-10.8 .1h1.4m1.1 0h1.4m3.1 0h1.4m-.2 0h1.4m-7.6 .1h1.4m1.8 0h1.4m5.5 0h1.4m-6 .1h1.4m2.3 0h1.4m-12.5 .1h1.4m9.1 0h1.4m-2.1 .1h1.4m2.7 0h1.4m-7.6 .4h1.4m-3.6 .2h1.4m-1.9 .1h1.4m1.1 .1h1.4m5.2 0h1.4m-1.8 .1h1.4m-10.3 .1h1.4m4.8 0h1.4m-3.4 .1h1.4m3.8 0h1.4m-4 .2h1.4m-5.4 .1h1.4m.6 0h1.4m2.6 0h1.4m-14.9 .1h1.4m-.4 .2h1.4m2.6 .3h1.4m.6 .2h1.4m-6.9 .2h1.4m11 0h1.4m-2.8 .1h1.4m-7.1 .3h1.4m-8.4 1h1.4m11.4 0h1.4m-9.3 .6h1.4m3.5 0h1.4m-2.5 .4h1.4m-1.4 .1h1.4m-8.5 .2h1.4m8.9 .1h1.4m-.5 1.1h1.4m-10.7 .5h1.4m.7 1.4h1.4m4.8 .9h1.4m-2 1.4h1.4m1.9 .4h1.4m-4 1.6h1.4" stroke="#1667b4" stroke-width="1.4"/><path d="M518.9 85.2h1m-.7 .4h1m-14.3 .5h1m2.9 .4h1m-.3 .9h1m4.8 .1h1m-11.5 .1h1m0 0h1m-.9 .2h1m12.1 0h1m-10.1 .8h1m-1.6 .8h1m3.8 1.4h1m4.3 .2h1m-11.8 .3h1m-.2 .1h1m-3.5 .4h1m10.5 0h1m-9.4 .3h1m6.4 .6h1m-12.8 .2h1m.6 .1h1m9.9 0h1m-3.5 .3h1m-11.9 .7h1m4.2 0h1m-4.6 .1h1" stroke="#f0f4f8" stroke-width="1" stroke-opacity="0.7"/><path d="M516.1 96.1h1.3m-3.8 .9h1.3m-1.3 .2h1.3m-1.8 .3h1.3m1 .9h1.3m-4 .1h1.3m0 1.4h1.3m3.3 .2h1.3m.2 .3h1.3m-13.9 1.2h1.3m-2.1 .5h1.3m-1.2 .7h1.3m-2.1 .2h1.3m0 .8h1.3m-3.4 .5h1.3m11.6 .4h1.3m-10.7 3.4h1.3m9.8 .1h1.3m-8.4 2h1.3m5.8 0h1.3m-6.6 1.6h1.3m-10.9 .2h1.3m-.3 0h1.3m8.5 .8h1.3m-4.1 1.4h1.3m-9.1 .7h1.3m1 2.5h1.3m-3.2 .5h1.3m-1.8 .7h1.3m8 2h1.3m-5.9 .1h1.3m-2.2 2.1h1.3m.3 0h1.3m-6.2 1.5h1.3m12 1.5h1.3m-13.5 1.3h1.3m4.5 .4h1.3" stroke="#3a80bb" stroke-width="1.3"/><path d="M514.6 130h1.3m-3.7 1.2h1.3m-.1 1.8h1.3m4.5 1.2h1.3m-11.4 .1h1.3m-4.7 .2h1.3m-2.1 .8h1.3m2.5 3h1.3m-.8 1.1h1.3m6.4 1.8h1.3m-13.1 .2h1.3m1.1 .2h1.3m2.2 1.1h1.3m6.9 1.8h1.3m-12.7 1.6h1.3m2.8 .3h1.3m2.7 .6h1.3m-5 8h1.3m-2 .3h1.3m7 .2h1.3m-1.8 5.2h1.3m-5.3 1.7h1.3m-5.5 3.4h1.3" stroke="#8a8a8a" stroke-width="1.3"/><path d="M522.6 68.3L539.3 68.3V87.2L522.6 87.2z" fill="url(#g39)"/><path d="M537.3 66.2h1.4m-3.2 .3h1.4m-12.3 1.4h1.4m5.7 .2h1.4m-8.2 .1h1.4m-3.7 1.4h1.4m5.8 .4h1.4m5.6 .6h1.4m-13.3 .1h1.4m-1.8 .1h1.4m8.7 0h1.4m-7.2 .1h1.4m6 .1h1.4m-11.7 .1h1.4m8.4 .1h1.4m-4.1 .4h1.4m-11.1 .1h1.4m11.3 0h1.4m-13 .3h1.4m8.8 0h1.4m-3.6 .1h1.4m-8.8 .2h1.4m4.3 0h1.4m-5.2 .2h1.4m7.9 .1h1.4m-3 .4h1.4m-4.3 .1h1.4m2.1 0h1.4m-7.7 .1h1.4m3.2 0h1.4m1.6 0h1.4m-3.3 .1h1.4m-12 .1h1.4m4.4 .1h1.4m5.2 .1h1.4m-4 .1h1.4m-10.9 .1h1.4m1.9 .1h1.4m4.9 0h1.4m-5.4 .1h1.4m5.8 0h1.4m-4.5 .1h1.4m.6 0h1.4m-1.5 .1h1.4m-14.3 .1h1.4m.7 .1h1.4m.3 0h1.4m4.4 0h1.4m-10.4 .1h1.4m.5 .1h1.4m3.6 0h1.4m2.2 0h1.4m-12.9 .1h1.4m2.1 0h1.4m8.1 0h1.4m-.6 0h1.4m-1.1 0h1.4m-15.2 .2h1.4m11.1 0h1.4m-11.4 .2h1.4m3.5 0h1.4m.8 .1h1.4m-1.2 0h1.4m3 0h1.4m-15 .1h1.4m5.4 .1h1.4m-8.7 .1h1.4m8 0h1.4m1 .1h1.4m-.7 0h1.4m0 0h1.4m-5.9 .1h1.4m-.8 0h1.4m2.7 0h1.4m-10.6 .1h1.4m-5 .1h1.4m2.9 0h1.4m0 0h1.4m4 0h1.4m-3.3 .1h1.4m-2.6 .1h1.4m2.4 .1h1.4m-12.5 .1h1.4m-.6 0h1.4m4.6 .1h1.4m-1.2 0h1.4m2.1 0h1.4m-3.9 .1h1.4m-6.6 .1h1.4m-2.3 .1h1.4m7 0h1.4m-9.2 .1h1.4m1.7 0h1.4m-.3 0h1.4m-1.3 .1h1.4m2.7 0h1.4m-1.3 0h1.4m-10.3 .2h1.4m1.8 0h1.4m-.5 0h1.4m3.5 0h1.4m-9 .1h1.4m.2 0h1.4m-1.2 0h1.4m-8.4 .1h1.4m5.6 0h1.4m-6.2 .2h1.4m2 0h1.4m3.3 0h1.4m-11.8 .1h1.4m.5 0h1.4m9.5 0h1.4m0 0h1.4m-13.6 .2h1.4m-1.8 .1h1.4m2.5 0h1.4m.6 0h1.4m5.7 0h1.4m-14.9 .1h1.4m3.2 0h1.4m2.6 0h1.4m.1 0h1.4m-10 .1h1.4m-.3 0h1.4m5.7 .2h1.4m-7.9 .1h1.4m6.1 0h1.4m-1.4 0h1.4m-13.7 .1h1.4m3.5 0h1.4m-6.7 .1h1.4m-1.2 0h1.4m14 0h1.4m-14.7 .2h1.4m2.3 0h1.4m8.1 0h1.4m-16 .1h1.4m8.2 0h1.4m-11.8 .1h1.4m2.2 0h1.4m.4 0h1.4m2.4 0h1.4m-8.6 .1h1.4m.2 0h1.4m-.3 0h1.4m7 0h1.4m-11.5 .1h1.4m2 0h1.4m7.3 0h1.4m-11.5 .1h1.4m2.3 0h1.4m-9.7 .1h1.4m4.5 0h1.4m.8 0h1.4m-9.4 .1h1.4m-1.2 0h1.4m-1 0h1.4m3.6 0h1.4m.4 .1h1.4m4.6 .1h1.4m-12.4 .1h1.4m2.4 0h1.4m6.4 0h1.4m-14.3 .1h1.4m-.7 0h1.4m9 0h1.4m-2.6 .1h1.4m-10.8 .1h1.4m1 0h1.4m2.5 0h1.4m-8.6 .1h1.4m-.8 0h1.4m2.2 .1h1.4m-.6 0h1.4m.2 0h1.4m-.6 0h1.4m4.7 .2h1.4m-9.7 .1h1.4m2.7 0h1.4m-11.7 .1h1.4m13 0h1.4m-8 .1h1.4m.4 0h1.4m.5 .1h1.4m.2 0h1.4m-.6 0h1.4m-8.1 .1h1.4m.1 0h1.4m-10.3 .1h1.4m3.6 0h1.4m-.5 0h1.4m3.5 0h1.4m1.4 0h1.4m-7.5 .1h1.4m.9 0h1.4m-1.1 .2h1.4m-9.3 .2h1.4m8.5 0h1.4m-.4 0h1.4m-13 .2h1.4m9.8 0h1.4m-13.4 .1h1.4m-.3 0h1.4m8.5 0h1.4m-11.9 .2h1.4m11.4 0h1.4m-1.3 0h1.4m-1 0h1.4m-12.3 .1h1.4m6.5 0h1.4m-3.6 .2h1.4m-5.7 .2h1.4m2.1 0h1.4m-9.4 .1h1.4m.9 0h1.4m2.4 0h1.4m-1.2 0h1.4m-5.1 .1h1.4m8.1 0h1.4m-4.8 .1h1.4m-6.6 .2h1.4m1.9 .1h1.4m2.6 .2h1.4m-6.5 .3h1.4m3.1 .3h1.4m-3.3 .1h1.4m1.3 .1h1.4m-.7 0h1.4m.3 .2h1.4m-14.7 .3h1.4m3.7 0h1.4m-.9 0h1.4m2.2 0h1.4m1.1 .3h1.4m-2.5 .3h1.4m-8.9 .1h1.4m-1.2 0h1.4m3.2 0h1.4m1.4 0h1.4m-11 .1h1.4m3.7 .1h1.4m-4.3 .3h1.4m3.2 .4h1.4m-1 0h1.4m-6.4 .6h1.4m.7 .1h1.4m-2.2 .1h1.4m7.3 .3h1.4m-13.3 .2h1.4m1.5 0h1.4m1 .1h1.4m2.8 .1h1.4m-4.8 .4h1.4m-2 .7h1.4m1.7 0h1.4m-5.5 .4h1.4m-8 1.2h1.4m5.7 .3h1.4m-7 .2h1.4m4.6 .1h1.4m2.2 .7h1.4m-10 .3h1.4m-1.8 .1h1.4m-.5 1.2h1.4" stroke="#1667b4" stroke-width="1.4"/><path d="M528.4 74.2h1m8.5 .2h1m-6.6 .3h1m-7.2 .3h1m6.9 .5h1m2.9 1.3h1m-6.5 .1h1m-2.2 .4h1m-8.9 1.1h1m7.2 0h1m-3.6 .3h1m3.2 .2h1m-.4 .2h1m1.1 0h1m-13.9 .7h1m9.4 .1h1m3.9 .3h1m-6.5 .4h1m2 .4h1m-11.6 .9h1m12 .2h1m-.8 .7h1m-8.9 .2h1m1.3 .2h1m-5.9 .3h1m6.3 1.2h1m-.7 0h1" stroke="#f0f4f8" stroke-width="1" stroke-opacity="0.7"/><path d="M538.1 86h1.3m-1.3 .3h1.3m-9 .8h1.3m-3.8 .1h1.3m-4.9 .6h1.3m-1.8 .2h1.3m12.8 .7h1.3m-16.6 .1h1.3m3.9 2.1h1.3m.1 0h1.3m.3 .2h1.3m-.6 1.2h1.3m-9.8 1.1h1.3m12.2 .7h1.3m-8.8 .3h1.3m7.6 0h1.3m-8.3 .3h1.3m6 .7h1.3m-14.4 .5h1.3m1.6 .5h1.3m-3.2 1.4h1.3m-2.9 .8h1.3m4.8 1.7h1.3m-7.5 .1h1.3m-1.2 1.8h1.3m-3.3 2.6h1.3m-.8 .7h1.3m-1.7 .9h1.3m11.5 .4h1.3m-5.8 .2h1.3m-6.5 .2h1.3m1.9 2.1h1.3m-.2 1.2h1.3m2.5 .7h1.3m-8.5 .2h1.3m3.9 1.7h1.3m-5.1 .9h1.3m6.6 .2h1.3m.6 1.4h1.3m-16.4 .9h1.3m9 1.1h1.3m-2.3 .3h1.3m-.8 .1h1.3m-8 .9h1.3m7.3 0h1.3m-6.4 .8h1.3m7.3 2.1h1.3m-5.7 1h1.3m-3.4 1.5h1.3m-6.3 4.9h1.3m9.3 .1h1.3" stroke="#3a80bb" stroke-width="1.3"/><path d="M528.6 132.1h1.3m-3.7 .4h1.3m8 2h1.3m-.3 1.2h1.3m-13.8 5.2h1.3m5 .2h1.3m-7.5 5.4h1.3m-.3 2.2h1.3m.9 1h1.3" stroke="#8a8a8a" stroke-width="1.3"/><path d="M540.5 62.3L556.5 62.3V82.2L540.5 82.2z" fill="url(#g40)"/><path d="M542 58.2h1.4m5.8 2.8h1.4m-7.1 .6h1.4m8.4 .2h1.4m-.2 .2h1.4m-1.6 2.3h1.4m-6.7 .1h1.4m-6.5 .2h1.4m3.1 0h1.4m.1 0h1.4m-1.3 .2h1.4m.5 0h1.4m-5.6 .1h1.4m-5.8 .2h1.4m0 .2h1.4m-1.6 .3h1.4m1.4 0h1.4m-2.4 .2h1.4m-7 .5h1.4m3.6 0h1.4m1.5 0h1.4m-3.6 .1h1.4m3.3 0h1.4m-6.2 .1h1.4m.7 0h1.4m-8.7 .1h1.4m5.9 0h1.4m4.6 0h1.4m-5.7 .1h1.4m-1.7 .1h1.4m-4.2 .3h1.4m.1 .1h1.4m1.4 .2h1.4m-10 .1h1.4m1.1 0h1.4m5.6 .1h1.4m-1.7 .1h1.4m-12.3 .1h1.4m4.7 0h1.4m-2.6 .2h1.4m-4.5 .2h1.4m10.6 0h1.4m-12.3 .1h1.4m.6 0h1.4m.2 .1h1.4m-6.5 .2h1.4m3.5 0h1.4m2 0h1.4m-11 .1h1.4m1.6 0h1.4m7 0h1.4m-13.3 .1h1.4m-.3 0h1.4m-.6 0h1.4m4.3 0h1.4m-.6 .1h1.4m-1.2 0h1.4m3.3 0h1.4m-14.6 .1h1.4m12.3 .1h1.4m-5.9 .1h1.4m3.4 0h1.4m-14.3 .1h1.4m5.3 .1h1.4m-7.5 .1h1.4m4.4 0h1.4m4.5 0h1.4m-15 .1h1.4m3.2 0h1.4m5.3 0h1.4m-2.2 .1h1.4m-10.7 .1h1.4m-.7 0h1.4m-.7 0h1.4m10.4 0h1.4m-12.7 .1h1.4m1 0h1.4m4.8 0h1.4m-9 .1h1.4m-1.3 0h1.4m5.6 .1h1.4m1.8 0h1.4m-12.4 .1h1.4m1.2 0h1.4m3 0h1.4m-4.1 .1h1.4m4.8 0h1.4m-.7 0h1.4m-5.6 .2h1.4m-8.3 .3h1.4m-1 .1h1.4m5.7 0h1.4m-1.2 0h1.4m-5.4 .1h1.4m1 0h1.4m-2.8 .1h1.4m5 0h1.4m-5 .1h1.4m-11.1 .1h1.4m-1.4 .1h1.4m4 0h1.4m3 0h1.4m.5 0h1.4m-10.5 .1h1.4m4.5 0h1.4m1.7 0h1.4m-11.4 .2h1.4m-.7 0h1.4m8.8 0h1.4m-5.6 .1h1.4m3.6 0h1.4m-16.1 .2h1.4m5 0h1.4m-2.9 .1h1.4m-1.5 .1h1.4m1.9 0h1.4m-8 .1h1.4m7.9 0h1.4m-9.2 .1h1.4m-1 0h1.4m2.7 .1h1.4m4.1 0h1.4m-3.6 .1h1.4m-3.2 .2h1.4m-.1 0h1.4m-1.8 .1h1.4m-8 .1h1.4m5 0h1.4m.8 .1h1.4m-5.5 .1h1.4m1.6 0h1.4m-.7 0h1.4m-9.8 .1h1.4m.2 0h1.4m3.5 0h1.4m-6.9 .1h1.4m2.5 0h1.4m-5.5 .1h1.4m6.3 0h1.4m-12.9 .2h1.4m1.6 0h1.4m8.1 0h1.4m-11.4 .1h1.4m-.9 .1h1.4m-2.7 .2h1.4m4.5 .1h1.4m-1.1 0h1.4m2.8 0h1.4m-9.3 .1h1.4m-3.2 .1h1.4m9.1 0h1.4m-14.3 .2h1.4m-.6 0h1.4m.7 .1h1.4m-2 .1h1.4m4.8 0h1.4m1.8 0h1.4m-12.3 .1h1.4m.1 0h1.4m7.6 0h1.4m.3 0h1.4m-5.2 .2h1.4m2.3 0h1.4m-.3 0h1.4m-7.2 .1h1.4m-.9 0h1.4m1.5 .1h1.4m-1.2 0h1.4m-.7 0h1.4m-4 .1h1.4m-11.4 .1h1.4m6 0h1.4m1.5 0h1.4m-10.8 .1h1.4m8.8 0h1.4m-12.3 .1h1.4m5.3 0h1.4m0 0h1.4m1.4 .1h1.4m-1.3 0h1.4m-.3 0h1.4m.7 0h1.4m-14.8 .1h1.4m7.2 0h1.4m-10.5 .2h1.4m-1 .1h1.4m8.1 .1h1.4m-1.1 0h1.4m1.4 0h1.4m-11 .1h1.4m-1.1 0h1.4m.4 0h1.4m-.2 0h1.4m-7.1 .1h1.4m-.8 .3h1.4m9.9 0h1.4m-7.1 .2h1.4m-2.8 .2h1.4m2.6 0h1.4m-6.3 .1h1.4m2.6 0h1.4m-9.3 .1h1.4m1.2 .1h1.4m7.8 0h1.4m-6.8 .1h1.4m-.6 0h1.4m-5.5 .1h1.4m3.2 .5h1.4m-6.1 .1h1.4m2.6 0h1.4m-7.4 .1h1.4m3.4 .1h1.4m1.1 0h1.4m-.9 0h1.4m1.3 0h1.4m-14 .1h1.4m.6 0h1.4m2 0h1.4m-1.3 0h1.4m-5.2 .1h1.4m8.3 .1h1.4m-7.6 .1h1.4m4.4 .3h1.4m-6.9 .2h1.4m-3.5 .1h1.4m3.2 .1h1.4m1.9 .2h1.4m-2.5 .4h1.4m-3.8 .4h1.4m-1 0h1.4m.1 0h1.4m.3 .1h1.4m-9.3 .3h1.4m-3.7 .1h1.4m.8 0h1.4m7 0h1.4m-9.4 .1h1.4m5.7 .1h1.4m-2.2 .2h1.4m.2 .2h1.4m-7.5 .2h1.4m-3.5 .1h1.4m-2 .1h1.4m9.1 .1h1.4m-13.1 .3h1.4m5.1 .1h1.4m-6.9 .6h1.4m9.3 2.1h1.4m-3.9 .3h1.4m-3.8 2.6h1.4m-1 0h1.4m-1.6 .3h1.4m3.3 1.9h1.4m-5.2 .8h1.4" stroke="#1667b4" stroke-width="1.4"/><path d="M543.2 64h1m2.8 1.4h1m2.8 1.2h1m3.4 .9h1m-7.2 .1h1m-1.7 .2h1m5.6 0h1m-13.2 .7h1m5.8 1.5h1m-5.4 .8h1m-2.6 .1h1m1.2 .3h1m4.5 .2h1m-3.2 .5h1m-7.4 .2h1m10 .6h1m1 0h1m-2.9 .4h1m-.8 .5h1m-2.8 .8h1m0 1.5h1m-9.4 .3h1m-.7 1.8h1m2.6 1.1h1m-7 .3h1m4.8 .3h1" stroke="#f0f4f8" stroke-width="1" stroke-opacity="0.7"/><path d="M550.1 81.1h1.3m-8.9 .3h1.3m10.2 .3h1.3m-13.4 .3h1.3m3.2 .3h1.3m6.5 1.2h1.3m-9 .1h1.3m4.8 .4h1.3m-11.5 .1h1.3m1.6 .5h1.3m-1.9 .1h1.3m-1.2 .3h1.3m7.6 .3h1.3m-12.6 .7h1.3m-1.3 .5h1.3m3.2 0h1.3m3.6 .1h1.3m-2 .7h1.3m-8.3 .2h1.3m2.5 .1h1.3m4.7 .1h1.3m-1.1 1.6h1.3m-2.8 .2h1.3m.6 1.3h1.3m-7.9 .3h1.3m-8.5 .9h1.3m3 .6h1.3m7.4 1.2h1.3m-7.2 1.4h1.3m6.2 .3h1.3m-8.8 .5h1.3m-3.5 .4h1.3m-3 .3h1.3m-4.8 .5h1.3m3.8 3.4h1.3m-4.6 .1h1.3m6.2 .9h1.3m-6.9 .5h1.3m4.1 1.7h1.3m-7.9 .6h1.3m-.8 2.8h1.3m3.4 1.3h1.3m5.6 3.7h1.3m-5.8 .1h1.3m-11.5 3.2h1.3m-1 .8h1.3m7.6 2.2h1.3m-10.3 .8h1.3m7.9 .3h1.3m-1.6 1.3h1.3m2.9 3.4h1.3m-11.3 1.1h1.3m5.6 .4h1.3m-10 2.7h1.3" stroke="#3a80bb" stroke-width="1.3"/><path d="M554.8 130.4h1.3m-8.4 1h1.3m-.5 6.7h1.3m2.7 6.1h1.3m-.4 5.4h1.3m-5.2 3.6h1.3" stroke="#8a8a8a" stroke-width="1.3"/><path d="M557.7 56.5L573.2 56.5V79.2L557.7 79.2z" fill="url(#g41)"/><path d="M569.3 52.9h1.4m-2.6 2.1h1.4m-9.3 .1h1.4m.3 .2h1.4m3 .1h1.4m-5 2.4h1.4m7.4 .6h1.4m-8.4 .2h1.4m.8 0h1.4m-8.4 .4h1.4m7.7 .4h1.4m-2.9 .1h1.4m-5.5 .2h1.4m4.3 .7h1.4m-.1 0h1.4m-.1 0h1.4m-14.6 .3h1.4m.8 .7h1.4m.4 .1h1.4m1.9 .1h1.4m-4 .2h1.4m-2.8 .2h1.4m7.5 0h1.4m-10.9 .1h1.4m4.9 0h1.4m-11.3 .2h1.4m10.6 0h1.4m-5.3 .1h1.4m2.3 0h1.4m-10.5 .1h1.4m-.6 0h1.4m.6 0h1.4m2.8 0h1.4m-.4 0h1.4m-4.2 .1h1.4m3.9 .1h1.4m-11.2 .1h1.4m4.6 .2h1.4m-.9 .1h1.4m-.6 0h1.4m-.9 0h1.4m-11.4 .1h1.4m5.1 .2h1.4m-4.1 .1h1.4m3.6 0h1.4m-4.6 .1h1.4m4 0h1.4m-12.4 .1h1.4m.7 0h1.4m2.5 0h1.4m-3 .2h1.4m-5.1 .1h1.4m2 0h1.4m6.8 0h1.4m-4.8 .1h1.4m-7.4 .1h1.4m-5.2 .1h1.4m2.7 0h1.4m.6 0h1.4m1.7 0h1.4m-6.5 .1h1.4m2 .1h1.4m3.8 0h1.4m-14.3 .2h1.4m1.7 0h1.4m-4.1 .1h1.4m2.6 .1h1.4m3.1 .1h1.4m-1.3 0h1.4m.4 0h1.4m.8 0h1.4m-6.4 .1h1.4m4.6 0h1.4m-11.5 .1h1.4m6.5 .1h1.4m-3.1 .2h1.4m1.3 0h1.4m-11 .1h1.4m2.1 0h1.4m4.9 .1h1.4m-5.9 .1h1.4m-1.2 0h1.4m3.3 0h1.4m-14.8 .1h1.4m6.9 0h1.4m2.1 0h1.4m-5.8 .1h1.4m2.3 0h1.4m-.2 0h1.4m-4.9 .1h1.4m1.3 0h1.4m1.6 0h1.4m-12.5 .1h1.4m6.9 0h1.4m.8 0h1.4m-10.4 .1h1.4m4.2 0h1.4m.9 .1h1.4m-12.6 .1h1.4m.4 0h1.4m4.2 .1h1.4m-3 .1h1.4m2.9 0h1.4m.6 .1h1.4m-13.1 .1h1.4m.7 .1h1.4m8.9 .1h1.4m-8.9 .1h1.4m.9 0h1.4m1.3 .1h1.4m.1 0h1.4m-13 .1h1.4m2 0h1.4m-4.1 .1h1.4m9 0h1.4m-2 .1h1.4m.8 0h1.4m-10 .2h1.4m1.3 0h1.4m-8.3 .1h1.4m3.6 0h1.4m1.9 .1h1.4m.1 .1h1.4m-11.5 .1h1.4m4.2 0h1.4m.5 0h1.4m-10.2 .1h1.4m6.5 0h1.4m-1.2 0h1.4m-1 0h1.4m2.2 0h1.4m-1 0h1.4m-4 .1h1.4m1.8 0h1.4m-13.6 .1h1.4m-.4 0h1.4m-3.4 .1h1.4m.7 .1h1.4m2.7 0h1.4m-.2 0h1.4m.9 0h1.4m3.2 0h1.4m-14.2 .1h1.4m-1.3 .1h1.4m3.4 0h1.4m1.6 0h1.4m-3.1 .1h1.4m3.8 0h1.4m-3.5 .1h1.4m-1.7 .1h1.4m-7.1 .1h1.4m1.8 0h1.4m-.3 .1h1.4m1.2 0h1.4m-13 .1h1.4m8.4 0h1.4m-10.4 .1h1.4m6.2 0h1.4m-8.2 .2h1.4m2.8 .1h1.4m-5.9 .1h1.4m3.8 .2h1.4m1.5 0h1.4m-5.2 .1h1.4m-1.4 0h1.4m-.1 0h1.4m2.4 0h1.4m-11.1 .1h1.4m2.4 0h1.4m2.3 0h1.4m-7 .2h1.4m6.3 0h1.4m-9.3 .1h1.4m-2.3 .1h1.4m.6 .1h1.4m-2.1 .2h1.4m-4.3 .2h1.4m1.4 0h1.4m-1 0h1.4m3.3 0h1.4m-7.9 .1h1.4m.1 0h1.4m-.4 .1h1.4m6.9 0h1.4m-9 .1h1.4m2.3 0h1.4m-6.6 .1h1.4m.7 0h1.4m-.1 0h1.4m-7 .1h1.4m5.2 0h1.4m-8.2 .1h1.4m5.5 0h1.4m-9.2 .1h1.4m6 .1h1.4m-6.6 .1h1.4m.9 .1h1.4m-5.1 .1h1.4m-.5 0h1.4m4.5 0h1.4m2.6 .4h1.4m-12.8 .2h1.4m3.8 0h1.4m1.3 .1h1.4m-6.8 .1h1.4m2.9 .3h1.4m2 0h1.4m-8 .6h1.4m4.3 0h1.4m-2 .3h1.4m-4.9 .1h1.4m7.5 .2h1.4m-13.2 .1h1.4m4.2 0h1.4m-2.1 .6h1.4m-8.9 .2h1.4m8.3 0h1.4m-6.2 .4h1.4m7.7 .1h1.4m-2.7 .1h1.4m-12.8 .6h1.4m-.2 0h1.4m1.9 .4h1.4m-4.4 .1h1.4m-1 .2h1.4m4.4 0h1.4m-7.6 .1h1.4m5.8 .2h1.4m0 0h1.4m-2.8 .1h1.4m-9.8 .4h1.4m7.9 0h1.4m-3.1 .4h1.4m2.7 .3h1.4m-13.6 .3h1.4m11.3 0h1.4m-14 .6h1.4m-2.6 .5h1.4m12.6 0h1.4m-4.8 .5h1.4m-8.9 .6h1.4m9.3 .2h1.4m-7.3 1.1h1.4m-5.2 .6h1.4m-3 3.6h1.4m6.6 .1h1.4m-3.4 .6h1.4m-2.7 .3h1.4" stroke="#1667b4" stroke-width="1.4"/><path d="M569.8 58.9h1m-.2 3h1m-2.7 .2h1m-10 .9h1m-.9 .2h1m1 .9h1m-1.6 .3h1m-1.5 .4h1m9.2 .3h1m-5.5 1.6h1m4.1 .3h1m-2.4 .3h1m-7.8 .3h1m.8 .1h1m-7 .7h1m2.8 .6h1m6.1 0h1m-12.7 .4h1m10.3 .4h1m-12.6 .3h1m2.1 .6h1m4.5 .4h1m-4.3 .5h1m-5.5 1.4h1m7.8 3.3h1m2.5 .9h1" stroke="#f0f4f8" stroke-width="1" stroke-opacity="0.7"/><path d="M560.9 78.5h1.3m4 .9h1.3m-.1 0h1.3m-10.1 .9h1.3m6.4 1.3h1.3m-.1 .2h1.3m-1.7 .7h1.3m-3 .7h1.3m3 .5h1.3m-.9 .2h1.3m-8.4 .3h1.3m6.8 .2h1.3m-3 3h1.3m-.2 1.2h1.3m-7.1 .6h1.3m-7.9 .5h1.3m-1.4 .3h1.3m3.2 .5h1.3m-1 .7h1.3m-3 .3h1.3m3.6 0h1.3m-6.2 .5h1.3m6.9 1.8h1.3m-6.2 .6h1.3m4 1h1.3m1 1.6h1.3m-8 .3h1.3m3.5 .4h1.3m-7.8 2.4h1.3m5.4 2.5h1.3m-2.5 2.8h1.3m-.8 .6h1.3m-8.6 .5h1.3m8 .3h1.3m-14.2 .2h1.3m8.2 1.9h1.3m-4 .2h1.3m.3 .3h1.3m-8.4 1.2h1.3m2.1 1.9h1.3m-1.1 2.9h1.3m.5 1.2h1.3m3.3 1h1.3m-2.5 .5h1.3m-4.8 5.2h1.3m2.1 .7h1.3m-4 1.6h1.3" stroke="#3a80bb" stroke-width="1.3"/><path d="M571.9 131.2h1.3m-13.1 1.5h1.3m10.2 .1h1.3m-1 .7h1.3m-7.7 2.3h1.3m-6.2 .1h1.3m5.4 1.7h1.3m3.3 .6h1.3m-4.9 1h1.3m-6.8 .2h1.3m-3.9 11.3h1.3m1 2.5h1.3m3.8 1.2h1.3" stroke="#8a8a8a" stroke-width="1.3"/><path d="M574.4 51.3L590.4 51.3V76.2L574.4 76.2z" fill="url(#g42)"/><path d="M580.2 45.4h1.4m-1.7 2.2h1.4m6.9 2h1.4m-12.9 .4h1.4m5.6 .8h1.4m-8.3 1.8h1.4m3.6 .4h1.4m-4 .4h1.4m-6.5 .5h1.4m5.8 .1h1.4m-8.1 .3h1.4m5.3 .7h1.4m4.6 0h1.4m-1.4 .3h1.4m-13.9 .3h1.4m.6 .1h1.4m3.8 .2h1.4m3 0h1.4m-9.6 .3h1.4m7.3 .2h1.4m-5.7 .4h1.4m-.5 0h1.4m-10.7 .1h1.4m-.2 0h1.4m-2.4 .1h1.4m3.8 0h1.4m-6.5 .1h1.4m3.9 .1h1.4m-3.9 .1h1.4m5.8 .1h1.4m.1 .3h1.4m-10.5 .1h1.4m-3.6 .1h1.4m8.7 0h1.4m-10.6 .2h1.4m8 .1h1.4m-11.4 .2h1.4m4.6 0h1.4m2.1 0h1.4m-6 .2h1.4m-4.1 .1h1.4m6.5 0h1.4m.8 0h1.4m-11.1 .1h1.4m0 0h1.4m-1.1 0h1.4m1.6 .1h1.4m1.2 0h1.4m-7.6 .1h1.4m3.5 0h1.4m-.4 0h1.4m-9.6 .2h1.4m.8 0h1.4m3.5 0h1.4m2.1 0h1.4m-7.9 .1h1.4m.2 0h1.4m-3.5 .1h1.4m.6 0h1.4m4.8 0h1.4m-12.7 .1h1.4m-.1 0h1.4m4.4 0h1.4m2.8 0h1.4m-15.3 .2h1.4m5.3 0h1.4m1 0h1.4m-2 .1h1.4m-2.5 .2h1.4m-1.1 0h1.4m-9.2 .1h1.4m.8 0h1.4m11.2 0h1.4m-14.5 .2h1.4m2.2 0h1.4m-.8 .1h1.4m-.7 0h1.4m-6.7 .1h1.4m2.6 0h1.4m-4.2 .1h1.4m-1.9 .1h1.4m4.5 0h1.4m.2 0h1.4m.8 0h1.4m-6 .1h1.4m1.7 .2h1.4m1.4 0h1.4m-3.7 .1h1.4m1.6 0h1.4m-13.8 .1h1.4m-.7 0h1.4m-.1 0h1.4m6.5 0h1.4m-9.1 .1h1.4m3.9 0h1.4m1 0h1.4m2.5 0h1.4m-12.9 .1h1.4m6.2 0h1.4m-4.8 .1h1.4m-9.1 .1h1.4m0 .1h1.4m1.5 .1h1.4m3.4 0h1.4m3.5 .1h1.4m-1 .1h1.4m-9.8 .2h1.4m1.2 0h1.4m-10 .1h1.4m1.7 0h1.4m1.1 0h1.4m4.7 .1h1.4m-6.6 .1h1.4m-3 .1h1.4m-6.4 .1h1.4m1.1 0h1.4m2 0h1.4m6.8 0h1.4m-12.7 .1h1.4m3 0h1.4m-5.5 .1h1.4m5.3 .1h1.4m-.7 .2h1.4m-.4 .1h1.4m-10.1 .1h1.4m4.1 0h1.4m-4.7 .1h1.4m-4.7 .1h1.4m-.5 0h1.4m-.7 0h1.4m-1 0h1.4m5.3 0h1.4m.9 0h1.4m-12.9 .1h1.4m9.5 .1h1.4m-6.2 .2h1.4m-3.9 .1h1.4m.4 0h1.4m3.8 0h1.4m-10.1 .1h1.4m4.1 0h1.4m1.1 0h1.4m1.3 0h1.4m-1.6 .1h1.4m-12.1 .1h1.4m8.3 0h1.4m-.6 0h1.4m-8.7 .1h1.4m6 .1h1.4m-11.4 .1h1.4m1.3 0h1.4m4.9 .3h1.4m-10.6 .1h1.4m9.2 0h1.4m-10.6 .1h1.4m1.7 0h1.4m.6 0h1.4m-9.4 .1h1.4m10.1 .1h1.4m-8.8 .1h1.4m3.9 0h1.4m-.1 0h1.4m.5 0h1.4m-10.7 .2h1.4m3.2 0h1.4m-6 .1h1.4m2.6 .1h1.4m-8.7 .1h1.4m1.9 .1h1.4m-1.2 .1h1.4m4.7 0h1.4m-10.5 .1h1.4m2.5 0h1.4m2.7 0h1.4m-7.9 .1h1.4m-.4 0h1.4m.7 0h1.4m-3.2 .1h1.4m-4.6 .1h1.4m3.9 0h1.4m-4.5 .1h1.4m4.6 0h1.4m-6.7 .3h1.4m7.5 0h1.4m-.4 0h1.4m-13.3 .1h1.4m-.2 0h1.4m6.2 .2h1.4m-.2 .1h1.4m-5.9 .1h1.4m-.7 0h1.4m-9.3 .2h1.4m9.7 0h1.4m-8.4 .1h1.4m2.3 .1h1.4m.4 0h1.4m-11.7 .1h1.4m-1.7 .2h1.4m10.4 0h1.4m1.1 .3h1.4m-8.1 .2h1.4m1.2 .2h1.4m-5 .4h1.4m-1.3 0h1.4m1.2 0h1.4m-1.1 .3h1.4m3.6 0h1.4m-12.8 .1h1.4m-1.7 .6h1.4m.7 0h1.4m7.4 .2h1.4m-10.3 .2h1.4m-.4 0h1.4m.3 .2h1.4m4.3 .2h1.4m-10.4 .4h1.4m8.8 .1h1.4m-10.8 .1h1.4m-5.4 .2h1.4m-1.2 .5h1.4m9.5 .3h1.4m-11 .3h1.4m4.8 .1h1.4m3.6 .3h1.4m-7.3 .2h1.4m.4 0h1.4m-2.4 .1h1.4m-1.1 0h1.4m-5.4 .1h1.4m2.4 .1h1.4m4.4 .1h1.4m-14.3 .4h1.4m4.2 0h1.4m-1.4 0h1.4m.4 0h1.4m-3.2 .6h1.4m-8.5 .1h1.4m9.3 .1h1.4m-5.4 .1h1.4m-3.4 .1h1.4m5.8 0h1.4m-7.1 .1h1.4m.5 .1h1.4m1.1 .1h1.4m-6.6 .6h1.4m6.1 1.3h1.4m-7.1 .5h1.4m-1.6 1.4h1.4m2.8 .6h1.4m-2.9 .4h1.4m-8.4 1.2h1.4m8.6 .2h1.4m-10.7 .1h1.4m9.9 1h1.4" stroke="#1667b4" stroke-width="1.4"/><path d="M583.7 52.7h1m-10.2 1.9h1m2.4 1.6h1m7.8 .2h1m-4.9 .2h1m5.2 .2h1m-7 1.6h1m3.8 .7h1m-1 .8h1m-5.3 .9h1m-3.7 .3h1m5.5 .6h1m-5.2 .7h1m2.5 0h1m-11.2 1.2h1m-1.8 .9h1m-.9 .6h1m12.7 .5h1m-5.4 .1h1m-8.6 .8h1m3.2 2.7h1m-.2 .8h1m3.8 1.1h1m-5.2 1.7h1m-2.3 1.1h1m3.8 .5h1" stroke="#f0f4f8" stroke-width="1" stroke-opacity="0.7"/><path d="M587 75.3h1.3m-7.9 .3h1.3m-1.3 1.9h1.3m.1 .1h1.3m-.1 0h1.3m1 .1h1.3m-11.5 .1h1.3m5.1 .6h1.3m-4.1 .3h1.3m-.1 .1h1.3m4.5 1.8h1.3m-3.2 .1h1.3m1.7 0h1.3m-4.8 .1h1.3m-5.3 2h1.3m5.6 .4h1.3m-5 3.6h1.3m3.8 .9h1.3m-1.3 .1h1.3m-1.6 .5h1.3m-1.1 .2h1.3m-7 .4h1.3m-4.6 1.4h1.3m9.1 .4h1.3m-14.8 1h1.3m12 1.6h1.3m-15.8 2.3h1.3m12.8 .1h1.3m-9.7 .5h1.3m5.6 0h1.3m-3.9 .2h1.3m-7 .2h1.3m-2.6 5.9h1.3m-3.4 .4h1.3m5 .2h1.3m-5.1 .2h1.3m.5 .3h1.3m-.3 1.5h1.3m.3 2.6h1.3m-6.9 .7h1.3m9.4 1.8h1.3m-11.6 4.6h1.3m8.3 1.6h1.3m-6.8 .4h1.3m2.8 2.5h1.3m-2.9 1.4h1.3m-2.3 .1h1.3m5.1 1.5h1.3m-9.6 .6h1.3m-7.4 .6h1.3m12.8 1.7h1.3m-7.1 2.4h1.3m5.3 .7h1.3" stroke="#3a80bb" stroke-width="1.3"/><path d="M586.4 132.7h1.3m-.3 1.3h1.3m-11.8 2.7h1.3m-.3 3.7h1.3m-3.6 1.1h1.3m7.1 1.7h1.3m-2.5 1.2h1.3" stroke="#8a8a8a" stroke-width="1.3"/><path d="M591.6 52.8L607.1 52.8V74.7L591.6 74.7z" fill="url(#g43)"/><path d="M600.1 49.5h1.4m2.9 1.7h1.4m-9.3 .6h1.4m7.2 1h1.4m-1.5 .2h1.4m-12.4 1.1h1.4m2.1 .4h1.4m6.2 .2h1.4m-9.8 .5h1.4m5 .1h1.4m-10 .4h1.4m-.9 .4h1.4m2.2 0h1.4m3.2 .8h1.4m-8.6 .2h1.4m5.4 0h1.4m-1.9 .2h1.4m1.2 0h1.4m-14.7 .1h1.4m-1.2 0h1.4m9.5 .2h1.4m1.7 0h1.4m-11.3 .2h1.4m3.8 .1h1.4m-6.9 .1h1.4m4 .1h1.4m1.2 0h1.4m-11 .1h1.4m-2 .4h1.4m4.1 .1h1.4m-6.4 .1h1.4m6.5 0h1.4m-1 0h1.4m2.1 .1h1.4m-14.5 .2h1.4m7.2 0h1.4m-.8 0h1.4m-1.3 0h1.4m-1.3 .1h1.4m-11.1 .1h1.4m5.9 0h1.4m-.4 .1h1.4m.5 0h1.4m-8.6 .1h1.4m7.5 0h1.4m-7.5 .1h1.4m2.1 0h1.4m-9.4 .1h1.4m1.7 0h1.4m6.1 .1h1.4m-6.8 .1h1.4m-.6 0h1.4m4.3 0h1.4m-12.1 .2h1.4m.7 .1h1.4m1.2 0h1.4m-2.7 .1h1.4m3.9 0h1.4m-1.1 0h1.4m-10.4 .2h1.4m-.3 0h1.4m-2.7 .1h1.4m-.1 0h1.4m-1.1 0h1.4m-.4 0h1.4m-1.2 0h1.4m-6.4 .2h1.4m4.3 0h1.4m-2.4 .1h1.4m-.4 0h1.4m-6.9 .1h1.4m5.2 0h1.4m3.6 0h1.4m-.7 .1h1.4m-.1 0h1.4m-6 .1h1.4m.7 0h1.4m-12.4 .2h1.4m-.3 0h1.4m6.4 0h1.4m-9 .1h1.4m1.8 .1h1.4m6.5 0h1.4m-13.7 .1h1.4m2.8 .1h1.4m-1.1 0h1.4m.5 0h1.4m4 0h1.4m-.7 .2h1.4m-12.3 .1h1.4m-1 0h1.4m-2.8 .1h1.4m.7 0h1.4m7.1 0h1.4m-1.1 .1h1.4m-10.8 .1h1.4m1 0h1.4m2.3 0h1.4m3.7 0h1.4m-9.5 .1h1.4m.7 0h1.4m-.9 0h1.4m-7.3 .2h1.4m.5 .1h1.4m6.7 0h1.4m-3.1 .1h1.4m-4.9 .1h1.4m.2 0h1.4m-1.6 .1h1.4m-5.5 .1h1.4m5 0h1.4m-.5 0h1.4m-12.6 .4h1.4m1.8 0h1.4m-5.7 .2h1.4m9.6 0h1.4m-9 .1h1.4m-.7 0h1.4m.8 0h1.4m-7 .1h1.4m.8 0h1.4m.4 0h1.4m3.1 .2h1.4m-2.9 .1h1.4m3.3 0h1.4m-10.6 .1h1.4m2 0h1.4m2.5 0h1.4m-8.9 .1h1.4m4.9 0h1.4m-5.1 .1h1.4m-3.4 .1h1.4m2.4 0h1.4m4.8 0h1.4m-14.9 .1h1.4m-1.6 .1h1.4m3.1 0h1.4m0 0h1.4m.4 0h1.4m-4.1 .1h1.4m3.3 0h1.4m-.6 0h1.4m-6.5 .2h1.4m-5 .1h1.4m1.1 0h1.4m-2.9 .1h1.4m-.1 0h1.4m3.8 0h1.4m-.5 0h1.4m-4.4 .1h1.4m-1.6 .1h1.4m5.2 0h1.4m-7.3 .1h1.4m-.7 0h1.4m.7 .2h1.4m.2 0h1.4m.4 0h1.4m-15.1 .1h1.4m4.9 0h1.4m1.5 .2h1.4m-4.8 .1h1.4m0 0h1.4m-4.1 .2h1.4m-5.1 .2h1.4m1.1 0h1.4m-.2 0h1.4m-.9 0h1.4m-.8 0h1.4m4.9 0h1.4m-8.1 .1h1.4m.6 .1h1.4m.3 0h1.4m3.3 0h1.4m-6.3 .1h1.4m1.2 0h1.4m-12.3 .1h1.4m6.8 .1h1.4m-3.6 .1h1.4m2.6 .1h1.4m-5.6 .2h1.4m5.2 0h1.4m-13.1 .1h1.4m7.6 0h1.4m-7.2 .4h1.4m5.3 0h1.4m-1 0h1.4m-4.4 .1h1.4m3.7 0h1.4m-15.1 .1h1.4m6.9 0h1.4m.7 0h1.4m-7.3 .1h1.4m-1.8 .1h1.4m-1.4 .2h1.4m3 0h1.4m-8.4 .1h1.4m5.6 0h1.4m-6.6 .1h1.4m0 0h1.4m7.2 .1h1.4m-4.8 .2h1.4m-11.2 .1h1.4m1.5 .1h1.4m3.2 .1h1.4m-5.3 .2h1.4m3.6 0h1.4m3.5 .4h1.4m-8.1 .2h1.4m6.1 .2h1.4m-7.8 .1h1.4m-9.2 .2h1.4m2.2 0h1.4m8.7 0h1.4m-4.4 .1h1.4m-1.6 .1h1.4m-1 0h1.4m-1.3 .4h1.4m1.6 .6h1.4m-1.2 0h1.4m-10 .1h1.4m6.4 0h1.4m-12.4 .1h1.4m3.2 0h1.4m-6.2 .2h1.4m-3.5 .1h1.4m7.4 .5h1.4m-1.6 .1h1.4m-9.1 .1h1.4m4.8 0h1.4m3.4 .1h1.4m-1.7 .1h1.4m-1.7 .3h1.4m-5.2 .1h1.4m-4.1 .2h1.4m6.1 0h1.4m-3.5 .1h1.4m-3.5 .2h1.4m-2.1 1.1h1.4m-3.2 .1h1.4m2.1 .6h1.4m.4 .3h1.4m-9.4 1.4h1.4m5.8 .6h1.4m-4.5 .4h1.4m1 1.6h1.4m-3 1.5h1.4m1.5 .2h1.4m-7.4 .5h1.4" stroke="#1667b4" stroke-width="1.4"/><path d="M602.8 56.2h1m-10.9 1.5h1m11.2 0h1m-8.9 .3h1m-5.1 1.3h1m6.4 0h1m-3.5 1.9h1m3.1 .1h1m-5 .5h1m5.3 1.3h1m-13.5 .4h1m-.3 .3h1m8.9 .5h1m-8.6 .6h1m-1.3 .4h1m-1.6 .5h1m5 .3h1m3.8 0h1m-10.2 .2h1m-1 1h1m8.5 .2h1m-11.5 .5h1m6.3 .6h1m-.7 0h1m-5.2 1.3h1m2.6 2.5h1" stroke="#f0f4f8" stroke-width="1" stroke-opacity="0.7"/><path d="M600.8 73.7h1.3m-9.5 .7h1.3m-.2 .5h1.3m6.4 .2h1.3m-4.1 .2h1.3m-5 .5h1.3m2 1h1.3m-1.2 .5h1.3m2.6 .1h1.3m-10.1 .3h1.3m-1.4 1.3h1.3m1 .4h1.3m-1 0h1.3m0 1.1h1.3m3.1 .6h1.3m-4.9 .2h1.3m-2.6 .6h1.3m1.6 .1h1.3m1.4 0h1.3m.5 .5h1.3m-5.8 1h1.3m1.8 .3h1.3m.8 0h1.3m-2.6 1.3h1.3m-12.1 .1h1.3m10.8 1.9h1.3m-2.2 .5h1.3m-5.3 1.7h1.3m2.1 1.6h1.3m-11.9 .6h1.3m1.4 3.1h1.3m-2.4 .3h1.3m0 .1h1.3m3 .1h1.3m-3.3 3.5h1.3m1.8 .8h1.3m2.2 .1h1.3m-2.2 .2h1.3m-2.1 .9h1.3m-7.6 1.6h1.3m4 0h1.3m-10.5 1h1.3m-.4 1h1.3m7 2.7h1.3m-3.6 2.9h1.3m-8.9 1.7h1.3m3.4 1h1.3m-6 1.8h1.3m7 4.9h1.3m1 .9h1.3m-5.9 1.5h1.3m-4.3 1.3h1.3m-1.4 3.2h1.3m-4.5 .8h1.3m6.1 2.3h1.3" stroke="#3a80bb" stroke-width="1.3"/><path d="M601.6 131.5h1.3m-.1 .4h1.3m-12.3 5h1.3m.7 1.6h1.3m9.1 1.1h1.3" stroke="#8a8a8a" stroke-width="1.3"/><path d="M608.3 64.8L622.2 64.8V85.2L608.3 85.2z" fill="url(#g44)"/><path d="M620 52.5h1.4m-3.4 8.4h1.4m-4.6 1.1h1.4m-3 .7h1.4m5.6 3.3h1.4m-4.6 .1h1.4m-.1 0h1.4m-2.1 .5h1.4m-4.8 .1h1.4m4.3 .6h1.4m-3.2 .3h1.4m-1.4 .3h1.4m-.4 .1h1.4m-8.7 .9h1.4m-3.8 .2h1.4m4.4 .1h1.4m-.9 .1h1.4m-5.9 .1h1.4m5.8 0h1.4m-1.2 0h1.4m-.1 0h1.4m-8.5 .2h1.4m1.4 .1h1.4m-6.6 .1h1.4m5.1 0h1.4m-6.3 .2h1.4m3.5 0h1.4m1.5 0h1.4m-10.1 .2h1.4m3.5 0h1.4m.3 0h1.4m-3.7 .2h1.4m-.1 .1h1.4m-1.1 0h1.4m-.4 .2h1.4m-11.1 .1h1.4m3.5 0h1.4m4.3 .1h1.4m-11 .1h1.4m9.4 .1h1.4m-8.8 .1h1.4m-5.6 .1h1.4m6.6 .1h1.4m-8.6 .1h1.4m1.6 .1h1.4m-4 .1h1.4m5.6 0h1.4m2.6 .1h1.4m-11.8 .1h1.4m0 .1h1.4m6.3 0h1.4m-12.3 .1h1.4m2.8 0h1.4m-.6 .3h1.4m4.5 .3h1.4m-10.2 .1h1.4m1.9 .1h1.4m-1 .1h1.4m-3.5 .2h1.4m-1 0h1.4m-3.6 .2h1.4m-.2 0h1.4m7.1 0h1.4m-10.6 .1h1.4m-1.3 .1h1.4m2.1 0h1.4m-.3 .1h1.4m-5.7 .1h1.4m-2.5 .2h1.4m6.7 .1h1.4m-1.3 0h1.4m-8.1 .3h1.4m3.2 0h1.4m.8 0h1.4m-4.8 .1h1.4m.7 0h1.4m-5.5 .1h1.4m-1 0h1.4m2.2 0h1.4m-10.2 .1h1.4m10.2 0h1.4m-4.4 .1h1.4m.1 0h1.4m-8.1 .2h1.4m-.2 0h1.4m6.5 0h1.4m-1.2 0h1.4m-8.3 .1h1.4m3 0h1.4m-9.3 .1h1.4m-.8 0h1.4m.9 0h1.4m4 0h1.4m-.8 0h1.4m-9.5 .1h1.4m6.6 0h1.4m-9.3 .2h1.4m-.5 0h1.4m.2 0h1.4m.1 0h1.4m-6 .1h1.4m-1.2 0h1.4m-1.3 0h1.4m3.5 0h1.4m-1.1 0h1.4m-3 .1h1.4m4.2 0h1.4m-8.4 .1h1.4m6.2 0h1.4m-10.6 .1h1.4m-.1 0h1.4m-.2 0h1.4m-.3 0h1.4m.9 0h1.4m-10.7 .1h1.4m-.1 0h1.4m-1.6 .2h1.4m-.7 0h1.4m9.2 0h1.4m-7.1 .1h1.4m2.8 0h1.4m-4.6 .1h1.4m-1.6 .1h1.4m0 0h1.4m2.3 0h1.4m-11.2 .1h1.4m8.4 0h1.4m-7.7 .1h1.4m-.7 0h1.4m1.1 0h1.4m-10 .1h1.4m6.4 0h1.4m-.3 .1h1.4m-6 .2h1.4m3.1 0h1.4m.3 0h1.4m-12 .1h1.4m.3 0h1.4m-.3 0h1.4m-.5 0h1.4m1.4 .1h1.4m-8.7 .1h1.4m2.7 .1h1.4m3.4 0h1.4m-4.1 .1h1.4m0 0h1.4m.9 .1h1.4m-.6 0h1.4m-12.5 .1h1.4m8 0h1.4m-10 .5h1.4m1 .1h1.4m-3.1 .1h1.4m-.6 0h1.4m2.3 .1h1.4m1.8 0h1.4m-9.1 .2h1.4m.8 .1h1.4m-4.2 .1h1.4m4.3 0h1.4m.6 0h1.4m.1 0h1.4m.6 0h1.4m-10.4 .2h1.4m1.2 0h1.4m3.1 0h1.4m-7.5 .1h1.4m2.4 0h1.4m-.9 0h1.4m-9.2 .1h1.4m6.6 .3h1.4m.9 .3h1.4m.7 0h1.4m-13.6 .1h1.4m4.9 0h1.4m3.4 0h1.4m-1 0h1.4m-4.1 .1h1.4m-7.1 .2h1.4m-.4 0h1.4m2.3 0h1.4m.7 .1h1.4m-5.7 .3h1.4m-6.4 .1h1.4m.3 0h1.4m8.6 .2h1.4m-4.2 .2h1.4m-8 .1h1.4m4.3 .1h1.4m-9.7 .3h1.4m2.6 .4h1.4m-5 .3h1.4m8.9 0h1.4m-12.6 .1h1.4m2.4 0h1.4m-4.2 .1h1.4m-1.2 .1h1.4m8.9 0h1.4m-9.6 .2h1.4m4.7 0h1.4m-9.4 .2h1.4m2.5 .1h1.4m3.4 .1h1.4m-1.1 .1h1.4m-8.3 .1h1.4m-3.6 .1h1.4m3.7 .4h1.4m-.7 .3h1.4m-2.2 .1h1.4m-4.7 .1h1.4m5 .6h1.4m-3.3 .1h1.4m-2.9 .2h1.4m1.3 .1h1.4m1 1.6h1.4m-3.3 .3h1.4m-6.3 .7h1.4m-.8 .5h1.4m5.7 .2h1.4m-6 .2h1.4m-7 .5h1.4m-1.3 3.4h1.4m1.2 .4h1.4" stroke="#1667b4" stroke-width="1.4"/><path d="M615.6 67.9h1m-2 1.2h1m-4.1 .2h1m-2 .1h1m6.1 .4h1m-4.6 .7h1m3.6 .3h1m-8 1h1m3.5 .2h1m-8.3 .3h1m-1 .5h1m2.7 .5h1m2 .3h1m3.5 .2h1m-10.1 1.2h1m-3.4 .5h1m11.4 .6h1m-10.5 .2h1m5.6 .9h1m1 .4h1m-12.7 2.6h1m9.1 1.2h1m-6.5 .4h1" stroke="#f0f4f8" stroke-width="1" stroke-opacity="0.7"/><path d="M615.1 84.1h1.3m-2.1 .1h1.3m.4 1.1h1.3m.8 1h1.3m-5.7 .1h1.3m2.6 .1h1.3m1 .1h1.3m-1.9 .1h1.3m-1.3 .3h1.3m-5.6 .7h1.3m-1.1 .1h1.3m-5 .8h1.3m1.1 .8h1.3m-2.8 .2h1.3m1.2 0h1.3m-6.4 .3h1.3m2.4 .4h1.3m-5.9 1.8h1.3m2.1 .2h1.3m-2.6 .3h1.3m-.6 1.2h1.3m2 .1h1.3m-3 1.3h1.3m-.2 .5h1.3m-4.7 .1h1.3m5 1.4h1.3m-8.4 .1h1.3m-2.3 .1h1.3m7.4 1.2h1.3m-7.5 .1h1.3m2 .4h1.3m-6 2.1h1.3m9.5 1h1.3m-6.3 1.1h1.3m-6.7 2h1.3m3.5 2.6h1.3m-5.6 .4h1.3m-1.4 .9h1.3m8.1 .4h1.3m-8.8 2.2h1.3m1.1 .8h1.3m2.8 7h1.3m-1.8 1.5h1.3m-2.5 3.3h1.3m-4.8 .7h1.3m-5.1 3.1h1.3m8.2 .2h1.3" stroke="#3a80bb" stroke-width="1.3"/><path d="M620.9 133.1h1.3m-4.3 3.4h1.3m-4 1h1.3m3.5 .4h1.3m-12.9 1.6h1.3m7.6 .7h1.3m1.6 2.3h1.3m-8.4 1h1.3m6.5 .2h1.3m-6.1 .3h1.3m-8.9 6.7h1.3m1.2 .2h1.3m1.7 4.8h1.3" stroke="#8a8a8a" stroke-width="1.3"/><path d="M623.4 66.3L638.2 66.3V85.7L623.4 85.7z" fill="url(#g45)"/><path d="M636.5 62.7h1.4m-10.8 1.3h1.4m6.3 .9h1.4m-4 1.5h1.4m1.3 1.4h1.4m-.8 0h1.4m-12.7 .3h1.4m-1.7 .8h1.4m-.1 .5h1.4m5.8 .4h1.4m-.6 .5h1.4m-.4 .1h1.4m.6 0h1.4m-9 .1h1.4m-1.1 .2h1.4m-7.1 .1h1.4m9 0h1.4m-6.8 .1h1.4m.5 0h1.4m1.4 0h1.4m-9.9 .1h1.4m1.6 .2h1.4m-.6 0h1.4m-.5 .1h1.4m-4.1 .1h1.4m3.8 .3h1.4m-2.6 .1h1.4m.1 0h1.4m1.8 0h1.4m.6 0h1.4m-5.7 .2h1.4m-10.1 .1h1.4m1.7 0h1.4m7.1 0h1.4m-12.2 .1h1.4m-.2 0h1.4m.5 .1h1.4m4.1 0h1.4m1.7 .1h1.4m-12.7 .1h1.4m.7 .1h1.4m-4 .1h1.4m-1.2 .1h1.4m6.5 0h1.4m-10.2 .1h1.4m4.9 0h1.4m3.2 0h1.4m-7.9 .1h1.4m4 0h1.4m-4.9 .2h1.4m-8.5 .1h1.4m8.7 0h1.4m1.2 0h1.4m-10.5 .1h1.4m1.9 0h1.4m1.6 0h1.4m-.8 0h1.4m-10.2 .2h1.4m5.5 0h1.4m1 0h1.4m-7.1 .1h1.4m2.7 .1h1.4m-5.9 .2h1.4m2.5 0h1.4m-1.2 0h1.4m-.5 0h1.4m.3 .1h1.4m-.9 .1h1.4m-6.2 .1h1.4m-1.2 0h1.4m.2 .1h1.4m-7.9 .1h1.4m5.9 0h1.4m-7.1 .1h1.4m5.6 0h1.4m1 0h1.4m-12.5 .1h1.4m-.3 0h1.4m5.1 0h1.4m-7.8 .1h1.4m4.2 .1h1.4m1.5 0h1.4m-12.2 .1h1.4m-.9 0h1.4m-.2 0h1.4m.8 .1h1.4m-.4 .1h1.4m1.2 0h1.4m-1.3 0h1.4m-6.4 .1h1.4m-3.3 .1h1.4m4.9 0h1.4m-8 .1h1.4m2 0h1.4m.4 0h1.4m1.4 0h1.4m-3.3 .1h1.4m-1.4 .1h1.4m1.9 0h1.4m-10.5 .1h1.4m3.9 0h1.4m.2 0h1.4m-1.3 0h1.4m1 0h1.4m-7 .1h1.4m-.2 0h1.4m-4.7 .1h1.4m2.3 0h1.4m.7 0h1.4m2.2 .1h1.4m-14.4 .1h1.4m-.6 0h1.4m2.4 0h1.4m0 0h1.4m1.7 0h1.4m-4.5 .1h1.4m3.4 0h1.4m-11.8 .1h1.4m2.8 0h1.4m.5 0h1.4m1.2 0h1.4m.1 .1h1.4m-2.6 .1h1.4m-9 .2h1.4m.5 .1h1.4m5.6 0h1.4m-1.3 0h1.4m-11.3 .1h1.4m7.3 0h1.4m-6.8 .1h1.4m2.4 0h1.4m-5.4 .1h1.4m3.6 0h1.4m-.6 0h1.4m-1.3 .1h1.4m1 0h1.4m-.4 0h1.4m-14.9 .1h1.4m3.4 0h1.4m5.7 0h1.4m-4 .1h1.4m-9.9 .1h1.4m.3 0h1.4m-.7 0h1.4m4.3 .1h1.4m-.6 0h1.4m-9.7 .2h1.4m2.5 0h1.4m-2.7 .1h1.4m4.8 0h1.4m-5.7 .1h1.4m2.6 0h1.4m-11 .1h1.4m1.2 0h1.4m7 0h1.4m-9.4 .1h1.4m-4.3 .1h1.4m-1.3 0h1.4m.6 0h1.4m6.2 0h1.4m-4.6 .1h1.4m-4 .1h1.4m7.2 0h1.4m-12.9 .2h1.4m.2 0h1.4m.5 0h1.4m-6.2 .1h1.4m10.6 0h1.4m-5.4 .1h1.4m-5.7 .1h1.4m2.4 0h1.4m-.7 0h1.4m-.5 0h1.4m2.7 .1h1.4m-9.4 .1h1.4m5.6 0h1.4m-12.5 .1h1.4m-.4 0h1.4m1.3 0h1.4m1 .2h1.4m1.5 .1h1.4m-.9 0h1.4m-10.7 .2h1.4m8.9 0h1.4m-12.3 .1h1.4m-1.3 0h1.4m1.3 0h1.4m-2.5 .1h1.4m5.2 .1h1.4m1.6 0h1.4m-1.5 .1h1.4m-12.3 .1h1.4m-1.2 0h1.4m1.1 .3h1.4m2.8 .2h1.4m1.9 0h1.4m-8.6 .1h1.4m3.4 0h1.4m1.8 .3h1.4m-6.5 .3h1.4m2.3 .1h1.4m-.1 .2h1.4m-13.1 .4h1.4m6.8 .1h1.4m-6.5 .3h1.4m1 0h1.4m3.3 0h1.4m-9.3 .1h1.4m9.3 0h1.4m-12.7 .2h1.4m.9 0h1.4m-4.5 .1h1.4m4.5 .1h1.4m-2.7 .1h1.4m5 .1h1.4m-.6 .5h1.4m-12.4 .2h1.4m-2.2 .1h1.4m11 .2h1.4m-13.2 .2h1.4m-2.7 .1h1.4m1.3 .1h1.4m-1.6 .7h1.4m-4.3 .4h1.4m12.2 0h1.4m-9.5 1h1.4m-.9 .1h1.4m-5.5 .3h1.4m6.8 .2h1.4m-4.5 .1h1.4m-1.3 .8h1.4m-7 .7h1.4m8.8 .6h1.4m-3 4h1.4m-8.4 .5h1.4m1.4 0h1.4" stroke="#1667b4" stroke-width="1.4"/><path d="M634.9 68.4h1m-6.2 .2h1m.6 .3h1m-2.5 .1h1m-.2 .6h1m-1.2 .5h1m-1 .1h1m-5.6 2.1h1m7.6 .8h1m-11.4 .2h1m10 .1h1m-1.7 .1h1m-11.5 2h1m9.6 0h1m-4.8 .4h1m-6.2 .4h1m4.2 .5h1m2.3 .6h1m1.3 .8h1m-.9 .8h1m-6.3 2.1h1m-5.3 .3h1m8.7 1.5h1m-13.8 .6h1" stroke="#f0f4f8" stroke-width="1" stroke-opacity="0.7"/><path d="M624 84.8h1.3m1.1 1.7h1.3m-1 1.3h1.3m1.4 .8h1.3m4.3 0h1.3m-13.1 .6h1.3m9.2 .7h1.3m.9 0h1.3m-8.6 .1h1.3m1.5 1.4h1.3m-2.6 1.2h1.3m1.1 .9h1.3m1.7 .3h1.3m-11.3 .3h1.3m-2.8 2.6h1.3m7.4 0h1.3m2.3 .5h1.3m-9.3 2.5h1.3m-2.3 .3h1.3m.2 .1h1.3m5.6 .2h1.3m-2.7 1.2h1.3m1.3 .7h1.3m-2.2 1.8h1.3m-9.4 .5h1.3m4.1 0h1.3m-3 .1h1.3m1.4 .7h1.3m-.9 .6h1.3m-11.6 .1h1.3m-.4 0h1.3m3.3 1.8h1.3m-3.6 .8h1.3m-.9 1.9h1.3m-1.7 1h1.3m-4.7 .4h1.3m7.2 1.9h1.3m-4.8 .8h1.3m4 .5h1.3m-7.5 2.1h1.3m4.1 3.4h1.3m-5.7 .1h1.3m-5.4 1.5h1.3m2.5 .1h1.3m-2.6 .3h1.3m-5.7 2.3h1.3m-.8 .5h1.3m1 .1h1.3m5.9 1.9h1.3m-10.6 .3h1.3" stroke="#3a80bb" stroke-width="1.3"/><path d="M633.8 134.8h1.3m-6.6 .7h1.3m.3 .4h1.3m1.3 14.4h1.3m-9.2 1h1.3m-1.8 3h1.3m10.6 .6h1.3m-7.2 .1h1.3m3.2 1.2h1.3m-11.4 2.8h1.3" stroke="#8a8a8a" stroke-width="1.3"/><path d="M639.4 76.8L653.2 76.8V94.2L639.4 94.2z" fill="url(#g46)"/><path d="M643.2 72.9h1.4m-2.1 1.5h1.4m.2 1.1h1.4m-2 1.5h1.4m2 1.2h1.4m-8.1 .1h1.4m5 0h1.4m1.6 0h1.4m-4.9 .2h1.4m2.3 0h1.4m-8.3 .1h1.4m1 .2h1.4m-6 .2h1.4m-.5 0h1.4m-1.5 .3h1.4m3 .5h1.4m4.3 0h1.4m-11.4 .3h1.4m6.9 0h1.4m-7.7 .3h1.4m6.5 0h1.4m-6.2 .1h1.4m-.1 0h1.4m2.1 0h1.4m-4.6 .2h1.4m-8.4 .2h1.4m-.6 .2h1.4m5 0h1.4m-.8 .1h1.4m-.5 0h1.4m-8 .1h1.4m.2 0h1.4m-.2 0h1.4m-6 .1h1.4m-1.1 0h1.4m4.6 0h1.4m-5.1 .2h1.4m.8 0h1.4m2.7 0h1.4m-4.3 .1h1.4m-6.7 .2h1.4m3.1 0h1.4m-.3 0h1.4m1 .2h1.4m0 0h1.4m-8 .1h1.4m1.9 0h1.4m-.2 .1h1.4m-11.2 .1h1.4m7.9 0h1.4m-.7 0h1.4m-6.2 .1h1.4m4.4 0h1.4m-.4 0h1.4m-13.9 .2h1.4m2.8 0h1.4m1.5 0h1.4m2.7 0h1.4m-11.8 .1h1.4m0 0h1.4m5.4 .1h1.4m-9 .1h1.4m8 0h1.4m-12.3 .1h1.4m3.3 0h1.4m-1.1 .1h1.4m-.9 0h1.4m.4 0h1.4m.7 0h1.4m.8 0h1.4m-7.2 .1h1.4m5.4 0h1.4m-12.4 .1h1.4m5.6 0h1.4m1.6 0h1.4m-3.2 .1h1.4m-8.8 .1h1.4m6 0h1.4m-10.3 .2h1.4m-.7 0h1.4m2 0h1.4m3.7 0h1.4m1 0h1.4m-12.4 .1h1.4m-.4 0h1.4m.1 0h1.4m-1 0h1.4m.4 0h1.4m-.8 .2h1.4m-8.1 .1h1.4m8.5 0h1.4m-3.2 .1h1.4m-9.6 .1h1.4m-1.3 0h1.4m5.5 0h1.4m4.2 0h1.4m-10.7 .2h1.4m3.9 0h1.4m1.3 0h1.4m-.1 0h1.4m-1.1 0h1.4m-10.8 .1h1.4m7.5 0h1.4m-11.4 .1h1.4m-2.7 .1h1.4m-1.2 .1h1.4m3 .1h1.4m-.8 .2h1.4m4.4 0h1.4m-11.6 .1h1.4m4.1 0h1.4m1.2 0h1.4m0 0h1.4m-1.3 0h1.4m-7.8 .1h1.4m-2.8 .1h1.4m2 0h1.4m-.8 0h1.4m-6.7 .1h1.4m-1.5 .1h1.4m.4 0h1.4m-4.3 .2h1.4m4.3 0h1.4m.7 0h1.4m-7.8 .2h1.4m0 0h1.4m-1.3 0h1.4m3 0h1.4m-9.9 .2h1.4m-1.1 0h1.4m0 0h1.4m1.1 0h1.4m1.3 0h1.4m-5.9 .1h1.4m.6 0h1.4m2.7 .2h1.4m-7.2 .1h1.4m.4 0h1.4m5.6 0h1.4m-9.4 .1h1.4m-.8 0h1.4m2.1 0h1.4m-8.4 .1h1.4m7.3 0h1.4m-8.9 .1h1.4m4 .1h1.4m-6.7 .1h1.4m5.2 0h1.4m-1.1 0h1.4m-1.1 0h1.4m-2.1 .1h1.4m2.5 0h1.4m-6.4 .1h1.4m1.3 0h1.4m-.9 .2h1.4m-10.4 .1h1.4m-.2 0h1.4m7 0h1.4m-6.2 .2h1.4m-1.1 .1h1.4m4.7 .1h1.4m-5.3 .1h1.4m1.3 0h1.4m-10.6 .1h1.4m7.7 0h1.4m-.3 .1h1.4m-1.4 0h1.4m-8.6 .2h1.4m1.5 0h1.4m-4.6 .1h1.4m4.6 0h1.4m-9.9 .1h1.4m4.8 .1h1.4m-7.6 .1h1.4m.3 0h1.4m1 0h1.4m1 0h1.4m-4.3 .1h1.4m-7.1 .1h1.4m2.3 0h1.4m-1.5 .2h1.4m-2.6 .2h1.4m-4.3 .1h1.4m3.1 0h1.4m5.2 .2h1.4m-3.8 .5h1.4m-9.7 .1h1.4m10.9 0h1.4m-2.8 .2h1.4m-.2 0h1.4m-12.8 .3h1.4m8.3 .1h1.4m.2 .1h1.4m-6.8 .1h1.4m3 .1h1.4m-12.1 .1h1.4m-.4 .1h1.4m8.8 0h1.4m-1.1 0h1.4m-1.3 0h1.4m-5.2 .3h1.4m1.8 0h1.4m-12.9 .1h1.4m10.2 .1h1.4m-.4 0h1.4m-3.2 .2h1.4m.3 .5h1.4m-11.7 .1h1.4m-.4 .2h1.4m8 .3h1.4m-10.4 .3h1.4m-1.9 1.5h1.4m4.3 .5h1.4m-7.1 .7h1.4m2.7 .1h1.4m-1.6 .1h1.4m4 .1h1.4m-7.2 .2h1.4m-3.5 1.5h1.4m-4.4 .1h1.4m.3 .1h1.4m-2.7 4.4h1.4" stroke="#1667b4" stroke-width="1.4"/><path d="M647.4 79.9h1m-1.8 1h1m-2.1 1.2h1m-5.5 .8h1m1.7 1.3h1m-4.8 .4h1m-.2 0h1m4.3 .6h1m-4 .2h1m2.5 .5h1m-5.8 .1h1m-3.4 .5h1m11 .1h1m-9.7 .4h1m8.5 0h1m-3.5 .1h1m-9.3 .7h1m-.9 1.4h1m9.6 0h1m-4.8 .8h1m-3.8 .4h1m1.5 .1h1m1 1.6h1" stroke="#f0f4f8" stroke-width="1" stroke-opacity="0.7"/><path d="M644.2 93.2h1.3m3.8 .9h1.3m-10.8 2.5h1.3m-.7 .7h1.3m1.6 .1h1.3m5.5 .9h1.3m.5 0h1.3m-7.5 .7h1.3m-6.9 .6h1.3m1.3 .8h1.3m-2.9 .1h1.3m5.4 .5h1.3m-2.8 .4h1.3m-4.2 2.3h1.3m-4.7 1.1h1.3m4.4 .6h1.3m2.7 .5h1.3m-8.9 1.6h1.3m4.8 .2h1.3m-4.8 1.7h1.3m.5 2.7h1.3m.8 .2h1.3m0 1.1h1.3m-12.1 .7h1.3m10.6 .5h1.3m-7 .3h1.3m-1.7 .3h1.3m-3.2 .8h1.3m7 .1h1.3m-9.8 1.5h1.3m-3.3 3.1h1.3m-2.2 3h1.3m4.6 1.5h1.3m-5.2 .4h1.3m5.4 0h1.3m-9.6 2h1.3m2.5 .4h1.3m.4 .5h1.3m-5.8 .5h1.3" stroke="#3a80bb" stroke-width="1.3"/><path d="M642 129.6h1.3m-1.8 .7h1.3m-2.6 1.2h1.3m4.5 1.1h1.3m-4.7 1.1h1.3m-2.6 3.7h1.3m8.8 .4h1.3m-7.1 2.2h1.3m1.1 7h1.3m-1.5 1.8h1.3m1.5 1.9h1.3m-6.1 2.9h1.3m2.4 4h1.3m-1.1 0h1.3m-.2 .9h1.3m-1.9 .8h1.3m-5.9 1.6h1.3m-5.7 1.6h1.3m9.2 1.6h1.3m-7.2 1.1h1.3m-4.2 1.8h1.3" stroke="#8a8a8a" stroke-width="1.3"/><path d="M385.4 28.5V210" stroke="#a2a2a2" stroke-width="1.6"/><path d="M402.6 28.5V210" stroke="#a2a2a2" stroke-width="1.6"/><path d="M420.2 28.5V210" stroke="#a2a2a2" stroke-width="1.6"/><path d="M437.6 28.5V210" stroke="#a2a2a2" stroke-width="1.6"/><path d="M455 28.5V210" stroke="#a2a2a2" stroke-width="1.6"/><path d="M472.2 28.5V210" stroke="#a2a2a2" stroke-width="1.6"/><path d="M488.4 28.5V210" stroke="#a2a2a2" stroke-width="1.6"/><path d="M504.5 28.5V210" stroke="#a2a2a2" stroke-width="1.6"/><path d="M522 28.5V210" stroke="#a2a2a2" stroke-width="1.6"/><path d="M539.9 28.5V210" stroke="#a2a2a2" stroke-width="1.6"/><path d="M557.1 28.5V210" stroke="#a2a2a2" stroke-width="1.6"/><path d="M573.8 28.5V210" stroke="#a2a2a2" stroke-width="1.6"/><path d="M591 28.5V210" stroke="#a2a2a2" stroke-width="1.6"/><path d="M607.7 28.5V210" stroke="#a2a2a2" stroke-width="1.6"/><path d="M622.8 28.5V210" stroke="#a2a2a2" stroke-width="1.6"/><path d="M638.8 28.5V210" stroke="#a2a2a2" stroke-width="1.6"/><path d="M373.6 28.5V210" stroke="#5e5e5e" stroke-width="1.2"/><path d="M653.8 28.5V210" stroke="#6e6e6e" stroke-width="1"/><path d="M373.6 28.5H653.8" stroke="#7a7a7a" stroke-width="1.4"/><path d="M370.6 210H653.8" stroke="#8a8a8a" stroke-width="1.2"/><path d="M373.6 130.1H653.8" stroke="#e040e0" stroke-width="1.7"/><rect x="47.4" y="264.9" width="251.6" height="186" fill="#f4f4f4"/><path d="M42.4 450.9H299" stroke="#dfdfdf" stroke-width="1"/><path d="M42.4 404.4H299" stroke="#dfdfdf" stroke-width="1"/><path d="M42.4 357.9H299" stroke="#dfdfdf" stroke-width="1"/><path d="M42.4 311.4H299" stroke="#dfdfdf" stroke-width="1"/><path d="M42.4 264.9H299" stroke="#dfdfdf" stroke-width="1"/><path d="M62.9 264.9V450.9" stroke="#e0e0e0" stroke-width="1" stroke-dasharray="1.2 2.8"/><path d="M95 264.9V450.9" stroke="#e0e0e0" stroke-width="1" stroke-dasharray="1.2 2.8"/><path d="M127.1 264.9V450.9" stroke="#e0e0e0" stroke-width="1" stroke-dasharray="1.2 2.8"/><path d="M159 264.9V450.9" stroke="#e0e0e0" stroke-width="1" stroke-dasharray="1.2 2.8"/><path d="M189.3 264.9V450.9" stroke="#e0e0e0" stroke-width="1" stroke-dasharray="1.2 2.8"/><path d="M219.2 264.9V450.9" stroke="#e0e0e0" stroke-width="1" stroke-dasharray="1.2 2.8"/><path d="M251 264.9V450.9" stroke="#e0e0e0" stroke-width="1" stroke-dasharray="1.2 2.8"/><path d="M282.9 264.9V450.9" stroke="#e0e0e0" stroke-width="1" stroke-dasharray="1.2 2.8"/><path d="M48 418L77.8 419V429.2H48z" fill="url(#g47)"/><path d="M48.1 418.2h1.3m2.1 .2h1.3m-3 .3h1.3m2.2 0h1.3m6.6 0h1.3m.6 0h1.3m-9.7 .1h1.3m17.8 .4h1.3m.6 0h1.3m-16.2 .1h1.3m12.6 0h1.3m-12.9 .1h1.3m-2.1 .1h1.3m12.4 0h1.3m-11.3 .2h1.3m-9.1 .2h1.3m3.7 0h1.3m.1 0h1.3m-3.1 .1h1.3m-.1 0h1.3m5.7 .1h1.3m-2.8 .4h1.3m5.7 .1h1.3m-4.2 .1h1.3m-11.8 .1h1.3m-7.8 .6h1.3m17.5 .2h1.3m-5.9 .1h1.3m-21.4 .1h1.3m.1 0h1.3m22.5 .2h1.3m-21.4 .1h1.3m19.4 0h1.3m-17.8 .3h1.3m9.2 0h1.3m-8.6 .1h1.3m11.5 0h1.3m-6.3 .3h1.3m-2.6 .1h1.3m2.1 0h1.3" stroke="#f2f2f2" stroke-width="1.3" stroke-opacity="0.75"/><path d="M58.3 418.6h1.2m.2 .2h1.2m5.8 .1h1.2m-15.6 .2h1.2m10.6 .1h1.2m-8.9 .3h1.2m15.6 .3h1.2m-11.3 .1h1.2m-7.9 .2h1.2m-4.1 .2h1.2m-5.7 .1h1.2m16.2 0h1.2m4 .8h1.2m-20.4 .1h1.2m3 0h1.2m10.2 0h1.2m-18.9 .1h1.2m14.3 0h1.2m-8.3 .4h1.2m-11.7 .1h1.2m3 0h1.2m9.7 .1h1.2m5.8 0h1.2m2 .2h1.2m-18.5 .8h1.2" stroke="#c8c8c8" stroke-width="1.2" stroke-opacity="0.6"/><path d="M56.3 415.2h1.2m-7.8 .9h1.2m7.5 1.8h1.2m-5.9 .4h1.2m17.4 .5h1.2" stroke="#858585" stroke-width="1.2"/><path d="M48.4 428.8h1.1m-.9 0h1.1m.4 0h1.1m15 0h1.1m8.5 0h1.1m-22.9 .1h1.1m17.5 0h1.1m-.1 0h1.1m-5.7 .1h1.1m6.6 0h1.1m-27.5 .1h1.1m6.2 0h1.1m-.3 0h1.1m7.4 0h1.1m.4 0h1.1m-15.9 .1h1.1m7.4 0h1.1m3 0h1.1m-12.2 .1h1.1m4.5 0h1.1m11.1 .1h1.1m-24.5 .1h1.1m.5 .1h1.1m23.1 0h1.1m-20.7 .2h1.1m18 0h1.1" stroke="#7c7c7c" stroke-width="1.1"/><path d="M79 440.7L110.9 441V446.6H79z" fill="url(#g48)"/><path d="M83.3 440.9h1.3m-1.5 .2h1.3m10.6 0h1.3m5.4 0h1.3m-11.3 .1h1.3m-.4 0h1.3m1 0h1.3m-.4 0h1.3m.5 0h1.3m3.2 0h1.3m.2 0h1.3m-14.9 .1h1.3m12.8 0h1.3m-25 .1h1.3m8.1 0h1.3m18.5 0h1.3m-14.6 .1h1.3m-6.3 .1h1.3m13 0h1.3m-3.9 .1h1.3m-6.7 .3h1.3" stroke="#f2f2f2" stroke-width="1.3" stroke-opacity="0.75"/><path d="M79 440.9h1.2m8.7 .2h1.2m7.3 0h1.2m-7.9 .5h1.2m15.3 .1h1.2m-27.7 .1h1.2m11.6 .1h1.2m13.9 0h1.2m-4.5 .2h1.2m1 0h1.2" stroke="#c8c8c8" stroke-width="1.2" stroke-opacity="0.6"/><path d="M100.9 439.5h1.2m-7.9 .4h1.2m1.1 0h1.2m11.5 .4h1.2m-10.1 .5h1.2" stroke="#858585" stroke-width="1.2"/><path d="M98.5 446.2h1.1m5.5 0h1.1m-20.7 .1h1.1m22.7 0h1.1m-17.6 .1h1.1m2.6 0h1.1m3.5 0h1.1m1.6 0h1.1m2.4 0h1.1m-28.9 .1h1.1m-1.1 .1h1.1m-.5 0h1.1m24 0h1.1m-10 .1h1.1m3.3 0h1.1m.3 0h1.1m-8.1 .1h1.1m-.8 0h1.1m1.3 0h1.1m5.1 .1h1.1m3.3 0h1.1m-15.6 .1h1.1m9.5 0h1.1m-10.9 .1h1.1m12 0h1.1m-7.9 .4h1.1m4.9 0h1.1m-11.7 .1h1.1" stroke="#7c7c7c" stroke-width="1.1"/><path d="M112.1 433.8L142.1 434.3V439.6H112.1z" fill="url(#g49)"/><path d="M112.8 434.2h1.3m-.2 0h1.3m6.5 0h1.3m-10.9 .1h1.3m14.3 .1h1.3m1.7 0h1.3m8.6 .1h1.3m-18.3 .1h1.3m-11.5 .1h1.3m1.5 0h1.3m2 0h1.3m12.2 .1h1.3m-16.3 .1h1.3m5.3 0h1.3m9 0h1.3m-1.3 0h1.3m-.4 0h1.3m-9 .3h1.3m2.7 0h1.3m-6 .1h1.3m5.6 0h1.3" stroke="#f2f2f2" stroke-width="1.3" stroke-opacity="0.75"/><path d="M121 434.2h1.2m-10.1 .1h1.2m10.6 0h1.2m5 .2h1.2m2.5 0h1.2m2 0h1.2m-23.1 .2h1.2m20.2 0h1.2m.4 .4h1.2" stroke="#c8c8c8" stroke-width="1.2" stroke-opacity="0.6"/><path d="M116.7 431.2h1.2m20.3 1.7h1.2m-.4 0h1.2m-.1 .7h1.2m-6.4 .6h1.2" stroke="#858585" stroke-width="1.2"/><path d="M128.8 439.2h1.1m-9.8 .1h1.1m7.5 0h1.1m-16.6 .1h1.1m5.2 0h1.1m17.7 0h1.1m-.3 0h1.1m-.7 0h1.1m.2 0h1.1m-20 .1h1.1m9.9 0h1.1m1.5 0h1.1m4.4 0h1.1m-26.9 .1h1.1m8.1 0h1.1m5.7 0h1.1m-.2 0h1.1m-8.6 .1h1.1m-6.4 .1h1.1m1.9 0h1.1m4 .1h1.1m.7 0h1.1m8.1 0h1.1m-21 .1h1.1m17.3 .1h1.1m2.2 0h1.1m-25.1 .1h1.1" stroke="#7c7c7c" stroke-width="1.1"/><path d="M143.3 416.5L174.7 417.5V428.5H143.3z" fill="url(#g50)"/><path d="M143.5 416.9h1.3m.6 0h1.3m-3.3 .1h1.3m-.2 0h1.3m1.8 .2h1.3m.1 0h1.3m6.7 0h1.3m6.4 .2h1.3m-3.6 .1h1.3m1.2 0h1.3m.4 0h1.3m-23.9 .1h1.3m-.2 0h1.3m19.3 0h1.3m2.9 .1h1.3m.6 0h1.3m-.8 .1h1.3m-5.6 .1h1.3m-19.3 .1h1.3m-1.1 0h1.3m20.8 0h1.3m-2.6 .1h1.3m-19.6 .4h1.3m15.8 0h1.3m-14.9 .4h1.3m5.1 0h1.3m-2 .1h1.3m1.8 0h1.3m-19.3 .1h1.3m12.7 0h1.3m-3.7 .3h1.3m10.8 0h1.3m-27.8 .1h1.3m14.4 0h1.3m-.6 .1h1.3m9.9 0h1.3m-13.2 .2h1.3m2.9 .2h1.3m-.4 0h1.3m2.3 0h1.3m-25.8 .3h1.3m13 0h1.3m-7.1 .1h1.3m4.5 0h1.3m11.7 .2h1.3m-20.6 .1h1.3m8.5 .2h1.3m-2 .7h1.3m5.2 0h1.3m-.8 .1h1.3" stroke="#f2f2f2" stroke-width="1.3" stroke-opacity="0.75"/><path d="M150.4 416.9h1.2m-3 .2h1.2m-4.6 .1h1.2m13.4 .1h1.2m-15.5 .1h1.2m19.5 0h1.2m-3.6 .1h1.2m-20.3 .2h1.2m9.2 0h1.2m16.4 .2h1.2m-20.2 .6h1.2m-6.9 .1h1.2m3.1 0h1.2m7.4 0h1.2m7.6 0h1.2m1.6 0h1.2m-6.6 .1h1.2m-10.3 .1h1.2m-7.4 .1h1.2m-.3 1.1h1.2m-2.3 .2h1.2m1.1 .1h1.2m-6.1 .1h1.2m20.4 1h1.2m-22.5 .2h1.2m15.5 .2h1.2m-11.7 .1h1.2m8.2 0h1.2" stroke="#c8c8c8" stroke-width="1.2" stroke-opacity="0.6"/><path d="M162.9 409.4h1.2m-5 1.8h1.2m-8.3 4.7h1.2m8.4 .3h1.2m-18.4 .3h1.2" stroke="#858585" stroke-width="1.2"/><path d="M150.2 428.1h1.1m16.4 0h1.1m-10.5 .1h1.1m-.3 0h1.1m1.7 0h1.1m4.6 0h1.1m-24.9 .1h1.1m4.1 0h1.1m-6 .1h1.1m6 0h1.1m-.7 0h1.1m-.3 0h1.1m3.4 0h1.1m-14.7 .1h1.1m1.2 0h1.1m10.9 0h1.1m13.5 0h1.1m-24.8 .1h1.1m1 .1h1.1m7.8 0h1.1m5 0h1.1m-4 .1h1.1m-.2 0h1.1m-9 .2h1.1m13.9 .1h1.1m-17.6 .2h1.1m7.7 0h1.1m-17.5 .2h1.1" stroke="#7c7c7c" stroke-width="1.1"/><path d="M175.9 402.5L202.7 403.5V416.8H175.9z" fill="url(#g51)"/><path d="M176.8 402.9h1.3m.2 0h1.3m.9 0h1.3m-3.9 .2h1.3m5.7 0h1.3m-6.7 .1h1.3m9.8 .1h1.3m-1 0h1.3m-1.1 0h1.3m-12.4 .2h1.3m2.6 0h1.3m9.2 .1h1.3m-1.4 .1h1.3m-.4 0h1.3m.1 0h1.3m1.9 0h1.3m-12.4 .1h1.3m5.5 0h1.3m-.6 0h1.3m-10.8 .1h1.3m.5 0h1.3m5.1 0h1.3m.6 .1h1.3m-21 .1h1.3m8.9 0h1.3m5.1 .1h1.3m2 0h1.3m-16.1 .1h1.3m10.2 0h1.3m-7.7 .1h1.3m-5.4 .2h1.3m6.5 0h1.3m4.3 0h1.3m.1 0h1.3m-7 .1h1.3m1.2 .1h1.3m-6.1 .2h1.3m-1.2 .1h1.3m1.9 0h1.3m-15.4 .2h1.3m12.6 0h1.3m-11.9 .3h1.3m-.2 0h1.3m12.3 .1h1.3m-11.7 .1h1.3m13.3 .1h1.3m-6.4 .3h1.3m-9.7 .1h1.3m-8.8 .3h1.3m-3.9 .1h1.3m7.3 .3h1.3m-.3 .1h1.3m-1.5 .1h1.3m12.6 .5h1.3m-25.3 .7h1.3m7 0h1.3m12 0h1.3m-16.6 .1h1.3m-7.2 .1h1.3m3.7 .1h1.3" stroke="#f2f2f2" stroke-width="1.3" stroke-opacity="0.75"/><path d="M178.9 402.8h1.2m4 .2h1.2m.8 .2h1.2m5.6 .2h1.2m-11.8 .1h1.2m11.5 0h1.2m-2 .1h1.2m-9.6 .2h1.2m-9.3 .1h1.2m11.2 0h1.2m2.4 .2h1.2m.6 .1h1.2m1.7 0h1.2m-3.2 .3h1.2m-15.7 .1h1.2m15.5 0h1.2m-2.5 .4h1.2m-.1 3.2h1.2m-6.2 .6h1.2m-4.9 .2h1.2" stroke="#c8c8c8" stroke-width="1.2" stroke-opacity="0.6"/><path d="M200.8 402.7h1.2m-12.7 .3h1.2m2 .2h1.2m3.8 .1h1.2" stroke="#858585" stroke-width="1.2"/><path d="M178.8 416.4h1.1m5.1 0h1.1m-.3 0h1.1m6 0h1.1m-18.1 .1h1.1m15.7 0h1.1m-5.4 .1h1.1m-9.6 .1h1.1m15.3 0h1.1m-7.8 .1h1.1m2.4 0h1.1m6.1 0h1.1m-25.1 .1h1.1m1.4 0h1.1m12.2 0h1.1m-5 .1h1.1m4 0h1.1m-.5 0h1.1m.2 0h1.1m-15 .2h1.1m15.4 0h1.1m2.5 .1h1.1m-23.7 .2h1.1m13.9 .1h1.1" stroke="#7c7c7c" stroke-width="1.1"/><path d="M203.9 384.7L234.5 389V402.6H203.9z" fill="url(#g52)"/><path d="M204.8 385.6h1.3m2.1 .2h1.3m-1.5 .1h1.3m1.2 0h1.3m-4.2 .2h1.3m-.3 .2h1.3m0 0h1.3m-3.5 .1h1.3m4.8 .1h1.3m-10.4 .1h1.3m9 0h1.3m-10.5 .1h1.3m6.8 0h1.3m.4 0h1.3m-.9 .3h1.3m1.3 .1h1.3m-10.7 .1h1.3m8.3 0h1.3m-2.3 .1h1.3m.6 0h1.3m-4.5 .1h1.3m1.2 0h1.3m-6.9 .3h1.3m4.1 0h1.3m2.7 0h1.3m-10.9 .1h1.3m5.2 .1h1.3m3.4 0h1.3m-.7 .2h1.3m-.8 0h1.3m-19.2 .1h1.3m-1.1 0h1.3m8.3 0h1.3m3.5 0h1.3m2.9 .1h1.3m-3.7 .1h1.3m.6 0h1.3m1.8 .1h1.3m-4.1 .1h1.3m-4.1 .1h1.3m2 .1h1.3m-1 0h1.3m2.9 0h1.3m-22.2 .1h1.3m13.4 0h1.3m1.8 0h1.3m-.9 0h1.3m-10 .1h1.3m1.3 0h1.3m2.8 0h1.3m-21.7 .1h1.3m21.8 .1h1.3m-20.9 .1h1.3m9.5 0h1.3m3.7 0h1.3m-1.1 0h1.3m-13.8 .2h1.3m4.7 0h1.3m-5 .2h1.3m10.4 0h1.3m.2 0h1.3m2.1 .3h1.3m-1.1 0h1.3m-27.7 .2h1.3m21.6 0h1.3m1.4 0h1.3m-2.9 .1h1.3m1.4 .1h1.3m-24.4 .1h1.3m16.3 0h1.3m-19.4 .1h1.3m14.9 .1h1.3m-10.3 .1h1.3m6.5 .2h1.3m-7.1 .3h1.3m7.7 .1h1.3m.3 .1h1.3m.1 0h1.3m-12.7 .2h1.3m-1.8 .1h1.3m1.1 .2h1.3m-13.2 .1h1.3m13.3 .1h1.3m3.9 .1h1.3m-23.7 .1h1.3m6.4 .1h1.3m4.3 0h1.3m-11 .1h1.3m15.7 0h1.3m3.5 0h1.3m-24.8 .3h1.3m3 0h1.3m5.4 0h1.3m5.4 .2h1.3m-9.7 .7h1.3m9.6 .1h1.3m-19.6 .1h1.3m1.2 0h1.3m9.8 .1h1.3m.4 .2h1.3m5 0h1.3" stroke="#f2f2f2" stroke-width="1.3" stroke-opacity="0.75"/><path d="M206.4 385.5h1.2m-.2 0h1.2m0 .1h1.2m-1.6 .1h1.2m.4 .2h1.2m-.4 0h1.2m-1 .3h1.2m-8.2 .1h1.2m8.6 .2h1.2m-8.8 .3h1.2m1.2 .2h1.2m7.7 .2h1.2m.1 .1h1.2m-11.1 .8h1.2m2.5 0h1.2m7.2 0h1.2m-2.3 .1h1.2m-1.5 .1h1.2m-5.9 .4h1.2m11.3 .1h1.2m-23.1 .1h1.2m10.6 0h1.2m11 0h1.2m-20 .2h1.2m-.5 0h1.2m13.4 0h1.2m3.9 0h1.2m-10.7 .7h1.2m-7.6 .3h1.2m1.9 .4h1.2m9.9 .2h1.2m-23.2 .3h1.2m10.6 .6h1.2m-5.1 .1h1.2m-4.7 .1h1.2m2.6 .1h1.2m-6.8 .1h1.2m10.2 0h1.2m-17.6 .2h1.2m2.9 .2h1.2m16.9 .5h1.2m-10 .2h1.2m9.8 0h1.2m-13.6 .4h1.2m9.9 .1h1.2m-10 .1h1.2m7.4 0h1.2m-24.6 .2h1.2m18 0h1.2m-17.1 .2h1.2m3.6 0h1.2" stroke="#c8c8c8" stroke-width="1.2" stroke-opacity="0.6"/><path d="M210.8 382.9h1.2m-.4 2.3h1.2m8.3 .9h1.2m-1.9 .4h1.2m3.5 1.4h1.2" stroke="#858585" stroke-width="1.2"/><path d="M206.9 402.2h1.1m14.5 0h1.1m-15.2 .1h1.1m1.2 0h1.1m10.1 0h1.1m2.5 0h1.1m-18.6 .1h1.1m4.1 0h1.1m13.6 0h1.1m.9 0h1.1m-17.3 .1h1.1m3 0h1.1m2.4 0h1.1m7.4 0h1.1m-14.3 .1h1.1m-.9 0h1.1m-1.1 .1h1.1m-12.2 .1h1.1m12.3 0h1.1m7.2 0h1.1m-.9 .1h1.1m-18.2 .1h1.1m-1 0h1.1m-6.9 .1h1.1m14.8 .1h1.1m7.5 0h1.1m-26.5 .3h1.1" stroke="#7c7c7c" stroke-width="1.1"/><path d="M235.7 369.7L266.3 372V390.6H235.7z" fill="url(#g53)"/><path d="M237.4 370.3h1.3m.7 0h1.3m-2.2 .2h1.3m-.1 .1h1.3m1.8 0h1.3m.5 0h1.3m-8.7 .4h1.3m10 0h1.3m-6.5 .1h1.3m1.6 .1h1.3m-1.2 0h1.3m1 0h1.3m1.7 0h1.3m-7.8 .1h1.3m1.4 0h1.3m-12.9 .1h1.3m18.9 .1h1.3m-7.7 .1h1.3m-1 0h1.3m4.9 0h1.3m.6 .1h1.3m-11.9 .1h1.3m9.5 0h1.3m-10.7 .1h1.3m-.3 0h1.3m9.4 0h1.3m-20.2 .1h1.3m11.8 0h1.3m4.4 0h1.3m.2 0h1.3m-4.2 .1h1.3m1.3 0h1.3m-9.1 .1h1.3m-.8 .1h1.3m-11.5 .1h1.3m3.4 0h1.3m1.3 .1h1.3m1 0h1.3m-6.3 .1h1.3m-7.1 .1h1.3m12.6 0h1.3m2.7 0h1.3m-10.9 .2h1.3m8.1 0h1.3m-17.3 .1h1.3m-10 .1h1.3m-.4 .1h1.3m21.2 0h1.3m-7.2 .2h1.3m7.4 0h1.3m-21.9 .1h1.3m10.8 .1h1.3m-17.5 .1h1.3m19.1 0h1.3m-2.9 .1h1.3m7.1 0h1.3m-23.6 .1h1.3m14.9 0h1.3m-10.6 .2h1.3m-11 .2h1.3m5.3 .3h1.3m15.5 0h1.3m-8.8 .3h1.3m-.3 0h1.3m-.8 0h1.3m-10.5 .1h1.3m6.1 0h1.3m-15.6 .1h1.3m-5.7 .1h1.3m25.9 0h1.3m-23.7 .3h1.3m10.7 0h1.3m4.5 0h1.3m-24.6 .3h1.3m13.3 .1h1.3m-.2 0h1.3m4.1 0h1.3m-21.3 .2h1.3m10.5 0h1.3m7.7 .2h1.3m-22.5 .1h1.3m12.9 .1h1.3m6.4 .4h1.3m-.7 .1h1.3m3.3 0h1.3m-15 .1h1.3m3.7 .2h1.3m-1 .1h1.3m2.7 0h1.3m-16.8 .1h1.3m1.5 0h1.3m-6.5 .3h1.3m5.7 .1h1.3m-2 .1h1.3m8.4 0h1.3m.9 0h1.3m-21.9 .2h1.3m24.4 0h1.3m-20.9 .2h1.3m16 .2h1.3m-14.9 .1h1.3m-1.5 .2h1.3m1.7 0h1.3m-11.5 .1h1.3m16.4 .1h1.3m-18.4 .1h1.3m16.2 .2h1.3m-20.6 .1h1.3m6.6 .1h1.3m10.9 .1h1.3m-25.2 .2h1.3m23.2 .3h1.3m-5.6 .3h1.3m-21.9 .2h1.3m19.9 .1h1.3m-16.3 .1h1.3" stroke="#f2f2f2" stroke-width="1.3" stroke-opacity="0.75"/><path d="M239.7 370.7h1.2m4.2 0h1.2m2.7 .3h1.2m-1.1 .1h1.2m1 0h1.2m-1.1 0h1.2m-8.7 .1h1.2m-3.4 .2h1.2m-.6 0h1.2m8.1 0h1.2m-1.5 .1h1.2m3 0h1.2m-9.7 .1h1.2m.3 .1h1.2m5.7 .1h1.2m3.1 0h1.2m-3.6 .2h1.2m1.7 0h1.2m-18.8 .2h1.2m2.3 .1h1.2m13.2 0h1.2m2.1 0h1.2m-10.6 .2h1.2m-17.9 .2h1.2m18.9 .1h1.2m-.2 0h1.2m-5 .1h1.2m3.3 .1h1.2m-7.5 .2h1.2m-12.8 .5h1.2m-.7 0h1.2m14.9 .1h1.2m-3.7 .1h1.2m1.8 .3h1.2m-5.9 .2h1.2m8.8 0h1.2m-18 .3h1.2m-4.3 .1h1.2m8.1 0h1.2m-2.1 .2h1.2m-15.1 .1h1.2m-4.2 .1h1.2m24.8 .2h1.2m-13.3 .1h1.2m-2.6 .1h1.2m10 .2h1.2m-17.4 .2h1.2m-8.3 .1h1.2m15.5 .3h1.2m-16.4 .2h1.2m14 0h1.2m-.9 .1h1.2m2.4 .1h1.2m-10.8 .2h1.2m.8 0h1.2m11 .1h1.2m-14.8 .1h1.2m-8.1 .1h1.2m7.7 0h1.2m2.8 .4h1.2m2.4 .5h1.2m-15.1 .1h1.2m-3.7 .1h1.2m1.4 .9h1.2m12.6 1h1.2m-2.6 .7h1.2m-4.3 .4h1.2" stroke="#c8c8c8" stroke-width="1.2" stroke-opacity="0.6"/><path d="M251.4 367.4h1.2m-14.3 .9h1.2m1.3 1.8h1.2m1.5 .3h1.2m16.5 1.2h1.2" stroke="#858585" stroke-width="1.2"/><path d="M240.1 390.2h1.1m-5.2 .1h1.1m2.9 0h1.1m.7 0h1.1m8.6 0h1.1m1.6 0h1.1m-10.8 .1h1.1m2.2 0h1.1m6.6 0h1.1m-15.8 .1h1.1m8.6 0h1.1m9.4 0h1.1m2.5 0h1.1m-3.1 .1h1.1m-25.1 .1h1.1m.2 .1h1.1m9.2 0h1.1m-.5 0h1.1m6.5 0h1.1m3.8 0h1.1m-15.2 .1h1.1m11.5 .1h1.1m-9.1 .1h1.1m-17.4 .2h1.1m23.3 0h1.1m-23.2 .1h1.1m1.8 0h1.1" stroke="#7c7c7c" stroke-width="1.1"/><path d="M267.5 360.7L298.4 364.5V383.8H267.5z" fill="url(#g54)"/><path d="M268.8 361.2h1.3m-2.1 .2h1.3m-.8 .1h1.3m1.3 0h1.3m-3.3 .1h1.3m1.9 .1h1.3m-1.1 0h1.3m-3.7 .2h1.3m-2.9 .1h1.3m5.3 .1h1.3m-8.6 .1h1.3m3.4 0h1.3m-2.9 .1h1.3m.2 0h1.3m.9 0h1.3m1.3 0h1.3m-1.3 0h1.3m-.8 0h1.3m-6.4 .1h1.3m1.8 0h1.3m1.9 0h1.3m-10 .2h1.3m9 0h1.3m-4.3 .1h1.3m-5.5 .2h1.3m8.6 0h1.3m-13.1 .1h1.3m11.1 .1h1.3m-.4 0h1.3m-16.1 .3h1.3m10.3 0h1.3m-7.3 .1h1.3m6.7 0h1.3m3.1 0h1.3m-6.3 .1h1.3m2.2 0h1.3m.7 0h1.3m-1 .1h1.3m-.4 .1h1.3m-1.1 0h1.3m-19.1 .1h1.3m6.1 0h1.3m2.5 0h1.3m-11.5 .1h1.3m14 0h1.3m-20 .1h1.3m4.4 .2h1.3m-2 .1h1.3m6.8 0h1.3m11 .1h1.3m-.4 0h1.3m-1 0h1.3m-17.3 .2h1.3m7.1 0h1.3m2.3 0h1.3m.1 0h1.3m-26.7 .1h1.3m15.7 0h1.3m6.4 0h1.3m.8 .1h1.3m-3.7 .1h1.3m-6.1 .1h1.3m1 .2h1.3m-1 0h1.3m-.1 0h1.3m-3.6 .1h1.3m1 0h1.3m-11.7 .2h1.3m-6.8 .1h1.3m10.8 0h1.3m6.8 .1h1.3m-.3 .1h1.3m-18.1 .1h1.3m4.9 0h1.3m5.2 .1h1.3m.3 .1h1.3m-17.7 .1h1.3m15.6 .2h1.3m-20.6 .1h1.3m-1 0h1.3m13.6 0h1.3m-.2 0h1.3m-24.5 .2h1.3m23.9 0h1.3m.8 .1h1.3m-20.9 .1h1.3m-.9 .2h1.3m10.4 0h1.3m-10.3 .2h1.3m7.6 .2h1.3m-6.5 .3h1.3m-11.5 .1h1.3m11.9 .2h1.3m-11.9 .1h1.3m-6 .2h1.3m-2 .1h1.3m25.8 0h1.3m-23.9 .2h1.3m4.6 0h1.3m1.8 0h1.3m-7.6 .3h1.3m14.8 .1h1.3m1.3 0h1.3m-28.8 .1h1.3m13.2 0h1.3m6.4 .1h1.3m-2.8 .1h1.3m-9.1 .2h1.3m9.8 .1h1.3m-25.3 .1h1.3m17.4 0h1.3m6 .4h1.3m-26.4 .1h1.3m25.1 .1h1.3m-28.4 .1h1.3m2.7 0h1.3m21 .2h1.3m-1.8 .1h1.3m-18.9 .1h1.3m3.1 .3h1.3m-6 .3h1.3m9.1 .1h1.3m-15.9 .1h1.3m8.5 .1h1.3m8.4 .2h1.3m-2 .4h1.3m-23.1 .1h1.3m4 .1h1.3m4.5 .3h1.3m13.5 .4h1.3m-26.6 .6h1.3m22.3 0h1.3m-17.8 .1h1.3" stroke="#f2f2f2" stroke-width="1.3" stroke-opacity="0.75"/><path d="M267.9 361.4h1.2m3.4 .5h1.2m1.5 .3h1.2m-4.5 .2h1.2m2.7 0h1.2m3.4 .5h1.2m-10.5 .2h1.2m-.6 .1h1.2m9.4 .1h1.2m-12.7 .1h1.2m1.5 0h1.2m-1.2 0h1.2m11.8 .1h1.2m.9 .3h1.2m-3 .3h1.2m4.1 0h1.2m-19 .1h1.2m17.3 .1h1.2m0 .2h1.2m-14.9 .2h1.2m5.3 0h1.2m-13.6 .1h1.2m13.5 0h1.2m-11.6 .1h1.2m-10.4 .1h1.2m21.4 0h1.2m.9 0h1.2m-.6 .1h1.2m-21.5 .4h1.2m-4.2 .1h1.2m14.7 0h1.2m3.3 .1h1.2m1.1 .2h1.2m-25.5 .1h1.2m5.5 .1h1.2m3.1 .1h1.2m.9 .1h1.2m-.1 0h1.2m7.1 0h1.2m-1.9 .2h1.2m2.4 0h1.2m-7.4 .5h1.2m-8.6 .5h1.2m.7 0h1.2m-12.2 .1h1.2m21.1 .3h1.2m-13.3 .2h1.2m10.3 0h1.2m-.6 .1h1.2m-20.5 .1h1.2m7.8 .2h1.2m8.8 .3h1.2m-16.8 .3h1.2m1.9 0h1.2m5.9 0h1.2m4.8 0h1.2m-7.8 .1h1.2m-16.2 .1h1.2m-1.6 .3h1.2m-.6 .3h1.2m3.4 0h1.2m.9 .5h1.2m-4.9 .3h1.2m18.6 .1h1.2m-17.8 .2h1.2m2.5 .2h1.2m7.3 .3h1.2m-2.6 .1h1.2m-15.5 .2h1.2m2.4 .1h1.2m14.9 .2h1.2m-23.5 .6h1.2m-2 .2h1.2m2.7 0h1.2m1.1 .3h1.2m-9.6 .2h1.2m2.4 0h1.2m12.8 .1h1.2m2.9 .2h1.2m-4 .1h1.2m-13.5 .2h1.2m-1.2 .4h1.2m14.3 0h1.2" stroke="#c8c8c8" stroke-width="1.2" stroke-opacity="0.6"/><path d="M272.5 357.4h1.2m2.5 3.4h1.2m16.1 2.2h1.2m-1.7 .4h1.2m2.1 .6h1.2" stroke="#858585" stroke-width="1.2"/><path d="M285.6 383.4h1.1m-.1 0h1.1m-.7 0h1.1m-13.4 .1h1.1m.1 .1h1.1m-1.1 0h1.1m6.5 0h1.1m-.4 0h1.1m-13.9 .1h1.1m12.4 0h1.1m10.2 0h1.1m-24.1 .1h1.1m18.3 0h1.1m-25.9 .1h1.1m1.5 0h1.1m5.8 0h1.1m18.5 0h1.1m-27.6 .1h1.1m10.9 0h1.1m12.1 0h1.1m-21.4 .1h1.1m17.8 0h1.1m-7.8 .1h1.1m-19.5 .1h1.1m17.2 0h1.1m1.4 0h1.1m4.3 0h1.1" stroke="#7c7c7c" stroke-width="1.1"/><path d="M79 427L110.9 427V433.3L79 433.3z" fill="url(#g55)"/><path d="M107.3 424.7h1.4m-28 .8h1.4m-1.2 .3h1.4m-1.6 .2h1.4m-3.1 .6h1.4m14.7 .1h1.4m11.5 0h1.4m-1.5 .3h1.4m-24.1 .1h1.4m5.4 .3h1.4m16.3 .8h1.4m-16.4 .3h1.4m-1.1 0h1.4m-11 .3h1.4m15.7 0h1.4m-19.3 .1h1.4m14.7 0h1.4m4.3 0h1.4m-11 .1h1.4m1 0h1.4m2.4 0h1.4m3.1 0h1.4m-28.9 .1h1.4m-.6 0h1.4m-1 0h1.4m18.2 0h1.4m-22.1 .1h1.4m6.8 0h1.4m.8 0h1.4m2 0h1.4m2.1 .1h1.4m8.2 0h1.4m-20.6 .1h1.4m-1.1 0h1.4m4.8 0h1.4m6.9 0h1.4m3.3 0h1.4m-27.8 .1h1.4m3.3 0h1.4m2.2 0h1.4m-1.2 0h1.4m5.4 0h1.4m10.6 0h1.4m-20.7 .1h1.4m1.5 0h1.4m-13.1 .1h1.4m11.5 0h1.4m2.7 0h1.4m-.3 0h1.4m1.4 0h1.4m2.5 0h1.4m-.6 0h1.4m2.6 0h1.4m-31.4 .1h1.4m-.1 0h1.4m-.2 0h1.4m5.7 0h1.4m-.2 0h1.4m3.6 0h1.4m-1.3 0h1.4m1.4 0h1.4m2 0h1.4m2.5 0h1.4m-26.1 .1h1.4m11.7 0h1.4m5.2 0h1.4m-1.2 0h1.4m4.2 0h1.4m0 0h1.4m-27.3 .1h1.4m0 0h1.4m7.8 0h1.4m-.7 0h1.4m2.3 0h1.4m-18.1 .1h1.4m-.7 0h1.4m-.3 0h1.4m.7 0h1.4m3 0h1.4m2.1 0h1.4m1.2 0h1.4m5.2 0h1.4m4.7 0h1.4m-25.8 .1h1.4m-1.3 0h1.4m4.9 0h1.4m1.1 0h1.4m10.6 0h1.4m-1.1 0h1.4m1 0h1.4m-.4 0h1.4m-30.2 .1h1.4m-1.1 0h1.4m3.1 0h1.4m-.4 0h1.4m20.1 0h1.4m-.7 0h1.4m-29.3 .1h1.4m8.3 0h1.4m.7 0h1.4m-1.3 0h1.4m-1.1 0h1.4m.7 0h1.4m13.2 0h1.4m.3 0h1.4m-21.1 .1h1.4m-1.1 0h1.4m6.7 0h1.4m-1.3 0h1.4m2.2 0h1.4m-23.1 .1h1.4m7.3 0h1.4m2.7 0h1.4m6.3 0h1.4m1.3 0h1.4m-.5 0h1.4m-24.4 .1h1.4m.2 0h1.4m3.8 0h1.4m2.9 0h1.4m10.4 0h1.4m-.7 .1h1.4m-25.2 .1h1.4m3 0h1.4m1.8 0h1.4m1.2 0h1.4m4.4 0h1.4m-15.4 .1h1.4m8.4 0h1.4m11.8 0h1.4m-26 .1h1.4m5.4 0h1.4m2.8 0h1.4m8.2 0h1.4m2.3 0h1.4m.7 0h1.4m-1.4 0h1.4m-29.2 .1h1.4m-.2 0h1.4m4.6 0h1.4m-1.1 0h1.4m2.7 0h1.4m2.5 0h1.4m6.8 0h1.4m2.3 0h1.4m-21.4 .1h1.4m1.5 0h1.4m1.2 0h1.4m6.5 .1h1.4m-1.1 0h1.4m2.9 0h1.4m-17.6 .1h1.4m2.5 0h1.4m10.7 0h1.4m.4 .1h1.4m-15.2 .1h1.4m14.2 0h1.4m-.8 0h1.4m-27.6 .2h1.4m1.6 0h1.4m-8.8 .1h1.4m11.6 .2h1.4m-4.3 .1h1.4m-10.4 .1h1.4m21.5 .8h1.4m-16.3 .6h1.4m3.7 .4h1.4" stroke="#1667b4" stroke-width="1.4"/><path d="M86 428.6h1m2.2 .7h1m10.9 .1h1m-21.1 .4h1m0 .2h1m11.7 0h1m-9.4 .1h1m13.8 0h1m-1.4 .1h1m2.1 0h1m.9 0h1m-.6 .2h1m-1.9 .7h1m2.6 0h1m-14.2 .3h1m-15.7 .7h1" stroke="#f0f4f8" stroke-width="1" stroke-opacity="0.7"/><path d="M93.6 432.3h1.3m7.7 0h1.3m-19.9 .1h1.3m5 .1h1.3m11.4 0h1.3m.1 0h1.3m2.6 0h1.3m.1 0h1.3m-12.5 .2h1.3m9 0h1.3m-21.2 .2h1.3m-11.5 .1h1.3m12.8 0h1.3m5.2 .1h1.3m-6.3 .1h1.3m.9 .1h1.3m5.7 0h1.3m2.6 .1h1.3m-18 .2h1.3m7 0h1.3m.6 0h1.3m-22.8 .1h1.3m12 .1h1.3m-3.1 .3h1.3m5 .2h1.3m9.5 .8h1.3m-12.8 .2h1.3m9.8 .1h1.3m.3 .1h1.3m-12.8 .4h1.3" stroke="#3a80bb" stroke-width="1.3"/><path d="M112.1 404.3L142.1 404.3V411.2L112.1 411.2z" fill="url(#g56)"/><path d="M140.6 401.1h1.4m-7 1.4h1.4m-9.5 .6h1.4m-1.7 .8h1.4m8.4 .3h1.4m-15.3 .1h1.4m4.3 0h1.4m-3.7 .1h1.4m-.8 0h1.4m11.1 .4h1.4m-10.4 .8h1.4m-1 .1h1.4m9.1 0h1.4m-9.5 .1h1.4m3 .1h1.4m-1.2 0h1.4m-1.5 .2h1.4m.5 0h1.4m-24.1 .1h1.4m.6 0h1.4m6.8 0h1.4m-7.3 .1h1.4m3.1 0h1.4m4.2 0h1.4m-18.2 .1h1.4m12 0h1.4m1.8 0h1.4m-19.7 .1h1.4m7.1 0h1.4m1.4 0h1.4m15.8 0h1.4m-20.6 .1h1.4m15.2 0h1.4m-15.4 .1h1.4m1.4 0h1.4m.2 0h1.4m.6 0h1.4m-17.5 .1h1.4m2.2 0h1.4m.6 0h1.4m2.2 0h1.4m-.4 0h1.4m-6.4 .1h1.4m2.2 0h1.4m1.3 0h1.4m.7 0h1.4m4.8 0h1.4m-23.6 .1h1.4m.7 0h1.4m6.9 0h1.4m2.1 0h1.4m-12.2 .1h1.4m5 0h1.4m1.3 0h1.4m-.8 0h1.4m6.1 0h1.4m6.6 0h1.4m-26.8 .1h1.4m-.6 0h1.4m6.3 0h1.4m-1.2 0h1.4m-.6 0h1.4m10.6 0h1.4m1.9 0h1.4m-1.3 0h1.4m-27.3 .1h1.4m3 0h1.4m-1 0h1.4m1 0h1.4m2.3 0h1.4m3.6 0h1.4m.3 0h1.4m-20.4 .1h1.4m-.7 0h1.4m9.4 0h1.4m1.2 0h1.4m7 0h1.4m-1 0h1.4m3.6 0h1.4m-23.5 .1h1.4m-1 0h1.4m-.1 0h1.4m-.1 0h1.4m-1.3 0h1.4m4.1 0h1.4m3.6 0h1.4m-15.3 .1h1.4m11.1 0h1.4m-.4 0h1.4m7.6 0h1.4m-29.1 .1h1.4m.6 0h1.4m7.5 0h1.4m12.2 0h1.4m-23.9 .1h1.4m3.3 0h1.4m.8 0h1.4m3.4 0h1.4m-15.1 .1h1.4m0 0h1.4m6.6 0h1.4m.2 0h1.4m7.4 0h1.4m-14 .1h1.4m-.4 0h1.4m-.3 0h1.4m-1.2 0h1.4m3.6 0h1.4m.1 0h1.4m4.2 0h1.4m1.6 0h1.4m1.8 0h1.4m-26.8 .1h1.4m4.7 0h1.4m7.1 0h1.4m-15.5 .1h1.4m4.9 0h1.4m15.2 0h1.4m-24 .1h1.4m8.5 0h1.4m-7.6 .1h1.4m-1.2 0h1.4m18.8 0h1.4m-29.7 .1h1.4m6.6 0h1.4m4.2 0h1.4m2.5 0h1.4m2.7 0h1.4m-20 .1h1.4m4 0h1.4m-1 0h1.4m7 0h1.4m-.4 0h1.4m-.3 0h1.4m3.9 0h1.4m.4 0h1.4m.1 0h1.4m-1.1 0h1.4m-22.3 .1h1.4m2.6 0h1.4m-.1 0h1.4m-.7 0h1.4m1.3 0h1.4m1.3 0h1.4m4.9 0h1.4m-22.7 .1h1.4m2 0h1.4m-.2 0h1.4m9.4 0h1.4m-18.8 .1h1.4m15.7 0h1.4m-17.8 .1h1.4m8.4 0h1.4m6.4 0h1.4m-19.5 .1h1.4m17.7 0h1.4m.9 0h1.4m-12.7 .1h1.4m6.7 0h1.4m-9.5 .1h1.4m11.5 0h1.4m-10.8 .1h1.4m2.8 0h1.4m.4 0h1.4m-6.6 .1h1.4m1.1 0h1.4m7.4 0h1.4m-23.1 .1h1.4m4.1 0h1.4m-.9 0h1.4m2.4 0h1.4m-.3 .1h1.4m-18.1 .1h1.4m20.2 0h1.4m2.6 .2h1.4m-26.1 .1h1.4m2.5 .1h1.4m12.8 .3h1.4m-14.3 .2h1.4m9.3 .1h1.4m-18 .4h1.4m23.6 1.2h1.4" stroke="#1667b4" stroke-width="1.4"/><path d="M136.8 406.1h1m-6.5 .2h1m-3.5 .5h1m-10.1 .5h1m-.9 .3h1m10 .2h1m5.4 0h1m1.9 .1h1m-22.4 .1h1m17.2 0h1m-6.7 .1h1m-5.1 .1h1m-7.3 .4h1m-1 0h1m10.8 0h1m-13.6 .3h1m6.3 .2h1m-4.9 .4h1" stroke="#f0f4f8" stroke-width="1" stroke-opacity="0.7"/><path d="M115 410.2h1.3m5.8 .1h1.3m9.1 0h1.3m-.5 0h1.3m-11 .1h1.3m11.5 0h1.3m-10.9 .1h1.3m2.1 .1h1.3m-14.2 .1h1.3m21.4 0h1.3m-29.1 .5h1.3m23 0h1.3m-4.7 .1h1.3m-20.8 .1h1.3m12.4 0h1.3m-5.8 .1h1.3m6.4 0h1.3m5.1 .1h1.3m-4.3 .1h1.3m-16.8 .3h1.3m21 .6h1.3m-26.1 .2h1.3m13 0h1.3m-14.4 .2h1.3m6.4 .1h1.3m-2.6 .7h1.3m3.7 0h1.3m-15.2 .1h1.3m1.2 .4h1.3m13.6 .5h1.3m.3 0h1.3m-13.2 .7h1.3m6.1 0h1.3m-8.1 .3h1.3m8.1 .3h1.3m3.2 .4h1.3m-9.8 .1h1.3m-6.5 .9h1.3m11.9 .3h1.3m-24 2.3h1.3" stroke="#3a80bb" stroke-width="1.3"/><path d="M143.3 366L174.7 366V379.2L143.3 379.2z" fill="url(#g57)"/><path d="M149.9 359.8h1.4m15.3 3.5h1.4m-12.1 .5h1.4m-11.7 .8h1.4m12 .5h1.4m-7.9 .2h1.4m4.5 .2h1.4m10 .5h1.4m2.2 0h1.4m-3.5 .1h1.4m-29.1 1.2h1.4m26.8 .1h1.4m-28.4 .3h1.4m4.4 0h1.4m12.2 .2h1.4m-19.6 .1h1.4m.3 0h1.4m9.6 0h1.4m-11.7 .1h1.4m.5 0h1.4m7.7 0h1.4m9.4 0h1.4m-.9 .1h1.4m-14.4 .1h1.4m3.2 0h1.4m-14.4 .1h1.4m3.5 0h1.4m6 .1h1.4m-2.7 .1h1.4m3.9 0h1.4m4.2 0h1.4m-28 .1h1.4m1.5 0h1.4m16.5 .1h1.4m-13.9 .1h1.4m-.4 0h1.4m2.7 0h1.4m-3.8 .1h1.4m0 0h1.4m-.3 0h1.4m-12.1 .1h1.4m14.3 0h1.4m5 0h1.4m-27.6 .1h1.4m-.5 0h1.4m23.3 0h1.4m2.1 0h1.4m-23.7 .1h1.4m3.1 0h1.4m17.5 0h1.4m-16.1 .1h1.4m2 0h1.4m3 0h1.4m-23.4 .1h1.4m8.6 0h1.4m-.9 0h1.4m-.5 0h1.4m.6 .1h1.4m5.1 0h1.4m-.6 0h1.4m-9.1 .1h1.4m-.8 0h1.4m1 0h1.4m6.1 0h1.4m-17.5 .1h1.4m4.3 0h1.4m2.5 0h1.4m-8.2 .1h1.4m-11 .1h1.4m23 0h1.4m-26.1 .1h1.4m3.7 0h1.4m6.1 0h1.4m.7 0h1.4m6.1 0h1.4m2.3 0h1.4m-26.9 .1h1.4m2.2 0h1.4m-1.2 0h1.4m8.9 0h1.4m12.8 0h1.4m-32 .1h1.4m7.5 0h1.4m16.4 0h1.4m-1.3 0h1.4m-5.3 .1h1.4m1.1 0h1.4m-.2 0h1.4m1.1 0h1.4m-21.7 .1h1.4m11.4 0h1.4m2.1 0h1.4m.2 0h1.4m1.3 0h1.4m-25.1 .1h1.4m-.6 0h1.4m.1 0h1.4m.6 0h1.4m.8 0h1.4m1.1 0h1.4m-.4 0h1.4m-16.5 .1h1.4m7.4 0h1.4m7.1 0h1.4m-1.4 0h1.4m2.2 0h1.4m1.3 0h1.4m-21 .1h1.4m-.7 0h1.4m-.6 0h1.4m-4.4 .1h1.4m4.3 0h1.4m4.9 0h1.4m2.4 0h1.4m1.3 0h1.4m-22.4 .1h1.4m2 0h1.4m-.7 0h1.4m.4 0h1.4m1.9 0h1.4m-.6 0h1.4m8.8 0h1.4m-21.7 .1h1.4m5.3 0h1.4m-.6 0h1.4m3.4 0h1.4m-.3 0h1.4m3.1 0h1.4m2.6 0h1.4m5.5 0h1.4m-13.3 .1h1.4m-.9 0h1.4m3 0h1.4m5.8 0h1.4m-29.9 .1h1.4m5.4 0h1.4m11.4 0h1.4m4.8 0h1.4m2.3 0h1.4m-27.5 .1h1.4m2.1 0h1.4m5.6 0h1.4m-.4 0h1.4m11.6 0h1.4m-29.7 .1h1.4m27.9 0h1.4m-28.1 .1h1.4m4.8 0h1.4m3.2 0h1.4m.8 0h1.4m7.2 0h1.4m-16 .1h1.4m2.4 0h1.4m-1.1 0h1.4m.3 0h1.4m-1.2 0h1.4m3.5 0h1.4m-1.2 0h1.4m.1 0h1.4m3.6 0h1.4m1.1 0h1.4m-26.1 .1h1.4m.5 0h1.4m-.5 0h1.4m-.1 0h1.4m7.1 0h1.4m2.3 0h1.4m3.4 0h1.4m-27 .1h1.4m3.2 0h1.4m.4 0h1.4m2.2 0h1.4m2.1 0h1.4m-.9 0h1.4m1.4 0h1.4m3.2 0h1.4m-23.4 .1h1.4m5.4 0h1.4m-1 0h1.4m3 0h1.4m3.5 0h1.4m2 0h1.4m3.1 0h1.4m-26.2 .1h1.4m-.8 0h1.4m4.8 0h1.4m1.4 0h1.4m2.9 0h1.4m7.4 0h1.4m.4 0h1.4m-24.3 .1h1.4m23.3 0h1.4m.4 0h1.4m-25.6 .1h1.4m4.7 0h1.4m7.4 0h1.4m3.8 0h1.4m3 0h1.4m-.9 0h1.4m-1.1 0h1.4m-21.9 .1h1.4m0 0h1.4m1.6 0h1.4m1.2 0h1.4m2.7 0h1.4m.4 0h1.4m-.3 0h1.4m-17.8 .1h1.4m-4.8 .1h1.4m3.7 0h1.4m0 0h1.4m9 0h1.4m3.8 0h1.4m-.3 0h1.4m1 0h1.4m-27.6 .1h1.4m3.7 0h1.4m18.6 0h1.4m-1.2 0h1.4m-24 .1h1.4m-.8 0h1.4m4.9 0h1.4m-.7 0h1.4m1.1 0h1.4m1.1 0h1.4m9.1 0h1.4m-27.9 .1h1.4m11.7 0h1.4m1.7 0h1.4m1.4 0h1.4m-1.2 0h1.4m-19.8 .1h1.4m4.3 0h1.4m14.5 0h1.4m-.8 0h1.4m-1.3 0h1.4m.4 0h1.4m-1 0h1.4m-.9 0h1.4m-1.2 0h1.4m-26.2 .1h1.4m6.3 0h1.4m-1 0h1.4m10.2 0h1.4m-.9 0h1.4m2.2 0h1.4m-25 .1h1.4m7.6 0h1.4m8.3 0h1.4m-14.6 .1h1.4m3.5 0h1.4m1.3 0h1.4m1.6 0h1.4m1.8 0h1.4m1.2 0h1.4m2.9 0h1.4m-26.5 .1h1.4m.1 0h1.4m-1 0h1.4m16.7 0h1.4m-17.4 .1h1.4m.1 0h1.4m4 0h1.4m5 0h1.4m1 0h1.4m1.6 0h1.4m1.3 0h1.4m-30.7 .1h1.4m6.3 0h1.4m-.5 0h1.4m5.2 0h1.4m6.5 0h1.4m-1.1 0h1.4m-24.8 .1h1.4m12 0h1.4m5.8 0h1.4m-16.3 .1h1.4m-.4 0h1.4m3.1 0h1.4m6.3 0h1.4m5.3 0h1.4m3.1 0h1.4m-30.1 .1h1.4m.5 0h1.4m20.8 0h1.4m.1 0h1.4m1.1 0h1.4m-29.5 .1h1.4m9.9 0h1.4m7 0h1.4m-22.3 .1h1.4m-.2 0h1.4m.7 0h1.4m2.7 0h1.4m.3 0h1.4m.6 0h1.4m-.3 0h1.4m5.7 0h1.4m-1 0h1.4m-.2 0h1.4m-1.2 0h1.4m-.4 0h1.4m1.3 0h1.4m-1.2 0h1.4m-9.4 .1h1.4m3.1 0h1.4m2.2 0h1.4m-.9 0h1.4m.9 0h1.4m-24.3 .1h1.4m1 0h1.4m2.7 0h1.4m6.4 0h1.4m-1.4 0h1.4m4 0h1.4m-25.1 .1h1.4m3.9 0h1.4m-.2 0h1.4m-6 .1h1.4m1.6 0h1.4m1.8 0h1.4m1.9 0h1.4m-1.4 0h1.4m3.5 0h1.4m.4 0h1.4m3.9 0h1.4m-8.2 .1h1.4m6.9 0h1.4m-.4 0h1.4m-18.7 .1h1.4m4.7 0h1.4m6.9 0h1.4m1.1 0h1.4m-22.3 .1h1.4m8.3 0h1.4m11.4 0h1.4m-24.1 .1h1.4m23.3 .1h1.4m-30.3 .1h1.4m.7 0h1.4m6.8 0h1.4m3.7 0h1.4m2.4 0h1.4m-1.4 0h1.4m-21.1 .1h1.4m6.5 0h1.4m8.6 0h1.4m.5 0h1.4m.5 0h1.4m-22 .1h1.4m-.6 0h1.4m5.1 0h1.4m-.9 0h1.4m-.7 0h1.4m15.8 0h1.4m-24.6 .1h1.4m3.5 0h1.4m13 0h1.4m-21.7 .1h1.4m1.1 0h1.4m18.7 0h1.4m-17.7 .1h1.4m12.4 0h1.4m-13.8 .1h1.4m16.3 0h1.4m-29.5 .1h1.4m7.1 0h1.4m8.7 0h1.4m-10.3 .1h1.4m8.9 0h1.4m2.2 .2h1.4m.9 0h1.4m-21.8 .1h1.4m-1.2 0h1.4m1 .1h1.4m8.5 0h1.4m1 0h1.4m6.1 0h1.4m-.1 0h1.4m-25 .2h1.4m1.6 0h1.4m0 0h1.4m5.3 0h1.4m8.2 0h1.4m-.5 0h1.4m-.9 0h1.4m-17.5 .1h1.4m4.5 0h1.4m-.7 0h1.4m1.7 0h1.4m-.2 0h1.4m-.6 0h1.4m-.8 0h1.4m-20.2 .1h1.4m8.4 0h1.4m-17.3 .1h1.4m2.8 0h1.4m-.2 0h1.4m18.1 0h1.4m-19 .1h1.4m7.8 0h1.4m-.8 0h1.4m-1.2 0h1.4m-15.5 .1h1.4m7.2 0h1.4m3.8 0h1.4m.6 0h1.4m.3 0h1.4m-13.5 .1h1.4m6.2 0h1.4m-.3 .1h1.4m-8.3 .1h1.4m.4 0h1.4m8.2 0h1.4m-17.1 .1h1.4m3.6 0h1.4m11.8 0h1.4m-23.3 .1h1.4m3.8 0h1.4m4.5 0h1.4m5.6 0h1.4m2.6 0h1.4m-10.2 .2h1.4m9.4 .1h1.4m-2.5 .1h1.4m-22.6 .2h1.4m12.7 0h1.4m9.6 .1h1.4m-11.5 .2h1.4m-16.8 .4h1.4m22.6 .2h1.4m-18.9 .2h1.4m6.5 0h1.4m-.7 0h1.4m-10.1 .1h1.4m13.1 0h1.4m-4.3 .1h1.4m-11.4 .3h1.4m13.5 .2h1.4m-11.3 .1h1.4m8.2 0h1.4m-2.4 .8h1.4m-2 .3h1.4" stroke="#1667b4" stroke-width="1.4"/><path d="M173.6 367.5h1m-28 .3h1m15.8 .7h1m3 .5h1m-24.6 .1h1m8.9 .2h1m2.7 0h1m13 .1h1m1.3 .1h1m-22.4 1h1m-6.6 .2h1m7.1 .2h1m5.2 .1h1m-1.6 .1h1m11.8 0h1m-14.8 .2h1m-3.6 .2h1m4.1 0h1m-9.2 .1h1m13.5 .1h1m-6.3 .1h1m-17.4 .1h1m3 0h1m-6.7 .1h1m-1.1 .3h1m11.8 0h1m6.1 0h1m-11.3 .2h1m15.7 .2h1m-21.4 .1h1m9.9 .1h1m-4.9 .2h1m-6.7 .3h1m3.6 .2h1m2.8 .1h1m6.8 .3h1m-18 .2h1m-.5 .1h1m17.2 .1h1m-4.7 .2h1m1.7 .3h1m-20.5 .2h1m-1.6 .7h1m7.8 .6h1m-12.8 .6h1m23.4 .6h1" stroke="#f0f4f8" stroke-width="1" stroke-opacity="0.7"/><path d="M147.2 378.1h1.3m1.8 0h1.3m-7.3 .1h1.3m24.9 0h1.3m-20.9 .2h1.3m-8 .2h1.3m20.4 .3h1.3m-16 .1h1.3m4.3 0h1.3m-14 .2h1.3m26.2 .1h1.3m-5.4 .1h1.3m-16.3 .2h1.3m12.5 .1h1.3m-10.1 .2h1.3m11.8 .5h1.3m-5.9 .1h1.3m.3 .2h1.3m-9.4 .2h1.3m-.5 .2h1.3m-15.7 .1h1.3m-1.7 .1h1.3m6.6 .5h1.3m7.3 0h1.3m3.9 0h1.3m-14.9 .6h1.3m-7.6 .2h1.3m17.1 .1h1.3m-.1 1.8h1.3m-.5 .2h1.3m-.3 .2h1.3m-14.2 .4h1.3m-1 .3h1.3m-2.7 .7h1.3m1.5 3h1.3m-6.7 .4h1.3m-3.9 1.3h1.3m6 0h1.3m-9.2 .9h1.3m8.9 .4h1.3m-9.6 1h1.3m16.6 .3h1.3m-6.7 .2h1.3m3.1 0h1.3m-7.2 .5h1.3" stroke="#3a80bb" stroke-width="1.3"/><path d="M175.9 342L202.7 342V355.7L175.9 355.7z" fill="url(#g58)"/><path d="M187 337.6h1.4m-10.3 2h1.4m22.1 0h1.4m-26.1 .6h1.4m23.2 .2h1.4m-12.8 1.3h1.4m3.6 0h1.4m-12 .8h1.4m15.6 .2h1.4m-5.3 .7h1.4m-18.5 .2h1.4m18.5 0h1.4m-18.2 .1h1.4m6 0h1.4m7.6 .1h1.4m-23.8 .2h1.4m22.5 0h1.4m-26.7 .1h1.4m8.6 0h1.4m10.1 0h1.4m-12 .1h1.4m-10 .1h1.4m17.3 0h1.4m-19.6 .1h1.4m5.9 0h1.4m1.4 0h1.4m-1.2 0h1.4m-12.5 .2h1.4m5.8 0h1.4m-2.5 .1h1.4m-10.1 .1h1.4m13.2 0h1.4m-1.4 0h1.4m-1.1 0h1.4m-1.3 0h1.4m-1 .1h1.4m-4.2 .1h1.4m3.6 0h1.4m2.4 .1h1.4m.3 0h1.4m-20.7 .1h1.4m-1.2 0h1.4m6.4 0h1.4m11.9 0h1.4m-21.4 .1h1.4m4 0h1.4m3.1 .1h1.4m-1.2 0h1.4m5.1 0h1.4m1.5 0h1.4m-22.3 .1h1.4m1.5 0h1.4m8.6 0h1.4m-16.6 .1h1.4m2.8 0h1.4m0 0h1.4m1.1 0h1.4m-.3 0h1.4m.8 0h1.4m2.7 0h1.4m2.9 0h1.4m1.1 0h1.4m-20.5 .1h1.4m5.1 0h1.4m5.1 0h1.4m4.5 0h1.4m-12.5 .1h1.4m.2 0h1.4m-.7 0h1.4m1.5 0h1.4m-18.1 .1h1.4m4.4 0h1.4m3.6 0h1.4m9.1 0h1.4m1 0h1.4m-.4 0h1.4m-26 .1h1.4m.3 0h1.4m6.1 0h1.4m2.9 0h1.4m6.3 0h1.4m.1 0h1.4m-14.4 .1h1.4m.3 0h1.4m-.8 0h1.4m-14.1 .1h1.4m1.5 0h1.4m3.8 0h1.4m.3 0h1.4m1.9 0h1.4m3.6 0h1.4m2 0h1.4m-19.8 .1h1.4m-.2 0h1.4m.2 0h1.4m-1.1 0h1.4m.6 0h1.4m-1.1 0h1.4m.4 .1h1.4m9.6 0h1.4m-15.8 .1h1.4m.4 0h1.4m-.8 0h1.4m4.7 0h1.4m.8 0h1.4m-.9 0h1.4m2.9 0h1.4m-.3 0h1.4m-.8 0h1.4m-17.6 .1h1.4m14.1 0h1.4m-13.6 .1h1.4m-1.1 0h1.4m3.2 0h1.4m4.3 0h1.4m-20.6 .1h1.4m4.9 0h1.4m1.8 0h1.4m3.8 0h1.4m-12.9 .1h1.4m.6 0h1.4m-.5 0h1.4m1.4 0h1.4m.6 0h1.4m4.6 0h1.4m-1.2 0h1.4m-13.4 .1h1.4m.4 0h1.4m9.6 0h1.4m1.5 0h1.4m-24.8 .1h1.4m1.4 0h1.4m4.5 0h1.4m-.6 0h1.4m-1 0h1.4m-.2 0h1.4m7.3 0h1.4m.9 0h1.4m-23.1 .1h1.4m3.7 0h1.4m14.2 0h1.4m-18.4 .1h1.4m6.5 0h1.4m7.7 0h1.4m-1.2 0h1.4m2.7 0h1.4m-24.3 .1h1.4m.4 0h1.4m.9 0h1.4m3 0h1.4m1.5 0h1.4m2 0h1.4m1.3 0h1.4m-21.1 .1h1.4m4.8 0h1.4m2.3 0h1.4m5.4 0h1.4m-13.7 .1h1.4m6.9 0h1.4m3 0h1.4m-18.9 .1h1.4m-.3 0h1.4m12 0h1.4m2.2 0h1.4m2.6 0h1.4m-17.6 .1h1.4m2.7 0h1.4m-.2 0h1.4m5.6 0h1.4m1.3 0h1.4m-16.3 .1h1.4m.5 0h1.4m-1.4 0h1.4m7.2 0h1.4m-.6 0h1.4m-1.2 0h1.4m2 0h1.4m-17.8 .1h1.4m-.4 0h1.4m2.4 0h1.4m2.1 0h1.4m1 0h1.4m5.3 .1h1.4m0 0h1.4m-23 .1h1.4m-1 0h1.4m-1.2 0h1.4m-1.2 0h1.4m8.5 0h1.4m-9.8 .1h1.4m1.4 0h1.4m1.7 0h1.4m-.4 0h1.4m1.2 0h1.4m4.2 0h1.4m.5 0h1.4m.2 0h1.4m.4 0h1.4m-22.1 .1h1.4m2.8 0h1.4m-1.3 0h1.4m2.6 0h1.4m3.7 0h1.4m6.3 0h1.4m-.7 0h1.4m-23 .1h1.4m1.5 0h1.4m1.7 0h1.4m.9 0h1.4m-1.2 0h1.4m.6 0h1.4m.8 0h1.4m6.1 0h1.4m-17 .1h1.4m5.2 0h1.4m5.9 0h1.4m-.3 0h1.4m-.7 0h1.4m-16.9 .1h1.4m-1.1 0h1.4m-1.3 0h1.4m13.2 0h1.4m-22.3 .1h1.4m2.8 0h1.4m-1.3 0h1.4m.4 .1h1.4m-6.8 .1h1.4m16.6 0h1.4m.5 0h1.4m-21.3 .1h1.4m5.2 0h1.4m3.7 0h1.4m5.6 0h1.4m-23.2 .1h1.4m.4 0h1.4m13 0h1.4m2.8 0h1.4m1.1 0h1.4m-11.3 .1h1.4m4.5 0h1.4m-.5 0h1.4m-.6 0h1.4m2.3 0h1.4m-19.3 .1h1.4m4.2 0h1.4m3.3 0h1.4m-18.7 .1h1.4m-1.2 0h1.4m3.4 0h1.4m3.4 0h1.4m-.9 0h1.4m-9.5 .1h1.4m1.5 0h1.4m-.9 0h1.4m4.5 0h1.4m8.3 0h1.4m.1 .1h1.4m-18.8 .1h1.4m-1 0h1.4m1.3 0h1.4m1.1 0h1.4m2.2 0h1.4m4.4 0h1.4m-19.6 .1h1.4m7.3 0h1.4m8.4 0h1.4m-.8 0h1.4m1.4 0h1.4m-20 .1h1.4m6.9 0h1.4m9.6 0h1.4m-9.1 .1h1.4m.8 0h1.4m-.8 0h1.4m-.3 0h1.4m-21.3 .1h1.4m.3 0h1.4m.6 0h1.4m6.1 0h1.4m5 0h1.4m-18.5 .1h1.4m11.7 0h1.4m-15 .1h1.4m.8 0h1.4m6.7 0h1.4m2 0h1.4m1.5 0h1.4m2.5 0h1.4m-1.1 0h1.4m-13 .1h1.4m1.8 0h1.4m-13.4 .1h1.4m5.7 0h1.4m-.5 0h1.4m-2.3 .2h1.4m2.5 0h1.4m6.2 0h1.4m-17.4 .1h1.4m11.3 0h1.4m.5 0h1.4m-15.3 .1h1.4m12.6 .1h1.4m1.2 0h1.4m-9.8 .1h1.4m-7.6 .1h1.4m-.3 0h1.4m6 0h1.4m.8 0h1.4m5.6 0h1.4m-24.2 .1h1.4m15.7 0h1.4m-14.8 .1h1.4m13.2 0h1.4m-19.1 .1h1.4m.2 0h1.4m17.4 0h1.4m-.8 0h1.4m-17.2 .1h1.4m-.9 0h1.4m.8 0h1.4m-.3 0h1.4m12.3 .1h1.4m-22.1 .2h1.4m-3.8 .1h1.4m6.9 .1h1.4m1.8 0h1.4m8.2 .2h1.4m-7.4 .1h1.4m-14.1 .1h1.4m5.4 0h1.4m-11.4 .1h1.4m11.5 0h1.4m-2.9 .1h1.4m-5.5 .1h1.4m-3.6 .1h1.4m14.8 0h1.4m-.6 0h1.4m-.7 0h1.4m.1 0h1.4m-25.9 .1h1.4m-1.2 0h1.4m-.2 0h1.4m-1.3 0h1.4m5.5 0h1.4m11.5 0h1.4m2.3 0h1.4m-27 .1h1.4m4.5 0h1.4m3.4 0h1.4m7 0h1.4m-18.7 .1h1.4m1.4 .1h1.4m.5 0h1.4m1.7 0h1.4m1.2 0h1.4m4.6 .1h1.4m-17.4 .1h1.4m10.9 0h1.4m3.3 0h1.4m-16.7 .2h1.4m18.1 0h1.4m-22.9 .1h1.4m-.6 0h1.4m7.6 0h1.4m2.4 0h1.4m2.5 0h1.4m-20.6 .1h1.4m12.5 0h1.4m4.3 0h1.4m-5.5 .1h1.4m-15.3 .1h1.4m-.9 0h1.4m-.1 0h1.4m.1 0h1.4m3.2 0h1.4m.5 0h1.4m5.8 0h1.4m4.4 0h1.4m-21.9 .1h1.4m6.6 0h1.4m-12.8 .1h1.4m3.3 0h1.4m-4.3 .1h1.4m1 0h1.4m7.4 .1h1.4m-1.1 0h1.4m3.8 0h1.4m-19.4 .4h1.4m23.1 .1h1.4m-19.1 .3h1.4m.3 .2h1.4m-.1 .2h1.4m-12 .3h1.4m2.6 .4h1.4m2.7 0h1.4m-8.1 .3h1.4m.1 .7h1.4m1.5 0h1.4" stroke="#1667b4" stroke-width="1.4"/><path d="M176.9 343.6h1m20.4 .9h1m-17.2 .1h1m3.1 .2h1m7.4 0h1m-15.4 .1h1m14 .3h1m-7.8 .2h1m-9.6 .1h1m17.8 .7h1m-21.8 .2h1m7.3 .5h1m-8.4 .2h1m13.8 0h1m3 0h1m-3.4 .2h1m5 .2h1m-18.2 .1h1m-3.1 .1h1m-1.8 .1h1m16.3 .5h1m-22.2 .3h1m8.8 .1h1m2.8 0h1m8.8 0h1m-23.9 .1h1m15 .1h1m-15.2 .1h1m16.2 .6h1m-12.5 .3h1m-.7 .1h1m1.9 0h1m1.5 .1h1m3.5 0h1m-20.2 .1h1m6.2 .1h1m14.6 0h1m-20.4 .7h1m-1 .1h1m17.1 1.6h1m2.6 .7h1" stroke="#f0f4f8" stroke-width="1" stroke-opacity="0.7"/><path d="M177.5 354.9h1.3m20.4 .3h1.3m-8.9 .3h1.3m-1.9 .2h1.3m-5 .7h1.3m6.7 .2h1.3m4.7 0h1.3m-7.8 .4h1.3m-11.9 .1h1.3m-4.6 .3h1.3m19.3 .3h1.3m-19.5 .5h1.3m14 .1h1.3m-7.7 .1h1.3m-11.3 .2h1.3m-.5 0h1.3m-1.1 .1h1.3m2.7 .2h1.3m-8.2 .1h1.3m3.3 .2h1.3m11.2 .3h1.3m-14.5 .2h1.3m.5 0h1.3m-10.2 .7h1.3m21.7 .8h1.3m-1.4 .3h1.3m-24.9 .1h1.3m22 0h1.3m-10.1 .4h1.3m6.2 .7h1.3m-7.2 .1h1.3m-4.7 .6h1.3m-9.2 .3h1.3m.8 .2h1.3m9.4 0h1.3m.4 .3h1.3m-.5 1.1h1.3m2 2.3h1.3m-2.2 .4h1.3m-13.7 .5h1.3m-4.3 4.8h1.3m3.5 1.3h1.3m-2.3 1.7h1.3m4.7 .2h1.3m-2.5 1.3h1.3" stroke="#3a80bb" stroke-width="1.3"/><path d="M203.9 317L234.5 317V332.2L203.9 332.2z" fill="url(#g59)"/><path d="M220.2 312.6h1.4m3.3 .3h1.4m1.9 2.1h1.4m-17.8 .3h1.4m7.3 .3h1.4m8.2 .5h1.4m.7 0h1.4m-4 .5h1.4m-11.1 .4h1.4m-12.2 .3h1.4m18.5 .9h1.4m-9.5 .2h1.4m6.6 0h1.4m-1.2 0h1.4m1 .2h1.4m-13.6 .2h1.4m-.2 0h1.4m-11.5 .3h1.4m5.5 0h1.4m4.6 0h1.4m-7.9 .4h1.4m1.8 0h1.4m7.9 0h1.4m-.1 0h1.4m-8.1 .1h1.4m3.6 0h1.4m-19.4 .1h1.4m16.5 0h1.4m1.8 0h1.4m-28.7 .1h1.4m-.3 .1h1.4m3.5 0h1.4m20.2 0h1.4m-22.3 .1h1.4m14.6 0h1.4m1.9 0h1.4m.9 0h1.4m-14 .2h1.4m5.2 0h1.4m-17.3 .1h1.4m-4.3 .2h1.4m7.3 0h1.4m12.9 0h1.4m-15.4 .1h1.4m9.3 0h1.4m-25.6 .1h1.4m0 0h1.4m10.9 0h1.4m10.8 0h1.4m-17.8 .1h1.4m-.4 0h1.4m-.8 0h1.4m-.9 0h1.4m.4 0h1.4m10.8 .1h1.4m-23.5 .1h1.4m-.5 0h1.4m3.6 0h1.4m-.1 0h1.4m1.5 0h1.4m1.1 .1h1.4m-11.2 .1h1.4m-.4 0h1.4m-5.5 .1h1.4m17.2 0h1.4m-22.6 .2h1.4m1.4 0h1.4m12.4 0h1.4m1.8 .1h1.4m5.7 .1h1.4m-.5 0h1.4m-26.4 .1h1.4m3.5 0h1.4m5.6 0h1.4m.7 0h1.4m-.6 0h1.4m5 0h1.4m0 0h1.4m-27.2 .1h1.4m6.8 0h1.4m-.3 0h1.4m-1.1 0h1.4m4.2 0h1.4m7.6 0h1.4m-25.2 .1h1.4m6.8 0h1.4m.4 0h1.4m11 0h1.4m-5.8 .1h1.4m3 0h1.4m-5.6 .1h1.4m-.6 0h1.4m-1 0h1.4m-20.8 .1h1.4m1.4 0h1.4m.1 0h1.4m.2 0h1.4m4.8 0h1.4m10.8 0h1.4m-24.9 .1h1.4m14.9 0h1.4m2.3 0h1.4m.1 0h1.4m.9 0h1.4m-.3 0h1.4m-.4 0h1.4m-28.6 .1h1.4m6.4 0h1.4m4.2 0h1.4m6.1 0h1.4m-.8 0h1.4m.8 0h1.4m2.8 0h1.4m-1.3 0h1.4m-26.4 .1h1.4m10.2 0h1.4m4.4 0h1.4m-.4 0h1.4m1.5 0h1.4m-25.2 .1h1.4m15.3 0h1.4m2.8 0h1.4m2.9 .1h1.4m-10.1 .1h1.4m.3 0h1.4m-.9 0h1.4m3.4 0h1.4m-8.7 .1h1.4m2 0h1.4m4.2 0h1.4m-27 .1h1.4m3.2 0h1.4m1.8 0h1.4m1.7 0h1.4m2 0h1.4m7.7 0h1.4m-20.9 .1h1.4m-.6 0h1.4m19.5 0h1.4m1.9 0h1.4m-16.5 .1h1.4m-.3 0h1.4m5.6 0h1.4m-1.1 0h1.4m3.8 0h1.4m.4 0h1.4m-30.3 .1h1.4m15.2 0h1.4m6 0h1.4m2.9 0h1.4m-.9 0h1.4m-27 .1h1.4m-1.1 0h1.4m.1 0h1.4m4.2 0h1.4m2.2 0h1.4m3.6 0h1.4m3.4 0h1.4m-.2 0h1.4m.6 0h1.4m-20.1 .1h1.4m4.9 0h1.4m.5 0h1.4m.1 0h1.4m7.2 0h1.4m-28.7 .1h1.4m4.1 0h1.4m1.7 0h1.4m.9 0h1.4m1.9 0h1.4m9.5 0h1.4m-23.3 .1h1.4m4 0h1.4m7.4 0h1.4m4.9 0h1.4m-.3 0h1.4m-21 .1h1.4m6.7 0h1.4m1.3 0h1.4m5.9 0h1.4m4.1 0h1.4m-29.4 .1h1.4m.9 0h1.4m-1.1 0h1.4m3.7 0h1.4m3.6 0h1.4m-.2 0h1.4m2.5 0h1.4m1.1 0h1.4m3.2 0h1.4m-1 0h1.4m-18.6 .1h1.4m1.6 0h1.4m4.4 0h1.4m1.5 0h1.4m1.7 0h1.4m-21.5 .1h1.4m-.5 0h1.4m2.9 0h1.4m7.1 0h1.4m6.4 0h1.4m2.9 0h1.4m-28.4 .1h1.4m-.8 0h1.4m.1 0h1.4m-.9 0h1.4m.8 0h1.4m2.4 0h1.4m8.6 0h1.4m-18.9 .1h1.4m1.2 0h1.4m7.1 0h1.4m-.3 0h1.4m3.3 0h1.4m-19.4 .1h1.4m1.7 0h1.4m2.1 0h1.4m.2 0h1.4m-.8 0h1.4m-.8 0h1.4m-.7 0h1.4m-1.1 0h1.4m3.7 0h1.4m9.3 0h1.4m-22.2 .1h1.4m-1.1 0h1.4m1.1 0h1.4m-.6 0h1.4m-1.2 0h1.4m-1 0h1.4m14.9 0h1.4m-25.9 .1h1.4m4 0h1.4m.4 0h1.4m-.3 0h1.4m.1 0h1.4m.2 0h1.4m.6 0h1.4m3.4 0h1.4m3.5 0h1.4m-23.9 .1h1.4m7.1 0h1.4m-1.4 0h1.4m-.6 0h1.4m.9 0h1.4m-.4 0h1.4m7.5 0h1.4m2.1 0h1.4m-24.5 .1h1.4m.3 0h1.4m2 0h1.4m.3 0h1.4m2.1 0h1.4m3.3 0h1.4m-17.6 .1h1.4m11.3 0h1.4m6.3 0h1.4m-16.6 .1h1.4m3 0h1.4m2.9 0h1.4m1.5 0h1.4m3.1 0h1.4m-26.6 .1h1.4m7.1 0h1.4m1.9 0h1.4m-3 .1h1.4m-1.1 0h1.4m2.5 0h1.4m-13.3 .1h1.4m-.1 0h1.4m-.3 0h1.4m.2 0h1.4m7.1 0h1.4m.6 0h1.4m.2 0h1.4m1.8 0h1.4m2.1 0h1.4m-.6 0h1.4m-23.2 .1h1.4m.3 0h1.4m4.4 0h1.4m-1.3 0h1.4m-.4 0h1.4m-1.2 0h1.4m2.1 0h1.4m1.8 0h1.4m-.9 0h1.4m.8 0h1.4m-21.4 .1h1.4m3.1 0h1.4m1 0h1.4m-7.1 .1h1.4m2.2 0h1.4m.3 0h1.4m-.6 0h1.4m-.8 0h1.4m11.5 0h1.4m.2 0h1.4m-.7 0h1.4m.7 0h1.4m-.8 0h1.4m-21 .1h1.4m8.1 0h1.4m.5 0h1.4m2.6 0h1.4m-23.2 .1h1.4m-.1 0h1.4m.5 0h1.4m-1.1 0h1.4m-1 0h1.4m2.2 0h1.4m6.7 0h1.4m3.5 .1h1.4m2.3 0h1.4m-28.9 .1h1.4m8.2 0h1.4m.7 0h1.4m4.5 0h1.4m-.6 0h1.4m3.6 0h1.4m2.4 0h1.4m-1.4 0h1.4m-17.3 .1h1.4m5.4 0h1.4m2.7 0h1.4m4.8 0h1.4m-18.3 .1h1.4m8.2 0h1.4m2.8 0h1.4m-26.2 .1h1.4m5.8 0h1.4m-1.3 0h1.4m8.2 0h1.4m1.3 0h1.4m-.8 0h1.4m4.6 0h1.4m-.4 0h1.4m-29.1 .1h1.4m2.1 0h1.4m6.4 0h1.4m1.2 0h1.4m-1.3 0h1.4m-.3 0h1.4m.2 0h1.4m-14.1 .1h1.4m1.1 0h1.4m-1.2 0h1.4m-.7 0h1.4m2.1 0h1.4m6.8 0h1.4m4.6 0h1.4m.6 0h1.4m-22.4 .1h1.4m15.2 0h1.4m.2 0h1.4m-10.5 .1h1.4m-8.8 .1h1.4m9.2 0h1.4m-19 .1h1.4m-1.4 0h1.4m3.8 0h1.4m-.7 0h1.4m0 0h1.4m-.3 0h1.4m-.1 0h1.4m4.2 0h1.4m11.2 0h1.4m-29.7 .1h1.4m12.6 0h1.4m2.2 0h1.4m5.3 0h1.4m-12.1 .1h1.4m.6 0h1.4m-.6 0h1.4m4.2 0h1.4m2.9 0h1.4m-13.4 .2h1.4m-12.7 .1h1.4m2.7 0h1.4m5.3 0h1.4m1.5 0h1.4m10.5 0h1.4m-27.1 .1h1.4m16.9 0h1.4m.2 0h1.4m-1.1 0h1.4m-24.2 .1h1.4m-.1 0h1.4m-.2 0h1.4m21 0h1.4m-27.2 .2h1.4m14.6 0h1.4m0 0h1.4m.6 0h1.4m2.2 0h1.4m4.9 0h1.4m-18.9 .1h1.4m3.3 0h1.4m4.2 0h1.4m-3.4 .2h1.4m5.4 0h1.4m-14.8 .1h1.4m.1 0h1.4m7.4 0h1.4m2 0h1.4m-24.2 .1h1.4m6.1 0h1.4m5.3 0h1.4m-20 .1h1.4m-.7 0h1.4m2.9 0h1.4m.8 0h1.4m14.1 0h1.4m-19.7 .1h1.4m-1.4 0h1.4m.3 0h1.4m3 0h1.4m3.5 0h1.4m1.2 0h1.4m.2 0h1.4m2.1 0h1.4m2.9 0h1.4m-20.7 .1h1.4m1.5 0h1.4m1.2 0h1.4m9.1 0h1.4m-25.2 .1h1.4m-.6 0h1.4m5.7 .2h1.4m-9.3 .1h1.4m4.4 0h1.4m1.5 0h1.4m18.8 0h1.4m-10.3 .2h1.4m-1.3 0h1.4m-4.9 .1h1.4m-13 .1h1.4m16.9 0h1.4m-1.4 0h1.4m-18.9 .1h1.4m4 0h1.4m10 0h1.4m4.8 0h1.4m-29 .1h1.4m-.7 0h1.4m1.8 0h1.4m4 0h1.4m-.6 0h1.4m6.2 0h1.4m4.4 0h1.4m1.7 0h1.4m-25.2 .1h1.4m-1 0h1.4m10.2 0h1.4m-.9 0h1.4m5.2 0h1.4m.3 .1h1.4m2 0h1.4m-1.2 0h1.4m-.4 0h1.4m-27.9 .1h1.4m15.5 0h1.4m.6 0h1.4m.3 0h1.4m-20.1 .1h1.4m5.9 0h1.4m-.1 0h1.4m.4 0h1.4m4.3 0h1.4m-22.3 .1h1.4m9.2 0h1.4m-1.1 0h1.4m2.7 0h1.4m6.3 0h1.4m-19.6 .1h1.4m19.8 0h1.4m-.1 0h1.4m-8.5 .1h1.4m-.4 0h1.4m-19.1 .1h1.4m21.6 0h1.4m-19.5 .1h1.4m-4 .2h1.4m.8 0h1.4m6.7 0h1.4m-.9 0h1.4m-15 .1h1.4m.9 0h1.4m21.1 .1h1.4m-23.9 .1h1.4m14.2 .1h1.4m-8.2 .1h1.4m10.1 .1h1.4m-20.6 .1h1.4m6.6 0h1.4m9.3 0h1.4m-8.3 .1h1.4m-3.4 .1h1.4m-3.3 .1h1.4m.5 .1h1.4m10 0h1.4m-10.5 .2h1.4m4.6 0h1.4m-24.6 .2h1.4m10.4 0h1.4m14.8 0h1.4m-6.3 .1h1.4m-17.1 .1h1.4m-.7 0h1.4m2 .2h1.4" stroke="#1667b4" stroke-width="1.4"/><path d="M229.4 320.4h1m-12.8 .2h1m7.8 0h1m-9.8 .5h1m3.4 .1h1m-4.1 .4h1m-2.4 .1h1m8.2 0h1m5.1 0h1m-25.6 .3h1m3.9 .3h1m9.7 0h1m-9.6 .4h1m8.7 .1h1m-15 .1h1m13.6 .5h1m3.3 .3h1m-4.2 .1h1m-22.3 .2h1m11.4 0h1m5.4 0h1m-11.6 .4h1m.7 0h1m5.7 .1h1m-.6 0h1m-8.9 .4h1m11.8 0h1m2.7 0h1m-12.6 .2h1m4.9 0h1m-.4 0h1m-12.4 .1h1m-4.1 .2h1m6.5 0h1m1.4 .2h1m-17.6 .2h1m16.5 .2h1m7.1 .4h1m-25.6 .1h1m3.4 0h1m16.6 .1h1m-5.9 .7h1m-10.3 .2h1m9 .3h1m-16.9 .1h1m16.3 .1h1m-8.7 .1h1m-4 .1h1m-10.3 .4h1m15.7 .2h1m-17.8 .4h1m5.4 0h1m17.3 .6h1" stroke="#f0f4f8" stroke-width="1" stroke-opacity="0.7"/><path d="M210.3 331.1h1.3m-.6 .1h1.3m-7.5 .1h1.3m9.5 .5h1.3m0 0h1.3m-6.2 .3h1.3m6.5 .2h1.3m4 .1h1.3m-1.9 .1h1.3m-.2 .1h1.3m-5.4 .2h1.3m7.1 0h1.3m-12.8 .1h1.3m10.8 .1h1.3m-14.4 .7h1.3m1.4 .2h1.3m7.8 .6h1.3m-.3 0h1.3m-19.5 .2h1.3m3.6 0h1.3m12.9 0h1.3m-21.3 .5h1.3m12.1 0h1.3m-10.4 .2h1.3m2.8 0h1.3m-16.8 .4h1.3m.1 .1h1.3m6.3 .1h1.3m15.1 .5h1.3m-22.8 .4h1.3m9.7 .2h1.3m.1 .1h1.3m4.8 .6h1.3m-17.6 .2h1.3m21.8 .4h1.3m-29.8 .1h1.3m5.2 0h1.3m-.4 .9h1.3m18.7 0h1.3m-19.6 .4h1.3m8.9 1.2h1.3m-16.8 .3h1.3m13 .6h1.3m-14.3 1.1h1.3m17.5 .6h1.3m-1.3 1.7h1.3m-24.1 1.6h1.3m10.8 .9h1.3m-1.5 .4h1.3m-3.4 3.3h1.3" stroke="#3a80bb" stroke-width="1.3"/><path d="M235.7 294L266.3 298V315.4L235.7 311.4z" fill="url(#g60)"/><path d="M240.2 291.2h1.4m.6 .5h1.4m-2 .2h1.4m-6.1 1.5h1.4m5.4 1h1.4m-4.3 .1h1.4m8.2 1.3h1.4m13.2 .1h1.4m-25.9 .3h1.4m12.8 .1h1.4m3 .2h1.4m-23.1 .3h1.4m5.2 0h1.4m-1.3 0h1.4m-6.6 .1h1.4m-1.4 .1h1.4m-4.5 .3h1.4m0 0h1.4m9.9 .1h1.4m.5 0h1.4m-6.1 .1h1.4m-10.2 .1h1.4m11.1 .3h1.4m-14.4 .1h1.4m7.4 .1h1.4m6.1 0h1.4m-16.1 .1h1.4m6.1 0h1.4m.8 0h1.4m-9.8 .1h1.4m2.5 0h1.4m-1.1 0h1.4m-7.7 .1h1.4m5.3 0h1.4m.3 .1h1.4m8.1 0h1.4m-19.2 .1h1.4m0 0h1.4m-1.3 0h1.4m9.2 0h1.4m-12.7 .2h1.4m-1.7 .1h1.4m10.6 0h1.4m-14.2 .2h1.4m.8 0h1.4m-.7 0h1.4m-4.6 .2h1.4m11 0h1.4m-12 .1h1.4m3 0h1.4m1.9 .1h1.4m3.1 0h1.4m-4.4 .2h1.4m-8.9 .1h1.4m4.3 0h1.4m-.8 0h1.4m3.5 0h1.4m-12.3 .1h1.4m-.1 0h1.4m-7.8 .2h1.4m11.3 0h1.4m2.1 0h1.4m-6.9 .2h1.4m-8 .1h1.4m4.3 0h1.4m-9.3 .1h1.4m9.4 0h1.4m-12.7 .2h1.4m2.3 0h1.4m-6.3 .1h1.4m5.9 0h1.4m6.2 0h1.4m12.4 0h1.4m-25.6 .2h1.4m-1.3 0h1.4m-1.2 0h1.4m7.7 0h1.4m-.8 0h1.4m8.3 0h1.4m-1.3 0h1.4m-19.7 .1h1.4m9.3 0h1.4m-10.9 .1h1.4m4.6 0h1.4m.2 0h1.4m-16 .1h1.4m.1 0h1.4m5.7 0h1.4m11.2 0h1.4m6.4 0h1.4m-20.7 .1h1.4m.3 0h1.4m0 0h1.4m4.1 0h1.4m2.4 0h1.4m-.2 0h1.4m-15.1 .1h1.4m3.7 0h1.4m4.5 0h1.4m-14.5 .1h1.4m0 0h1.4m-10.6 .1h1.4m-.3 0h1.4m-.5 0h1.4m-.8 0h1.4m.2 0h1.4m10.2 0h1.4m.9 0h1.4m-4.1 .1h1.4m12.5 0h1.4m-28.1 .1h1.4m6.8 0h1.4m2.6 0h1.4m-.8 0h1.4m12.4 0h1.4m-27.2 .1h1.4m-.3 0h1.4m.6 0h1.4m11.8 0h1.4m1.8 0h1.4m-19.8 .1h1.4m11.2 0h1.4m10.1 0h1.4m-29 .1h1.4m-.4 0h1.4m.2 0h1.4m17.5 0h1.4m2.7 0h1.4m-1.1 0h1.4m-1.3 0h1.4m-16.5 .1h1.4m-.8 0h1.4m1.8 0h1.4m1.3 0h1.4m2.2 0h1.4m.8 0h1.4m-22.1 .1h1.4m8.5 0h1.4m.6 0h1.4m.5 0h1.4m6 0h1.4m-25.7 .1h1.4m20 0h1.4m4.2 0h1.4m.8 0h1.4m-29.6 .1h1.4m12.7 0h1.4m7 0h1.4m1.3 0h1.4m-28 .1h1.4m.1 0h1.4m9.7 0h1.4m-.8 0h1.4m8 0h1.4m.9 0h1.4m-.8 0h1.4m.5 0h1.4m-21.5 .1h1.4m.1 0h1.4m-.9 0h1.4m1 0h1.4m4.2 0h1.4m7.4 0h1.4m-20.8 .1h1.4m3.9 0h1.4m.9 0h1.4m2.2 0h1.4m-8.2 .1h1.4m.4 0h1.4m2.7 0h1.4m-1.2 0h1.4m1.3 0h1.4m1.3 0h1.4m5.3 0h1.4m-28.7 .1h1.4m.1 0h1.4m-.2 0h1.4m.9 0h1.4m2.9 0h1.4m9.5 0h1.4m-23.2 .1h1.4m.8 0h1.4m7.6 0h1.4m4.7 0h1.4m2 0h1.4m-.7 0h1.4m-.7 0h1.4m4.1 0h1.4m-28.6 .1h1.4m-1 0h1.4m-1.3 0h1.4m1.1 0h1.4m0 0h1.4m2.8 0h1.4m.2 0h1.4m2.2 0h1.4m1.4 0h1.4m2.7 0h1.4m-20.2 .1h1.4m7.9 0h1.4m0 0h1.4m-.9 0h1.4m10.2 0h1.4m-1 0h1.4m-1 0h1.4m-24.1 .1h1.4m-.1 0h1.4m-.3 0h1.4m-.7 0h1.4m-.1 0h1.4m9 0h1.4m-19.7 .1h1.4m5 0h1.4m4.8 0h1.4m3.7 0h1.4m.9 0h1.4m-4 .1h1.4m-14.4 .1h1.4m2.1 0h1.4m7.4 0h1.4m1.6 0h1.4m2.6 0h1.4m-18.4 .1h1.4m8.2 0h1.4m1.9 0h1.4m-11.7 .1h1.4m-.3 0h1.4m1.2 0h1.4m13.7 0h1.4m-28.4 .1h1.4m2 0h1.4m1.2 0h1.4m2.4 0h1.4m-.8 0h1.4m4 0h1.4m-.6 0h1.4m.4 0h1.4m-12.3 .1h1.4m4.2 0h1.4m1.5 0h1.4m-1 0h1.4m.7 0h1.4m6.5 0h1.4m-25.3 .1h1.4m3.1 0h1.4m2.7 0h1.4m-.8 0h1.4m7.6 0h1.4m-.9 0h1.4m-17.6 .1h1.4m.2 0h1.4m-.1 0h1.4m2.1 0h1.4m-.5 0h1.4m.7 0h1.4m-1.4 0h1.4m.4 0h1.4m3.1 0h1.4m-15.9 .1h1.4m6.4 0h1.4m-.5 0h1.4m3.3 0h1.4m1.8 0h1.4m1.2 0h1.4m-27 .1h1.4m-.2 0h1.4m4.3 0h1.4m1.4 0h1.4m-1.3 0h1.4m4.2 0h1.4m3.6 0h1.4m4.3 0h1.4m-25.7 .1h1.4m-.8 0h1.4m.8 0h1.4m11.6 0h1.4m-15.9 .1h1.4m1.7 0h1.4m7.7 0h1.4m3.4 0h1.4m.2 0h1.4m-.2 0h1.4m.5 0h1.4m-23.4 .1h1.4m2.6 0h1.4m7 0h1.4m-.4 0h1.4m4.7 0h1.4m.2 0h1.4m-21.2 .1h1.4m-.3 0h1.4m.8 0h1.4m-.3 0h1.4m3.1 0h1.4m-1.4 0h1.4m-.3 0h1.4m-12.3 .1h1.4m1 0h1.4m1.3 0h1.4m3.4 0h1.4m5.1 0h1.4m2.5 0h1.4m-1.2 0h1.4m-1 0h1.4m-.2 0h1.4m-22 .1h1.4m-.3 0h1.4m3.1 0h1.4m5 0h1.4m-17.1 .1h1.4m-1.3 0h1.4m7.3 0h1.4m2.5 0h1.4m-.4 0h1.4m5.2 0h1.4m1.8 0h1.4m-.4 0h1.4m-23.3 .1h1.4m20 0h1.4m-23.1 .1h1.4m10.6 0h1.4m2.5 0h1.4m1.6 0h1.4m4.2 0h1.4m-22.2 .1h1.4m3.5 0h1.4m8.5 0h1.4m-16.2 .1h1.4m5.6 0h1.4m-1.2 0h1.4m2.1 0h1.4m5.6 0h1.4m-26.4 .1h1.4m3 0h1.4m3.5 0h1.4m2.1 0h1.4m8.8 0h1.4m.2 0h1.4m-18.4 .1h1.4m-.6 0h1.4m-1.1 0h1.4m7.1 0h1.4m1.3 0h1.4m7.3 0h1.4m-29.6 .1h1.4m.7 0h1.4m-.6 0h1.4m1.4 0h1.4m-.1 0h1.4m6.6 0h1.4m4.3 0h1.4m.9 0h1.4m-20 .1h1.4m6.4 0h1.4m-1.2 0h1.4m6 0h1.4m-12 .1h1.4m2.7 0h1.4m5.4 0h1.4m-15.5 .1h1.4m-.2 0h1.4m.5 0h1.4m.8 0h1.4m6.8 0h1.4m1.7 0h1.4m-23.2 .1h1.4m5.2 0h1.4m9.4 0h1.4m3.9 0h1.4m-20.8 .1h1.4m3.7 0h1.4m-.9 0h1.4m1 0h1.4m.9 0h1.4m.2 0h1.4m2.8 0h1.4m-19.6 .1h1.4m6.1 0h1.4m-.5 0h1.4m.3 0h1.4m4.5 0h1.4m4.7 0h1.4m-14.1 .1h1.4m10.6 0h1.4m-22.9 .1h1.4m3.7 0h1.4m8.8 0h1.4m3.3 0h1.4m-.6 0h1.4m-17.6 .1h1.4m6.7 0h1.4m1.7 0h1.4m2.6 0h1.4m3.3 0h1.4m-24.3 .1h1.4m-5.5 .1h1.4m5.3 0h1.4m3.3 0h1.4m-.6 0h1.4m9.7 0h1.4m-8.4 .1h1.4m-16.5 .1h1.4m5.2 0h1.4m1.1 0h1.4m1.9 0h1.4m-.5 0h1.4m-.1 0h1.4m1.1 0h1.4m-.4 0h1.4m1.6 0h1.4m-.5 0h1.4m-.7 0h1.4m2.2 0h1.4m-26.4 .1h1.4m.2 0h1.4m2 0h1.4m3.7 0h1.4m6.5 0h1.4m6 0h1.4m-28.1 .1h1.4m-.8 0h1.4m8.8 0h1.4m5.4 0h1.4m-19.3 .1h1.4m15.3 0h1.4m1.5 0h1.4m-14.6 .1h1.4m15.2 0h1.4m-1 0h1.4m1 0h1.4m-20 .1h1.4m6.6 0h1.4m10.3 0h1.4m-.5 0h1.4m-1.3 0h1.4m-23.7 .1h1.4m14.5 0h1.4m-2.8 .1h1.4m4.7 0h1.4m-.5 0h1.4m-29 .1h1.4m4.9 0h1.4m10.6 0h1.4m-1.2 0h1.4m-20.7 .1h1.4m2.8 0h1.4m6.5 .1h1.4m2.3 0h1.4m8.5 0h1.4m-2 .1h1.4m-17.6 .1h1.4m2.5 0h1.4m-.5 0h1.4m7.7 0h1.4m-12 .1h1.4m4.3 0h1.4m1.5 0h1.4m1.1 0h1.4m.2 0h1.4m.1 0h1.4m1.8 0h1.4m-24.2 .1h1.4m2.7 0h1.4m11.2 0h1.4m-22.6 .1h1.4m1.5 0h1.4m-.3 0h1.4m.1 0h1.4m1.5 0h1.4m16.9 0h1.4m-15.4 .1h1.4m11.6 0h1.4m-29 .1h1.4m0 0h1.4m23.3 0h1.4m-17.4 .1h1.4m1.1 0h1.4m3 0h1.4m.7 0h1.4m2.3 0h1.4m0 0h1.4m-22.7 .1h1.4m2.6 0h1.4m.2 0h1.4m-.8 0h1.4m8.7 0h1.4m6.5 0h1.4m-.9 0h1.4m-1 0h1.4m-22.5 .1h1.4m6.1 0h1.4m-.1 0h1.4m-.2 0h1.4m8 0h1.4m-.6 0h1.4m-27 .1h1.4m-1.1 0h1.4m9.6 0h1.4m.6 0h1.4m4.6 0h1.4m.5 0h1.4m-19.2 .1h1.4m-1 0h1.4m13.7 0h1.4m2.4 0h1.4m-17.3 .1h1.4m8.5 0h1.4m-.1 0h1.4m-14.2 .1h1.4m5.9 0h1.4m5.6 0h1.4m-21.8 .1h1.4m17.5 0h1.4m7 0h1.4m-5.7 .1h1.4m1.3 0h1.4m-.5 0h1.4m-9.1 .1h1.4m-3.7 .1h1.4m-14.7 .1h1.4m20 .1h1.4m0 0h1.4m-.3 0h1.4m-20.3 .1h1.4m-.6 0h1.4m-.8 0h1.4m-4.7 .1h1.4m3.5 0h1.4m11.1 0h1.4m1.1 0h1.4m-23.8 .1h1.4m.1 0h1.4m2.1 0h1.4m.6 0h1.4m6 0h1.4m-4.6 .2h1.4m3.7 0h1.4m-.5 0h1.4m-8.4 .1h1.4m8.5 0h1.4m-1 .1h1.4m-15.5 .2h1.4m-.8 0h1.4m16.3 0h1.4m-12.5 .1h1.4m-1 0h1.4m-12.3 .1h1.4m7.8 .1h1.4m8.9 .1h1.4m-1.3 .1h1.4m-24.5 .1h1.4m11.6 .1h1.4m2.5 0h1.4m-7.2 .1h1.4m3.1 0h1.4m-1.9 .1h1.4m1 0h1.4m-10.2 .1h1.4m-13.1 .1h1.4m2.2 0h1.4m-.4 .1h1.4m6.3 0h1.4m-.5 0h1.4m1.7 0h1.4m.7 0h1.4m5.2 0h1.4m-6.4 .1h1.4m-1.5 .1h1.4m-.1 0h1.4m.1 0h1.4m.1 0h1.4m-21.3 .1h1.4m8.8 0h1.4m8 0h1.4m.8 0h1.4m-16.2 .2h1.4m-12.2 .1h1.4m17.1 0h1.4m5.1 .2h1.4m-16 .2h1.4m4.4 0h1.4m9.7 0h1.4m-8.8 .1h1.4m3.2 0h1.4m.2 .1h1.4m-15.1 .1h1.4m12.2 .1h1.4m-15.4 .3h1.4m13.8 .2h1.4m-1 .3h1.4m-8.9 .4h1.4m.8 .1h1.4m-3 .1h1.4m1.3 .4h1.4m1.3 .7h1.4m-2.6 .3h1.4" stroke="#1667b4" stroke-width="1.4"/><path d="M237.8 297.9h1m7.7 0h1m-7.7 .5h1m-2.9 .4h1m14.8 .5h1m-13 .4h1m12.8 0h1m-9.2 .1h1m-10.9 .4h1m8.3 .1h1m10 .2h1m-22.7 .1h1m.7 1.1h1m2.1 .6h1m10 0h1m-4.5 .2h1m-6.3 .1h1m4 0h1m-4.7 .2h1m4.6 .5h1m.3 .4h1m-5.5 .2h1m-5.1 .1h1m3.8 .1h1m10.3 0h1m3.1 .2h1m-13.1 .1h1m2.2 0h1m-14 .5h1m6.1 .3h1m9.1 0h1m-12.4 .1h1m17.4 .1h1m-24.6 .1h1m15.8 0h1m-17.5 .1h1m2.2 .2h1m2.7 0h1m-5.3 .1h1m2 .6h1m5.8 0h1m-7.3 .1h1m-9.9 .4h1m16.1 0h1m-16.9 .6h1m12 0h1m4.2 .3h1m5.9 0h1m-10.6 .1h1m-19.6 .1h1m23.5 .4h1m-2.2 .5h1m-13.2 .1h1m13.5 .1h1m-25.6 .1h1m16.9 .2h1m-3.5 .2h1m6.4 .1h1m.3 .3h1m-8.9 .4h1m-1.5 .3h1m9.5 1.5h1" stroke="#f0f4f8" stroke-width="1" stroke-opacity="0.7"/><path d="M262.9 312.2h1.3m-18.1 .5h1.3m12 0h1.3m-17.2 .4h1.3m15.7 .3h1.3m-22.1 .1h1.3m1.1 .1h1.3m-7.9 .3h1.3m27 .8h1.3m-3.5 .4h1.3m-20 .2h1.3m-.3 .1h1.3m6.1 0h1.3m11.1 0h1.3m-24.4 .3h1.3m15.4 .1h1.3m6 .2h1.3m-5.3 .9h1.3m-12.1 .1h1.3m-.5 0h1.3m-4.3 .1h1.3m3.5 0h1.3m-4.2 .2h1.3m-7.8 .5h1.3m-3.2 .1h1.3m9.7 0h1.3m-16 1h1.3m23.8 .6h1.3m-6.6 .1h1.3m-8 .1h1.3m-13.6 1.6h1.3m-2.9 1.1h1.3m16.7 .5h1.3m-1.5 1.3h1.3m7.9 .3h1.3m-13.2 .8h1.3m-3.2 1h1.3m12.6 1.1h1.3m-14.4 .7h1.3m.9 .4h1.3m-11.7 .5h1.3m-3.6 .1h1.3m15.6 0h1.3m-9.5 .9h1.3m8.8 .1h1.3m-1.5 .1h1.3m-4.5 .5h1.3m-17.5 2.6h1.3m20.9 0h1.3m-21.4 .9h1.3" stroke="#3a80bb" stroke-width="1.3"/><path d="M267.5 289.3L298.4 289.3V305.9L267.5 305.9z" fill="url(#g61)"/><path d="M283.8 285.1h1.4m-6.6 .1h1.4m5.3 0h1.4m-.4 1.2h1.4m.8 .4h1.4m-13.9 2.4h1.4m-5.6 .2h1.4m9.8 0h1.4m-6.5 .1h1.4m5.4 .3h1.4m-11.7 .7h1.4m-.1 .1h1.4m4.5 .2h1.4m-4.4 .1h1.4m9.9 0h1.4m1.1 0h1.4m-21.7 .1h1.4m-3.7 .1h1.4m24.8 0h1.4m-14.2 .1h1.4m-7.3 .1h1.4m4.8 .2h1.4m6.1 0h1.4m-20.4 .2h1.4m.1 0h1.4m12.5 0h1.4m4.6 0h1.4m-18.6 .1h1.4m19.3 .1h1.4m-25.8 .1h1.4m8.9 .1h1.4m.3 0h1.4m7.3 0h1.4m-17 .1h1.4m-6.6 .2h1.4m7.3 0h1.4m-11.9 .1h1.4m12.6 0h1.4m3.3 0h1.4m-.6 0h1.4m1.2 0h1.4m-24.8 .2h1.4m11.9 0h1.4m-8.6 .1h1.4m-.4 0h1.4m6.6 0h1.4m8.7 0h1.4m-25.1 .1h1.4m19.3 0h1.4m-22.6 .1h1.4m-.2 0h1.4m8.4 0h1.4m6.4 0h1.4m1.3 0h1.4m-25.1 .1h1.4m1.6 0h1.4m8.1 0h1.4m.2 .1h1.4m-10.7 .1h1.4m1.7 0h1.4m3 0h1.4m4.2 0h1.4m4.5 0h1.4m.6 0h1.4m0 0h1.4m-12.9 .1h1.4m5.5 0h1.4m4.2 0h1.4m-18.5 .1h1.4m1.7 0h1.4m1.9 0h1.4m-16.6 .1h1.4m9.2 0h1.4m3.9 0h1.4m6.2 0h1.4m-21.7 .1h1.4m.4 0h1.4m-1.6 .1h1.4m.6 0h1.4m2.7 0h1.4m3.8 0h1.4m2.8 0h1.4m-23.7 .1h1.4m-.7 0h1.4m5.3 0h1.4m-.8 0h1.4m10.8 0h1.4m-18.3 .1h1.4m9.2 0h1.4m6.4 0h1.4m-1.1 0h1.4m-24.1 .1h1.4m14 0h1.4m-.9 0h1.4m-1.1 0h1.4m1.5 0h1.4m3.8 0h1.4m-.4 0h1.4m-16.1 .1h1.4m7.4 0h1.4m2.2 0h1.4m-23.1 .1h1.4m.1 0h1.4m7.4 0h1.4m10.6 0h1.4m-14.9 .1h1.4m6.4 0h1.4m5.8 0h1.4m-23.8 .1h1.4m2.1 0h1.4m6.5 0h1.4m-1.4 0h1.4m-2.8 .1h1.4m13.1 0h1.4m.7 0h1.4m-24.5 .1h1.4m.6 0h1.4m-.9 0h1.4m-1.1 0h1.4m-1.3 0h1.4m11.5 0h1.4m6.2 0h1.4m-16.9 .1h1.4m1.9 0h1.4m-10.7 .1h1.4m2.6 0h1.4m1.5 0h1.4m1.8 0h1.4m.3 0h1.4m4.4 0h1.4m-.7 0h1.4m-28.2 .1h1.4m12.1 0h1.4m5.2 0h1.4m5.7 0h1.4m-1.4 0h1.4m-27.6 .1h1.4m-.7 0h1.4m1.1 0h1.4m10 0h1.4m4.6 0h1.4m-12.9 .1h1.4m-1.3 0h1.4m16.5 0h1.4m-26 .1h1.4m2.8 0h1.4m15.9 0h1.4m-16.2 .1h1.4m0 0h1.4m.4 0h1.4m3.9 0h1.4m2.8 0h1.4m-15.5 .1h1.4m13.1 0h1.4m-10.3 .1h1.4m-.5 0h1.4m-1.2 0h1.4m-.2 0h1.4m1.3 0h1.4m9.1 0h1.4m-30.8 .1h1.4m.3 0h1.4m7.6 0h1.4m5.8 0h1.4m0 0h1.4m1.2 0h1.4m2.9 0h1.4m-22.8 .1h1.4m.5 0h1.4m-1.4 0h1.4m-5.7 .1h1.4m2.3 0h1.4m8 0h1.4m-10.3 .1h1.4m-.4 0h1.4m1.5 0h1.4m8.5 0h1.4m1.9 0h1.4m-23.1 .1h1.4m1.5 0h1.4m6.9 0h1.4m9 0h1.4m-20.8 .1h1.4m3 0h1.4m-.7 0h1.4m-.1 0h1.4m3.7 0h1.4m-.2 0h1.4m-.1 0h1.4m4.4 0h1.4m-23.6 .1h1.4m9.6 0h1.4m-9.4 .1h1.4m1.4 0h1.4m10 0h1.4m1.5 0h1.4m-.9 0h1.4m4.3 0h1.4m-26.6 .1h1.4m8.7 0h1.4m8.4 0h1.4m-1.4 0h1.4m2 0h1.4m-16.7 .1h1.4m.5 0h1.4m1.1 0h1.4m-1.1 0h1.4m1 0h1.4m4.6 0h1.4m-25.7 .1h1.4m8 0h1.4m.6 0h1.4m.5 0h1.4m1.2 0h1.4m2.6 0h1.4m1 0h1.4m2.4 0h1.4m-26.6 .1h1.4m-1.1 0h1.4m1.4 0h1.4m1.5 0h1.4m2.3 0h1.4m1.1 0h1.4m-.4 0h1.4m3.5 0h1.4m.4 0h1.4m-15.2 .1h1.4m-.4 0h1.4m5.2 0h1.4m2.8 0h1.4m2.8 0h1.4m.2 0h1.4m-9.4 .1h1.4m2.3 0h1.4m1 0h1.4m-17.9 .1h1.4m13.3 0h1.4m-.8 0h1.4m3.7 0h1.4m-26.4 .1h1.4m-.3 0h1.4m3.9 0h1.4m2.7 0h1.4m.2 0h1.4m4.8 0h1.4m3.3 0h1.4m.1 0h1.4m-15.7 .1h1.4m.5 0h1.4m1.2 0h1.4m.5 0h1.4m-1.2 0h1.4m-.4 0h1.4m3 0h1.4m3.9 0h1.4m-26.5 .1h1.4m14.1 0h1.4m.8 0h1.4m.1 0h1.4m2.6 0h1.4m-25.2 .1h1.4m6.5 0h1.4m-.5 0h1.4m.3 0h1.4m4.5 0h1.4m5.9 0h1.4m-26 .1h1.4m.1 0h1.4m15.1 0h1.4m0 0h1.4m6.2 0h1.4m-22.1 .1h1.4m9.3 0h1.4m-.3 0h1.4m-.1 0h1.4m.5 0h1.4m-23.5 .1h1.4m18.5 0h1.4m0 0h1.4m-.7 0h1.4m1.1 0h1.4m.9 0h1.4m-.6 0h1.4m-26 .1h1.4m5.6 0h1.4m5.5 0h1.4m-.2 0h1.4m-1.1 0h1.4m.1 0h1.4m-17.9 .1h1.4m1.4 0h1.4m.4 0h1.4m5.4 0h1.4m.8 0h1.4m-1.1 0h1.4m2.3 0h1.4m-.5 0h1.4m-20.4 .1h1.4m-.6 0h1.4m1 0h1.4m.9 0h1.4m-.1 0h1.4m-.3 0h1.4m9.2 0h1.4m-.7 0h1.4m1.6 0h1.4m1.1 0h1.4m-25 .1h1.4m4.1 0h1.4m-.6 0h1.4m5.4 0h1.4m8.9 0h1.4m-30.3 .1h1.4m.2 0h1.4m1.2 0h1.4m-.5 0h1.4m3.1 0h1.4m1.5 0h1.4m3.1 0h1.4m-14.7 .1h1.4m14.2 0h1.4m1.6 0h1.4m-12.4 .1h1.4m-1.3 0h1.4m5.1 0h1.4m1.2 0h1.4m6.4 0h1.4m-25.8 .1h1.4m-1.3 0h1.4m.5 0h1.4m1 0h1.4m5.4 0h1.4m7.2 0h1.4m-1.1 0h1.4m.5 0h1.4m-.6 0h1.4m-.1 0h1.4m-21.4 .1h1.4m-1.1 0h1.4m.1 0h1.4m-1.3 0h1.4m9.4 0h1.4m.7 0h1.4m-24.5 .1h1.4m25.4 0h1.4m-23 .1h1.4m2.6 0h1.4m-.7 0h1.4m.1 0h1.4m7.4 0h1.4m-1.2 0h1.4m.3 0h1.4m1.5 0h1.4m-22.9 .1h1.4m7.8 0h1.4m3.7 0h1.4m.7 0h1.4m7.2 0h1.4m-26 .1h1.4m2 0h1.4m9.8 0h1.4m3.4 0h1.4m4.1 0h1.4m-20.1 .1h1.4m-6.1 .1h1.4m3.7 0h1.4m2.1 0h1.4m1.2 0h1.4m5 0h1.4m3.6 0h1.4m-19 .1h1.4m7.6 0h1.4m6.2 0h1.4m-28.3 .1h1.4m8.1 0h1.4m7 0h1.4m-.4 0h1.4m.3 0h1.4m-.4 0h1.4m1.1 0h1.4m-22.2 .1h1.4m3.9 0h1.4m1.9 0h1.4m.5 0h1.4m14 0h1.4m-6.1 .1h1.4m-11.1 .1h1.4m.8 0h1.4m.7 0h1.4m-15.4 .1h1.4m6.6 0h1.4m6.2 0h1.4m-.6 0h1.4m-.2 0h1.4m3.6 0h1.4m-.8 0h1.4m-29.2 .1h1.4m10.9 0h1.4m6.4 0h1.4m7.1 0h1.4m-1.1 0h1.4m-20.3 .1h1.4m5.6 0h1.4m5.4 0h1.4m.8 .1h1.4m-.2 0h1.4m-16.5 .1h1.4m-.8 0h1.4m-.7 0h1.4m4.7 0h1.4m-20.5 .1h1.4m1.6 0h1.4m5 0h1.4m2.1 0h1.4m-1.3 0h1.4m6.6 0h1.4m-23.1 .1h1.4m7.8 0h1.4m15.4 0h1.4m-14.9 .1h1.4m-.4 0h1.4m-.1 0h1.4m1.5 0h1.4m5.2 0h1.4m-1.3 0h1.4m-1.1 0h1.4m-23.5 .1h1.4m1.7 0h1.4m6.8 0h1.4m-1.2 0h1.4m1.9 0h1.4m-17.6 .1h1.4m2.2 0h1.4m7.2 0h1.4m3.6 0h1.4m6.1 0h1.4m-1.1 0h1.4m-25 .1h1.4m2.5 0h1.4m11.4 0h1.4m-1.3 0h1.4m6.3 0h1.4m.7 0h1.4m-31 .1h1.4m12.8 0h1.4m3.4 0h1.4m9.2 0h1.4m-24.2 .1h1.4m2.5 0h1.4m13.5 0h1.4m-.7 0h1.4m-22.3 .1h1.4m7.5 0h1.4m-8.9 .1h1.4m-2.1 .2h1.4m-1.2 0h1.4m3.2 0h1.4m14.8 0h1.4m1.4 0h1.4m-11.6 .1h1.4m8.9 0h1.4m-19.7 .1h1.4m1 0h1.4m7.2 0h1.4m-15 .1h1.4m.4 0h1.4m4.1 0h1.4m7 0h1.4m-22 .1h1.4m8.8 0h1.4m6.4 0h1.4m-18.5 .2h1.4m14.3 0h1.4m-5.1 .1h1.4m-1.4 0h1.4m3.3 0h1.4m-14.3 .1h1.4m-3.2 .1h1.4m17 0h1.4m1.8 .1h1.4m-17.3 .1h1.4m.8 0h1.4m.7 0h1.4m4.3 0h1.4m-10.7 .1h1.4m13.7 0h1.4m-11.3 .1h1.4m6.6 0h1.4m-.9 0h1.4m-6.5 .2h1.4m-21.8 .1h1.4m-1 0h1.4m13.7 .1h1.4m1.8 0h1.4m4.3 0h1.4m-24.7 .1h1.4m14 0h1.4m-1.4 0h1.4m4.2 0h1.4m.8 0h1.4m-26 .1h1.4m4.8 0h1.4m.6 0h1.4m5.3 0h1.4m-.8 0h1.4m1.7 0h1.4m.3 0h1.4m5.2 0h1.4m-27.7 .1h1.4m14.1 0h1.4m1.2 0h1.4m5.4 0h1.4m1.3 0h1.4m-27.1 .1h1.4m8.4 0h1.4m-12.8 .1h1.4m11.4 0h1.4m4.3 0h1.4m-20.9 .1h1.4m-.9 0h1.4m10.3 0h1.4m14.4 0h1.4m-23.5 .1h1.4m-.7 0h1.4m2 0h1.4m2.2 0h1.4m9.7 0h1.4m1.3 0h1.4m-26.5 .1h1.4m1.8 0h1.4m-.2 0h1.4m10.7 0h1.4m5.9 0h1.4m-26.8 .2h1.4m2.5 0h1.4m2.5 0h1.4m3.6 0h1.4m-2.8 .1h1.4m1.8 0h1.4m-17.3 .1h1.4m9.1 0h1.4m15.9 0h1.4m-17.7 .1h1.4m16.1 .1h1.4m-19 .2h1.4m12.8 0h1.4m-18 .4h1.4m4.4 .1h1.4m4.9 0h1.4m-3.2 .1h1.4m2.6 0h1.4m3.3 0h1.4m-22.3 .1h1.4m9.5 0h1.4m1.2 0h1.4m-16.3 .1h1.4m20.4 .2h1.4m-20.4 .1h1.4m-2.9 .1h1.4m-1.3 0h1.4m-7.5 .2h1.4m20 .1h1.4m5.1 0h1.4m-22.5 .3h1.4m6.9 0h1.4m1.3 .1h1.4m-15.8 .2h1.4m6.2 .1h1.4m-11.6 .2h1.4m8.3 .2h1.4m-13.6 .2h1.4" stroke="#1667b4" stroke-width="1.4"/><path d="M272.6 290.9h1m23.2 .6h1m-12.1 .1h1m6.3 .7h1m-2 .8h1m-18.8 .7h1m19.3 .3h1m-19 .1h1m14.2 .3h1m2.7 .1h1m-8.5 .1h1m-18.1 .2h1m2.7 0h1m1.5 0h1m13 0h1m-20.2 .1h1m5.7 0h1m1.7 0h1m9.4 .2h1m-16.8 .2h1m12.5 .2h1m-9.7 .4h1m14.4 0h1m-17.2 .2h1m1.2 0h1m4.4 0h1m1.4 0h1m1.6 0h1m-14.6 .2h1m16.1 0h1m-4.8 .3h1m-9.4 .4h1m-5.6 .1h1m-8.2 .1h1m-4.6 .1h1m-1 .2h1m7 .1h1m16.5 .3h1m-9 .1h1m2.9 .1h1m-13.4 .1h1m8.2 0h1m1.5 0h1m2.6 .1h1m-7.4 .2h1m-19.5 .1h1m13 0h1m8.6 .2h1m1.3 .2h1m-10.2 .4h1m-17.2 .7h1m.4 .2h1m22 .4h1m-17.6 .1h1m10.5 .1h1m2.4 .1h1m-18.8 .7h1m10.6 .3h1m3.2 .2h1m-2.8 .2h1" stroke="#f0f4f8" stroke-width="1" stroke-opacity="0.7"/><path d="M278.7 304.7h1.3m-7.4 .1h1.3m8.1 .7h1.3m-9.1 .7h1.3m7.2 .2h1.3m6.4 .5h1.3m-20.5 .4h1.3m17.7 .1h1.3m-5.6 .2h1.3m-16.1 .4h1.3m7.6 0h1.3m7.1 .4h1.3m-11.6 .3h1.3m-1.9 .1h1.3m-10.1 .8h1.3m12.5 0h1.3m4.8 0h1.3m-6.8 .3h1.3m7.2 .3h1.3m-9.7 .1h1.3m-3.5 .3h1.3m12.3 .1h1.3m-9.7 .1h1.3m-10 .1h1.3m8 2.1h1.3m-14.4 .7h1.3m-4.7 .4h1.3m24.7 0h1.3m-27.4 .2h1.3m14.2 .4h1.3m3.6 .3h1.3m.6 .4h1.3m-19.7 .2h1.3m7 .4h1.3m6.8 .2h1.3m-5.8 .1h1.3m-16.4 .2h1.3m.5 .2h1.3m1.9 .3h1.3m6.3 .5h1.3m5.5 2h1.3m-9.6 .1h1.3m-15.2 .4h1.3m12.9 .1h1.3m-11.7 .1h1.3m11.8 .1h1.3m-16.8 .4h1.3m4.1 .9h1.3m7.5 1.5h1.3m-1.4 3h1.3" stroke="#3a80bb" stroke-width="1.3"/><path d="M78.4 264.9V450.9" stroke="#454545" stroke-width="1.0"/><path d="M111.5 264.9V450.9" stroke="#454545" stroke-width="1.0"/><path d="M142.7 264.9V450.9" stroke="#454545" stroke-width="1.0"/><path d="M175.3 264.9V450.9" stroke="#454545" stroke-width="1.0"/><path d="M203.3 264.9V450.9" stroke="#454545" stroke-width="1.0"/><path d="M235.1 264.9V450.9" stroke="#454545" stroke-width="1.0"/><path d="M266.9 264.9V450.9" stroke="#454545" stroke-width="1.0"/><path d="M47.4 264.9V450.9" stroke="#5e5e5e" stroke-width="1.2"/><path d="M299 264.9V450.9" stroke="#6e6e6e" stroke-width="1"/><path d="M47.4 264.9H299" stroke="#9a9a9a" stroke-width="1.4"/><path d="M44.4 450.9H299" stroke="#8a8a8a" stroke-width="1.2"/><path d="M47.4 404.5H78.4" stroke="#e040e0" stroke-width="1.4"/><path d="M78.4 437.4H111.5" stroke="#e040e0" stroke-width="1.4"/><path d="M111.5 421.2H142.7" stroke="#e040e0" stroke-width="1.4"/><path d="M142.7 399.4H175.3" stroke="#e040e0" stroke-width="1.4"/><path d="M175.3 382.5H203.3" stroke="#e040e0" stroke-width="1.4"/><path d="M203.3 358.4H235.1" stroke="#e040e0" stroke-width="1.4"/><path d="M235.1 346.3H266.9" stroke="#e040e0" stroke-width="1.4"/><path d="M266.9 334.2H299" stroke="#e040e0" stroke-width="1.4"/><rect x="366.6" y="312.8" width="295.8" height="139.1" fill="#f4f4f4"/><path d="M361.6 451.9H662.4" stroke="#d0d0d0" stroke-width="1"/><path d="M361.6 428.7H662.4" stroke="#d0d0d0" stroke-width="1"/><path d="M361.6 405.5H662.4" stroke="#d0d0d0" stroke-width="1"/><path d="M361.6 382.4H662.4" stroke="#d0d0d0" stroke-width="1"/><path d="M361.6 359.2H662.4" stroke="#d0d0d0" stroke-width="1"/><path d="M361.6 336H662.4" stroke="#d0d0d0" stroke-width="1"/><path d="M361.6 312.8H662.4" stroke="#d0d0d0" stroke-width="1"/><path d="M379 312.8V451.9" stroke="#e0e0e0" stroke-width="1" stroke-dasharray="1.2 2.8"/><path d="M403.2 312.8V451.9" stroke="#e0e0e0" stroke-width="1" stroke-dasharray="1.2 2.8"/><path d="M427.8 312.8V451.9" stroke="#e0e0e0" stroke-width="1" stroke-dasharray="1.2 2.8"/><path d="M452.9 312.8V451.9" stroke="#e0e0e0" stroke-width="1" stroke-dasharray="1.2 2.8"/><path d="M477.9 312.8V451.9" stroke="#e0e0e0" stroke-width="1" stroke-dasharray="1.2 2.8"/><path d="M503.1 312.8V451.9" stroke="#e0e0e0" stroke-width="1" stroke-dasharray="1.2 2.8"/><path d="M527.9 312.8V451.9" stroke="#e0e0e0" stroke-width="1" stroke-dasharray="1.2 2.8"/><path d="M552.4 312.8V451.9" stroke="#e0e0e0" stroke-width="1" stroke-dasharray="1.2 2.8"/><path d="M576.7 312.8V451.9" stroke="#e0e0e0" stroke-width="1" stroke-dasharray="1.2 2.8"/><path d="M601.6 312.8V451.9" stroke="#e0e0e0" stroke-width="1" stroke-dasharray="1.2 2.8"/><path d="M626.5 312.8V451.9" stroke="#e0e0e0" stroke-width="1" stroke-dasharray="1.2 2.8"/><path d="M650.5 312.8V451.9" stroke="#e0e0e0" stroke-width="1" stroke-dasharray="1.2 2.8"/><path d="M367.2 416.1L390.8 416.1V432H367.2z" fill="url(#g62)"/><path d="M379.5 416.3h1.3m7.2 .1h1.3m-10.8 .1h1.3m9.8 .2h1.3m-14.5 .3h1.3m5 0h1.3m-11 .1h1.3m10.4 0h1.3m-12 .2h1.3m-1.3 .4h1.3m.6 .1h1.3m-.5 .3h1.3m2.3 .7h1.3m-10.2 .1h1.3m1.6 .2h1.3m10.2 .1h1.3m-2.3 .4h1.3m-18.8 1.3h1.3" stroke="#f2f2f2" stroke-width="1.3" stroke-opacity="0.75"/><path d="M383.7 416.4h1.2m-12.4 .1h1.2m0 .1h1.2m12.6 0h1.2m-2.2 .7h1.2m1.3 .2h1.2m-4.4 1.2h1.2m-18.9 1.5h1.2m6.5 .6h1.2m2.7 0h1.2" stroke="#c8c8c8" stroke-width="1.2" stroke-opacity="0.6"/><path d="M378.2 414h1.2m9.1 1h1.2m-10.7 .7h1.2" stroke="#858585" stroke-width="1.2"/><path d="M377.9 431.7h1.1m-5.6 .1h1.1m-.2 0h1.1m13.4 0h1.1m-22.1 .1h1.1m-.4 0h1.1m-.8 0h1.1m-.5 0h1.1m1.4 0h1.1m4.9 0h1.1m-11.3 .2h1.1m3.7 0h1.1m7.4 0h1.1m-6.8 .1h1.1m12.4 0h1.1m-9.8 .1h1.1m-7.2 .1h1.1m-2.6 .1h1.1m5.4 .1h1.1m-5 .2h1.1m11.9 0h1.1" stroke="#7c7c7c" stroke-width="1.1"/><path d="M392 419.6L414.5 422V435.5H392z" fill="url(#g63)"/><path d="M397 420.4h1.3m.4 .4h1.3m2.9 .8h1.3m2.9 .1h1.3m2.2 .3h1.3m1.1 .1h1.3m-6.4 .4h1.3m3.2 0h1.3m-6.2 .3h1.3m-2 .1h1.3m.4 .1h1.3m-7.7 .3h1.3m-.7 .2h1.3m-6.6 1h1.3m-6.4 .6h1.3m13.3 .3h1.3" stroke="#f2f2f2" stroke-width="1.3" stroke-opacity="0.75"/><path d="M398.7 420.7h1.2m1.8 .7h1.2m3.2 .3h1.2m-9.8 .2h1.2m4 .1h1.2m-8.1 .1h1.2m12.1 .2h1.2m-16.2 .6h1.2m-1.8 .2h1.2m14.6 .7h1.2m-11 1.3h1.2" stroke="#c8c8c8" stroke-width="1.2" stroke-opacity="0.6"/><path d="M396.5 419.6h1.2m-.2 .1h1.2m12.7 .9h1.2" stroke="#858585" stroke-width="1.2"/><path d="M393.1 435.1h1.1m7.4 0h1.1m-10.6 .1h1.1m5.2 .1h1.1m7.9 0h1.1m-1 0h1.1m.1 0h1.1m-16.4 .1h1.1m2.9 0h1.1m11 0h1.1m-15.1 .1h1.1m8.8 0h1.1m6.1 0h1.1m-8 .1h1.1m4.1 0h1.1m-15.3 .1h1.1m14.3 0h1.1m-5.4 .3h1.1m-12.8 .1h1.1m14 .2h1.1" stroke="#7c7c7c" stroke-width="1.1"/><path d="M415.7 418.5L439.9 418.5V436.5H415.7z" fill="url(#g64)"/><path d="M425 418.7h1.3m2.5 0h1.3m2 .8h1.3m-.9 0h1.3m4.4 0h1.3m-1.2 0h1.3m-5.8 .5h1.3m-8.6 .2h1.3m9.8 .6h1.3m-1.1 .1h1.3m-23 .4h1.3m17.1 .1h1.3m-.4 0h1.3m-9.7 .4h1.3m6.2 .7h1.3m-1.3 .8h1.3m-18.3 .6h1.3" stroke="#f2f2f2" stroke-width="1.3" stroke-opacity="0.75"/><path d="M427 418.7h1.2m6.7 .1h1.2m-17 .1h1.2m13.5 .1h1.2m-1.4 .1h1.2m.2 .3h1.2m-9.3 .1h1.2m-5.2 .8h1.2m7.5 1.9h1.2m-4.1 .1h1.2m-4.3 .2h1.2m-11.2 1.4h1.2" stroke="#c8c8c8" stroke-width="1.2" stroke-opacity="0.6"/><path d="M418.3 415.5h1.2m4 2.5h1.2m5.8 .4h1.2" stroke="#858585" stroke-width="1.2"/><path d="M416.9 436.1h1.1m4.7 0h1.1m7.9 0h1.1m5.3 0h1.1m-3.5 .1h1.1m-.2 0h1.1m1.1 0h1.1m-21.5 .1h1.1m-.7 0h1.1m6.4 0h1.1m-10.2 .1h1.1m-.5 0h1.1m3 0h1.1m3.5 0h1.1m2.4 .1h1.1m-12.9 .3h1.1m5.3 .1h1.1m-7.9 .1h1.1m8.9 0h1.1m-11.1 .4h1.1m7.6 .1h1.1" stroke="#7c7c7c" stroke-width="1.1"/><path d="M441.1 416.5L464.8 416.5V433H441.1z" fill="url(#g65)"/><path d="M447 416.9h1.3m4.3 0h1.3m-2.7 .1h1.3m1.6 0h1.3m-3.3 .2h1.3m-10.8 .7h1.3m2.4 0h1.3m-1.1 .4h1.3m13.1 0h1.3m.5 .5h1.3m-5.7 .5h1.3m4 .2h1.3m-9.1 .6h1.3m-7 .1h1.3m7.3 0h1.3m.3 .3h1.3m-12.7 .1h1.3m-4.4 .8h1.3m-.8 .2h1.3m-3.5 .1h1.3" stroke="#f2f2f2" stroke-width="1.3" stroke-opacity="0.75"/><path d="M451.8 416.7h1.2m-10 1.4h1.2m0 .4h1.2m.2 0h1.2m1.6 0h1.2m8.9 .1h1.2m-8.7 .6h1.2m-.9 1.4h1.2" stroke="#c8c8c8" stroke-width="1.2" stroke-opacity="0.6"/><path d="M457 414.5h1.2m-6.4 1.2h1.2m-3.7 .9h1.2" stroke="#858585" stroke-width="1.2"/><path d="M455.1 432.6h1.1m5.4 0h1.1m-21.3 .1h1.1m6.2 0h1.1m6.8 .1h1.1m-4.2 .2h1.1m-.5 0h1.1m-.2 0h1.1m-14 .1h1.1m17.1 0h1.1m-15.9 .1h1.1m16 0h1.1m0 0h1.1m-20.1 .1h1.1m12.1 0h1.1m-15.4 .1h1.1m15.1 0h1.1m-16.8 .1h1.1m4.3 0h1.1m9.5 0h1.1m.7 .7h1.1" stroke="#7c7c7c" stroke-width="1.1"/><path d="M466 416.5L489.9 416.5V434H466z" fill="url(#g66)"/><path d="M476.2 416.7h1.3m-10 .1h1.3m6.6 0h1.3m-5.7 .3h1.3m-4.7 1h1.3m10.1 0h1.3m-12 .1h1.3m4.7 .2h1.3m12.5 0h1.3m-19.2 .2h1.3m12.2 1.1h1.3m-.3 .3h1.3m-14.7 1h1.3" stroke="#f2f2f2" stroke-width="1.3" stroke-opacity="0.75"/><path d="M483 416.8h1.2m-4.8 .4h1.2m6.9 .1h1.2m-19.3 .8h1.2m1.2 .5h1.2m0 .3h1.2m-.1 .1h1.2m-5 .5h1.2m10.3 .3h1.2m4 .6h1.2m-14.9 .2h1.2m5.1 .2h1.2m-7.1 .2h1.2m-2 .4h1.2m12.8 0h1.2" stroke="#c8c8c8" stroke-width="1.2" stroke-opacity="0.6"/><path d="M477.9 411.4h1.2m8.4 4.7h1.2m-17.1 .1h1.2" stroke="#858585" stroke-width="1.2"/><path d="M475.6 433.6h1.1m7.3 0h1.1m1.6 0h1.1m-18.2 .1h1.1m3.7 0h1.1m9.8 0h1.1m-17.2 .2h1.1m-.5 0h1.1m10.7 0h1.1m2.3 0h1.1m-7.1 .1h1.1m1.3 0h1.1m2.4 0h1.1m-19 .2h1.1m13.6 0h1.1m2 0h1.1m-14.4 .1h1.1m-1.8 .1h1.1m6.3 .4h1.1m3.5 .3h1.1m2 .1h1.1" stroke="#7c7c7c" stroke-width="1.1"/><path d="M491.1 416.1L515 416.1V433H491.1z" fill="url(#g67)"/><path d="M492.6 416.3h1.3m5.9 .1h1.3m4.9 0h1.3m-6.8 .2h1.3m2.2 .3h1.3m7.8 0h1.3m-.5 .2h1.3m-11.2 .1h1.3m-11.9 .1h1.3m-2.7 .3h1.3m20.6 0h1.3m-5.4 .2h1.3m-6.9 .4h1.3m-9 .3h1.3m2.9 1.3h1.3m2.9 .1h1.3" stroke="#f2f2f2" stroke-width="1.3" stroke-opacity="0.75"/><path d="M509.9 416.7h1.2m-15.1 .1h1.2m3.8 .4h1.2m6.5 .7h1.2m-15.7 .2h1.2m5.6 .6h1.2m9.8 0h1.2m-16 .3h1.2m.6 .1h1.2m2.8 .3h1.2m2.2 1h1.2m-.4 .6h1.2" stroke="#c8c8c8" stroke-width="1.2" stroke-opacity="0.6"/><path d="M498.6 414.6h1.2m-2.6 .8h1.2m.9 0h1.2" stroke="#858585" stroke-width="1.2"/><path d="M495.8 432.7h1.1m12.3 0h1.1m-1.7 .1h1.1m-.3 0h1.1m-15.9 .1h1.1m7.2 0h1.1m2 0h1.1m-.3 0h1.1m-10.9 .1h1.1m3.4 0h1.1m2.1 0h1.1m4 0h1.1m-11.1 .2h1.1m3.4 0h1.1m5.5 0h1.1m1.4 0h1.1m-13.1 .1h1.1m-1.1 0h1.1m1.2 0h1.1m-2 .1h1.1m-.7 .3h1.1" stroke="#7c7c7c" stroke-width="1.1"/><path d="M516.2 417.2L539.6 417.2V433H516.2z" fill="url(#g68)"/><path d="M524.6 417.5h1.3m12.2 0h1.3m-19.7 .1h1.3m8 0h1.3m-4.8 .1h1.3m7.6 .2h1.3m.7 0h1.3m-1.7 .2h1.3m-13.5 .3h1.3m13.3 .4h1.3m-3.2 .6h1.3m-6.9 .5h1.3m-6.5 .1h1.3m-4.4 .5h1.3m5.3 .8h1.3" stroke="#f2f2f2" stroke-width="1.3" stroke-opacity="0.75"/><path d="M529.8 417.4h1.2m-10.1 .1h1.2m15.3 .1h1.2m-10.3 .4h1.2m1.1 .2h1.2m-8.8 .1h1.2m6.3 .6h1.2m-13.8 1.2h1.2m-2.6 .8h1.2m-.4 0h1.2m19.3 .5h1.2m-2.9 .2h1.2m-20.6 .1h1.2" stroke="#c8c8c8" stroke-width="1.2" stroke-opacity="0.6"/><path d="M517.2 416.3h1.2m17.8 .3h1.2m-17.4 .1h1.2" stroke="#858585" stroke-width="1.2"/><path d="M535.6 432.7h1.1m.3 0h1.1m-13.7 .1h1.1m1.7 0h1.1m5.2 0h1.1m2.7 0h1.1m-13.6 .1h1.1m8 0h1.1m.4 0h1.1m-4.6 .1h1.1m-5.8 .1h1.1m3.5 0h1.1m1.8 0h1.1m-16.9 .1h1.1m.2 0h1.1m9.1 0h1.1m-1.9 .1h1.1m-5.8 .2h1.1m1 0h1.1m-10 .1h1.1m4.5 .2h1.1" stroke="#7c7c7c" stroke-width="1.1"/><path d="M540.8 417L564 417V433H540.8z" fill="url(#g69)"/><path d="M541.4 417.3h1.3m.8 0h1.3m1.3 .4h1.3m8.7 .1h1.3m2.3 0h1.3m-13.2 .3h1.3m11.3 .2h1.3m-20 .7h1.3m9 .2h1.3m-11.2 .1h1.3m-1.4 .1h1.3m-1.2 .8h1.3m2 .5h1.3m11.2 .2h1.3m-6.3 .1h1.3m-6.7 .6h1.3" stroke="#f2f2f2" stroke-width="1.3" stroke-opacity="0.75"/><path d="M551.9 417.2h1.2m-9.7 .1h1.2m7.7 .1h1.2m3.2 .1h1.2m4.3 .2h1.2m-4.3 .2h1.2m-12.6 .6h1.2m3.5 1.7h1.2m6.7 0h1.2m-3.4 .5h1.2m2.3 .5h1.2" stroke="#c8c8c8" stroke-width="1.2" stroke-opacity="0.6"/><path d="M548.1 414.7h1.2m8.9 1.8h1.2m-13.1 .5h1.2" stroke="#858585" stroke-width="1.2"/><path d="M542.2 432.6h1.1m14.5 0h1.1m-13 .1h1.1m8 0h1.1m5.8 0h1.1m-1 0h1.1m-5.8 .1h1.1m-5.1 .1h1.1m.4 .1h1.1m-10 .2h1.1m13.9 .1h1.1m-.9 0h1.1m-1 0h1.1m-20.8 .1h1.1m1.1 0h1.1m10.2 0h1.1m-.8 .1h1.1m-1.3 .5h1.1m2.6 0h1.1m-10.1 .1h1.1" stroke="#7c7c7c" stroke-width="1.1"/><path d="M565.2 417L588.2 417V433H565.2z" fill="url(#g70)"/><path d="M570.6 417.2h1.3m-.1 .1h1.3m-4.6 .1h1.3m9.6 0h1.3m-1 0h1.3m-10.2 .1h1.3m-5.1 .6h1.3m-.9 0h1.3m-.8 0h1.3m4.6 .7h1.3m-3.1 .5h1.3m8.6 .6h1.3m-13.6 .1h1.3m.9 0h1.3m8.6 1.1h1.3" stroke="#f2f2f2" stroke-width="1.3" stroke-opacity="0.75"/><path d="M567.1 417.2h1.2m10.4 0h1.2m-10.4 .2h1.2m6.2 .3h1.2m-1 .3h1.2m7.9 .8h1.2m-10.5 .1h1.2m-8.7 .9h1.2m12.5 .4h1.2m-1.2 .5h1.2m-15 .1h1.2m11.3 0h1.2" stroke="#c8c8c8" stroke-width="1.2" stroke-opacity="0.6"/><path d="M583.2 415.4h1.2m-9.8 .6h1.2m.3 .4h1.2" stroke="#858585" stroke-width="1.2"/><path d="M567.4 432.6h1.1m5.7 0h1.1m.3 0h1.1m-9.8 .1h1.1m12.9 0h1.1m3.9 0h1.1m-4.9 .1h1.1m-.7 0h1.1m1.8 0h1.1m-14.2 .1h1.1m2.5 0h1.1m1.8 .1h1.1m1 0h1.1m-16.1 .1h1.1m-1.6 .1h1.1m-.4 0h1.1m17.4 0h1.1m-8.3 .1h1.1m-12.8 .3h1.1m6.2 0h1.1" stroke="#7c7c7c" stroke-width="1.1"/><path d="M589.4 417.5L613.8 417.5V433H589.4z" fill="url(#g71)"/><path d="M602.8 418.2h1.3m-3.8 .3h1.3m4.5 .1h1.3m.9 .1h1.3m-14.9 .1h1.3m3.7 .6h1.3m5.8 .2h1.3m-15.3 .5h1.3m9.8 .1h1.3m-8.4 .3h1.3m.7 .2h1.3m10.2 .1h1.3m-13.9 .8h1.3m-.4 .1h1.3" stroke="#f2f2f2" stroke-width="1.3" stroke-opacity="0.75"/><path d="M608.9 417.7h1.2m2.1 0h1.2m-1 0h1.2m-9.5 .1h1.2m-14.5 .1h1.2m13.2 0h1.2m-15.4 .3h1.2m6 .2h1.2m5.3 .1h1.2m-15.5 .1h1.2m19.6 2.1h1.2m-13.9 .1h1.2m3.7 0h1.2m1.2 0h1.2m-3.2 .4h1.2" stroke="#c8c8c8" stroke-width="1.2" stroke-opacity="0.6"/><path d="M599.3 415h1.2m5.7 2.1h1.2m-2.7 .5h1.2" stroke="#858585" stroke-width="1.2"/><path d="M599.7 432.7h1.1m6.7 0h1.1m-.3 0h1.1m-17 .1h1.1m8.4 0h1.1m-.4 0h1.1m0 0h1.1m2.5 0h1.1m-17.8 .1h1.1m-.8 0h1.1m3.1 0h1.1m10.7 0h1.1m-11.9 .1h1.1m3.6 0h1.1m7.3 .1h1.1m-12.1 .1h1.1m2.8 0h1.1m-7.1 .3h1.1m10 0h1.1m3 0h1.1m-13.8 .3h1.1" stroke="#7c7c7c" stroke-width="1.1"/><path d="M615 417L638 417V433H615z" fill="url(#g72)"/><path d="M627.6 417.3h1.3m3.2 .4h1.3m-.2 0h1.3m-14.1 .1h1.3m6.3 .1h1.3m2.2 0h1.3m-2.4 .1h1.3m-14.5 .6h1.3m-3.3 .2h1.3m14.1 .1h1.3m-11 .5h1.3m-5.1 .3h1.3m.4 0h1.3m2.6 1.8h1.3" stroke="#f2f2f2" stroke-width="1.3" stroke-opacity="0.75"/><path d="M617 417.2h1.2m17.7 0h1.2m-7.1 .1h1.2m-5.3 .1h1.2m4.6 1.2h1.2m-10.6 .1h1.2m6.3 0h1.2m2.8 .1h1.2m.2 .2h1.2m-10.7 .6h1.2m2.2 .5h1.2m-10.6 .5h1.2m-4.7 .1h1.2" stroke="#c8c8c8" stroke-width="1.2" stroke-opacity="0.6"/><path d="M619.2 415.6h1.2m15.3 .8h1.2m-10.4 .4h1.2" stroke="#858585" stroke-width="1.2"/><path d="M623.7 432.6h1.1m-4.3 .1h1.1m.9 0h1.1m3.1 0h1.1m4.1 0h1.1m.8 0h1.1m.1 0h1.1m.9 0h1.1m-21.5 .2h1.1m8.4 0h1.1m2.8 0h1.1m-14.4 .1h1.1m1.4 0h1.1m.8 0h1.1m12.5 .1h1.1m-2 .1h1.1m-17.5 .2h1.1m8.3 0h1.1m3.1 0h1.1m-8.8 .5h1.1" stroke="#7c7c7c" stroke-width="1.1"/><path d="M639.2 417L661.8 417V433H639.2z" fill="url(#g73)"/><path d="M655 417.3h1.3m-3.7 .4h1.3m-13.3 .2h1.3m7.6 0h1.3m-10.3 .1h1.3m1.6 .9h1.3m-5.3 .4h1.3m1.4 .1h1.3m10.8 .1h1.3m-12.1 .9h1.3" stroke="#f2f2f2" stroke-width="1.3" stroke-opacity="0.75"/><path d="M658.7 417.2h1.2m-2.7 .1h1.2m-6 .1h1.2m5.2 0h1.2m-9.7 .1h1.2m-1.3 .2h1.2m1.9 0h1.2m-15 .1h1.2m1.9 .3h1.2m14.1 0h1.2m0 .1h1.2m-1.4 .3h1.2m-20.7 .2h1.2m5.5 .2h1.2m-4.9 .5h1.2m15.1 .5h1.2m-.2 1.4h1.2" stroke="#c8c8c8" stroke-width="1.2" stroke-opacity="0.6"/><path d="M651.5 414h1.2m-.5 2.2h1.2m-1.3 .5h1.2" stroke="#858585" stroke-width="1.2"/><path d="M646.5 432.6h1.1m8.1 0h1.1m-2.5 .1h1.1m1.5 0h1.1m-17.1 .1h1.1m2.4 0h1.1m.8 .1h1.1m1 0h1.1m-8.9 .2h1.1m18.6 0h1.1m-16.1 .1h1.1m5.3 0h1.1m4.3 0h1.1m1.6 0h1.1m-12.6 .1h1.1m-1.1 .1h1.1m8.9 .1h1.1m-15 .2h1.1m-3.8 .1h1.1m13.4 .1h1.1" stroke="#7c7c7c" stroke-width="1.1"/><path d="M414.8 379.5h1.4m190.6 25h1.4" stroke="#8a8a8a" stroke-width="1.4"/><path d="M470.5 332.7h1.6m19.1 0h1.6m-28.5 .7h1.6m11.3 .7h1.6m-9.7 .4h1.6m-61.7 .3h1.6m54.5 .2h1.6m64.3 0h1.6m-120.9 .4h1.6m168.3 0h1.6m-117.7 .1h1.6m-51 .2h1.6m43.6 .7h1.6m-48.8 .2h1.6m28.9 .1h1.6m-50.4 .8h1.6m14 .2h1.6m101.1 0h1.6m13.1 0h1.6m-118.1 .1h1.6m56.6 .3h1.6m24.9 0h1.6m-95.3 .6h1.6m-1.3 .1h1.6m137.7 0h1.6m-59.6 .2h1.6m-93.7 .9h1.6m86.9 0h1.6m21.3 0h1.6m-85.8 .6h1.6m1.1 0h1.6m3.5 .1h1.6m21.8 0h1.6m11.8 0h1.6m-38.7 .2h1.6m-28.5 .2h1.6m42.7 .2h1.6m-17.6 .1h1.6m39.5 0h1.6m22.2 0h1.6m-91.8 .1h1.6m13.6 0h1.6m-18.8 .4h1.6m34.5 0h1.6m-39 .2h1.6m.2 0h1.6m0 0h1.6m30.9 .1h1.6m40.3 .1h1.6m33.9 0h1.6m-118.2 .1h1.6m-5.2 .1h1.6m47.5 0h1.6m-52.2 .2h1.6m20.8 0h1.6m60.4 0h1.6m-68.7 .2h1.6m-11.7 .1h1.6m54 .1h1.6m-56.4 .1h1.6m-.3 .4h1.6m35.8 .1h1.6m12.7 0h1.6m-44.6 .2h1.6m10.6 0h1.6m37.9 .1h1.6m-71.6 .5h1.6m106.5 0h1.6m-97.1 .2h1.6m18.5 0h1.6m-.2 .1h1.6m24.5 .1h1.6m48.1 .1h1.6m-96.5 .1h1.6m-16.5 .3h1.6m12.1 0h1.6m5.6 0h1.6m20.2 .1h1.6m-21.1 .2h1.6m41.5 .1h1.6m-52.1 .2h1.6m-13.6 .3h1.6m38.6 0h1.6m36.3 0h1.6m-45 .1h1.6m-19.2 .1h1.6m-22 .1h1.6m-1 0h1.6m14 0h1.6m-3.4 .5h1.6m-4.6 1.6h1.6m-4 .6h1.6m31.3 .1h1.6m2.9 .3h1.6m-6 .3h1.6m192.9 .1h1.6m-201.6 .2h1.6m-.8 1h1.6m159 .6h1.6m-185.8 8.4h1.6" stroke="#2468a8" stroke-width="1.6"/><path d="M391.4 312.8V451.9" stroke="#454545" stroke-width="1.0"/><path d="M415.1 312.8V451.9" stroke="#454545" stroke-width="1.0"/><path d="M440.5 312.8V451.9" stroke="#454545" stroke-width="1.0"/><path d="M465.4 312.8V451.9" stroke="#454545" stroke-width="1.0"/><path d="M490.5 312.8V451.9" stroke="#454545" stroke-width="1.0"/><path d="M515.6 312.8V451.9" stroke="#454545" stroke-width="1.0"/><path d="M540.2 312.8V451.9" stroke="#454545" stroke-width="1.0"/><path d="M564.6 312.8V451.9" stroke="#454545" stroke-width="1.0"/><path d="M588.8 312.8V451.9" stroke="#454545" stroke-width="1.0"/><path d="M614.4 312.8V451.9" stroke="#454545" stroke-width="1.0"/><path d="M638.6 312.8V451.9" stroke="#454545" stroke-width="1.0"/><path d="M366.6 312.8V451.9" stroke="#5e5e5e" stroke-width="1.2"/><path d="M662.4 312.8V451.9" stroke="#6e6e6e" stroke-width="1"/><path d="M366.6 312.8H662.4" stroke="#727272" stroke-width="1.4"/><path d="M363.6 451.9H662.4" stroke="#8a8a8a" stroke-width="1.2"/><path d="M366.6 391.6H662.4" stroke="#e040e0" stroke-width="1.6"/></g><text x="172" y="12.3" font-size="12.5" text-anchor="middle" fill="#111">a. Annealing temperature gradient</text><text x="513.2" y="12.3" font-size="12.5" text-anchor="middle" fill="#111">b. Primer matrix forward/reverse (nM)</text><text x="172.8" y="249.3" font-size="12.5" text-anchor="middle" fill="#111">c. Probe concentration (nM)</text><text x="500.2" y="300.2" font-size="12.5" text-anchor="middle" fill="#111">d. Dilution step (copies/PCR)</text><text transform="translate(9.9 123.3) rotate(-90)" font-size="12.5" text-anchor="middle" fill="#111">Amplitude</text><text transform="translate(338.7 117) rotate(-90)" font-size="12.5" text-anchor="middle" fill="#111">Amplitude</text><text transform="translate(8.9 355) rotate(-90)" font-size="12.5" text-anchor="middle" fill="#111">Amplitude</text><text transform="translate(325.4 381) rotate(-90)" font-size="11.5" text-anchor="middle" fill="#111">Amplitude</text><text x="38" y="197.7" font-size="6.8" text-anchor="end" fill="#111" stroke="#111" stroke-width="0.22">1000</text><text x="38" y="176.9" font-size="6.8" text-anchor="end" fill="#111" stroke="#111" stroke-width="0.22">2000</text><text x="38" y="156.1" font-size="6.8" text-anchor="end" fill="#111" stroke="#111" stroke-width="0.22">3000</text><text x="38" y="135.3" font-size="6.8" text-anchor="end" fill="#111" stroke="#111" stroke-width="0.22">4000</text><text x="38" y="114.5" font-size="6.8" text-anchor="end" fill="#111" stroke="#111" stroke-width="0.22">5000</text><text x="38" y="93.7" font-size="6.8" text-anchor="end" fill="#111" stroke="#111" stroke-width="0.22">6000</text><text x="38" y="72.9" font-size="6.8" text-anchor="end" fill="#111" stroke="#111" stroke-width="0.22">7000</text><text x="38" y="52.1" font-size="6.8" text-anchor="end" fill="#111" stroke="#111" stroke-width="0.22">8000</text><text x="38" y="31.3" font-size="6.8" text-anchor="end" fill="#111" stroke="#111" stroke-width="0.22">9000</text><text x="363.5" y="212.4" font-size="7" text-anchor="end" fill="#111" stroke="#111" stroke-width="0.22">1000</text><text x="363.5" y="192.2" font-size="7" text-anchor="end" fill="#111" stroke="#111" stroke-width="0.22">2000</text><text x="363.5" y="172.1" font-size="7" text-anchor="end" fill="#111" stroke="#111" stroke-width="0.22">3000</text><text x="363.5" y="151.9" font-size="7" text-anchor="end" fill="#111" stroke="#111" stroke-width="0.22">4000</text><text x="363.5" y="131.7" font-size="7" text-anchor="end" fill="#111" stroke="#111" stroke-width="0.22">5000</text><text x="363.5" y="111.6" font-size="7" text-anchor="end" fill="#111" stroke="#111" stroke-width="0.22">6000</text><text x="363.5" y="91.4" font-size="7" text-anchor="end" fill="#111" stroke="#111" stroke-width="0.22">7000</text><text x="363.5" y="71.2" font-size="7" text-anchor="end" fill="#111" stroke="#111" stroke-width="0.22">8000</text><text x="363.5" y="51.1" font-size="7" text-anchor="end" fill="#111" stroke="#111" stroke-width="0.22">9000</text><text x="363.5" y="30.9" font-size="7" text-anchor="end" fill="#111" stroke="#111" stroke-width="0.22">10000</text><text x="39.2" y="453.2" font-size="6.6" text-anchor="end" fill="#111" stroke="#111" stroke-width="0.22">0</text><text x="39.2" y="406.7" font-size="6.6" text-anchor="end" fill="#111" stroke="#111" stroke-width="0.22">5000</text><text x="39.2" y="360.2" font-size="6.6" text-anchor="end" fill="#111" stroke="#111" stroke-width="0.22">10000</text><text x="39.2" y="313.7" font-size="6.6" text-anchor="end" fill="#111" stroke="#111" stroke-width="0.22">15000</text><text x="39.2" y="267.2" font-size="6.6" text-anchor="end" fill="#111" stroke="#111" stroke-width="0.22">20000</text><text x="356.2" y="454.6" font-size="7.5" text-anchor="end" fill="#111" stroke="#111" stroke-width="0.22">1000</text><text x="356.2" y="431.4" font-size="7.5" text-anchor="end" fill="#111" stroke="#111" stroke-width="0.22">2000</text><text x="356.2" y="408.2" font-size="7.5" text-anchor="end" fill="#111" stroke="#111" stroke-width="0.22">3000</text><text x="356.2" y="385.1" font-size="7.5" text-anchor="end" fill="#111" stroke="#111" stroke-width="0.22">4000</text><text x="356.2" y="361.9" font-size="7.5" text-anchor="end" fill="#111" stroke="#111" stroke-width="0.22">5000</text><text x="356.2" y="338.7" font-size="7.5" text-anchor="end" fill="#111" stroke="#111" stroke-width="0.22">6000</text><text x="356.2" y="315.5" font-size="7.5" text-anchor="end" fill="#111" stroke="#111" stroke-width="0.22">7000</text><text x="64.7" y="212.6" font-size="10.5" text-anchor="middle" fill="#111">NTC</text><text x="105.8" y="212.6" font-size="10.5" text-anchor="middle" fill="#111">54 °C</text><text x="144.5" y="212.6" font-size="10.5" text-anchor="middle" fill="#111">56 °C</text><text x="184.4" y="212.6" font-size="10.5" text-anchor="middle" fill="#111">58 °C</text><text x="223.5" y="212.6" font-size="10.5" text-anchor="middle" fill="#111">60 °C</text><text x="261.9" y="212.6" font-size="10.5" text-anchor="middle" fill="#111">62 °C</text><text x="297.5" y="212.6" font-size="10.5" text-anchor="middle" fill="#111">64 °C</text><text x="60" y="468.2" font-size="10" text-anchor="middle" fill="#111">NTC</text><text x="95.3" y="474" font-size="10" text-anchor="middle" fill="#111">50</text><text x="125.3" y="474" font-size="10" text-anchor="middle" fill="#111">100</text><text x="158.6" y="473.2" font-size="10" text-anchor="middle" fill="#111">200</text><text x="189" y="472.4" font-size="10" text-anchor="middle" fill="#111">300</text><text x="218.2" y="472.6" font-size="10" text-anchor="middle" fill="#111">400</text><text x="249.9" y="472.4" font-size="10" text-anchor="middle" fill="#111">500</text><text x="283.5" y="472" font-size="10" text-anchor="middle" fill="#111">600</text><text x="383.8" y="470.7" font-size="10" text-anchor="middle" fill="#111">NTC</text><text x="408.5" y="470.7" font-size="10" text-anchor="middle" fill="#111">128</text><text x="432.2" y="470.7" font-size="10" text-anchor="middle" fill="#111">64</text><text x="457.4" y="470.7" font-size="10" text-anchor="middle" fill="#111">32</text><text x="482.5" y="470.7" font-size="10" text-anchor="middle" fill="#111">16</text><text x="507" y="470.7" font-size="10" text-anchor="middle" fill="#111">8</text><text x="531.2" y="470.7" font-size="10" text-anchor="middle" fill="#111">4</text><text x="556.5" y="470.7" font-size="10" text-anchor="middle" fill="#111">2</text><text x="580.3" y="470.7" font-size="10" text-anchor="middle" fill="#111">1</text><text x="606.7" y="470.7" font-size="10" text-anchor="middle" fill="#111">0.5</text><text x="630.1" y="470.7" font-size="10" text-anchor="middle" fill="#111">0.25</text><text x="653.2" y="470.7" font-size="10" text-anchor="middle" fill="#111">0.125</text><path d="M379.5 206V215.8" stroke="#111" stroke-width="1.3"/><text transform="translate(383.09 220.24) rotate(-49.0)" font-size="10" text-anchor="end" fill="#111">NTC</text><path d="M394 206V215.8" stroke="#111" stroke-width="1.3"/><text transform="translate(400.74 220.56) rotate(-49.0)" font-size="10" text-anchor="end" fill="#111">300/300</text><path d="M411.4 206V215.8" stroke="#111" stroke-width="1.3"/><text transform="translate(418.27 220.64) rotate(-49.0)" font-size="10" text-anchor="end" fill="#111">300/600</text><path d="M428.9 206V215.8" stroke="#111" stroke-width="1.3"/><text transform="translate(435.89 220.71) rotate(-49.0)" font-size="10" text-anchor="end" fill="#111">300/900</text><path d="M446.3 206V215.8" stroke="#111" stroke-width="1.3"/><text transform="translate(453.42 220.79) rotate(-49.0)" font-size="10" text-anchor="end" fill="#111">300/1200</text><path d="M463.6 206V215.8" stroke="#111" stroke-width="1.3"/><text transform="translate(470.84 220.86) rotate(-49.0)" font-size="10" text-anchor="end" fill="#111">600/300</text><path d="M480.3 206V215.8" stroke="#111" stroke-width="1.3"/><text transform="translate(487.67 220.94) rotate(-49.0)" font-size="10" text-anchor="end" fill="#111">600/600</text><path d="M496.4 206V215.8" stroke="#111" stroke-width="1.3"/><text transform="translate(503.94 221.01) rotate(-49.0)" font-size="10" text-anchor="end" fill="#111">600/900</text><path d="M513.2 206V215.8" stroke="#111" stroke-width="1.3"/><text transform="translate(520.87 221.09) rotate(-49.0)" font-size="10" text-anchor="end" fill="#111">600/1200</text><path d="M531 206V215.8" stroke="#111" stroke-width="1.3"/><text transform="translate(538.69 221.16) rotate(-49.0)" font-size="10" text-anchor="end" fill="#111">900/300</text><path d="M548.5 206V215.8" stroke="#111" stroke-width="1.3"/><text transform="translate(556.37 221.24) rotate(-49.0)" font-size="10" text-anchor="end" fill="#111">900/600</text><path d="M565.5 206V215.8" stroke="#111" stroke-width="1.3"/><text transform="translate(573.44 221.31) rotate(-49.0)" font-size="10" text-anchor="end" fill="#111">900/900</text><path d="M582.4 206V215.8" stroke="#111" stroke-width="1.3"/><text transform="translate(590.52 221.39) rotate(-49.0)" font-size="10" text-anchor="end" fill="#111">900/1200</text><path d="M599.4 206V215.8" stroke="#111" stroke-width="1.3"/><text transform="translate(607.59 221.46) rotate(-49.0)" font-size="10" text-anchor="end" fill="#111">1200/300</text><path d="M615.2 206V215.8" stroke="#111" stroke-width="1.3"/><text transform="translate(623.62 221.54) rotate(-49.0)" font-size="10" text-anchor="end" fill="#111">1200/600</text><path d="M630.8 206V215.8" stroke="#111" stroke-width="1.3"/><text transform="translate(639.29 221.61) rotate(-49.0)" font-size="10" text-anchor="end" fill="#111">1200/900</text><path d="M646.3 206V215.8" stroke="#111" stroke-width="1.3"/><text transform="translate(654.92 221.69) rotate(-49.0)" font-size="10" text-anchor="end" fill="#111">1200/1200</text></svg></body></html>
